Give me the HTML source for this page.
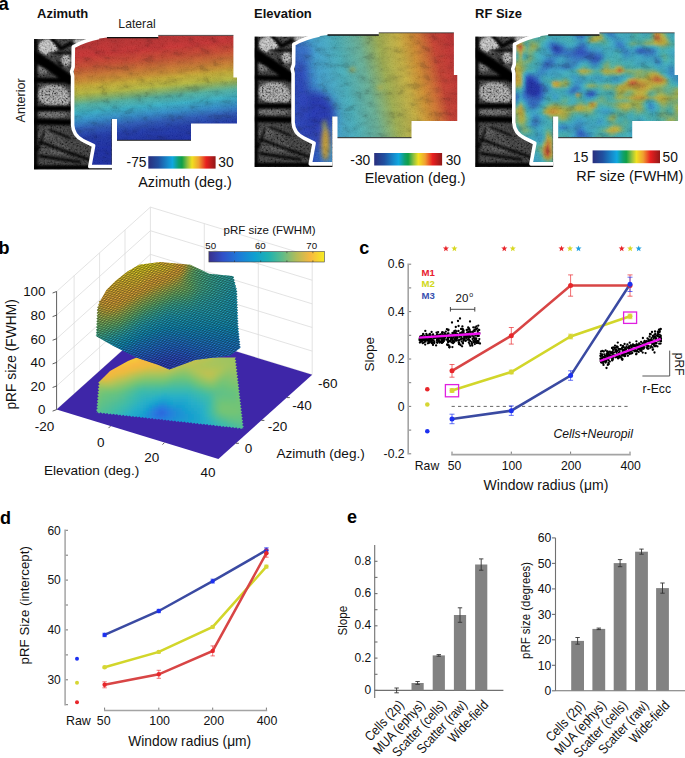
<!DOCTYPE html>
<html><head><meta charset="utf-8"><style>html,body{margin:0;padding:0;background:#fff;width:685px;height:758px;overflow:hidden}svg{display:block}.cells rect{width:3.5px;height:3.5px}</style></head>
<body><svg width="685" height="758" viewBox="0 0 685 758" font-family='"Liberation Sans", sans-serif'><defs><linearGradient id="jet" gradientUnits="objectBoundingBox" x1="0" y1="0" x2="1" y2="0"><stop offset="0.0" stop-color="#2a2f7e"/><stop offset="0.15" stop-color="#2050a0"/><stop offset="0.3" stop-color="#1590d0"/><stop offset="0.36" stop-color="#10a8e0"/><stop offset="0.45" stop-color="#10a070"/><stop offset="0.5" stop-color="#10a048"/><stop offset="0.58" stop-color="#90c040"/><stop offset="0.65" stop-color="#f0e020"/><stop offset="0.75" stop-color="#f0a030"/><stop offset="0.86" stop-color="#e82020"/><stop offset="1.0" stop-color="#901818"/></linearGradient><linearGradient id="parula" gradientUnits="objectBoundingBox" x1="0" y1="0" x2="1" y2="0"><stop offset="0.0" stop-color="#38308c"/><stop offset="0.12" stop-color="#3050c8"/><stop offset="0.25" stop-color="#1f78d8"/><stop offset="0.4" stop-color="#0ea0d0"/><stop offset="0.52" stop-color="#20b2b0"/><stop offset="0.64" stop-color="#60bc88"/><stop offset="0.76" stop-color="#b4bc58"/><stop offset="0.88" stop-color="#f8b840"/><stop offset="1.0" stop-color="#f6ec22"/></linearGradient><clipPath id="cpoly"><polygon points="74.5,47.2 80,44.4 88,41.4 96,39 107,37.6 158.3,37.6 158.3,35.4 233.4,35.4 233.4,77.5 237,77.5 237,123.5 191,123.5 191,140 117,140 117,119 111.5,119 111.5,165.2 91,165.2 94.5,147 88,143.5 80,139 75.5,133 74,126 74,70"/></clipPath><clipPath id="cgray"><rect x="34" y="39" width="78" height="130.5"/></clipPath><filter id="blur2" x="-20%" y="-20%" width="140%" height="140%"><feGaussianBlur stdDeviation="2"/></filter><filter id="blur1" x="-20%" y="-20%" width="140%" height="140%"><feGaussianBlur stdDeviation="1"/></filter><filter id="blur4" x="-30%" y="-30%" width="160%" height="160%"><feGaussianBlur stdDeviation="4"/></filter><filter id="veins" x="0" y="0" width="100%" height="100%"><feTurbulence type="fractalNoise" baseFrequency="0.09 0.14" numOctaves="3" seed="8"/><feColorMatrix type="matrix" values="2.2 0 0 0 -0.6  2.2 0 0 0 -0.6  2.2 0 0 0 -0.6  0 0 0 0 1"/></filter><filter id="noise2" x="0" y="0" width="100%" height="100%"><feTurbulence type="fractalNoise" baseFrequency="0.55" numOctaves="2" seed="5"/><feColorMatrix type="matrix" values="2 0 0 0 -0.5  2 0 0 0 -0.5  2 0 0 0 -0.5  0 0 0 0 1"/><feGaussianBlur stdDeviation="0.35"/></filter><filter id="noise" x="0" y="0" width="100%" height="100%"><feTurbulence type="fractalNoise" baseFrequency="0.8" numOctaves="2" seed="3"/><feColorMatrix type="matrix" values="2 0 0 0 -0.5  2 0 0 0 -0.5  2 0 0 0 -0.5  0 0 0 0 0.16"/></filter><linearGradient id="g_az" gradientUnits="userSpaceOnUse" x1="150" y1="35" x2="160.9" y2="143.9"><stop offset="0" stop-color="#b83030"/><stop offset="0.127" stop-color="#c83232"/><stop offset="0.218" stop-color="#c84a30"/><stop offset="0.3" stop-color="#c87030"/><stop offset="0.36" stop-color="#c88c30"/><stop offset="0.405" stop-color="#c8ac34"/><stop offset="0.473" stop-color="#b4b840"/><stop offset="0.523" stop-color="#80b068"/><stop offset="0.573" stop-color="#50b0a0"/><stop offset="0.645" stop-color="#38b0c8"/><stop offset="0.723" stop-color="#3088c8"/><stop offset="0.79" stop-color="#2a58b8"/><stop offset="0.864" stop-color="#1e38aa"/><stop offset="0.98" stop-color="#1a2ca6"/></linearGradient><linearGradient id="g_el" gradientUnits="userSpaceOnUse" x1="75.5" y1="82.6" x2="229.7" y2="47.9"><stop offset="0" stop-color="#2850c0"/><stop offset="0.15" stop-color="#40a0d0"/><stop offset="0.3" stop-color="#48b0bc"/><stop offset="0.44" stop-color="#68b094"/><stop offset="0.56" stop-color="#a0b050"/><stop offset="0.685" stop-color="#c8b040"/><stop offset="0.765" stop-color="#d09030"/><stop offset="0.83" stop-color="#d07030"/><stop offset="0.9" stop-color="#c84030"/><stop offset="1" stop-color="#c03030"/></linearGradient><clipPath id="cfp"><polygon points="98.2,382.7 104,377 110,371 118,366.4 128,361 136.7,357.5 236,357.5 236.0,357.5 234.6,359.2 236.3,360.5 234.9,362.2 236.7,363.5 235.3,365.2 237.0,366.5 235.6,368.2 237.4,369.5 235.9,371.2 237.7,372.5 236.3,374.2 238.1,375.5 236.6,377.2 238.4,378.5 237.0,380.2 238.7,381.5 237.3,383.1 239.1,384.5 237.7,386.1 239.4,387.5 238.0,389.1 239.8,390.5 238.3,392.1 240.1,393.4 238.7,395.1 240.4,396.4 239.0,398.1 240.8,399.4 239.4,401.1 241.1,402.4 239.7,404.1 241.5,405.4 240.0,407.1 241.8,408.4 240.4,410.1 242.1,411.4 240.7,413.1 242.5,414.4 241.1,416.1 242.8,417.4 241.4,419.1 243.2,420.4 241.8,422.1 243.5,423.4 242.1,425.1 243.9,426.4 242.4,428.1 244.2,429.4 244.2,429.4 242.7,428.0 241.0,429.0 239.5,427.7 237.7,428.7 236.3,427.3 234.5,428.3 233.0,427.0 231.3,428.0 229.8,426.6 228.1,427.6 226.6,426.2 224.8,427.3 223.4,425.9 221.6,426.9 220.1,425.5 218.4,426.5 216.9,425.2 215.2,426.2 213.7,424.8 211.9,425.8 210.5,424.5 208.7,425.5 207.2,424.1 205.5,425.1 204.0,423.8 202.3,424.8 200.8,423.4 199.0,424.4 197.6,423.0 195.8,424.1 194.3,422.7 192.6,423.7 191.1,422.3 189.4,423.3 187.9,422.0 186.1,423.0 184.6,421.6 182.9,422.6 181.4,421.3 179.7,422.3 178.2,420.9 176.5,421.9 175.0,420.5 173.2,421.6 171.7,420.2 170.0,421.2 168.5,419.8 166.8,420.8 165.3,419.5 163.5,420.5 162.1,419.1 160.3,420.1 158.8,418.8 157.1,419.8 155.6,418.4 153.9,419.4 152.4,418.0 150.6,419.1 149.2,417.7 147.4,418.7 145.9,417.3 144.2,418.3 142.7,417.0 141.0,418.0 139.5,416.6 137.7,417.6 136.3,416.3 134.5,417.3 133.0,415.9 131.3,416.9 129.8,415.6 128.1,416.6 126.6,415.2 124.8,416.2 123.4,414.8 121.6,415.9 120.1,414.5 118.4,415.5 116.9,414.1 115.2,415.1 113.7,413.8 111.9,414.8 110.4,413.4 108.7,414.4 107.2,413.1 105.5,414.1 104.0,412.7 102.3,413.7 100.8,412.3 99.0,413.4 97.5,412.0 95.8,413.0 97.5,411.6 96.0,410.0 97.8,408.6 96.3,406.9 98.0,405.6 96.5,403.9 98.2,402.5 96.8,400.9 98.5,399.5 97.0,397.9 98.7,396.5 97.2,394.8 99.0,393.4 97.5,391.8 99.2,390.4 97.7,388.8 99.4,387.4 98.0,385.7 99.7,384.3"/></clipPath><clipPath id="csurf"><polygon points="97.0,336.8 95.7,335.3 97.1,334.0 95.8,332.5 97.2,331.2 95.9,329.7 97.4,328.4 96.0,326.9 97.5,325.6 96.1,324.1 97.6,322.8 96.3,321.3 97.7,319.9 96.4,318.5 97.8,317.1 96.5,315.7 98.0,314.3 96.6,312.9 98.1,311.5 96.7,310.0 98.2,308.7 97.2,307.0 99.0,306.0 98.0,304.2 99.7,303.2 98.8,301.5 100.5,300.5 106.4,290 115.7,280.7 127.4,271.4 139,264.8 160,262 190.4,264.8 209.1,273.7 232.5,276 232.5,276.0 234.0,277.1 233.2,278.8 234.7,279.9 233.9,281.6 235.4,282.7 234.6,284.4 236.1,285.5 235.3,287.2 236.8,288.3 236.0,290.0 237.4,291.3 236.1,292.7 237.5,294.0 236.2,295.4 237.6,296.7 236.3,298.1 237.7,299.4 236.4,300.8 237.8,302.1 236.5,303.5 237.9,304.8 236.6,306.2 238.0,307.5 236.6,308.8 238.1,310.1 236.7,311.5 238.2,312.8 236.8,314.2 238.3,315.5 236.9,316.9 238.4,318.2 237.0,319.6 238.5,320.9 237.1,322.3 238.6,323.6 237.2,325.0 238.7,326.2 237.5,327.6 239.0,328.8 237.7,330.2 239.2,331.4 238.0,332.8 239.5,334.0 238.2,335.4 239.7,336.6 238.5,338.0 240.0,339.2 238.7,340.6 240.3,341.8 239.0,343.2 240.5,344.4 239.2,345.8 240.8,347.0 239.5,348.4 230.2,355.4 195.1,360.1 169.4,369.5 157.7,364.8 136.7,357.8 113.4,346.1"/></clipPath><linearGradient id="g_surf" gradientUnits="userSpaceOnUse" x1="120" y1="275" x2="190" y2="362"><stop offset="0" stop-color="#f8c830"/><stop offset="0.2" stop-color="#e4c838"/><stop offset="0.35" stop-color="#90c050"/><stop offset="0.5" stop-color="#38b888"/><stop offset="0.65" stop-color="#10a8c0"/><stop offset="0.8" stop-color="#1890e0"/><stop offset="1" stop-color="#2868e0"/></linearGradient><pattern id="mesh" patternUnits="userSpaceOnUse" width="10" height="10" patternTransform="matrix(0.1858 -0.1672 0.2391 0.0731 0 0)"><path d="M0,0 L10,0 M0,0 L0,10 M0,10 L10,10 M10,0 L10,10" stroke="#000" stroke-width="2.3" stroke-opacity="0.8"/></pattern></defs><rect width="685" height="758" fill="#fff"/><g transform="translate(0,0)"><g clip-path="url(#cgray)"><rect x="34" y="39" width="78" height="131" fill="#363636"/><g filter="url(#blur1)"><ellipse cx="48" cy="47" rx="9.5" ry="7.5" fill="#a8a8a8"/><ellipse cx="66" cy="60" rx="4.5" ry="6" fill="#8a8a8a"/><ellipse cx="42" cy="69" rx="7" ry="4.5" fill="#5e5e5e"/><ellipse cx="53" cy="95" rx="16" ry="10.5" fill="#7c7c7c"/><ellipse cx="52" cy="114.5" rx="16" ry="3.5" fill="#555"/><ellipse cx="50" cy="142" rx="14" ry="14" fill="#3c3c3c"/><ellipse cx="64" cy="99" rx="6" ry="7" fill="#808080"/><ellipse cx="82" cy="41.5" rx="9" ry="2" fill="#b8b8b8"/><ellipse cx="60" cy="150" rx="10" ry="5" fill="#444"/><ellipse cx="45" cy="135" rx="8" ry="3" fill="#4a4a4a"/></g><g filter="url(#blur1)" stroke="#050505" fill="none" stroke-linecap="round"><path d="M34,56 L50,66 L70,80" stroke-width="10"/><path d="M52,39 L61.3,48.6 L71.5,43" stroke-width="3.5"/><path d="M49,53 L72,53" stroke-width="2.2"/><path d="M34,80 L70,81" stroke-width="5"/><path d="M34,108.5 L72,108.5" stroke-width="5"/><path d="M34,121.5 L74,122.5" stroke-width="6"/><path d="M40,142 L62,150 L90,160" stroke-width="2.5"/><path d="M35.5,40 L35.5,170" stroke-width="4"/><path d="M34,167.5 L112,167.5" stroke-width="4.5"/><path d="M50,130 L70,138" stroke-width="2"/><path d="M40,156 L80,162" stroke-width="2.5"/><path d="M44,132 L38,150" stroke-width="2"/><path d="M58,62 L62,66" stroke-width="2"/></g><rect x="34" y="39" width="78" height="131" filter="url(#noise2)" style="mix-blend-mode:overlay" opacity="0.5"/></g></g>
<g transform="translate(0,0)"><g clip-path="url(#cpoly)"><rect x="60" y="30" width="185" height="140" fill="url(#g_az)"/><rect x="60" y="30" width="185" height="140" filter="url(#veins)" opacity="0.16" style="mix-blend-mode:multiply"/><rect x="60" y="30" width="185" height="140" filter="url(#noise)" opacity="0.35"/></g><path d="M107,37.6 L158.3,37.6" stroke="#111" stroke-width="1.4"/><path d="M158.3,35.4 L233.4,35.4" stroke="#333" stroke-width="0.8"/><path d="M117,140.3 L191,140.3" stroke="#222" stroke-width="1"/><path d="M99,37.6 C91,39 81,42.5 73.3,46.8 L73.1,67 L71.6,71.5 L72.6,76 L72.6,125 C73,132 77,137.5 83,140.5 L93.6,145.7 L89.8,166.5 L112,166.5" stroke="#fff" stroke-width="3.6" fill="none" stroke-linejoin="round"/></g>
<g transform="translate(220.5,-2.6)"><g clip-path="url(#cgray)"><rect x="34" y="39" width="78" height="131" fill="#363636"/><g filter="url(#blur1)"><ellipse cx="48" cy="47" rx="9.5" ry="7.5" fill="#a8a8a8"/><ellipse cx="66" cy="60" rx="4.5" ry="6" fill="#8a8a8a"/><ellipse cx="42" cy="69" rx="7" ry="4.5" fill="#5e5e5e"/><ellipse cx="53" cy="95" rx="16" ry="10.5" fill="#7c7c7c"/><ellipse cx="52" cy="114.5" rx="16" ry="3.5" fill="#555"/><ellipse cx="50" cy="142" rx="14" ry="14" fill="#3c3c3c"/><ellipse cx="64" cy="99" rx="6" ry="7" fill="#808080"/><ellipse cx="82" cy="41.5" rx="9" ry="2" fill="#b8b8b8"/><ellipse cx="60" cy="150" rx="10" ry="5" fill="#444"/><ellipse cx="45" cy="135" rx="8" ry="3" fill="#4a4a4a"/></g><g filter="url(#blur1)" stroke="#050505" fill="none" stroke-linecap="round"><path d="M34,56 L50,66 L70,80" stroke-width="10"/><path d="M52,39 L61.3,48.6 L71.5,43" stroke-width="3.5"/><path d="M49,53 L72,53" stroke-width="2.2"/><path d="M34,80 L70,81" stroke-width="5"/><path d="M34,108.5 L72,108.5" stroke-width="5"/><path d="M34,121.5 L74,122.5" stroke-width="6"/><path d="M40,142 L62,150 L90,160" stroke-width="2.5"/><path d="M35.5,40 L35.5,170" stroke-width="4"/><path d="M34,167.5 L112,167.5" stroke-width="4.5"/><path d="M50,130 L70,138" stroke-width="2"/><path d="M40,156 L80,162" stroke-width="2.5"/><path d="M44,132 L38,150" stroke-width="2"/><path d="M58,62 L62,66" stroke-width="2"/></g><rect x="34" y="39" width="78" height="131" filter="url(#noise2)" style="mix-blend-mode:overlay" opacity="0.5"/></g></g>
<g transform="translate(220.5,-2.6)"><g clip-path="url(#cpoly)"><rect x="60" y="30" width="185" height="140" fill="url(#g_el)"/><g filter="url(#blur4)"><ellipse cx="95" cy="118" rx="20" ry="24" fill="#2434b4"/><ellipse cx="80" cy="108" rx="7" ry="50" fill="#2840b8"/><ellipse cx="100" cy="140" rx="12" ry="12" fill="#2a40b8"/><ellipse cx="82" cy="55" rx="8" ry="8" fill="#3068c4"/></g><g filter="url(#blur2)"><ellipse cx="105" cy="146" rx="4.2" ry="17" fill="#c8a034"/><ellipse cx="104" cy="128" rx="2" ry="6" fill="#a0a848"/><ellipse cx="132" cy="72" rx="3" ry="2" fill="#b0a840"/><ellipse cx="160" cy="90" rx="3" ry="2" fill="#b0a840"/></g><rect x="60" y="30" width="185" height="140" filter="url(#veins)" opacity="0.16" style="mix-blend-mode:multiply"/><rect x="60" y="30" width="185" height="140" filter="url(#noise)" opacity="0.35"/></g><path d="M107,37.6 L158.3,37.6" stroke="#111" stroke-width="1.4"/><path d="M158.3,35.4 L233.4,35.4" stroke="#333" stroke-width="0.8"/><path d="M117,140.3 L191,140.3" stroke="#222" stroke-width="1"/><path d="M99,37.6 C91,39 81,42.5 73.3,46.8 L73.1,67 L71.6,71.5 L72.6,76 L72.6,125 C73,132 77,137.5 83,140.5 L93.6,145.7 L89.8,166.5 L112,166.5" stroke="#fff" stroke-width="3.6" fill="none" stroke-linejoin="round"/></g>
<g transform="translate(441.2,-2.6)"><g clip-path="url(#cgray)"><rect x="34" y="39" width="78" height="131" fill="#363636"/><g filter="url(#blur1)"><ellipse cx="48" cy="47" rx="9.5" ry="7.5" fill="#a8a8a8"/><ellipse cx="66" cy="60" rx="4.5" ry="6" fill="#8a8a8a"/><ellipse cx="42" cy="69" rx="7" ry="4.5" fill="#5e5e5e"/><ellipse cx="53" cy="95" rx="16" ry="10.5" fill="#7c7c7c"/><ellipse cx="52" cy="114.5" rx="16" ry="3.5" fill="#555"/><ellipse cx="50" cy="142" rx="14" ry="14" fill="#3c3c3c"/><ellipse cx="64" cy="99" rx="6" ry="7" fill="#808080"/><ellipse cx="82" cy="41.5" rx="9" ry="2" fill="#b8b8b8"/><ellipse cx="60" cy="150" rx="10" ry="5" fill="#444"/><ellipse cx="45" cy="135" rx="8" ry="3" fill="#4a4a4a"/></g><g filter="url(#blur1)" stroke="#050505" fill="none" stroke-linecap="round"><path d="M34,56 L50,66 L70,80" stroke-width="10"/><path d="M52,39 L61.3,48.6 L71.5,43" stroke-width="3.5"/><path d="M49,53 L72,53" stroke-width="2.2"/><path d="M34,80 L70,81" stroke-width="5"/><path d="M34,108.5 L72,108.5" stroke-width="5"/><path d="M34,121.5 L74,122.5" stroke-width="6"/><path d="M40,142 L62,150 L90,160" stroke-width="2.5"/><path d="M35.5,40 L35.5,170" stroke-width="4"/><path d="M34,167.5 L112,167.5" stroke-width="4.5"/><path d="M50,130 L70,138" stroke-width="2"/><path d="M40,156 L80,162" stroke-width="2.5"/><path d="M44,132 L38,150" stroke-width="2"/><path d="M58,62 L62,66" stroke-width="2"/></g><rect x="34" y="39" width="78" height="131" filter="url(#noise2)" style="mix-blend-mode:overlay" opacity="0.5"/></g></g>
<g transform="translate(441.2,-2.6)"><g clip-path="url(#cpoly)"><rect x="60" y="30" width="185" height="140" fill="#44a8c4"/><g filter="url(#blur1)" class="cells"><rect x="72" y="33" fill="#c5ac36"/><rect x="75" y="33" fill="#c6a735"/><rect x="78" y="33" fill="#c5aa36"/><rect x="81" y="33" fill="#a7b348"/><rect x="84" y="33" fill="#4fb0a0"/><rect x="87" y="33" fill="#42b0b9"/><rect x="90" y="33" fill="#3eadc1"/><rect x="93" y="33" fill="#3ba7c4"/><rect x="96" y="33" fill="#3ba7c4"/><rect x="99" y="33" fill="#40b0bd"/><rect x="102" y="33" fill="#46b0ab"/><rect x="105" y="33" fill="#46b0ab"/><rect x="108" y="33" fill="#42b0b8"/><rect x="111" y="33" fill="#3dabc2"/><rect x="114" y="33" fill="#3ba6c4"/><rect x="117" y="33" fill="#3aa5c5"/><rect x="120" y="33" fill="#3ca9c3"/><rect x="123" y="33" fill="#3eadc1"/><rect x="126" y="33" fill="#3ca9c3"/><rect x="129" y="33" fill="#379dc7"/><rect x="132" y="33" fill="#3281c5"/><rect x="135" y="33" fill="#3072c4"/><rect x="138" y="33" fill="#3176c4"/><rect x="141" y="33" fill="#358fc6"/><rect x="144" y="33" fill="#3aa4c5"/><rect x="147" y="33" fill="#3dabc2"/><rect x="150" y="33" fill="#3faec0"/><rect x="153" y="33" fill="#40b0be"/><rect x="156" y="33" fill="#3eacc1"/><rect x="159" y="33" fill="#39a2c6"/><rect x="162" y="33" fill="#348dc6"/><rect x="165" y="33" fill="#327cc5"/><rect x="168" y="33" fill="#317ac4"/><rect x="171" y="33" fill="#3592c6"/><rect x="174" y="33" fill="#3ca8c3"/><rect x="177" y="33" fill="#41b0bb"/><rect x="180" y="33" fill="#41b0bc"/><rect x="183" y="33" fill="#3dabc2"/><rect x="186" y="33" fill="#3daac2"/><rect x="189" y="33" fill="#42b0b8"/><rect x="192" y="33" fill="#50b09f"/><rect x="195" y="33" fill="#49b0a6"/><rect x="198" y="33" fill="#40b0bd"/><rect x="201" y="33" fill="#3ba7c4"/><rect x="204" y="33" fill="#3ca9c3"/><rect x="207" y="33" fill="#42b0b9"/><rect x="210" y="33" fill="#5eb091"/><rect x="213" y="33" fill="#bcb13c"/><rect x="216" y="33" fill="#c4ad37"/><rect x="219" y="33" fill="#9bb354"/><rect x="222" y="33" fill="#5fb090"/><rect x="225" y="33" fill="#44b0b1"/><rect x="228" y="33" fill="#40b0bf"/><rect x="231" y="33" fill="#3faec0"/><rect x="234" y="33" fill="#3eadc1"/><rect x="237" y="33" fill="#3aa4c5"/><rect x="240" y="33" fill="#348ac6"/><rect x="72" y="36" fill="#c6a735"/><rect x="75" y="36" fill="#c6a635"/><rect x="78" y="36" fill="#c4af37"/><rect x="81" y="36" fill="#a1b34e"/><rect x="84" y="36" fill="#5eb091"/><rect x="87" y="36" fill="#46b0ad"/><rect x="90" y="36" fill="#43b0b5"/><rect x="93" y="36" fill="#40b0be"/><rect x="96" y="36" fill="#41b0bc"/><rect x="99" y="36" fill="#46b0ad"/><rect x="102" y="36" fill="#51b09e"/><rect x="105" y="36" fill="#46b0ad"/><rect x="108" y="36" fill="#41b0bb"/><rect x="111" y="36" fill="#3faec0"/><rect x="114" y="36" fill="#3dabc2"/><rect x="117" y="36" fill="#3dabc2"/><rect x="120" y="36" fill="#3faec0"/><rect x="123" y="36" fill="#41b0ba"/><rect x="126" y="36" fill="#40b0be"/><rect x="129" y="36" fill="#3ba6c4"/><rect x="132" y="36" fill="#358fc6"/><rect x="135" y="36" fill="#3071c4"/><rect x="138" y="36" fill="#2e68c2"/><rect x="141" y="36" fill="#317bc4"/><rect x="144" y="36" fill="#39a3c6"/><rect x="147" y="36" fill="#42b0b8"/><rect x="150" y="36" fill="#55b09a"/><rect x="153" y="36" fill="#8cb263"/><rect x="156" y="36" fill="#aab346"/><rect x="159" y="36" fill="#77b078"/><rect x="162" y="36" fill="#40b0bd"/><rect x="165" y="36" fill="#3697c7"/><rect x="168" y="36" fill="#3280c5"/><rect x="171" y="36" fill="#3489c6"/><rect x="174" y="36" fill="#38a1c7"/><rect x="177" y="36" fill="#3eacc1"/><rect x="180" y="36" fill="#3fafc0"/><rect x="183" y="36" fill="#3eacc1"/><rect x="186" y="36" fill="#3eacc1"/><rect x="189" y="36" fill="#42b0b8"/><rect x="192" y="36" fill="#47b0a8"/><rect x="195" y="36" fill="#47b0a9"/><rect x="198" y="36" fill="#42b0b8"/><rect x="201" y="36" fill="#3faec0"/><rect x="204" y="36" fill="#40b0bd"/><rect x="207" y="36" fill="#45b0b0"/><rect x="210" y="36" fill="#71b07e"/><rect x="213" y="36" fill="#ca8430"/><rect x="216" y="36" fill="#ca7d30"/><rect x="219" y="36" fill="#b3b241"/><rect x="222" y="36" fill="#81b16e"/><rect x="225" y="36" fill="#47b0aa"/><rect x="228" y="36" fill="#40b0bf"/><rect x="231" y="36" fill="#3faec0"/><rect x="234" y="36" fill="#40b0bf"/><rect x="237" y="36" fill="#3ca9c3"/><rect x="240" y="36" fill="#379bc7"/><rect x="72" y="39" fill="#c5ac36"/><rect x="75" y="39" fill="#c5ab36"/><rect x="78" y="39" fill="#bbb13c"/><rect x="81" y="39" fill="#91b25e"/><rect x="84" y="39" fill="#66b089"/><rect x="87" y="39" fill="#58b097"/><rect x="90" y="39" fill="#4bb0a4"/><rect x="93" y="39" fill="#46b0ad"/><rect x="96" y="39" fill="#47b0aa"/><rect x="99" y="39" fill="#5ab095"/><rect x="102" y="39" fill="#54b09b"/><rect x="105" y="39" fill="#43b0b5"/><rect x="108" y="39" fill="#3eadc1"/><rect x="111" y="39" fill="#3eacc1"/><rect x="114" y="39" fill="#3fafc0"/><rect x="117" y="39" fill="#40b0bf"/><rect x="120" y="39" fill="#41b0bb"/><rect x="123" y="39" fill="#43b0b5"/><rect x="126" y="39" fill="#43b0b6"/><rect x="129" y="39" fill="#3fafc0"/><rect x="132" y="39" fill="#3aa4c5"/><rect x="135" y="39" fill="#348ac6"/><rect x="138" y="39" fill="#3178c4"/><rect x="141" y="39" fill="#348bc6"/><rect x="144" y="39" fill="#3faec0"/><rect x="147" y="39" fill="#6bb084"/><rect x="150" y="39" fill="#a9b346"/><rect x="153" y="39" fill="#bbb13c"/><rect x="156" y="39" fill="#bfb03a"/><rect x="159" y="39" fill="#a6b349"/><rect x="162" y="39" fill="#50b09f"/><rect x="165" y="39" fill="#3dabc2"/><rect x="168" y="39" fill="#3699c7"/><rect x="171" y="39" fill="#3590c6"/><rect x="174" y="39" fill="#379ac7"/><rect x="177" y="39" fill="#3aa4c5"/><rect x="180" y="39" fill="#3ca9c3"/><rect x="183" y="39" fill="#3ca9c3"/><rect x="186" y="39" fill="#3eacc1"/><rect x="189" y="39" fill="#42b0b9"/><rect x="192" y="39" fill="#45b0ae"/><rect x="195" y="39" fill="#45b0ae"/><rect x="198" y="39" fill="#43b0b4"/><rect x="201" y="39" fill="#43b0b5"/><rect x="204" y="39" fill="#45b0ae"/><rect x="207" y="39" fill="#49b0a6"/><rect x="210" y="39" fill="#79b076"/><rect x="213" y="39" fill="#c97030"/><rect x="216" y="39" fill="#c86330"/><rect x="219" y="39" fill="#c5aa36"/><rect x="222" y="39" fill="#b1b242"/><rect x="225" y="39" fill="#62b08d"/><rect x="228" y="39" fill="#41b0bb"/><rect x="231" y="39" fill="#3fafc0"/><rect x="234" y="39" fill="#41b0bc"/><rect x="237" y="39" fill="#3eadc1"/><rect x="240" y="39" fill="#3aa5c5"/><rect x="72" y="42" fill="#b4b240"/><rect x="75" y="42" fill="#bcb13c"/><rect x="78" y="42" fill="#b0b242"/><rect x="81" y="42" fill="#72b07d"/><rect x="84" y="42" fill="#5cb093"/><rect x="87" y="42" fill="#68b087"/><rect x="90" y="42" fill="#69b086"/><rect x="93" y="42" fill="#5ab095"/><rect x="96" y="42" fill="#55b09a"/><rect x="99" y="42" fill="#4eb0a1"/><rect x="102" y="42" fill="#44b0b3"/><rect x="105" y="42" fill="#3daac2"/><rect x="108" y="42" fill="#38a0c7"/><rect x="111" y="42" fill="#379fc7"/><rect x="114" y="42" fill="#3ba6c4"/><rect x="117" y="42" fill="#3eacc1"/><rect x="120" y="42" fill="#3faec0"/><rect x="123" y="42" fill="#41b0bc"/><rect x="126" y="42" fill="#42b0b7"/><rect x="129" y="42" fill="#41b0bb"/><rect x="132" y="42" fill="#3dabc2"/><rect x="135" y="42" fill="#39a2c6"/><rect x="138" y="42" fill="#3697c7"/><rect x="141" y="42" fill="#38a1c7"/><rect x="144" y="42" fill="#43b0b5"/><rect x="147" y="42" fill="#83b16c"/><rect x="150" y="42" fill="#adb344"/><rect x="153" y="42" fill="#a9b347"/><rect x="156" y="42" fill="#8ab165"/><rect x="159" y="42" fill="#70b07f"/><rect x="162" y="42" fill="#5db092"/><rect x="165" y="42" fill="#44b0b1"/><rect x="168" y="42" fill="#3daac2"/><rect x="171" y="42" fill="#38a0c7"/><rect x="174" y="42" fill="#3593c6"/><rect x="177" y="42" fill="#3593c6"/><rect x="180" y="42" fill="#38a0c7"/><rect x="183" y="42" fill="#3ca8c3"/><rect x="186" y="42" fill="#41b0ba"/><rect x="189" y="42" fill="#47b0aa"/><rect x="192" y="42" fill="#50b09f"/><rect x="195" y="42" fill="#48b0a7"/><rect x="198" y="42" fill="#47b0a9"/><rect x="201" y="42" fill="#55b09a"/><rect x="204" y="42" fill="#6bb084"/><rect x="207" y="42" fill="#74b07b"/><rect x="210" y="42" fill="#8eb261"/><rect x="213" y="42" fill="#c89e33"/><rect x="216" y="42" fill="#cb8e30"/><rect x="219" y="42" fill="#c7a234"/><rect x="222" y="42" fill="#c4af37"/><rect x="225" y="42" fill="#89b166"/><rect x="228" y="42" fill="#46b0ac"/><rect x="231" y="42" fill="#42b0b7"/><rect x="234" y="42" fill="#42b0b7"/><rect x="237" y="42" fill="#40b0bd"/><rect x="240" y="42" fill="#3eadc1"/><rect x="72" y="45" fill="#a3b34c"/><rect x="75" y="45" fill="#c5ac36"/><rect x="78" y="45" fill="#c7a534"/><rect x="81" y="45" fill="#6bb084"/><rect x="84" y="45" fill="#4cb0a3"/><rect x="87" y="45" fill="#71b07e"/><rect x="90" y="45" fill="#8cb263"/><rect x="93" y="45" fill="#81b16e"/><rect x="96" y="45" fill="#64b08b"/><rect x="99" y="45" fill="#45b0af"/><rect x="102" y="45" fill="#3dabc2"/><rect x="105" y="45" fill="#379bc7"/><rect x="108" y="45" fill="#327fc5"/><rect x="111" y="45" fill="#2f6fc3"/><rect x="114" y="45" fill="#3179c4"/><rect x="117" y="45" fill="#3590c6"/><rect x="120" y="45" fill="#38a0c7"/><rect x="123" y="45" fill="#3ca9c3"/><rect x="126" y="45" fill="#3fafc0"/><rect x="129" y="45" fill="#3fafc0"/><rect x="132" y="45" fill="#3ba7c4"/><rect x="135" y="45" fill="#3698c7"/><rect x="138" y="45" fill="#3280c5"/><rect x="141" y="45" fill="#327ec5"/><rect x="144" y="45" fill="#379dc7"/><rect x="147" y="45" fill="#40b0bf"/><rect x="150" y="45" fill="#46b0ad"/><rect x="153" y="45" fill="#46b0ab"/><rect x="156" y="45" fill="#45b0ae"/><rect x="159" y="45" fill="#47b0aa"/><rect x="162" y="45" fill="#4db0a2"/><rect x="165" y="45" fill="#45b0af"/><rect x="168" y="45" fill="#3faec0"/><rect x="171" y="45" fill="#39a2c6"/><rect x="174" y="45" fill="#3386c5"/><rect x="177" y="45" fill="#3176c4"/><rect x="180" y="45" fill="#3489c6"/><rect x="183" y="45" fill="#3ca8c3"/><rect x="186" y="45" fill="#46b0ab"/><rect x="189" y="45" fill="#6db082"/><rect x="192" y="45" fill="#6eb081"/><rect x="195" y="45" fill="#58b097"/><rect x="198" y="45" fill="#55b09a"/><rect x="201" y="45" fill="#6db082"/><rect x="204" y="45" fill="#89b166"/><rect x="207" y="45" fill="#8eb261"/><rect x="210" y="45" fill="#96b259"/><rect x="213" y="45" fill="#b4b240"/><rect x="216" y="45" fill="#c4af37"/><rect x="219" y="45" fill="#c4af37"/><rect x="222" y="45" fill="#b7b13e"/><rect x="225" y="45" fill="#8db262"/><rect x="228" y="45" fill="#5cb093"/><rect x="231" y="45" fill="#47b0a8"/><rect x="234" y="45" fill="#45b0b0"/><rect x="237" y="45" fill="#43b0b6"/><rect x="240" y="45" fill="#42b0b8"/><rect x="72" y="48" fill="#8db262"/><rect x="75" y="48" fill="#c97630"/><rect x="78" y="48" fill="#c83b30"/><rect x="81" y="48" fill="#adb345"/><rect x="84" y="48" fill="#56b099"/><rect x="87" y="48" fill="#7bb074"/><rect x="90" y="48" fill="#a0b34f"/><rect x="93" y="48" fill="#97b258"/><rect x="96" y="48" fill="#66b089"/><rect x="99" y="48" fill="#43b0b6"/><rect x="102" y="48" fill="#3ba6c4"/><rect x="105" y="48" fill="#3695c7"/><rect x="108" y="48" fill="#3071c4"/><rect x="111" y="48" fill="#2a4dbd"/><rect x="114" y="48" fill="#2845b9"/><rect x="117" y="48" fill="#2c59bf"/><rect x="120" y="48" fill="#3176c4"/><rect x="123" y="48" fill="#3694c7"/><rect x="126" y="48" fill="#3aa4c5"/><rect x="129" y="48" fill="#39a3c6"/><rect x="132" y="48" fill="#3593c6"/><rect x="135" y="48" fill="#3178c4"/><rect x="138" y="48" fill="#2e65c1"/><rect x="141" y="48" fill="#2f69c2"/><rect x="144" y="48" fill="#3385c5"/><rect x="147" y="48" fill="#38a1c7"/><rect x="150" y="48" fill="#3ca8c3"/><rect x="153" y="48" fill="#3daac2"/><rect x="156" y="48" fill="#3ca9c3"/><rect x="159" y="48" fill="#3faec0"/><rect x="162" y="48" fill="#42b0b9"/><rect x="165" y="48" fill="#40b0bd"/><rect x="168" y="48" fill="#3dabc2"/><rect x="171" y="48" fill="#39a3c6"/><rect x="174" y="48" fill="#358fc6"/><rect x="177" y="48" fill="#317ac4"/><rect x="180" y="48" fill="#327ec5"/><rect x="183" y="48" fill="#379cc7"/><rect x="186" y="48" fill="#3faec0"/><rect x="189" y="48" fill="#43b0b4"/><rect x="192" y="48" fill="#40b0bf"/><rect x="195" y="48" fill="#39a3c6"/><rect x="198" y="48" fill="#379cc7"/><rect x="201" y="48" fill="#3aa5c5"/><rect x="204" y="48" fill="#3eacc1"/><rect x="207" y="48" fill="#3eadc1"/><rect x="210" y="48" fill="#3fafc0"/><rect x="213" y="48" fill="#44b0b3"/><rect x="216" y="48" fill="#56b099"/><rect x="219" y="48" fill="#6cb083"/><rect x="222" y="48" fill="#66b089"/><rect x="225" y="48" fill="#4fb0a0"/><rect x="228" y="48" fill="#46b0ab"/><rect x="231" y="48" fill="#45b0b0"/><rect x="234" y="48" fill="#42b0b9"/><rect x="237" y="48" fill="#41b0bc"/><rect x="240" y="48" fill="#42b0b9"/><rect x="72" y="51" fill="#46b0ad"/><rect x="75" y="51" fill="#bdb03b"/><rect x="78" y="51" fill="#c97530"/><rect x="81" y="51" fill="#98b257"/><rect x="84" y="51" fill="#6cb083"/><rect x="87" y="51" fill="#83b16c"/><rect x="90" y="51" fill="#89b166"/><rect x="93" y="51" fill="#6fb080"/><rect x="96" y="51" fill="#46b0ab"/><rect x="99" y="51" fill="#3faec0"/><rect x="102" y="51" fill="#3ba6c4"/><rect x="105" y="51" fill="#38a0c7"/><rect x="108" y="51" fill="#327fc5"/><rect x="111" y="51" fill="#2b4fbd"/><rect x="114" y="51" fill="#233bb2"/><rect x="117" y="51" fill="#2946ba"/><rect x="120" y="51" fill="#2d62c1"/><rect x="123" y="51" fill="#3177c4"/><rect x="126" y="51" fill="#3383c5"/><rect x="129" y="51" fill="#3280c5"/><rect x="132" y="51" fill="#2f6dc3"/><rect x="135" y="51" fill="#2c58bf"/><rect x="138" y="51" fill="#2b50bd"/><rect x="141" y="51" fill="#2d5dc0"/><rect x="144" y="51" fill="#3177c4"/><rect x="147" y="51" fill="#348bc6"/><rect x="150" y="51" fill="#3696c7"/><rect x="153" y="51" fill="#379ac7"/><rect x="156" y="51" fill="#379bc7"/><rect x="159" y="51" fill="#39a3c6"/><rect x="162" y="51" fill="#3dabc2"/><rect x="165" y="51" fill="#3eadc1"/><rect x="168" y="51" fill="#3daac2"/><rect x="171" y="51" fill="#3daac2"/><rect x="174" y="51" fill="#3ca8c3"/><rect x="177" y="51" fill="#38a0c7"/><rect x="180" y="51" fill="#3489c6"/><rect x="183" y="51" fill="#3385c5"/><rect x="186" y="51" fill="#3699c7"/><rect x="189" y="51" fill="#39a2c6"/><rect x="192" y="51" fill="#3592c6"/><rect x="195" y="51" fill="#2f6bc3"/><rect x="198" y="51" fill="#2c5abf"/><rect x="201" y="51" fill="#2e65c1"/><rect x="204" y="51" fill="#3075c4"/><rect x="207" y="51" fill="#3179c4"/><rect x="210" y="51" fill="#327ec5"/><rect x="213" y="51" fill="#3698c7"/><rect x="216" y="51" fill="#3eadc1"/><rect x="219" y="51" fill="#44b0b2"/><rect x="222" y="51" fill="#44b0b2"/><rect x="225" y="51" fill="#41b0ba"/><rect x="228" y="51" fill="#3fafc0"/><rect x="231" y="51" fill="#3dabc2"/><rect x="234" y="51" fill="#3ba6c4"/><rect x="237" y="51" fill="#3aa5c5"/><rect x="240" y="51" fill="#3ba6c4"/><rect x="72" y="54" fill="#3daac2"/><rect x="75" y="54" fill="#67b088"/><rect x="78" y="54" fill="#c6a835"/><rect x="81" y="54" fill="#66b089"/><rect x="84" y="54" fill="#64b08b"/><rect x="87" y="54" fill="#79b076"/><rect x="90" y="54" fill="#64b08b"/><rect x="93" y="54" fill="#47b0aa"/><rect x="96" y="54" fill="#41b0bb"/><rect x="99" y="54" fill="#3ca9c3"/><rect x="102" y="54" fill="#3aa4c5"/><rect x="105" y="54" fill="#39a3c6"/><rect x="108" y="54" fill="#3593c6"/><rect x="111" y="54" fill="#2f6bc3"/><rect x="114" y="54" fill="#2c55be"/><rect x="117" y="54" fill="#2d5cc0"/><rect x="120" y="54" fill="#2f6bc3"/><rect x="123" y="54" fill="#3070c4"/><rect x="126" y="54" fill="#2f6fc3"/><rect x="129" y="54" fill="#2f6bc3"/><rect x="132" y="54" fill="#2d5ec0"/><rect x="135" y="54" fill="#2b4fbd"/><rect x="138" y="54" fill="#2a4abc"/><rect x="141" y="54" fill="#2b52be"/><rect x="144" y="54" fill="#2d5ec0"/><rect x="147" y="54" fill="#2f69c2"/><rect x="150" y="54" fill="#3176c4"/><rect x="153" y="54" fill="#3280c5"/><rect x="156" y="54" fill="#3383c5"/><rect x="159" y="54" fill="#3694c7"/><rect x="162" y="54" fill="#3ca8c3"/><rect x="165" y="54" fill="#3faec0"/><rect x="168" y="54" fill="#3eadc1"/><rect x="171" y="54" fill="#40b0be"/><rect x="174" y="54" fill="#41b0ba"/><rect x="177" y="54" fill="#3dabc2"/><rect x="180" y="54" fill="#3696c7"/><rect x="183" y="54" fill="#3382c5"/><rect x="186" y="54" fill="#348cc6"/><rect x="189" y="54" fill="#379cc7"/><rect x="192" y="54" fill="#3695c7"/><rect x="195" y="54" fill="#327ec5"/><rect x="198" y="54" fill="#2f6ec3"/><rect x="201" y="54" fill="#2f6ec3"/><rect x="204" y="54" fill="#3071c4"/><rect x="207" y="54" fill="#3073c4"/><rect x="210" y="54" fill="#3179c4"/><rect x="213" y="54" fill="#3590c6"/><rect x="216" y="54" fill="#3dabc2"/><rect x="219" y="54" fill="#45b0b0"/><rect x="222" y="54" fill="#45b0ae"/><rect x="225" y="54" fill="#41b0bb"/><rect x="228" y="54" fill="#3daac2"/><rect x="231" y="54" fill="#3aa4c5"/><rect x="234" y="54" fill="#379fc7"/><rect x="237" y="54" fill="#3694c7"/><rect x="240" y="54" fill="#358ec6"/><rect x="72" y="57" fill="#3ca9c3"/><rect x="75" y="57" fill="#50b09f"/><rect x="78" y="57" fill="#aab346"/><rect x="81" y="57" fill="#44b0b3"/><rect x="84" y="57" fill="#46b0ac"/><rect x="87" y="57" fill="#71b07e"/><rect x="90" y="57" fill="#5bb094"/><rect x="93" y="57" fill="#45b0af"/><rect x="96" y="57" fill="#40b0be"/><rect x="99" y="57" fill="#3ca8c3"/><rect x="102" y="57" fill="#39a2c6"/><rect x="105" y="57" fill="#379dc7"/><rect x="108" y="57" fill="#3592c6"/><rect x="111" y="57" fill="#3383c5"/><rect x="114" y="57" fill="#327cc5"/><rect x="117" y="57" fill="#3384c5"/><rect x="120" y="57" fill="#3489c6"/><rect x="123" y="57" fill="#3280c5"/><rect x="126" y="57" fill="#3176c4"/><rect x="129" y="57" fill="#3070c4"/><rect x="132" y="57" fill="#2e68c2"/><rect x="135" y="57" fill="#2d61c1"/><rect x="138" y="57" fill="#2d5fc0"/><rect x="141" y="57" fill="#2d5cc0"/><rect x="144" y="57" fill="#2c58bf"/><rect x="147" y="57" fill="#2c58bf"/><rect x="150" y="57" fill="#2d5ec0"/><rect x="153" y="57" fill="#2d61c1"/><rect x="156" y="57" fill="#2e64c1"/><rect x="159" y="57" fill="#3179c4"/><rect x="162" y="57" fill="#39a2c6"/><rect x="165" y="57" fill="#3faec0"/><rect x="168" y="57" fill="#3fafc0"/><rect x="171" y="57" fill="#41b0ba"/><rect x="174" y="57" fill="#43b0b4"/><rect x="177" y="57" fill="#40b0bf"/><rect x="180" y="57" fill="#39a3c6"/><rect x="183" y="57" fill="#3592c6"/><rect x="186" y="57" fill="#3698c7"/><rect x="189" y="57" fill="#39a3c6"/><rect x="192" y="57" fill="#3aa5c5"/><rect x="195" y="57" fill="#39a3c6"/><rect x="198" y="57" fill="#38a0c7"/><rect x="201" y="57" fill="#3695c7"/><rect x="204" y="57" fill="#348dc6"/><rect x="207" y="57" fill="#358fc6"/><rect x="210" y="57" fill="#3590c6"/><rect x="213" y="57" fill="#3697c7"/><rect x="216" y="57" fill="#3ca8c3"/><rect x="219" y="57" fill="#46b0ad"/><rect x="222" y="57" fill="#5ab095"/><rect x="225" y="57" fill="#45b0ae"/><rect x="228" y="57" fill="#3faec0"/><rect x="231" y="57" fill="#3ca8c3"/><rect x="234" y="57" fill="#3aa5c5"/><rect x="237" y="57" fill="#379dc7"/><rect x="240" y="57" fill="#348cc6"/><rect x="72" y="60" fill="#44b0b3"/><rect x="75" y="60" fill="#63b08c"/><rect x="78" y="60" fill="#96b259"/><rect x="81" y="60" fill="#49b0a6"/><rect x="84" y="60" fill="#5ab095"/><rect x="87" y="60" fill="#81b16e"/><rect x="90" y="60" fill="#60b08f"/><rect x="93" y="60" fill="#45b0af"/><rect x="96" y="60" fill="#40b0be"/><rect x="99" y="60" fill="#3ba7c4"/><rect x="102" y="60" fill="#379ac7"/><rect x="105" y="60" fill="#3387c5"/><rect x="108" y="60" fill="#3280c5"/><rect x="111" y="60" fill="#3387c5"/><rect x="114" y="60" fill="#3696c7"/><rect x="117" y="60" fill="#38a1c7"/><rect x="120" y="60" fill="#38a1c7"/><rect x="123" y="60" fill="#3694c7"/><rect x="126" y="60" fill="#3488c6"/><rect x="129" y="60" fill="#3281c5"/><rect x="132" y="60" fill="#3178c4"/><rect x="135" y="60" fill="#3075c4"/><rect x="138" y="60" fill="#317ac4"/><rect x="141" y="60" fill="#3178c4"/><rect x="144" y="60" fill="#2f6ec3"/><rect x="147" y="60" fill="#2e64c1"/><rect x="150" y="60" fill="#2c59bf"/><rect x="153" y="60" fill="#2b53be"/><rect x="156" y="60" fill="#2c59bf"/><rect x="159" y="60" fill="#317ac4"/><rect x="162" y="60" fill="#3ba7c4"/><rect x="165" y="60" fill="#43b0b6"/><rect x="168" y="60" fill="#43b0b6"/><rect x="171" y="60" fill="#43b0b6"/><rect x="174" y="60" fill="#44b0b2"/><rect x="177" y="60" fill="#42b0b8"/><rect x="180" y="60" fill="#3eacc1"/><rect x="183" y="60" fill="#3ba6c4"/><rect x="186" y="60" fill="#3ca8c3"/><rect x="189" y="60" fill="#3dabc2"/><rect x="192" y="60" fill="#3daac2"/><rect x="195" y="60" fill="#3ca9c3"/><rect x="198" y="60" fill="#3ca8c3"/><rect x="201" y="60" fill="#3aa4c5"/><rect x="204" y="60" fill="#39a2c6"/><rect x="207" y="60" fill="#39a3c6"/><rect x="210" y="60" fill="#38a0c7"/><rect x="213" y="60" fill="#358ec6"/><rect x="216" y="60" fill="#358fc6"/><rect x="219" y="60" fill="#3faec0"/><rect x="222" y="60" fill="#58b097"/><rect x="225" y="60" fill="#47b0a8"/><rect x="228" y="60" fill="#40b0bd"/><rect x="231" y="60" fill="#3faec0"/><rect x="234" y="60" fill="#40b0be"/><rect x="237" y="60" fill="#3dabc2"/><rect x="240" y="60" fill="#39a3c6"/><rect x="72" y="63" fill="#6eb081"/><rect x="75" y="63" fill="#89b166"/><rect x="78" y="63" fill="#9db352"/><rect x="81" y="63" fill="#7db072"/><rect x="84" y="63" fill="#7ab075"/><rect x="87" y="63" fill="#6db082"/><rect x="90" y="63" fill="#47b0a8"/><rect x="93" y="63" fill="#43b0b6"/><rect x="96" y="63" fill="#3eadc1"/><rect x="99" y="63" fill="#38a1c7"/><rect x="102" y="63" fill="#327fc5"/><rect x="105" y="63" fill="#2f6cc3"/><rect x="108" y="63" fill="#2f6dc3"/><rect x="111" y="63" fill="#3280c5"/><rect x="114" y="63" fill="#379bc7"/><rect x="117" y="63" fill="#39a3c6"/><rect x="120" y="63" fill="#38a0c7"/><rect x="123" y="63" fill="#3593c6"/><rect x="126" y="63" fill="#348dc6"/><rect x="129" y="63" fill="#3489c6"/><rect x="132" y="63" fill="#3281c5"/><rect x="135" y="63" fill="#3384c5"/><rect x="138" y="63" fill="#3696c7"/><rect x="141" y="63" fill="#38a1c7"/><rect x="144" y="63" fill="#379ec7"/><rect x="147" y="63" fill="#3387c5"/><rect x="150" y="63" fill="#2f6bc3"/><rect x="153" y="63" fill="#2e63c1"/><rect x="156" y="63" fill="#3178c4"/><rect x="159" y="63" fill="#3aa4c5"/><rect x="162" y="63" fill="#45b0ae"/><rect x="165" y="63" fill="#5fb090"/><rect x="168" y="63" fill="#4bb0a4"/><rect x="171" y="63" fill="#46b0ad"/><rect x="174" y="63" fill="#46b0ab"/><rect x="177" y="63" fill="#45b0ae"/><rect x="180" y="63" fill="#42b0b9"/><rect x="183" y="63" fill="#40b0be"/><rect x="186" y="63" fill="#41b0bb"/><rect x="189" y="63" fill="#41b0bb"/><rect x="192" y="63" fill="#3eadc1"/><rect x="195" y="63" fill="#3ca8c3"/><rect x="198" y="63" fill="#3ba7c4"/><rect x="201" y="63" fill="#3ba6c4"/><rect x="204" y="63" fill="#3ba7c4"/><rect x="207" y="63" fill="#3ca8c3"/><rect x="210" y="63" fill="#3aa4c5"/><rect x="213" y="63" fill="#358fc6"/><rect x="216" y="63" fill="#3280c5"/><rect x="219" y="63" fill="#39a3c6"/><rect x="222" y="63" fill="#44b0b1"/><rect x="225" y="63" fill="#44b0b3"/><rect x="228" y="63" fill="#3eacc1"/><rect x="231" y="63" fill="#3eadc1"/><rect x="234" y="63" fill="#43b0b6"/><rect x="237" y="63" fill="#42b0b8"/><rect x="240" y="63" fill="#3faec0"/><rect x="72" y="66" fill="#b0b243"/><rect x="75" y="66" fill="#abb345"/><rect x="78" y="66" fill="#9cb353"/><rect x="81" y="66" fill="#79b076"/><rect x="84" y="66" fill="#5eb091"/><rect x="87" y="66" fill="#47b0aa"/><rect x="90" y="66" fill="#43b0b6"/><rect x="93" y="66" fill="#40b0be"/><rect x="96" y="66" fill="#3ca9c3"/><rect x="99" y="66" fill="#3591c6"/><rect x="102" y="66" fill="#2e68c2"/><rect x="105" y="66" fill="#2d61c1"/><rect x="108" y="66" fill="#2f6ec3"/><rect x="111" y="66" fill="#3382c5"/><rect x="114" y="66" fill="#3694c7"/><rect x="117" y="66" fill="#3696c7"/><rect x="120" y="66" fill="#3488c6"/><rect x="123" y="66" fill="#327cc5"/><rect x="126" y="66" fill="#327fc5"/><rect x="129" y="66" fill="#3385c5"/><rect x="132" y="66" fill="#3489c6"/><rect x="135" y="66" fill="#379dc7"/><rect x="138" y="66" fill="#3eacc1"/><rect x="141" y="66" fill="#43b0b6"/><rect x="144" y="66" fill="#41b0ba"/><rect x="147" y="66" fill="#3ba6c4"/><rect x="150" y="66" fill="#348dc6"/><rect x="153" y="66" fill="#3385c5"/><rect x="156" y="66" fill="#38a1c7"/><rect x="159" y="66" fill="#43b0b5"/><rect x="162" y="66" fill="#6eb081"/><rect x="165" y="66" fill="#7ab075"/><rect x="168" y="66" fill="#56b099"/><rect x="171" y="66" fill="#48b0a7"/><rect x="174" y="66" fill="#58b097"/><rect x="177" y="66" fill="#55b09a"/><rect x="180" y="66" fill="#45b0ae"/><rect x="183" y="66" fill="#43b0b5"/><rect x="186" y="66" fill="#44b0b3"/><rect x="189" y="66" fill="#43b0b5"/><rect x="192" y="66" fill="#3fafc0"/><rect x="195" y="66" fill="#3dabc2"/><rect x="198" y="66" fill="#3dabc2"/><rect x="201" y="66" fill="#3dabc2"/><rect x="204" y="66" fill="#3eacc1"/><rect x="207" y="66" fill="#3fafc0"/><rect x="210" y="66" fill="#3eacc1"/><rect x="213" y="66" fill="#39a3c6"/><rect x="216" y="66" fill="#3699c7"/><rect x="219" y="66" fill="#3aa4c5"/><rect x="222" y="66" fill="#3faec0"/><rect x="225" y="66" fill="#3dabc2"/><rect x="228" y="66" fill="#39a3c6"/><rect x="231" y="66" fill="#3ba6c4"/><rect x="234" y="66" fill="#3fafc0"/><rect x="237" y="66" fill="#40b0bd"/><rect x="240" y="66" fill="#3eadc1"/><rect x="72" y="69" fill="#c5aa36"/><rect x="75" y="69" fill="#bab13d"/><rect x="78" y="69" fill="#a9b346"/><rect x="81" y="69" fill="#82b16d"/><rect x="84" y="69" fill="#60b08f"/><rect x="87" y="69" fill="#47b0a8"/><rect x="90" y="69" fill="#44b0b3"/><rect x="93" y="69" fill="#3faec0"/><rect x="96" y="69" fill="#39a2c6"/><rect x="99" y="69" fill="#3489c6"/><rect x="102" y="69" fill="#3075c4"/><rect x="105" y="69" fill="#3179c4"/><rect x="108" y="69" fill="#3387c5"/><rect x="111" y="69" fill="#3592c6"/><rect x="114" y="69" fill="#3695c7"/><rect x="117" y="69" fill="#358ec6"/><rect x="120" y="69" fill="#3280c5"/><rect x="123" y="69" fill="#3178c4"/><rect x="126" y="69" fill="#3280c5"/><rect x="129" y="69" fill="#348cc6"/><rect x="132" y="69" fill="#379ec7"/><rect x="135" y="69" fill="#3faec0"/><rect x="138" y="69" fill="#4cb0a3"/><rect x="141" y="69" fill="#69b086"/><rect x="144" y="69" fill="#56b099"/><rect x="147" y="69" fill="#43b0b5"/><rect x="150" y="69" fill="#3ca9c3"/><rect x="153" y="69" fill="#3aa5c5"/><rect x="156" y="69" fill="#3eacc1"/><rect x="159" y="69" fill="#47b0a8"/><rect x="162" y="69" fill="#85b16a"/><rect x="165" y="69" fill="#88b167"/><rect x="168" y="69" fill="#66b089"/><rect x="171" y="69" fill="#6bb084"/><rect x="174" y="69" fill="#aab346"/><rect x="177" y="69" fill="#c6a735"/><rect x="180" y="69" fill="#8eb261"/><rect x="183" y="69" fill="#47b0a8"/><rect x="186" y="69" fill="#47b0a8"/><rect x="189" y="69" fill="#47b0aa"/><rect x="192" y="69" fill="#45b0af"/><rect x="195" y="69" fill="#45b0af"/><rect x="198" y="69" fill="#46b0ac"/><rect x="201" y="69" fill="#45b0ae"/><rect x="204" y="69" fill="#45b0b0"/><rect x="207" y="69" fill="#45b0b0"/><rect x="210" y="69" fill="#44b0b2"/><rect x="213" y="69" fill="#40b0bd"/><rect x="216" y="69" fill="#3daac2"/><rect x="219" y="69" fill="#3ca9c3"/><rect x="222" y="69" fill="#3ca8c3"/><rect x="225" y="69" fill="#38a1c7"/><rect x="228" y="69" fill="#3592c6"/><rect x="231" y="69" fill="#3698c7"/><rect x="234" y="69" fill="#3aa5c5"/><rect x="237" y="69" fill="#3ba6c4"/><rect x="240" y="69" fill="#39a2c6"/><rect x="72" y="72" fill="#c8a033"/><rect x="75" y="72" fill="#c4af37"/><rect x="78" y="72" fill="#b2b241"/><rect x="81" y="72" fill="#7cb073"/><rect x="84" y="72" fill="#46b0ab"/><rect x="87" y="72" fill="#43b0b4"/><rect x="90" y="72" fill="#41b0bc"/><rect x="93" y="72" fill="#3ba7c4"/><rect x="96" y="72" fill="#3592c6"/><rect x="99" y="72" fill="#3383c5"/><rect x="102" y="72" fill="#3489c6"/><rect x="105" y="72" fill="#3696c7"/><rect x="108" y="72" fill="#38a0c7"/><rect x="111" y="72" fill="#39a2c6"/><rect x="114" y="72" fill="#39a3c6"/><rect x="117" y="72" fill="#3aa4c5"/><rect x="120" y="72" fill="#3aa5c5"/><rect x="123" y="72" fill="#3ca8c3"/><rect x="126" y="72" fill="#3eacc1"/><rect x="129" y="72" fill="#3faec0"/><rect x="132" y="72" fill="#43b0b4"/><rect x="135" y="72" fill="#73b07c"/><rect x="138" y="72" fill="#b5b240"/><rect x="141" y="72" fill="#bfb03a"/><rect x="144" y="72" fill="#b2b241"/><rect x="147" y="72" fill="#95b25a"/><rect x="150" y="72" fill="#6cb083"/><rect x="153" y="72" fill="#53b09c"/><rect x="156" y="72" fill="#59b096"/><rect x="159" y="72" fill="#8ab165"/><rect x="162" y="72" fill="#b8b13e"/><rect x="165" y="72" fill="#bdb03b"/><rect x="168" y="72" fill="#b3b241"/><rect x="171" y="72" fill="#b9b13d"/><rect x="174" y="72" fill="#cb9630"/><rect x="177" y="72" fill="#c85630"/><rect x="180" y="72" fill="#c7a434"/><rect x="183" y="72" fill="#8bb164"/><rect x="186" y="72" fill="#87b168"/><rect x="189" y="72" fill="#82b16d"/><rect x="192" y="72" fill="#7db072"/><rect x="195" y="72" fill="#8ab165"/><rect x="198" y="72" fill="#8db262"/><rect x="201" y="72" fill="#7ab075"/><rect x="204" y="72" fill="#6eb081"/><rect x="207" y="72" fill="#71b07e"/><rect x="210" y="72" fill="#77b078"/><rect x="213" y="72" fill="#65b08a"/><rect x="216" y="72" fill="#46b0ac"/><rect x="219" y="72" fill="#40b0be"/><rect x="222" y="72" fill="#3ba7c4"/><rect x="225" y="72" fill="#3699c7"/><rect x="228" y="72" fill="#3387c5"/><rect x="231" y="72" fill="#348dc6"/><rect x="234" y="72" fill="#379cc7"/><rect x="237" y="72" fill="#3699c7"/><rect x="240" y="72" fill="#358ec6"/><rect x="72" y="75" fill="#ca9a31"/><rect x="75" y="75" fill="#c5aa36"/><rect x="78" y="75" fill="#b3b241"/><rect x="81" y="75" fill="#47b0a9"/><rect x="84" y="75" fill="#3699c7"/><rect x="87" y="75" fill="#3387c5"/><rect x="90" y="75" fill="#3592c6"/><rect x="93" y="75" fill="#3590c6"/><rect x="96" y="75" fill="#3387c5"/><rect x="99" y="75" fill="#348ac6"/><rect x="102" y="75" fill="#3697c7"/><rect x="105" y="75" fill="#379fc7"/><rect x="108" y="75" fill="#38a1c7"/><rect x="111" y="75" fill="#39a2c6"/><rect x="114" y="75" fill="#3aa4c5"/><rect x="117" y="75" fill="#3ca8c3"/><rect x="120" y="75" fill="#3eadc1"/><rect x="123" y="75" fill="#41b0bc"/><rect x="126" y="75" fill="#40b0be"/><rect x="129" y="75" fill="#3dabc2"/><rect x="132" y="75" fill="#3eadc1"/><rect x="135" y="75" fill="#46b0ab"/><rect x="138" y="75" fill="#76b079"/><rect x="141" y="75" fill="#8bb164"/><rect x="144" y="75" fill="#7eb171"/><rect x="147" y="75" fill="#66b089"/><rect x="150" y="75" fill="#4cb0a3"/><rect x="153" y="75" fill="#45b0ae"/><rect x="156" y="75" fill="#45b0ae"/><rect x="159" y="75" fill="#57b098"/><rect x="162" y="75" fill="#88b167"/><rect x="165" y="75" fill="#98b257"/><rect x="168" y="75" fill="#88b167"/><rect x="171" y="75" fill="#86b169"/><rect x="174" y="75" fill="#90b25f"/><rect x="177" y="75" fill="#8ab165"/><rect x="180" y="75" fill="#61b08e"/><rect x="183" y="75" fill="#54b09b"/><rect x="186" y="75" fill="#61b08e"/><rect x="189" y="75" fill="#6bb084"/><rect x="192" y="75" fill="#7bb074"/><rect x="195" y="75" fill="#8db262"/><rect x="198" y="75" fill="#88b167"/><rect x="201" y="75" fill="#7eb171"/><rect x="204" y="75" fill="#8cb263"/><rect x="207" y="75" fill="#aab346"/><rect x="210" y="75" fill="#bcb13c"/><rect x="213" y="75" fill="#bcb13c"/><rect x="216" y="75" fill="#96b259"/><rect x="219" y="75" fill="#49b0a6"/><rect x="222" y="75" fill="#3faec0"/><rect x="225" y="75" fill="#379dc7"/><rect x="228" y="75" fill="#3386c5"/><rect x="231" y="75" fill="#348cc6"/><rect x="234" y="75" fill="#3698c7"/><rect x="237" y="75" fill="#358ec6"/><rect x="240" y="75" fill="#327dc5"/><rect x="72" y="78" fill="#cb9430"/><rect x="75" y="78" fill="#c7a334"/><rect x="78" y="78" fill="#b8b13e"/><rect x="81" y="78" fill="#41b0bc"/><rect x="84" y="78" fill="#2d5ec0"/><rect x="87" y="78" fill="#2a48bc"/><rect x="90" y="78" fill="#2d5dc0"/><rect x="93" y="78" fill="#2f6fc3"/><rect x="96" y="78" fill="#3387c5"/><rect x="99" y="78" fill="#38a0c7"/><rect x="102" y="78" fill="#3ca8c3"/><rect x="105" y="78" fill="#3ca8c3"/><rect x="108" y="78" fill="#3ba7c4"/><rect x="111" y="78" fill="#3ca8c3"/><rect x="114" y="78" fill="#3ca9c3"/><rect x="117" y="78" fill="#3eacc1"/><rect x="120" y="78" fill="#41b0bc"/><rect x="123" y="78" fill="#43b0b6"/><rect x="126" y="78" fill="#3fafc0"/><rect x="129" y="78" fill="#39a3c6"/><rect x="132" y="78" fill="#379bc7"/><rect x="135" y="78" fill="#39a3c6"/><rect x="138" y="78" fill="#3daac2"/><rect x="141" y="78" fill="#3faec0"/><rect x="144" y="78" fill="#3fafc0"/><rect x="147" y="78" fill="#3eacc1"/><rect x="150" y="78" fill="#3ca8c3"/><rect x="153" y="78" fill="#3aa5c5"/><rect x="156" y="78" fill="#3aa5c5"/><rect x="159" y="78" fill="#3ca9c3"/><rect x="162" y="78" fill="#40b0bd"/><rect x="165" y="78" fill="#42b0b9"/><rect x="168" y="78" fill="#3fafc0"/><rect x="171" y="78" fill="#3daac2"/><rect x="174" y="78" fill="#3ca8c3"/><rect x="177" y="78" fill="#3ba7c4"/><rect x="180" y="78" fill="#3ca8c3"/><rect x="183" y="78" fill="#3faec0"/><rect x="186" y="78" fill="#44b0b2"/><rect x="189" y="78" fill="#56b099"/><rect x="192" y="78" fill="#7ab075"/><rect x="195" y="78" fill="#8db262"/><rect x="198" y="78" fill="#89b166"/><rect x="201" y="78" fill="#8ab165"/><rect x="204" y="78" fill="#a8b347"/><rect x="207" y="78" fill="#c3b038"/><rect x="210" y="78" fill="#ca9731"/><rect x="213" y="78" fill="#ca8330"/><rect x="216" y="78" fill="#cb9430"/><rect x="219" y="78" fill="#bbb13d"/><rect x="222" y="78" fill="#65b08a"/><rect x="225" y="78" fill="#3faec0"/><rect x="228" y="78" fill="#379ac7"/><rect x="231" y="78" fill="#3593c6"/><rect x="234" y="78" fill="#3697c7"/><rect x="237" y="78" fill="#3382c5"/><rect x="240" y="78" fill="#2e67c2"/><rect x="72" y="81" fill="#cb9430"/><rect x="75" y="81" fill="#c99d32"/><rect x="78" y="81" fill="#c1b039"/><rect x="81" y="81" fill="#3faec0"/><rect x="84" y="81" fill="#2947bb"/><rect x="87" y="81" fill="#1c2ea9"/><rect x="90" y="81" fill="#233bb2"/><rect x="93" y="81" fill="#2b51bd"/><rect x="96" y="81" fill="#3177c4"/><rect x="99" y="81" fill="#39a2c6"/><rect x="102" y="81" fill="#40b0bf"/><rect x="105" y="81" fill="#42b0b8"/><rect x="108" y="81" fill="#43b0b4"/><rect x="111" y="81" fill="#48b0a7"/><rect x="114" y="81" fill="#53b09c"/><rect x="117" y="81" fill="#49b0a6"/><rect x="120" y="81" fill="#5eb091"/><rect x="123" y="81" fill="#71b07e"/><rect x="126" y="81" fill="#51b09e"/><rect x="129" y="81" fill="#3faec0"/><rect x="132" y="81" fill="#38a1c7"/><rect x="135" y="81" fill="#379bc7"/><rect x="138" y="81" fill="#379bc7"/><rect x="141" y="81" fill="#39a3c6"/><rect x="144" y="81" fill="#3daac2"/><rect x="147" y="81" fill="#3eadc1"/><rect x="150" y="81" fill="#3daac2"/><rect x="153" y="81" fill="#3ba7c4"/><rect x="156" y="81" fill="#3aa5c5"/><rect x="159" y="81" fill="#3aa5c5"/><rect x="162" y="81" fill="#3daac2"/><rect x="165" y="81" fill="#3eacc1"/><rect x="168" y="81" fill="#3ba6c4"/><rect x="171" y="81" fill="#379dc7"/><rect x="174" y="81" fill="#379ac7"/><rect x="177" y="81" fill="#39a2c6"/><rect x="180" y="81" fill="#3eadc1"/><rect x="183" y="81" fill="#46b0ab"/><rect x="186" y="81" fill="#a9b347"/><rect x="189" y="81" fill="#ca9931"/><rect x="192" y="81" fill="#cb9630"/><rect x="195" y="81" fill="#c6a735"/><rect x="198" y="81" fill="#c4ae37"/><rect x="201" y="81" fill="#c2b038"/><rect x="204" y="81" fill="#c4ae37"/><rect x="207" y="81" fill="#c8a033"/><rect x="210" y="81" fill="#ca8130"/><rect x="213" y="81" fill="#c85f30"/><rect x="216" y="81" fill="#c85b30"/><rect x="219" y="81" fill="#ca7a30"/><rect x="222" y="81" fill="#c5ab36"/><rect x="225" y="81" fill="#6cb083"/><rect x="228" y="81" fill="#40b0bf"/><rect x="231" y="81" fill="#3aa4c5"/><rect x="234" y="81" fill="#379bc7"/><rect x="237" y="81" fill="#317bc4"/><rect x="240" y="81" fill="#2d5cc0"/><rect x="72" y="84" fill="#c7a334"/><rect x="75" y="84" fill="#c6a635"/><rect x="78" y="84" fill="#bbb13d"/><rect x="81" y="84" fill="#3ca9c3"/><rect x="84" y="84" fill="#253fb5"/><rect x="87" y="84" fill="#1a2aa6"/><rect x="90" y="84" fill="#1a2aa6"/><rect x="93" y="84" fill="#1f34ad"/><rect x="96" y="84" fill="#2b54be"/><rect x="99" y="84" fill="#3382c5"/><rect x="102" y="84" fill="#3aa5c5"/><rect x="105" y="84" fill="#40b0bf"/><rect x="108" y="84" fill="#50b09f"/><rect x="111" y="84" fill="#c4ac37"/><rect x="114" y="84" fill="#cb9330"/><rect x="117" y="84" fill="#b3b241"/><rect x="120" y="84" fill="#95b25a"/><rect x="123" y="84" fill="#a6b349"/><rect x="126" y="84" fill="#75b07a"/><rect x="129" y="84" fill="#41b0bc"/><rect x="132" y="84" fill="#38a0c7"/><rect x="135" y="84" fill="#3592c6"/><rect x="138" y="84" fill="#3698c7"/><rect x="141" y="84" fill="#3ca8c3"/><rect x="144" y="84" fill="#43b0b4"/><rect x="147" y="84" fill="#4cb0a3"/><rect x="150" y="84" fill="#4bb0a4"/><rect x="153" y="84" fill="#45b0af"/><rect x="156" y="84" fill="#42b0b9"/><rect x="159" y="84" fill="#41b0ba"/><rect x="162" y="84" fill="#44b0b1"/><rect x="165" y="84" fill="#46b0ab"/><rect x="168" y="84" fill="#43b0b5"/><rect x="171" y="84" fill="#3eadc1"/><rect x="174" y="84" fill="#3faec0"/><rect x="177" y="84" fill="#44b0b1"/><rect x="180" y="84" fill="#69b086"/><rect x="183" y="84" fill="#afb243"/><rect x="186" y="84" fill="#cb8830"/><rect x="189" y="84" fill="#c84830"/><rect x="192" y="84" fill="#c85730"/><rect x="195" y="84" fill="#ca8430"/><rect x="198" y="84" fill="#cb9330"/><rect x="201" y="84" fill="#c99b32"/><rect x="204" y="84" fill="#c6a635"/><rect x="207" y="84" fill="#c5aa36"/><rect x="210" y="84" fill="#c7a534"/><rect x="213" y="84" fill="#c99d32"/><rect x="216" y="84" fill="#ca9931"/><rect x="219" y="84" fill="#c8a133"/><rect x="222" y="84" fill="#b7b13f"/><rect x="225" y="84" fill="#73b07c"/><rect x="228" y="84" fill="#44b0b1"/><rect x="231" y="84" fill="#3eadc1"/><rect x="234" y="84" fill="#3aa4c5"/><rect x="237" y="84" fill="#3591c6"/><rect x="240" y="84" fill="#317bc4"/><rect x="72" y="87" fill="#aeb344"/><rect x="75" y="87" fill="#acb345"/><rect x="78" y="87" fill="#96b259"/><rect x="81" y="87" fill="#38a1c7"/><rect x="84" y="87" fill="#233cb3"/><rect x="87" y="87" fill="#1a2aa6"/><rect x="90" y="87" fill="#1a2aa6"/><rect x="93" y="87" fill="#1a2aa6"/><rect x="96" y="87" fill="#2138b0"/><rect x="99" y="87" fill="#2d5dc0"/><rect x="102" y="87" fill="#3383c5"/><rect x="105" y="87" fill="#38a0c7"/><rect x="108" y="87" fill="#41b0bb"/><rect x="111" y="87" fill="#a8b347"/><rect x="114" y="87" fill="#c6a735"/><rect x="117" y="87" fill="#a6b349"/><rect x="120" y="87" fill="#85b16a"/><rect x="123" y="87" fill="#8ab165"/><rect x="126" y="87" fill="#51b09e"/><rect x="129" y="87" fill="#3ca8c3"/><rect x="132" y="87" fill="#348bc6"/><rect x="135" y="87" fill="#3489c6"/><rect x="138" y="87" fill="#38a1c7"/><rect x="141" y="87" fill="#43b0b6"/><rect x="144" y="87" fill="#6cb083"/><rect x="147" y="87" fill="#97b258"/><rect x="150" y="87" fill="#97b258"/><rect x="153" y="87" fill="#7bb074"/><rect x="156" y="87" fill="#62b08d"/><rect x="159" y="87" fill="#65b08a"/><rect x="162" y="87" fill="#83b16c"/><rect x="165" y="87" fill="#97b258"/><rect x="168" y="87" fill="#82b16d"/><rect x="171" y="87" fill="#6ab085"/><rect x="174" y="87" fill="#7eb171"/><rect x="177" y="87" fill="#adb344"/><rect x="180" y="87" fill="#c3b038"/><rect x="183" y="87" fill="#c6a735"/><rect x="186" y="87" fill="#c99c32"/><rect x="189" y="87" fill="#cb8e30"/><rect x="192" y="87" fill="#cb9030"/><rect x="195" y="87" fill="#cb9530"/><rect x="198" y="87" fill="#cb8f30"/><rect x="201" y="87" fill="#cb9430"/><rect x="204" y="87" fill="#c8a133"/><rect x="207" y="87" fill="#c4ae37"/><rect x="210" y="87" fill="#b7b13f"/><rect x="213" y="87" fill="#acb345"/><rect x="216" y="87" fill="#a6b349"/><rect x="219" y="87" fill="#9bb354"/><rect x="222" y="87" fill="#81b16e"/><rect x="225" y="87" fill="#65b08a"/><rect x="228" y="87" fill="#51b09e"/><rect x="231" y="87" fill="#47b0a9"/><rect x="234" y="87" fill="#45b0af"/><rect x="237" y="87" fill="#43b0b5"/><rect x="240" y="87" fill="#41b0ba"/><rect x="72" y="90" fill="#56b099"/><rect x="75" y="90" fill="#50b09f"/><rect x="78" y="90" fill="#4eb0a1"/><rect x="81" y="90" fill="#358ec6"/><rect x="84" y="90" fill="#243eb4"/><rect x="87" y="90" fill="#1a2aa6"/><rect x="90" y="90" fill="#1a2aa6"/><rect x="93" y="90" fill="#1a2aa6"/><rect x="96" y="90" fill="#1b2da8"/><rect x="99" y="90" fill="#2b51bd"/><rect x="102" y="90" fill="#2f6fc3"/><rect x="105" y="90" fill="#3488c6"/><rect x="108" y="90" fill="#39a2c6"/><rect x="111" y="90" fill="#41b0bb"/><rect x="114" y="90" fill="#47b0aa"/><rect x="117" y="90" fill="#46b0ac"/><rect x="120" y="90" fill="#45b0af"/><rect x="123" y="90" fill="#42b0b7"/><rect x="126" y="90" fill="#3aa5c5"/><rect x="129" y="90" fill="#327fc5"/><rect x="132" y="90" fill="#2f6ac2"/><rect x="135" y="90" fill="#3073c4"/><rect x="138" y="90" fill="#3697c7"/><rect x="141" y="90" fill="#3fafc0"/><rect x="144" y="90" fill="#46b0ad"/><rect x="147" y="90" fill="#46b0ab"/><rect x="150" y="90" fill="#45b0ae"/><rect x="153" y="90" fill="#45b0ae"/><rect x="156" y="90" fill="#47b0a9"/><rect x="159" y="90" fill="#57b098"/><rect x="162" y="90" fill="#6db082"/><rect x="165" y="90" fill="#76b079"/><rect x="168" y="90" fill="#6eb081"/><rect x="171" y="90" fill="#75b07a"/><rect x="174" y="90" fill="#a0b34f"/><rect x="177" y="90" fill="#beb03b"/><rect x="180" y="90" fill="#c5ac36"/><rect x="183" y="90" fill="#c1b039"/><rect x="186" y="90" fill="#b8b13e"/><rect x="189" y="90" fill="#b8b13e"/><rect x="192" y="90" fill="#c1b039"/><rect x="195" y="90" fill="#c5a936"/><rect x="198" y="90" fill="#c8a033"/><rect x="201" y="90" fill="#c8a133"/><rect x="204" y="90" fill="#c4ad37"/><rect x="207" y="90" fill="#b3b241"/><rect x="210" y="90" fill="#9eb351"/><rect x="213" y="90" fill="#8db262"/><rect x="216" y="90" fill="#8ab165"/><rect x="219" y="90" fill="#7fb170"/><rect x="222" y="90" fill="#69b086"/><rect x="225" y="90" fill="#5fb090"/><rect x="228" y="90" fill="#64b08b"/><rect x="231" y="90" fill="#73b07c"/><rect x="234" y="90" fill="#85b16a"/><rect x="237" y="90" fill="#90b25f"/><rect x="240" y="90" fill="#91b25e"/><rect x="72" y="93" fill="#3ca8c3"/><rect x="75" y="93" fill="#3ba6c4"/><rect x="78" y="93" fill="#3eadc1"/><rect x="81" y="93" fill="#317ac4"/><rect x="84" y="93" fill="#2844b9"/><rect x="87" y="93" fill="#1a2aa6"/><rect x="90" y="93" fill="#1a2aa6"/><rect x="93" y="93" fill="#1a2aa6"/><rect x="96" y="93" fill="#1d2faa"/><rect x="99" y="93" fill="#2c55be"/><rect x="102" y="93" fill="#3178c4"/><rect x="105" y="93" fill="#3696c7"/><rect x="108" y="93" fill="#3aa5c5"/><rect x="111" y="93" fill="#3dabc2"/><rect x="114" y="93" fill="#40b0be"/><rect x="117" y="93" fill="#41b0bc"/><rect x="120" y="93" fill="#3eadc1"/><rect x="123" y="93" fill="#3aa4c5"/><rect x="126" y="93" fill="#358ec6"/><rect x="129" y="93" fill="#3075c4"/><rect x="132" y="93" fill="#317bc4"/><rect x="135" y="93" fill="#38a0c7"/><rect x="138" y="93" fill="#39a2c6"/><rect x="141" y="93" fill="#38a1c7"/><rect x="144" y="93" fill="#3694c7"/><rect x="147" y="93" fill="#3071c4"/><rect x="150" y="93" fill="#2f69c2"/><rect x="153" y="93" fill="#358fc6"/><rect x="156" y="93" fill="#3eadc1"/><rect x="159" y="93" fill="#44b0b1"/><rect x="162" y="93" fill="#46b0ad"/><rect x="165" y="93" fill="#45b0b0"/><rect x="168" y="93" fill="#45b0af"/><rect x="171" y="93" fill="#55b09a"/><rect x="174" y="93" fill="#8ab165"/><rect x="177" y="93" fill="#adb344"/><rect x="180" y="93" fill="#aeb344"/><rect x="183" y="93" fill="#98b257"/><rect x="186" y="93" fill="#80b16f"/><rect x="189" y="93" fill="#8ab165"/><rect x="192" y="93" fill="#acb345"/><rect x="195" y="93" fill="#bdb03b"/><rect x="198" y="93" fill="#c4ae37"/><rect x="201" y="93" fill="#bdb03b"/><rect x="204" y="93" fill="#a5b34a"/><rect x="207" y="93" fill="#76b079"/><rect x="210" y="93" fill="#66b089"/><rect x="213" y="93" fill="#72b07d"/><rect x="216" y="93" fill="#88b167"/><rect x="219" y="93" fill="#87b168"/><rect x="222" y="93" fill="#70b07f"/><rect x="225" y="93" fill="#63b08c"/><rect x="228" y="93" fill="#69b086"/><rect x="231" y="93" fill="#80b16f"/><rect x="234" y="93" fill="#a0b34f"/><rect x="237" y="93" fill="#adb345"/><rect x="240" y="93" fill="#acb345"/><rect x="72" y="96" fill="#317bc4"/><rect x="75" y="96" fill="#327dc5"/><rect x="78" y="96" fill="#38a0c7"/><rect x="81" y="96" fill="#2f6fc3"/><rect x="84" y="96" fill="#2b51bd"/><rect x="87" y="96" fill="#2540b6"/><rect x="90" y="96" fill="#1d30aa"/><rect x="93" y="96" fill="#1c2ea9"/><rect x="96" y="96" fill="#253eb5"/><rect x="99" y="96" fill="#2d60c0"/><rect x="102" y="96" fill="#348ac6"/><rect x="105" y="96" fill="#3ba7c4"/><rect x="108" y="96" fill="#3eacc1"/><rect x="111" y="96" fill="#39a3c6"/><rect x="114" y="96" fill="#3aa4c5"/><rect x="117" y="96" fill="#3fafc0"/><rect x="120" y="96" fill="#41b0bc"/><rect x="123" y="96" fill="#3eadc1"/><rect x="126" y="96" fill="#3aa5c5"/><rect x="129" y="96" fill="#379fc7"/><rect x="132" y="96" fill="#42b0b9"/><rect x="135" y="96" fill="#c7a434"/><rect x="138" y="96" fill="#6eb081"/><rect x="141" y="96" fill="#39a3c6"/><rect x="144" y="96" fill="#3074c4"/><rect x="147" y="96" fill="#2a4dbd"/><rect x="150" y="96" fill="#2b50bd"/><rect x="153" y="96" fill="#3387c5"/><rect x="156" y="96" fill="#40b0be"/><rect x="159" y="96" fill="#46b0ac"/><rect x="162" y="96" fill="#45b0ae"/><rect x="165" y="96" fill="#42b0b7"/><rect x="168" y="96" fill="#43b0b6"/><rect x="171" y="96" fill="#4fb0a0"/><rect x="174" y="96" fill="#85b16a"/><rect x="177" y="96" fill="#a0b34f"/><rect x="180" y="96" fill="#91b25e"/><rect x="183" y="96" fill="#76b079"/><rect x="186" y="96" fill="#74b07b"/><rect x="189" y="96" fill="#95b25a"/><rect x="192" y="96" fill="#b6b13f"/><rect x="195" y="96" fill="#c4ae37"/><rect x="198" y="96" fill="#c5ab36"/><rect x="201" y="96" fill="#bdb03b"/><rect x="204" y="96" fill="#96b259"/><rect x="207" y="96" fill="#62b08d"/><rect x="210" y="96" fill="#5fb090"/><rect x="213" y="96" fill="#80b16f"/><rect x="216" y="96" fill="#a2b34d"/><rect x="219" y="96" fill="#a9b347"/><rect x="222" y="96" fill="#9ab355"/><rect x="225" y="96" fill="#84b16b"/><rect x="228" y="96" fill="#7eb171"/><rect x="231" y="96" fill="#8fb260"/><rect x="234" y="96" fill="#a4b34b"/><rect x="237" y="96" fill="#a4b34b"/><rect x="240" y="96" fill="#90b25f"/><rect x="72" y="99" fill="#2f6bc3"/><rect x="75" y="99" fill="#3073c4"/><rect x="78" y="99" fill="#39a2c6"/><rect x="81" y="99" fill="#327ec5"/><rect x="84" y="99" fill="#2e66c2"/><rect x="87" y="99" fill="#2d5ec0"/><rect x="90" y="99" fill="#2c57bf"/><rect x="93" y="99" fill="#2b52be"/><rect x="96" y="99" fill="#2c58bf"/><rect x="99" y="99" fill="#2f6ec3"/><rect x="102" y="99" fill="#3697c7"/><rect x="105" y="99" fill="#3eadc1"/><rect x="108" y="99" fill="#40b0bf"/><rect x="111" y="99" fill="#38a1c7"/><rect x="114" y="99" fill="#38a1c7"/><rect x="117" y="99" fill="#41b0ba"/><rect x="120" y="99" fill="#47b0a8"/><rect x="123" y="99" fill="#4bb0a4"/><rect x="126" y="99" fill="#44b0b2"/><rect x="129" y="99" fill="#3faec0"/><rect x="132" y="99" fill="#41b0bc"/><rect x="135" y="99" fill="#63b08c"/><rect x="138" y="99" fill="#4ab0a5"/><rect x="141" y="99" fill="#3eadc1"/><rect x="144" y="99" fill="#379cc7"/><rect x="147" y="99" fill="#358fc6"/><rect x="150" y="99" fill="#39a2c6"/><rect x="153" y="99" fill="#42b0b9"/><rect x="156" y="99" fill="#57b098"/><rect x="159" y="99" fill="#67b088"/><rect x="162" y="99" fill="#58b097"/><rect x="165" y="99" fill="#47b0aa"/><rect x="168" y="99" fill="#46b0ac"/><rect x="171" y="99" fill="#60b08f"/><rect x="174" y="99" fill="#94b25b"/><rect x="177" y="99" fill="#a9b347"/><rect x="180" y="99" fill="#9eb351"/><rect x="183" y="99" fill="#95b25a"/><rect x="186" y="99" fill="#acb345"/><rect x="189" y="99" fill="#c4af37"/><rect x="192" y="99" fill="#c89f33"/><rect x="195" y="99" fill="#cb9630"/><rect x="198" y="99" fill="#cb9630"/><rect x="201" y="99" fill="#c8a033"/><rect x="204" y="99" fill="#b9b13e"/><rect x="207" y="99" fill="#91b25e"/><rect x="210" y="99" fill="#95b25a"/><rect x="213" y="99" fill="#b5b240"/><rect x="216" y="99" fill="#c4ae37"/><rect x="219" y="99" fill="#c5ac36"/><rect x="222" y="99" fill="#bfb03a"/><rect x="225" y="99" fill="#adb344"/><rect x="228" y="99" fill="#9cb353"/><rect x="231" y="99" fill="#9eb351"/><rect x="234" y="99" fill="#9db352"/><rect x="237" y="99" fill="#83b16c"/><rect x="240" y="99" fill="#62b08d"/><rect x="72" y="102" fill="#327ec5"/><rect x="75" y="102" fill="#3592c6"/><rect x="78" y="102" fill="#41b0bb"/><rect x="81" y="102" fill="#38a1c7"/><rect x="84" y="102" fill="#327dc5"/><rect x="87" y="102" fill="#2f6bc3"/><rect x="90" y="102" fill="#2e65c1"/><rect x="93" y="102" fill="#2e66c2"/><rect x="96" y="102" fill="#2f6cc3"/><rect x="99" y="102" fill="#3385c5"/><rect x="102" y="102" fill="#3aa4c5"/><rect x="105" y="102" fill="#41b0bb"/><rect x="108" y="102" fill="#44b0b2"/><rect x="111" y="102" fill="#42b0b8"/><rect x="114" y="102" fill="#42b0b8"/><rect x="117" y="102" fill="#46b0ab"/><rect x="120" y="102" fill="#5eb091"/><rect x="123" y="102" fill="#62b08d"/><rect x="126" y="102" fill="#47b0aa"/><rect x="129" y="102" fill="#41b0bc"/><rect x="132" y="102" fill="#41b0bb"/><rect x="135" y="102" fill="#47b0aa"/><rect x="138" y="102" fill="#53b09c"/><rect x="141" y="102" fill="#45b0af"/><rect x="144" y="102" fill="#41b0bb"/><rect x="147" y="102" fill="#43b0b4"/><rect x="150" y="102" fill="#53b09c"/><rect x="153" y="102" fill="#62b08d"/><rect x="156" y="102" fill="#69b086"/><rect x="159" y="102" fill="#6cb083"/><rect x="162" y="102" fill="#62b08d"/><rect x="165" y="102" fill="#4eb0a1"/><rect x="168" y="102" fill="#47b0aa"/><rect x="171" y="102" fill="#4db0a2"/><rect x="174" y="102" fill="#64b08b"/><rect x="177" y="102" fill="#6fb080"/><rect x="180" y="102" fill="#69b086"/><rect x="183" y="102" fill="#6ab085"/><rect x="186" y="102" fill="#7cb073"/><rect x="189" y="102" fill="#97b258"/><rect x="192" y="102" fill="#aab346"/><rect x="195" y="102" fill="#aeb344"/><rect x="198" y="102" fill="#a9b346"/><rect x="201" y="102" fill="#89b166"/><rect x="204" y="102" fill="#4cb0a3"/><rect x="207" y="102" fill="#41b0bb"/><rect x="210" y="102" fill="#44b0b2"/><rect x="213" y="102" fill="#6cb083"/><rect x="216" y="102" fill="#a5b34a"/><rect x="219" y="102" fill="#b4b240"/><rect x="222" y="102" fill="#b1b242"/><rect x="225" y="102" fill="#96b259"/><rect x="228" y="102" fill="#80b16f"/><rect x="231" y="102" fill="#83b16c"/><rect x="234" y="102" fill="#80b16f"/><rect x="237" y="102" fill="#69b086"/><rect x="240" y="102" fill="#52b09d"/><rect x="72" y="105" fill="#39a3c6"/><rect x="75" y="105" fill="#40b0be"/><rect x="78" y="105" fill="#7db072"/><rect x="81" y="105" fill="#42b0b9"/><rect x="84" y="105" fill="#3593c6"/><rect x="87" y="105" fill="#2f6fc3"/><rect x="90" y="105" fill="#2d62c1"/><rect x="93" y="105" fill="#2e68c2"/><rect x="96" y="105" fill="#327cc5"/><rect x="99" y="105" fill="#38a0c7"/><rect x="102" y="105" fill="#41b0bb"/><rect x="105" y="105" fill="#4ab0a5"/><rect x="108" y="105" fill="#65b08a"/><rect x="111" y="105" fill="#72b07d"/><rect x="114" y="105" fill="#6eb081"/><rect x="117" y="105" fill="#62b08d"/><rect x="120" y="105" fill="#5eb091"/><rect x="123" y="105" fill="#57b098"/><rect x="126" y="105" fill="#46b0ad"/><rect x="129" y="105" fill="#42b0b8"/><rect x="132" y="105" fill="#45b0af"/><rect x="135" y="105" fill="#6bb084"/><rect x="138" y="105" fill="#82b16d"/><rect x="141" y="105" fill="#68b087"/><rect x="144" y="105" fill="#5ab095"/><rect x="147" y="105" fill="#abb346"/><rect x="150" y="105" fill="#cb9430"/><rect x="153" y="105" fill="#b3b241"/><rect x="156" y="105" fill="#57b098"/><rect x="159" y="105" fill="#53b09c"/><rect x="162" y="105" fill="#5bb094"/><rect x="165" y="105" fill="#60b08f"/><rect x="168" y="105" fill="#63b08c"/><rect x="171" y="105" fill="#6bb084"/><rect x="174" y="105" fill="#7fb170"/><rect x="177" y="105" fill="#9ab355"/><rect x="180" y="105" fill="#aab346"/><rect x="183" y="105" fill="#aeb344"/><rect x="186" y="105" fill="#adb345"/><rect x="189" y="105" fill="#a6b349"/><rect x="192" y="105" fill="#a4b34b"/><rect x="195" y="105" fill="#a3b34c"/><rect x="198" y="105" fill="#8eb261"/><rect x="201" y="105" fill="#5db092"/><rect x="204" y="105" fill="#3eadc1"/><rect x="207" y="105" fill="#358fc6"/><rect x="210" y="105" fill="#379fc7"/><rect x="213" y="105" fill="#42b0b8"/><rect x="216" y="105" fill="#64b08b"/><rect x="219" y="105" fill="#94b25b"/><rect x="222" y="105" fill="#9bb354"/><rect x="225" y="105" fill="#7eb171"/><rect x="228" y="105" fill="#6eb081"/><rect x="231" y="105" fill="#7cb073"/><rect x="234" y="105" fill="#8ab165"/><rect x="237" y="105" fill="#84b16b"/><rect x="240" y="105" fill="#7cb073"/><rect x="72" y="108" fill="#47b0aa"/><rect x="75" y="108" fill="#75b07a"/><rect x="78" y="108" fill="#c2b038"/><rect x="81" y="108" fill="#61b08e"/><rect x="84" y="108" fill="#3ba6c4"/><rect x="87" y="108" fill="#3383c5"/><rect x="90" y="108" fill="#3070c4"/><rect x="93" y="108" fill="#3177c4"/><rect x="96" y="108" fill="#3592c6"/><rect x="99" y="108" fill="#3eacc1"/><rect x="102" y="108" fill="#4eb0a1"/><rect x="105" y="108" fill="#88b167"/><rect x="108" y="108" fill="#a9b347"/><rect x="111" y="108" fill="#b4b240"/><rect x="114" y="108" fill="#b2b241"/><rect x="117" y="108" fill="#a1b34e"/><rect x="120" y="108" fill="#8cb263"/><rect x="123" y="108" fill="#87b168"/><rect x="126" y="108" fill="#7fb170"/><rect x="129" y="108" fill="#7ab075"/><rect x="132" y="108" fill="#99b256"/><rect x="135" y="108" fill="#bab13d"/><rect x="138" y="108" fill="#c1b039"/><rect x="141" y="108" fill="#b1b242"/><rect x="144" y="108" fill="#a1b34e"/><rect x="147" y="108" fill="#bcb13c"/><rect x="150" y="108" fill="#c8a133"/><rect x="153" y="108" fill="#90b25f"/><rect x="156" y="108" fill="#44b0b3"/><rect x="159" y="108" fill="#41b0ba"/><rect x="162" y="108" fill="#43b0b6"/><rect x="165" y="108" fill="#45b0ae"/><rect x="168" y="108" fill="#4fb0a0"/><rect x="171" y="108" fill="#66b089"/><rect x="174" y="108" fill="#80b16f"/><rect x="177" y="108" fill="#a2b34d"/><rect x="180" y="108" fill="#b4b240"/><rect x="183" y="108" fill="#bab13d"/><rect x="186" y="108" fill="#b2b242"/><rect x="189" y="108" fill="#9bb354"/><rect x="192" y="108" fill="#93b25c"/><rect x="195" y="108" fill="#a1b34e"/><rect x="198" y="108" fill="#97b258"/><rect x="201" y="108" fill="#63b08c"/><rect x="204" y="108" fill="#3eadc1"/><rect x="207" y="108" fill="#3387c5"/><rect x="210" y="108" fill="#348bc6"/><rect x="213" y="108" fill="#3ca9c3"/><rect x="216" y="108" fill="#46b0ac"/><rect x="219" y="108" fill="#6cb083"/><rect x="222" y="108" fill="#77b078"/><rect x="225" y="108" fill="#63b08c"/><rect x="228" y="108" fill="#5cb093"/><rect x="231" y="108" fill="#79b076"/><rect x="234" y="108" fill="#9db352"/><rect x="237" y="108" fill="#a8b347"/><rect x="240" y="108" fill="#a7b348"/><rect x="72" y="111" fill="#8eb261"/><rect x="75" y="111" fill="#adb344"/><rect x="78" y="111" fill="#c7a234"/><rect x="81" y="111" fill="#8fb260"/><rect x="84" y="111" fill="#41b0bb"/><rect x="87" y="111" fill="#39a2c6"/><rect x="90" y="111" fill="#3696c7"/><rect x="93" y="111" fill="#379cc7"/><rect x="96" y="111" fill="#3ca8c3"/><rect x="99" y="111" fill="#45b0ae"/><rect x="102" y="111" fill="#8fb260"/><rect x="105" y="111" fill="#c2b038"/><rect x="108" y="111" fill="#c8a033"/><rect x="111" y="111" fill="#ca9931"/><rect x="114" y="111" fill="#c89f33"/><rect x="117" y="111" fill="#c4ae37"/><rect x="120" y="111" fill="#b4b240"/><rect x="123" y="111" fill="#abb345"/><rect x="126" y="111" fill="#a4b34b"/><rect x="129" y="111" fill="#99b256"/><rect x="132" y="111" fill="#9fb350"/><rect x="135" y="111" fill="#b0b243"/><rect x="138" y="111" fill="#b4b240"/><rect x="141" y="111" fill="#abb346"/><rect x="144" y="111" fill="#9fb350"/><rect x="147" y="111" fill="#9eb351"/><rect x="150" y="111" fill="#7db072"/><rect x="153" y="111" fill="#46b0ac"/><rect x="156" y="111" fill="#3eadc1"/><rect x="159" y="111" fill="#3aa5c5"/><rect x="162" y="111" fill="#38a1c7"/><rect x="165" y="111" fill="#39a2c6"/><rect x="168" y="111" fill="#3daac2"/><rect x="171" y="111" fill="#45b0b0"/><rect x="174" y="111" fill="#58b097"/><rect x="177" y="111" fill="#6db082"/><rect x="180" y="111" fill="#84b16b"/><rect x="183" y="111" fill="#92b25d"/><rect x="186" y="111" fill="#86b169"/><rect x="189" y="111" fill="#6ab085"/><rect x="192" y="111" fill="#6cb083"/><rect x="195" y="111" fill="#89b166"/><rect x="198" y="111" fill="#8ab165"/><rect x="201" y="111" fill="#65b08a"/><rect x="204" y="111" fill="#43b0b5"/><rect x="207" y="111" fill="#39a3c6"/><rect x="210" y="111" fill="#379cc7"/><rect x="213" y="111" fill="#3daac2"/><rect x="216" y="111" fill="#45b0af"/><rect x="219" y="111" fill="#5ab095"/><rect x="222" y="111" fill="#5db092"/><rect x="225" y="111" fill="#4ab0a5"/><rect x="228" y="111" fill="#47b0a8"/><rect x="231" y="111" fill="#6ab085"/><rect x="234" y="111" fill="#9ab355"/><rect x="237" y="111" fill="#a8b347"/><rect x="240" y="111" fill="#a2b34d"/><rect x="72" y="114" fill="#8db262"/><rect x="75" y="114" fill="#aab346"/><rect x="78" y="114" fill="#c6a635"/><rect x="81" y="114" fill="#a1b34e"/><rect x="84" y="114" fill="#46b0ac"/><rect x="87" y="114" fill="#3dabc2"/><rect x="90" y="114" fill="#39a3c6"/><rect x="93" y="114" fill="#3aa4c5"/><rect x="96" y="114" fill="#3eadc1"/><rect x="99" y="114" fill="#47b0a8"/><rect x="102" y="114" fill="#9ab355"/><rect x="105" y="114" fill="#c5ab36"/><rect x="108" y="114" fill="#ca9831"/><rect x="111" y="114" fill="#cb9230"/><rect x="114" y="114" fill="#c99b32"/><rect x="117" y="114" fill="#c6a835"/><rect x="120" y="114" fill="#beb03b"/><rect x="123" y="114" fill="#afb243"/><rect x="126" y="114" fill="#96b259"/><rect x="129" y="114" fill="#76b079"/><rect x="132" y="114" fill="#64b08b"/><rect x="135" y="114" fill="#61b08e"/><rect x="138" y="114" fill="#66b089"/><rect x="141" y="114" fill="#6bb084"/><rect x="144" y="114" fill="#72b07d"/><rect x="147" y="114" fill="#75b07a"/><rect x="150" y="114" fill="#5cb093"/><rect x="153" y="114" fill="#44b0b1"/><rect x="156" y="114" fill="#3faec0"/><rect x="159" y="114" fill="#3ba6c4"/><rect x="162" y="114" fill="#38a0c7"/><rect x="165" y="114" fill="#38a1c7"/><rect x="168" y="114" fill="#3eadc1"/><rect x="171" y="114" fill="#47b0aa"/><rect x="174" y="114" fill="#59b096"/><rect x="177" y="114" fill="#55b09a"/><rect x="180" y="114" fill="#5cb093"/><rect x="183" y="114" fill="#63b08c"/><rect x="186" y="114" fill="#52b09d"/><rect x="189" y="114" fill="#47b0a8"/><rect x="192" y="114" fill="#5bb094"/><rect x="195" y="114" fill="#6db082"/><rect x="198" y="114" fill="#64b08b"/><rect x="201" y="114" fill="#52b09d"/><rect x="204" y="114" fill="#46b0ab"/><rect x="207" y="114" fill="#41b0bc"/><rect x="210" y="114" fill="#3dabc2"/><rect x="213" y="114" fill="#41b0bc"/><rect x="216" y="114" fill="#4ab0a5"/><rect x="219" y="114" fill="#67b088"/><rect x="222" y="114" fill="#67b088"/><rect x="225" y="114" fill="#55b09a"/><rect x="228" y="114" fill="#4bb0a4"/><rect x="231" y="114" fill="#66b089"/><rect x="234" y="114" fill="#8eb261"/><rect x="237" y="114" fill="#91b25e"/><rect x="240" y="114" fill="#82b16d"/><rect x="72" y="117" fill="#6cb083"/><rect x="75" y="117" fill="#94b25b"/><rect x="78" y="117" fill="#c3b038"/><rect x="81" y="117" fill="#a5b34a"/><rect x="84" y="117" fill="#54b09b"/><rect x="87" y="117" fill="#3faec0"/><rect x="90" y="117" fill="#379bc7"/><rect x="93" y="117" fill="#348dc6"/><rect x="96" y="117" fill="#379cc7"/><rect x="99" y="117" fill="#3daac2"/><rect x="102" y="117" fill="#44b0b1"/><rect x="105" y="117" fill="#67b088"/><rect x="108" y="117" fill="#95b25a"/><rect x="111" y="117" fill="#a5b34a"/><rect x="114" y="117" fill="#a1b34e"/><rect x="117" y="117" fill="#a8b347"/><rect x="120" y="117" fill="#aeb344"/><rect x="123" y="117" fill="#a6b349"/><rect x="126" y="117" fill="#7db072"/><rect x="129" y="117" fill="#58b097"/><rect x="132" y="117" fill="#46b0ad"/><rect x="135" y="117" fill="#42b0b7"/><rect x="138" y="117" fill="#42b0b8"/><rect x="141" y="117" fill="#44b0b1"/><rect x="144" y="117" fill="#47b0aa"/><rect x="147" y="117" fill="#47b0a9"/><rect x="150" y="117" fill="#46b0ac"/><rect x="153" y="117" fill="#44b0b2"/><rect x="156" y="117" fill="#41b0bc"/><rect x="159" y="117" fill="#3eadc1"/><rect x="162" y="117" fill="#40b0be"/><rect x="165" y="117" fill="#46b0ac"/><rect x="168" y="117" fill="#72b07d"/><rect x="171" y="117" fill="#89b166"/><rect x="174" y="117" fill="#68b087"/><rect x="177" y="117" fill="#47b0a8"/><rect x="180" y="117" fill="#47b0a8"/><rect x="183" y="117" fill="#47b0a9"/><rect x="186" y="117" fill="#40b0bd"/><rect x="189" y="117" fill="#40b0bd"/><rect x="192" y="117" fill="#46b0ac"/><rect x="195" y="117" fill="#46b0ac"/><rect x="198" y="117" fill="#43b0b5"/><rect x="201" y="117" fill="#43b0b4"/><rect x="204" y="117" fill="#46b0ab"/><rect x="207" y="117" fill="#45b0ae"/><rect x="210" y="117" fill="#42b0b7"/><rect x="213" y="117" fill="#45b0b0"/><rect x="216" y="117" fill="#58b097"/><rect x="219" y="117" fill="#70b07f"/><rect x="222" y="117" fill="#75b07a"/><rect x="225" y="117" fill="#73b07c"/><rect x="228" y="117" fill="#6db082"/><rect x="231" y="117" fill="#77b078"/><rect x="234" y="117" fill="#83b16c"/><rect x="237" y="117" fill="#74b07b"/><rect x="240" y="117" fill="#62b08d"/><rect x="72" y="120" fill="#67b088"/><rect x="75" y="120" fill="#89b166"/><rect x="78" y="120" fill="#b8b13e"/><rect x="81" y="120" fill="#a7b348"/><rect x="84" y="120" fill="#68b087"/><rect x="87" y="120" fill="#40b0bd"/><rect x="90" y="120" fill="#3694c7"/><rect x="93" y="120" fill="#327ec5"/><rect x="96" y="120" fill="#348ac6"/><rect x="99" y="120" fill="#39a3c6"/><rect x="102" y="120" fill="#3faec0"/><rect x="105" y="120" fill="#44b0b1"/><rect x="108" y="120" fill="#55b09a"/><rect x="111" y="120" fill="#65b08a"/><rect x="114" y="120" fill="#6ab085"/><rect x="117" y="120" fill="#81b16e"/><rect x="120" y="120" fill="#99b256"/><rect x="123" y="120" fill="#88b167"/><rect x="126" y="120" fill="#5bb094"/><rect x="129" y="120" fill="#44b0b2"/><rect x="132" y="120" fill="#3faec0"/><rect x="135" y="120" fill="#3ba6c4"/><rect x="138" y="120" fill="#3aa4c5"/><rect x="141" y="120" fill="#3ca8c3"/><rect x="144" y="120" fill="#3eadc1"/><rect x="147" y="120" fill="#3fafc0"/><rect x="150" y="120" fill="#40b0bd"/><rect x="153" y="120" fill="#40b0bf"/><rect x="156" y="120" fill="#3ba7c4"/><rect x="159" y="120" fill="#3ba7c4"/><rect x="162" y="120" fill="#42b0b8"/><rect x="165" y="120" fill="#61b08e"/><rect x="168" y="120" fill="#96b259"/><rect x="171" y="120" fill="#91b25e"/><rect x="174" y="120" fill="#5bb094"/><rect x="177" y="120" fill="#45b0ae"/><rect x="180" y="120" fill="#47b0a9"/><rect x="183" y="120" fill="#49b0a6"/><rect x="186" y="120" fill="#42b0b8"/><rect x="189" y="120" fill="#40b0be"/><rect x="192" y="120" fill="#43b0b6"/><rect x="195" y="120" fill="#3fafc0"/><rect x="198" y="120" fill="#3daac2"/><rect x="201" y="120" fill="#3faec0"/><rect x="204" y="120" fill="#44b0b2"/><rect x="207" y="120" fill="#45b0ae"/><rect x="210" y="120" fill="#44b0b2"/><rect x="213" y="120" fill="#45b0b0"/><rect x="216" y="120" fill="#4ab0a5"/><rect x="219" y="120" fill="#58b097"/><rect x="222" y="120" fill="#5fb090"/><rect x="225" y="120" fill="#80b16f"/><rect x="228" y="120" fill="#95b25a"/><rect x="231" y="120" fill="#8fb260"/><rect x="234" y="120" fill="#7db072"/><rect x="237" y="120" fill="#65b08a"/><rect x="240" y="120" fill="#58b097"/><rect x="72" y="123" fill="#6eb081"/><rect x="75" y="123" fill="#7eb171"/><rect x="78" y="123" fill="#a9b347"/><rect x="81" y="123" fill="#97b258"/><rect x="84" y="123" fill="#5db092"/><rect x="87" y="123" fill="#3dabc2"/><rect x="90" y="123" fill="#3385c5"/><rect x="93" y="123" fill="#3177c4"/><rect x="96" y="123" fill="#348ac6"/><rect x="99" y="123" fill="#39a2c6"/><rect x="102" y="123" fill="#3eacc1"/><rect x="105" y="123" fill="#41b0bc"/><rect x="108" y="123" fill="#44b0b1"/><rect x="111" y="123" fill="#47b0a9"/><rect x="114" y="123" fill="#47b0a8"/><rect x="117" y="123" fill="#49b0a6"/><rect x="120" y="123" fill="#4eb0a1"/><rect x="123" y="123" fill="#47b0aa"/><rect x="126" y="123" fill="#43b0b6"/><rect x="129" y="123" fill="#3eacc1"/><rect x="132" y="123" fill="#39a3c6"/><rect x="135" y="123" fill="#3699c7"/><rect x="138" y="123" fill="#3696c7"/><rect x="141" y="123" fill="#38a0c7"/><rect x="144" y="123" fill="#3ba6c4"/><rect x="147" y="123" fill="#3ca8c3"/><rect x="150" y="123" fill="#3dabc2"/><rect x="153" y="123" fill="#3ca8c3"/><rect x="156" y="123" fill="#379ac7"/><rect x="159" y="123" fill="#379fc7"/><rect x="162" y="123" fill="#3faec0"/><rect x="165" y="123" fill="#46b0ad"/><rect x="168" y="123" fill="#63b08c"/><rect x="171" y="123" fill="#6bb084"/><rect x="174" y="123" fill="#51b09e"/><rect x="177" y="123" fill="#46b0ac"/><rect x="180" y="123" fill="#49b0a6"/><rect x="183" y="123" fill="#59b096"/><rect x="186" y="123" fill="#47b0a9"/><rect x="189" y="123" fill="#42b0b7"/><rect x="192" y="123" fill="#3eadc1"/><rect x="195" y="123" fill="#3ba6c4"/><rect x="198" y="123" fill="#3aa4c5"/><rect x="201" y="123" fill="#3ca9c3"/><rect x="204" y="123" fill="#40b0bf"/><rect x="207" y="123" fill="#41b0bb"/><rect x="210" y="123" fill="#40b0bd"/><rect x="213" y="123" fill="#41b0ba"/><rect x="216" y="123" fill="#45b0b0"/><rect x="219" y="123" fill="#4fb0a0"/><rect x="222" y="123" fill="#69b086"/><rect x="225" y="123" fill="#97b258"/><rect x="228" y="123" fill="#a9b347"/><rect x="231" y="123" fill="#95b25a"/><rect x="234" y="123" fill="#7ab075"/><rect x="237" y="123" fill="#6db082"/><rect x="240" y="123" fill="#6fb080"/><rect x="72" y="126" fill="#57b098"/><rect x="75" y="126" fill="#59b096"/><rect x="78" y="126" fill="#7db072"/><rect x="81" y="126" fill="#7cb073"/><rect x="84" y="126" fill="#4bb0a4"/><rect x="87" y="126" fill="#3ba7c4"/><rect x="90" y="126" fill="#3382c5"/><rect x="93" y="126" fill="#327dc5"/><rect x="96" y="126" fill="#3694c7"/><rect x="99" y="126" fill="#3ba6c4"/><rect x="102" y="126" fill="#3faec0"/><rect x="105" y="126" fill="#41b0ba"/><rect x="108" y="126" fill="#43b0b5"/><rect x="111" y="126" fill="#43b0b5"/><rect x="114" y="126" fill="#3eadc1"/><rect x="117" y="126" fill="#39a2c6"/><rect x="120" y="126" fill="#379bc7"/><rect x="123" y="126" fill="#379fc7"/><rect x="126" y="126" fill="#39a2c6"/><rect x="129" y="126" fill="#38a0c7"/><rect x="132" y="126" fill="#3697c7"/><rect x="135" y="126" fill="#358ec6"/><rect x="138" y="126" fill="#358fc6"/><rect x="141" y="126" fill="#379cc7"/><rect x="144" y="126" fill="#3aa4c5"/><rect x="147" y="126" fill="#3ba7c4"/><rect x="150" y="126" fill="#3ba7c4"/><rect x="153" y="126" fill="#3ba7c4"/><rect x="156" y="126" fill="#3aa5c5"/><rect x="159" y="126" fill="#3ca9c3"/><rect x="162" y="126" fill="#3fafc0"/><rect x="165" y="126" fill="#43b0b6"/><rect x="168" y="126" fill="#4fb0a0"/><rect x="171" y="126" fill="#70b07f"/><rect x="174" y="126" fill="#70b07f"/><rect x="177" y="126" fill="#5db092"/><rect x="180" y="126" fill="#52b09d"/><rect x="183" y="126" fill="#50b09f"/><rect x="186" y="126" fill="#46b0ad"/><rect x="189" y="126" fill="#3fafc0"/><rect x="192" y="126" fill="#39a3c6"/><rect x="195" y="126" fill="#3697c7"/><rect x="198" y="126" fill="#3699c7"/><rect x="201" y="126" fill="#38a0c7"/><rect x="204" y="126" fill="#39a2c6"/><rect x="207" y="126" fill="#3aa4c5"/><rect x="210" y="126" fill="#3ba6c4"/><rect x="213" y="126" fill="#3dabc2"/><rect x="216" y="126" fill="#43b0b6"/><rect x="219" y="126" fill="#5db092"/><rect x="222" y="126" fill="#94b25b"/><rect x="225" y="126" fill="#adb344"/><rect x="228" y="126" fill="#a6b349"/><rect x="231" y="126" fill="#81b16e"/><rect x="234" y="126" fill="#6cb083"/><rect x="237" y="126" fill="#78b077"/><rect x="240" y="126" fill="#93b25c"/><rect x="72" y="129" fill="#43b0b6"/><rect x="75" y="129" fill="#44b0b2"/><rect x="78" y="129" fill="#5eb091"/><rect x="81" y="129" fill="#77b078"/><rect x="84" y="129" fill="#67b088"/><rect x="87" y="129" fill="#45b0b0"/><rect x="90" y="129" fill="#3ca9c3"/><rect x="93" y="129" fill="#38a1c7"/><rect x="96" y="129" fill="#39a2c6"/><rect x="99" y="129" fill="#3ca9c3"/><rect x="102" y="129" fill="#42b0b8"/><rect x="105" y="129" fill="#46b0ab"/><rect x="108" y="129" fill="#46b0ad"/><rect x="111" y="129" fill="#41b0ba"/><rect x="114" y="129" fill="#3aa5c5"/><rect x="117" y="129" fill="#3387c5"/><rect x="120" y="129" fill="#3179c4"/><rect x="123" y="129" fill="#3385c5"/><rect x="126" y="129" fill="#3697c7"/><rect x="129" y="129" fill="#379ac7"/><rect x="132" y="129" fill="#3593c6"/><rect x="135" y="129" fill="#3387c5"/><rect x="138" y="129" fill="#3385c5"/><rect x="141" y="129" fill="#3697c7"/><rect x="144" y="129" fill="#3aa5c5"/><rect x="147" y="129" fill="#3ca8c3"/><rect x="150" y="129" fill="#3ca9c3"/><rect x="153" y="129" fill="#3eadc1"/><rect x="156" y="129" fill="#42b0b8"/><rect x="159" y="129" fill="#46b0ac"/><rect x="162" y="129" fill="#4fb0a0"/><rect x="165" y="129" fill="#6cb083"/><rect x="168" y="129" fill="#a3b34c"/><rect x="171" y="129" fill="#bcb13c"/><rect x="174" y="129" fill="#b9b13e"/><rect x="177" y="129" fill="#99b256"/><rect x="180" y="129" fill="#67b088"/><rect x="183" y="129" fill="#4cb0a3"/><rect x="186" y="129" fill="#44b0b2"/><rect x="189" y="129" fill="#3daac2"/><rect x="192" y="129" fill="#379ac7"/><rect x="195" y="129" fill="#348bc6"/><rect x="198" y="129" fill="#358ec6"/><rect x="201" y="129" fill="#358fc6"/><rect x="204" y="129" fill="#348bc6"/><rect x="207" y="129" fill="#358fc6"/><rect x="210" y="129" fill="#379ec7"/><rect x="213" y="129" fill="#3ba7c4"/><rect x="216" y="129" fill="#40b0bd"/><rect x="219" y="129" fill="#50b09f"/><rect x="222" y="129" fill="#90b25f"/><rect x="225" y="129" fill="#aab346"/><rect x="228" y="129" fill="#94b25b"/><rect x="231" y="129" fill="#68b087"/><rect x="234" y="129" fill="#5eb091"/><rect x="237" y="129" fill="#7db072"/><rect x="240" y="129" fill="#a8b347"/><rect x="72" y="132" fill="#40b0be"/><rect x="75" y="132" fill="#42b0b7"/><rect x="78" y="132" fill="#57b098"/><rect x="81" y="132" fill="#77b078"/><rect x="84" y="132" fill="#79b076"/><rect x="87" y="132" fill="#63b08c"/><rect x="90" y="132" fill="#45b0b0"/><rect x="93" y="132" fill="#3daac2"/><rect x="96" y="132" fill="#3aa4c5"/><rect x="99" y="132" fill="#3daac2"/><rect x="102" y="132" fill="#45b0ae"/><rect x="105" y="132" fill="#67b088"/><rect x="108" y="132" fill="#56b099"/><rect x="111" y="132" fill="#44b0b3"/><rect x="114" y="132" fill="#3eadc1"/><rect x="117" y="132" fill="#3ba7c4"/><rect x="120" y="132" fill="#3aa5c5"/><rect x="123" y="132" fill="#3ba7c4"/><rect x="126" y="132" fill="#3ca8c3"/><rect x="129" y="132" fill="#3aa4c5"/><rect x="132" y="132" fill="#3698c7"/><rect x="135" y="132" fill="#3177c4"/><rect x="138" y="132" fill="#2e67c2"/><rect x="141" y="132" fill="#3281c5"/><rect x="144" y="132" fill="#38a0c7"/><rect x="147" y="132" fill="#3ba7c4"/><rect x="150" y="132" fill="#3eacc1"/><rect x="153" y="132" fill="#42b0b7"/><rect x="156" y="132" fill="#47b0a9"/><rect x="159" y="132" fill="#5bb094"/><rect x="162" y="132" fill="#77b078"/><rect x="165" y="132" fill="#aab346"/><rect x="168" y="132" fill="#c4ad37"/><rect x="171" y="132" fill="#c6a535"/><rect x="174" y="132" fill="#c2b038"/><rect x="177" y="132" fill="#9eb351"/><rect x="180" y="132" fill="#69b086"/><rect x="183" y="132" fill="#4db0a2"/><rect x="186" y="132" fill="#43b0b5"/><rect x="189" y="132" fill="#3ba7c4"/><rect x="192" y="132" fill="#3593c6"/><rect x="195" y="132" fill="#348dc6"/><rect x="198" y="132" fill="#3592c6"/><rect x="201" y="132" fill="#348cc6"/><rect x="204" y="132" fill="#3383c5"/><rect x="207" y="132" fill="#348bc6"/><rect x="210" y="132" fill="#38a0c7"/><rect x="213" y="132" fill="#3ba7c4"/><rect x="216" y="132" fill="#3eacc1"/><rect x="219" y="132" fill="#42b0b7"/><rect x="222" y="132" fill="#5db092"/><rect x="225" y="132" fill="#8cb263"/><rect x="228" y="132" fill="#84b16b"/><rect x="231" y="132" fill="#5fb090"/><rect x="234" y="132" fill="#5ab095"/><rect x="237" y="132" fill="#84b16b"/><rect x="240" y="132" fill="#adb344"/><rect x="72" y="135" fill="#42b0b8"/><rect x="75" y="135" fill="#43b0b5"/><rect x="78" y="135" fill="#47b0a8"/><rect x="81" y="135" fill="#5bb094"/><rect x="84" y="135" fill="#53b09c"/><rect x="87" y="135" fill="#47b0aa"/><rect x="90" y="135" fill="#42b0b8"/><rect x="93" y="135" fill="#3ca9c3"/><rect x="96" y="135" fill="#39a2c6"/><rect x="99" y="135" fill="#3ba7c4"/><rect x="102" y="135" fill="#46b0ab"/><rect x="105" y="135" fill="#8eb261"/><rect x="108" y="135" fill="#6eb081"/><rect x="111" y="135" fill="#45b0af"/><rect x="114" y="135" fill="#42b0b7"/><rect x="117" y="135" fill="#43b0b5"/><rect x="120" y="135" fill="#44b0b2"/><rect x="123" y="135" fill="#44b0b3"/><rect x="126" y="135" fill="#41b0bc"/><rect x="129" y="135" fill="#3ca9c3"/><rect x="132" y="135" fill="#379ac7"/><rect x="135" y="135" fill="#2f6cc3"/><rect x="138" y="135" fill="#2b55be"/><rect x="141" y="135" fill="#2e68c2"/><rect x="144" y="135" fill="#3382c5"/><rect x="147" y="135" fill="#3698c7"/><rect x="150" y="135" fill="#3ca8c3"/><rect x="153" y="135" fill="#42b0b8"/><rect x="156" y="135" fill="#45b0af"/><rect x="159" y="135" fill="#44b0b1"/><rect x="162" y="135" fill="#45b0af"/><rect x="165" y="135" fill="#5bb094"/><rect x="168" y="135" fill="#7fb170"/><rect x="171" y="135" fill="#7db072"/><rect x="174" y="135" fill="#5bb094"/><rect x="177" y="135" fill="#45b0ae"/><rect x="180" y="135" fill="#44b0b1"/><rect x="183" y="135" fill="#44b0b1"/><rect x="186" y="135" fill="#40b0be"/><rect x="189" y="135" fill="#39a3c6"/><rect x="192" y="135" fill="#3696c7"/><rect x="195" y="135" fill="#379dc7"/><rect x="198" y="135" fill="#379ec7"/><rect x="201" y="135" fill="#348ac6"/><rect x="204" y="135" fill="#327fc5"/><rect x="207" y="135" fill="#3592c6"/><rect x="210" y="135" fill="#3ba7c4"/><rect x="213" y="135" fill="#3dabc2"/><rect x="216" y="135" fill="#3ca8c3"/><rect x="219" y="135" fill="#3dabc2"/><rect x="222" y="135" fill="#45b0ae"/><rect x="225" y="135" fill="#76b079"/><rect x="228" y="135" fill="#83b16c"/><rect x="231" y="135" fill="#62b08d"/><rect x="234" y="135" fill="#59b096"/><rect x="237" y="135" fill="#78b077"/><rect x="240" y="135" fill="#9db352"/><rect x="72" y="138" fill="#42b0b8"/><rect x="75" y="138" fill="#41b0bc"/><rect x="78" y="138" fill="#42b0b8"/><rect x="81" y="138" fill="#43b0b6"/><rect x="84" y="138" fill="#40b0bd"/><rect x="87" y="138" fill="#3eadc1"/><rect x="90" y="138" fill="#3dabc2"/><rect x="93" y="138" fill="#3ba6c4"/><rect x="96" y="138" fill="#379dc7"/><rect x="99" y="138" fill="#38a1c7"/><rect x="102" y="138" fill="#47b0aa"/><rect x="105" y="138" fill="#b5b240"/><rect x="108" y="138" fill="#9eb351"/><rect x="111" y="138" fill="#4bb0a4"/><rect x="114" y="138" fill="#45b0b0"/><rect x="117" y="138" fill="#45b0af"/><rect x="120" y="138" fill="#46b0ad"/><rect x="123" y="138" fill="#45b0af"/><rect x="126" y="138" fill="#42b0b9"/><rect x="129" y="138" fill="#3ca8c3"/><rect x="132" y="138" fill="#3698c7"/><rect x="135" y="138" fill="#317ac4"/><rect x="138" y="138" fill="#2f6bc3"/><rect x="141" y="138" fill="#3070c4"/><rect x="144" y="138" fill="#3179c4"/><rect x="147" y="138" fill="#358fc6"/><rect x="150" y="138" fill="#3daac2"/><rect x="153" y="138" fill="#46b0ab"/><rect x="156" y="138" fill="#5cb093"/><rect x="159" y="138" fill="#4ab0a5"/><rect x="162" y="138" fill="#45b0ae"/><rect x="165" y="138" fill="#47b0a9"/><rect x="168" y="138" fill="#4fb0a0"/><rect x="171" y="138" fill="#46b0ac"/><rect x="174" y="138" fill="#42b0b9"/><rect x="177" y="138" fill="#3fafc0"/><rect x="180" y="138" fill="#41b0ba"/><rect x="183" y="138" fill="#44b0b3"/><rect x="186" y="138" fill="#41b0bb"/><rect x="189" y="138" fill="#3daac2"/><rect x="192" y="138" fill="#3ca8c3"/><rect x="195" y="138" fill="#3daac2"/><rect x="198" y="138" fill="#3aa4c5"/><rect x="201" y="138" fill="#3384c5"/><rect x="204" y="138" fill="#3176c4"/><rect x="207" y="138" fill="#3593c6"/><rect x="210" y="138" fill="#3ca9c3"/><rect x="213" y="138" fill="#3eacc1"/><rect x="216" y="138" fill="#3ca9c3"/><rect x="219" y="138" fill="#3fafc0"/><rect x="222" y="138" fill="#4fb0a0"/><rect x="225" y="138" fill="#94b25b"/><rect x="228" y="138" fill="#a0b34f"/><rect x="231" y="138" fill="#79b076"/><rect x="234" y="138" fill="#5fb090"/><rect x="237" y="138" fill="#64b08b"/><rect x="240" y="138" fill="#73b07c"/><rect x="72" y="141" fill="#40b0be"/><rect x="75" y="141" fill="#40b0bf"/><rect x="78" y="141" fill="#40b0be"/><rect x="81" y="141" fill="#3faec0"/><rect x="84" y="141" fill="#3ba7c4"/><rect x="87" y="141" fill="#3aa4c5"/><rect x="90" y="141" fill="#3ba7c4"/><rect x="93" y="141" fill="#3ba7c4"/><rect x="96" y="141" fill="#38a1c7"/><rect x="99" y="141" fill="#39a2c6"/><rect x="102" y="141" fill="#5cb093"/><rect x="105" y="141" fill="#c89f33"/><rect x="108" y="141" fill="#c4af37"/><rect x="111" y="141" fill="#6ab085"/><rect x="114" y="141" fill="#46b0ac"/><rect x="117" y="141" fill="#44b0b3"/><rect x="120" y="141" fill="#43b0b5"/><rect x="123" y="141" fill="#43b0b6"/><rect x="126" y="141" fill="#40b0bf"/><rect x="129" y="141" fill="#3aa4c5"/><rect x="132" y="141" fill="#358ec6"/><rect x="135" y="141" fill="#327ec5"/><rect x="138" y="141" fill="#3280c5"/><rect x="141" y="141" fill="#3385c5"/><rect x="144" y="141" fill="#3386c5"/><rect x="147" y="141" fill="#3698c7"/><rect x="150" y="141" fill="#3eacc1"/><rect x="153" y="141" fill="#47b0a9"/><rect x="156" y="141" fill="#63b08c"/><rect x="159" y="141" fill="#57b098"/><rect x="162" y="141" fill="#47b0aa"/><rect x="165" y="141" fill="#47b0aa"/><rect x="168" y="141" fill="#46b0ac"/><rect x="171" y="141" fill="#43b0b4"/><rect x="174" y="141" fill="#41b0ba"/><rect x="177" y="141" fill="#40b0be"/><rect x="180" y="141" fill="#40b0bd"/><rect x="183" y="141" fill="#41b0bb"/><rect x="186" y="141" fill="#41b0bc"/><rect x="189" y="141" fill="#40b0be"/><rect x="192" y="141" fill="#40b0bd"/><rect x="195" y="141" fill="#3faec0"/><rect x="198" y="141" fill="#39a2c6"/><rect x="201" y="141" fill="#317bc4"/><rect x="204" y="141" fill="#3071c4"/><rect x="207" y="141" fill="#3592c6"/><rect x="210" y="141" fill="#3ca9c3"/><rect x="213" y="141" fill="#3eadc1"/><rect x="216" y="141" fill="#40b0be"/><rect x="219" y="141" fill="#47b0a8"/><rect x="222" y="141" fill="#8eb261"/><rect x="225" y="141" fill="#b4b240"/><rect x="228" y="141" fill="#b5b240"/><rect x="231" y="141" fill="#9eb351"/><rect x="234" y="141" fill="#76b079"/><rect x="237" y="141" fill="#65b08a"/><rect x="240" y="141" fill="#64b08b"/><rect x="72" y="144" fill="#41b0bb"/><rect x="75" y="144" fill="#44b0b2"/><rect x="78" y="144" fill="#45b0af"/><rect x="81" y="144" fill="#41b0bb"/><rect x="84" y="144" fill="#3ca9c3"/><rect x="87" y="144" fill="#3ba7c4"/><rect x="90" y="144" fill="#3eadc1"/><rect x="93" y="144" fill="#41b0bc"/><rect x="96" y="144" fill="#3fafc0"/><rect x="99" y="144" fill="#40b0bd"/><rect x="102" y="144" fill="#9eb351"/><rect x="105" y="144" fill="#ca7c30"/><rect x="108" y="144" fill="#c8a033"/><rect x="111" y="144" fill="#78b077"/><rect x="114" y="144" fill="#46b0ad"/><rect x="117" y="144" fill="#41b0ba"/><rect x="120" y="144" fill="#40b0bf"/><rect x="123" y="144" fill="#40b0bf"/><rect x="126" y="144" fill="#3eacc1"/><rect x="129" y="144" fill="#38a0c7"/><rect x="132" y="144" fill="#3281c5"/><rect x="135" y="144" fill="#3177c4"/><rect x="138" y="144" fill="#3386c5"/><rect x="141" y="144" fill="#3698c7"/><rect x="144" y="144" fill="#38a0c7"/><rect x="147" y="144" fill="#3aa5c5"/><rect x="150" y="144" fill="#3faec0"/><rect x="153" y="144" fill="#44b0b3"/><rect x="156" y="144" fill="#46b0ab"/><rect x="159" y="144" fill="#46b0ad"/><rect x="162" y="144" fill="#45b0af"/><rect x="165" y="144" fill="#46b0ac"/><rect x="168" y="144" fill="#47b0aa"/><rect x="171" y="144" fill="#47b0a9"/><rect x="174" y="144" fill="#4cb0a3"/><rect x="177" y="144" fill="#47b0a9"/><rect x="180" y="144" fill="#42b0b7"/><rect x="183" y="144" fill="#3faec0"/><rect x="186" y="144" fill="#3faec0"/><rect x="189" y="144" fill="#41b0bc"/><rect x="192" y="144" fill="#41b0bb"/><rect x="195" y="144" fill="#3eacc1"/><rect x="198" y="144" fill="#38a0c7"/><rect x="201" y="144" fill="#327ec5"/><rect x="204" y="144" fill="#327cc5"/><rect x="207" y="144" fill="#38a0c7"/><rect x="210" y="144" fill="#40b0be"/><rect x="213" y="144" fill="#43b0b4"/><rect x="216" y="144" fill="#46b0ab"/><rect x="219" y="144" fill="#73b07c"/><rect x="222" y="144" fill="#a2b34d"/><rect x="225" y="144" fill="#abb345"/><rect x="228" y="144" fill="#aab346"/><rect x="231" y="144" fill="#97b258"/><rect x="234" y="144" fill="#6fb080"/><rect x="237" y="144" fill="#4fb0a0"/><rect x="240" y="144" fill="#46b0ab"/><rect x="72" y="147" fill="#47b0aa"/><rect x="75" y="147" fill="#5fb090"/><rect x="78" y="147" fill="#61b08e"/><rect x="81" y="147" fill="#46b0ad"/><rect x="84" y="147" fill="#40b0bd"/><rect x="87" y="147" fill="#40b0bf"/><rect x="90" y="147" fill="#43b0b4"/><rect x="93" y="147" fill="#47b0a8"/><rect x="96" y="147" fill="#51b09e"/><rect x="99" y="147" fill="#60b08f"/><rect x="102" y="147" fill="#c6a735"/><rect x="105" y="147" fill="#c85630"/><rect x="108" y="147" fill="#c99c32"/><rect x="111" y="147" fill="#6db082"/><rect x="114" y="147" fill="#44b0b2"/><rect x="117" y="147" fill="#40b0bf"/><rect x="120" y="147" fill="#3faec0"/><rect x="123" y="147" fill="#40b0bf"/><rect x="126" y="147" fill="#3eacc1"/><rect x="129" y="147" fill="#38a0c7"/><rect x="132" y="147" fill="#3384c5"/><rect x="135" y="147" fill="#327cc5"/><rect x="138" y="147" fill="#348dc6"/><rect x="141" y="147" fill="#38a1c7"/><rect x="144" y="147" fill="#3ba6c4"/><rect x="147" y="147" fill="#3ca8c3"/><rect x="150" y="147" fill="#3dabc2"/><rect x="153" y="147" fill="#3faec0"/><rect x="156" y="147" fill="#3faec0"/><rect x="159" y="147" fill="#3fafc0"/><rect x="162" y="147" fill="#41b0ba"/><rect x="165" y="147" fill="#46b0ad"/><rect x="168" y="147" fill="#53b09c"/><rect x="171" y="147" fill="#66b089"/><rect x="174" y="147" fill="#7ab075"/><rect x="177" y="147" fill="#6db082"/><rect x="180" y="147" fill="#45b0ae"/><rect x="183" y="147" fill="#3faec0"/><rect x="186" y="147" fill="#3dabc2"/><rect x="189" y="147" fill="#3eacc1"/><rect x="192" y="147" fill="#3eacc1"/><rect x="195" y="147" fill="#3ca9c3"/><rect x="198" y="147" fill="#38a1c7"/><rect x="201" y="147" fill="#348dc6"/><rect x="204" y="147" fill="#358fc6"/><rect x="207" y="147" fill="#3ca8c3"/><rect x="210" y="147" fill="#46b0ad"/><rect x="213" y="147" fill="#57b098"/><rect x="216" y="147" fill="#62b08d"/><rect x="219" y="147" fill="#72b07d"/><rect x="222" y="147" fill="#6eb081"/><rect x="225" y="147" fill="#5db092"/><rect x="228" y="147" fill="#5ab095"/><rect x="231" y="147" fill="#51b09e"/><rect x="234" y="147" fill="#44b0b2"/><rect x="237" y="147" fill="#3eadc1"/><rect x="240" y="147" fill="#3ca8c3"/><rect x="72" y="150" fill="#7db072"/><rect x="75" y="150" fill="#88b167"/><rect x="78" y="150" fill="#73b07c"/><rect x="81" y="150" fill="#4bb0a4"/><rect x="84" y="150" fill="#44b0b1"/><rect x="87" y="150" fill="#44b0b3"/><rect x="90" y="150" fill="#45b0af"/><rect x="93" y="150" fill="#4bb0a4"/><rect x="96" y="150" fill="#62b08d"/><rect x="99" y="150" fill="#89b166"/><rect x="102" y="150" fill="#ca8330"/><rect x="105" y="150" fill="#c2342e"/><rect x="108" y="150" fill="#cb9630"/><rect x="111" y="150" fill="#6eb081"/><rect x="114" y="150" fill="#45b0af"/><rect x="117" y="150" fill="#41b0bb"/><rect x="120" y="150" fill="#3fafc0"/><rect x="123" y="150" fill="#41b0bc"/><rect x="126" y="150" fill="#41b0bc"/><rect x="129" y="150" fill="#3daac2"/><rect x="132" y="150" fill="#38a1c7"/><rect x="135" y="150" fill="#3699c7"/><rect x="138" y="150" fill="#379cc7"/><rect x="141" y="150" fill="#39a2c6"/><rect x="144" y="150" fill="#39a2c6"/><rect x="147" y="150" fill="#38a1c7"/><rect x="150" y="150" fill="#38a1c7"/><rect x="153" y="150" fill="#39a3c6"/><rect x="156" y="150" fill="#39a3c6"/><rect x="159" y="150" fill="#3aa5c5"/><rect x="162" y="150" fill="#40b0be"/><rect x="165" y="150" fill="#4db0a2"/><rect x="168" y="150" fill="#6fb080"/><rect x="171" y="150" fill="#7cb073"/><rect x="174" y="150" fill="#84b16b"/><rect x="177" y="150" fill="#75b07a"/><rect x="180" y="150" fill="#47b0a8"/><rect x="183" y="150" fill="#40b0be"/><rect x="186" y="150" fill="#3daac2"/><rect x="189" y="150" fill="#3ba6c4"/><rect x="192" y="150" fill="#3aa4c5"/><rect x="195" y="150" fill="#39a2c6"/><rect x="198" y="150" fill="#379dc7"/><rect x="201" y="150" fill="#358ec6"/><rect x="204" y="150" fill="#358ec6"/><rect x="207" y="150" fill="#3ba6c4"/><rect x="210" y="150" fill="#45b0b0"/><rect x="213" y="150" fill="#61b08e"/><rect x="216" y="150" fill="#67b088"/><rect x="219" y="150" fill="#56b099"/><rect x="222" y="150" fill="#45b0b0"/><rect x="225" y="150" fill="#40b0be"/><rect x="228" y="150" fill="#3fafc0"/><rect x="231" y="150" fill="#3eadc1"/><rect x="234" y="150" fill="#3ba6c4"/><rect x="237" y="150" fill="#379ec7"/><rect x="240" y="150" fill="#3695c7"/><rect x="72" y="153" fill="#adb344"/><rect x="75" y="153" fill="#a5b34a"/><rect x="78" y="153" fill="#7fb170"/><rect x="81" y="153" fill="#59b096"/><rect x="84" y="153" fill="#47b0a9"/><rect x="87" y="153" fill="#44b0b1"/><rect x="90" y="153" fill="#42b0b9"/><rect x="93" y="153" fill="#42b0b8"/><rect x="96" y="153" fill="#46b0ab"/><rect x="99" y="153" fill="#7eb171"/><rect x="102" y="153" fill="#c97130"/><rect x="105" y="153" fill="#b52b29"/><rect x="108" y="153" fill="#cb8930"/><rect x="111" y="153" fill="#8bb164"/><rect x="114" y="153" fill="#5bb094"/><rect x="117" y="153" fill="#47b0a9"/><rect x="120" y="153" fill="#43b0b6"/><rect x="123" y="153" fill="#42b0b8"/><rect x="126" y="153" fill="#45b0b0"/><rect x="129" y="153" fill="#46b0ad"/><rect x="132" y="153" fill="#43b0b4"/><rect x="135" y="153" fill="#40b0bf"/><rect x="138" y="153" fill="#3ca9c3"/><rect x="141" y="153" fill="#3aa4c5"/><rect x="144" y="153" fill="#379bc7"/><rect x="147" y="153" fill="#348dc6"/><rect x="150" y="153" fill="#358ec6"/><rect x="153" y="153" fill="#3695c7"/><rect x="156" y="153" fill="#3698c7"/><rect x="159" y="153" fill="#39a2c6"/><rect x="162" y="153" fill="#40b0bd"/><rect x="165" y="153" fill="#5db092"/><rect x="168" y="153" fill="#85b16a"/><rect x="171" y="153" fill="#84b16b"/><rect x="174" y="153" fill="#76b079"/><rect x="177" y="153" fill="#62b08d"/><rect x="180" y="153" fill="#47b0aa"/><rect x="183" y="153" fill="#41b0ba"/><rect x="186" y="153" fill="#3eacc1"/><rect x="189" y="153" fill="#3ba6c4"/><rect x="192" y="153" fill="#39a2c6"/><rect x="195" y="153" fill="#379fc7"/><rect x="198" y="153" fill="#3694c7"/><rect x="201" y="153" fill="#3384c5"/><rect x="204" y="153" fill="#327ec5"/><rect x="207" y="153" fill="#3593c6"/><rect x="210" y="153" fill="#3eacc1"/><rect x="213" y="153" fill="#46b0ac"/><rect x="216" y="153" fill="#4fb0a0"/><rect x="219" y="153" fill="#46b0ab"/><rect x="222" y="153" fill="#42b0b9"/><rect x="225" y="153" fill="#3dabc2"/><rect x="228" y="153" fill="#3ba7c4"/><rect x="231" y="153" fill="#3aa5c5"/><rect x="234" y="153" fill="#379ec7"/><rect x="237" y="153" fill="#3593c6"/><rect x="240" y="153" fill="#3590c6"/><rect x="72" y="156" fill="#b8b13e"/><rect x="75" y="156" fill="#b2b242"/><rect x="78" y="156" fill="#99b256"/><rect x="81" y="156" fill="#72b07d"/><rect x="84" y="156" fill="#55b09a"/><rect x="87" y="156" fill="#44b0b2"/><rect x="90" y="156" fill="#3eacc1"/><rect x="93" y="156" fill="#3ca9c3"/><rect x="96" y="156" fill="#40b0bd"/><rect x="99" y="156" fill="#59b096"/><rect x="102" y="156" fill="#cb9430"/><rect x="105" y="156" fill="#c83d30"/><rect x="108" y="156" fill="#cb9730"/><rect x="111" y="156" fill="#97b258"/><rect x="114" y="156" fill="#86b169"/><rect x="117" y="156" fill="#80b16f"/><rect x="120" y="156" fill="#52b09d"/><rect x="123" y="156" fill="#45b0af"/><rect x="126" y="156" fill="#50b09f"/><rect x="129" y="156" fill="#6db082"/><rect x="132" y="156" fill="#6cb083"/><rect x="135" y="156" fill="#4eb0a1"/><rect x="138" y="156" fill="#42b0b8"/><rect x="141" y="156" fill="#3ca9c3"/><rect x="144" y="156" fill="#379bc7"/><rect x="147" y="156" fill="#3488c6"/><rect x="150" y="156" fill="#3489c6"/><rect x="153" y="156" fill="#3593c6"/><rect x="156" y="156" fill="#3697c7"/><rect x="159" y="156" fill="#38a0c7"/><rect x="162" y="156" fill="#3eacc1"/><rect x="165" y="156" fill="#47b0a8"/><rect x="168" y="156" fill="#77b078"/><rect x="171" y="156" fill="#7db072"/><rect x="174" y="156" fill="#61b08e"/><rect x="177" y="156" fill="#47b0a9"/><rect x="180" y="156" fill="#44b0b3"/><rect x="183" y="156" fill="#42b0b7"/><rect x="186" y="156" fill="#41b0ba"/><rect x="189" y="156" fill="#40b0be"/><rect x="192" y="156" fill="#3eacc1"/><rect x="195" y="156" fill="#3ba6c4"/><rect x="198" y="156" fill="#379ec7"/><rect x="201" y="156" fill="#3590c6"/><rect x="204" y="156" fill="#3488c6"/><rect x="207" y="156" fill="#3590c6"/><rect x="210" y="156" fill="#3aa4c5"/><rect x="213" y="156" fill="#40b0be"/><rect x="216" y="156" fill="#45b0b0"/><rect x="219" y="156" fill="#46b0ab"/><rect x="222" y="156" fill="#45b0af"/><rect x="225" y="156" fill="#41b0ba"/><rect x="228" y="156" fill="#3eadc1"/><rect x="231" y="156" fill="#3ba6c4"/><rect x="234" y="156" fill="#379ac7"/><rect x="237" y="156" fill="#348cc6"/><rect x="240" y="156" fill="#3488c6"/><rect x="72" y="159" fill="#abb346"/><rect x="75" y="159" fill="#adb345"/><rect x="78" y="159" fill="#a1b34e"/><rect x="81" y="159" fill="#7bb074"/><rect x="84" y="159" fill="#53b09c"/><rect x="87" y="159" fill="#42b0b8"/><rect x="90" y="159" fill="#3ba7c4"/><rect x="93" y="159" fill="#3aa5c5"/><rect x="96" y="159" fill="#3dabc2"/><rect x="99" y="159" fill="#44b0b3"/><rect x="102" y="159" fill="#a6b349"/><rect x="105" y="159" fill="#ca9a31"/><rect x="108" y="159" fill="#b1b242"/><rect x="111" y="159" fill="#71b07e"/><rect x="114" y="159" fill="#8eb261"/><rect x="117" y="159" fill="#acb345"/><rect x="120" y="159" fill="#89b166"/><rect x="123" y="159" fill="#59b096"/><rect x="126" y="159" fill="#5cb093"/><rect x="129" y="159" fill="#70b07f"/><rect x="132" y="159" fill="#6eb081"/><rect x="135" y="159" fill="#54b09b"/><rect x="138" y="159" fill="#44b0b3"/><rect x="141" y="159" fill="#3dabc2"/><rect x="144" y="159" fill="#379fc7"/><rect x="147" y="159" fill="#358fc6"/><rect x="150" y="159" fill="#3592c6"/><rect x="153" y="159" fill="#3697c7"/><rect x="156" y="159" fill="#3695c7"/><rect x="159" y="159" fill="#3698c7"/><rect x="162" y="159" fill="#3aa5c5"/><rect x="165" y="159" fill="#42b0b7"/><rect x="168" y="159" fill="#5db092"/><rect x="171" y="159" fill="#68b087"/><rect x="174" y="159" fill="#48b0a7"/><rect x="177" y="159" fill="#43b0b5"/><rect x="180" y="159" fill="#42b0b8"/><rect x="183" y="159" fill="#43b0b4"/><rect x="186" y="159" fill="#45b0b0"/><rect x="189" y="159" fill="#45b0af"/><rect x="192" y="159" fill="#42b0b7"/><rect x="195" y="159" fill="#3eacc1"/><rect x="198" y="159" fill="#3ba6c4"/><rect x="201" y="159" fill="#3aa5c5"/><rect x="204" y="159" fill="#3aa5c5"/><rect x="207" y="159" fill="#3ba6c4"/><rect x="210" y="159" fill="#3ca8c3"/><rect x="213" y="159" fill="#3faec0"/><rect x="216" y="159" fill="#44b0b2"/><rect x="219" y="159" fill="#51b09e"/><rect x="222" y="159" fill="#5eb091"/><rect x="225" y="159" fill="#4fb0a0"/><rect x="228" y="159" fill="#44b0b3"/><rect x="231" y="159" fill="#3dabc2"/><rect x="234" y="159" fill="#379cc7"/><rect x="237" y="159" fill="#3489c6"/><rect x="240" y="159" fill="#3382c5"/><rect x="72" y="162" fill="#55b09a"/><rect x="75" y="162" fill="#6ab085"/><rect x="78" y="162" fill="#71b07e"/><rect x="81" y="162" fill="#57b098"/><rect x="84" y="162" fill="#44b0b3"/><rect x="87" y="162" fill="#3dabc2"/><rect x="90" y="162" fill="#38a1c7"/><rect x="93" y="162" fill="#39a2c6"/><rect x="96" y="162" fill="#3ca8c3"/><rect x="99" y="162" fill="#3faec0"/><rect x="102" y="162" fill="#47b0a9"/><rect x="105" y="162" fill="#7bb074"/><rect x="108" y="162" fill="#60b08f"/><rect x="111" y="162" fill="#4eb0a1"/><rect x="114" y="162" fill="#7bb074"/><rect x="117" y="162" fill="#aeb344"/><rect x="120" y="162" fill="#a9b347"/><rect x="123" y="162" fill="#79b076"/><rect x="126" y="162" fill="#5fb090"/><rect x="129" y="162" fill="#56b099"/><rect x="132" y="162" fill="#48b0a7"/><rect x="135" y="162" fill="#44b0b1"/><rect x="138" y="162" fill="#41b0bb"/><rect x="141" y="162" fill="#3daac2"/><rect x="144" y="162" fill="#39a2c6"/><rect x="147" y="162" fill="#379bc7"/><rect x="150" y="162" fill="#379fc7"/><rect x="153" y="162" fill="#379cc7"/><rect x="156" y="162" fill="#3593c6"/><rect x="159" y="162" fill="#3696c7"/><rect x="162" y="162" fill="#3ba6c4"/><rect x="165" y="162" fill="#43b0b6"/><rect x="168" y="162" fill="#51b09e"/><rect x="171" y="162" fill="#4db0a2"/><rect x="174" y="162" fill="#43b0b4"/><rect x="177" y="162" fill="#40b0bd"/><rect x="180" y="162" fill="#42b0b9"/><rect x="183" y="162" fill="#44b0b3"/><rect x="186" y="162" fill="#43b0b4"/><rect x="189" y="162" fill="#41b0bb"/><rect x="192" y="162" fill="#3faec0"/><rect x="195" y="162" fill="#3daac2"/><rect x="198" y="162" fill="#3daac2"/><rect x="201" y="162" fill="#3fafc0"/><rect x="204" y="162" fill="#42b0b8"/><rect x="207" y="162" fill="#42b0b8"/><rect x="210" y="162" fill="#40b0be"/><rect x="213" y="162" fill="#40b0be"/><rect x="216" y="162" fill="#45b0b0"/><rect x="219" y="162" fill="#63b08c"/><rect x="222" y="162" fill="#7cb073"/><rect x="225" y="162" fill="#6db082"/><rect x="228" y="162" fill="#47b0a9"/><rect x="231" y="162" fill="#40b0bf"/><rect x="234" y="162" fill="#3ba6c4"/><rect x="237" y="162" fill="#38a1c7"/><rect x="240" y="162" fill="#379cc7"/><rect x="72" y="165" fill="#3ca9c3"/><rect x="75" y="165" fill="#42b0b9"/><rect x="78" y="165" fill="#47b0aa"/><rect x="81" y="165" fill="#45b0af"/><rect x="84" y="165" fill="#3eadc1"/><rect x="87" y="165" fill="#39a2c6"/><rect x="90" y="165" fill="#3696c7"/><rect x="93" y="165" fill="#379ec7"/><rect x="96" y="165" fill="#3ba6c4"/><rect x="99" y="165" fill="#3dabc2"/><rect x="102" y="165" fill="#41b0ba"/><rect x="105" y="165" fill="#46b0ab"/><rect x="108" y="165" fill="#48b0a7"/><rect x="111" y="165" fill="#50b09f"/><rect x="114" y="165" fill="#6cb083"/><rect x="117" y="165" fill="#92b25d"/><rect x="120" y="165" fill="#9bb354"/><rect x="123" y="165" fill="#7eb171"/><rect x="126" y="165" fill="#5bb094"/><rect x="129" y="165" fill="#46b0ab"/><rect x="132" y="165" fill="#43b0b6"/><rect x="135" y="165" fill="#40b0bf"/><rect x="138" y="165" fill="#3eadc1"/><rect x="141" y="165" fill="#3ba7c4"/><rect x="144" y="165" fill="#379fc7"/><rect x="147" y="165" fill="#3699c7"/><rect x="150" y="165" fill="#38a0c7"/><rect x="153" y="165" fill="#38a1c7"/><rect x="156" y="165" fill="#379ac7"/><rect x="159" y="165" fill="#38a1c7"/><rect x="162" y="165" fill="#3faec0"/><rect x="165" y="165" fill="#46b0ab"/><rect x="168" y="165" fill="#53b09c"/><rect x="171" y="165" fill="#46b0ad"/><rect x="174" y="165" fill="#40b0bd"/><rect x="177" y="165" fill="#3faec0"/><rect x="180" y="165" fill="#40b0bd"/><rect x="183" y="165" fill="#40b0be"/><rect x="186" y="165" fill="#3ba7c4"/><rect x="189" y="165" fill="#379cc7"/><rect x="192" y="165" fill="#379ec7"/><rect x="195" y="165" fill="#3ca8c3"/><rect x="198" y="165" fill="#42b0b8"/><rect x="201" y="165" fill="#4ab0a5"/><rect x="204" y="165" fill="#60b08f"/><rect x="207" y="165" fill="#50b09f"/><rect x="210" y="165" fill="#43b0b5"/><rect x="213" y="165" fill="#40b0bd"/><rect x="216" y="165" fill="#44b0b2"/><rect x="219" y="165" fill="#5cb093"/><rect x="222" y="165" fill="#76b079"/><rect x="225" y="165" fill="#65b08a"/><rect x="228" y="165" fill="#45b0ae"/><rect x="231" y="165" fill="#41b0bb"/><rect x="234" y="165" fill="#42b0b8"/><rect x="237" y="165" fill="#44b0b1"/><rect x="240" y="165" fill="#44b0b3"/><rect x="72" y="168" fill="#3694c7"/><rect x="75" y="168" fill="#3daac2"/><rect x="78" y="168" fill="#45b0af"/><rect x="81" y="168" fill="#45b0af"/><rect x="84" y="168" fill="#3eacc1"/><rect x="87" y="168" fill="#379ec7"/><rect x="90" y="168" fill="#3591c6"/><rect x="93" y="168" fill="#379ac7"/><rect x="96" y="168" fill="#3aa4c5"/><rect x="99" y="168" fill="#3ca9c3"/><rect x="102" y="168" fill="#3eadc1"/><rect x="105" y="168" fill="#43b0b6"/><rect x="108" y="168" fill="#4ab0a5"/><rect x="111" y="168" fill="#63b08c"/><rect x="114" y="168" fill="#68b087"/><rect x="117" y="168" fill="#6cb083"/><rect x="120" y="168" fill="#75b07a"/><rect x="123" y="168" fill="#6eb081"/><rect x="126" y="168" fill="#54b09b"/><rect x="129" y="168" fill="#45b0b0"/><rect x="132" y="168" fill="#40b0bd"/><rect x="135" y="168" fill="#3eadc1"/><rect x="138" y="168" fill="#3ca9c3"/><rect x="141" y="168" fill="#38a1c7"/><rect x="144" y="168" fill="#358fc6"/><rect x="147" y="168" fill="#348bc6"/><rect x="150" y="168" fill="#379ac7"/><rect x="153" y="168" fill="#39a2c6"/><rect x="156" y="168" fill="#38a1c7"/><rect x="159" y="168" fill="#3ba7c4"/><rect x="162" y="168" fill="#43b0b6"/><rect x="165" y="168" fill="#52b09d"/><rect x="168" y="168" fill="#59b096"/><rect x="171" y="168" fill="#45b0ae"/><rect x="174" y="168" fill="#40b0bf"/><rect x="177" y="168" fill="#3faec0"/><rect x="180" y="168" fill="#3faec0"/><rect x="183" y="168" fill="#3ba7c4"/><rect x="186" y="168" fill="#348cc6"/><rect x="189" y="168" fill="#3074c4"/><rect x="192" y="168" fill="#348ac6"/><rect x="195" y="168" fill="#3faec0"/><rect x="198" y="168" fill="#65b08a"/><rect x="201" y="168" fill="#9eb351"/><rect x="204" y="168" fill="#a4b34b"/><rect x="207" y="168" fill="#79b076"/><rect x="210" y="168" fill="#46b0ac"/><rect x="213" y="168" fill="#41b0bb"/><rect x="216" y="168" fill="#42b0b7"/><rect x="219" y="168" fill="#47b0a8"/><rect x="222" y="168" fill="#5fb090"/><rect x="225" y="168" fill="#4fb0a0"/><rect x="228" y="168" fill="#42b0b7"/><rect x="231" y="168" fill="#41b0bb"/><rect x="234" y="168" fill="#4cb0a3"/><rect x="237" y="168" fill="#80b16f"/><rect x="240" y="168" fill="#7fb170"/></g><rect x="60" y="30" width="185" height="140" filter="url(#veins)" opacity="0.16" style="mix-blend-mode:multiply"/><rect x="60" y="30" width="185" height="140" filter="url(#noise)" opacity="0.35"/></g><path d="M107,37.6 L158.3,37.6" stroke="#111" stroke-width="1.4"/><path d="M158.3,35.4 L233.4,35.4" stroke="#333" stroke-width="0.8"/><path d="M117,140.3 L191,140.3" stroke="#222" stroke-width="1"/><path d="M99,37.6 C91,39 81,42.5 73.3,46.8 L73.1,67 L71.6,71.5 L72.6,76 L72.6,125 C73,132 77,137.5 83,140.5 L93.6,145.7 L89.8,166.5 L112,166.5" stroke="#fff" stroke-width="3.6" fill="none" stroke-linejoin="round"/></g>
<text x="-1.4" y="9.6" font-size="18.5" text-anchor="start" font-weight="bold" fill="#000" >a</text>
<text x="37" y="17.5" font-size="13" text-anchor="start" font-weight="bold" fill="#111" >Azimuth</text>
<text x="254" y="17.6" font-size="13" text-anchor="start" font-weight="bold" fill="#111" >Elevation</text>
<text x="475" y="17.5" font-size="13" text-anchor="start" font-weight="bold" fill="#111" >RF Size</text>
<text x="137" y="27.9" font-size="12.2" text-anchor="middle" fill="#222" >Lateral</text>
<text x="0" y="0" font-size="12.6" text-anchor="middle" fill="#222" transform="translate(25,100.4) rotate(-90)">Anterior</text>
<rect x="148.3" y="156.2" width="67.3" height="12.4" fill="url(#jet)"/>
<text x="146.5" y="167.1" font-size="13.8" text-anchor="end" fill="#111" >-75</text>
<text x="218.3" y="167.1" font-size="13.8" text-anchor="start" fill="#111" >30</text>
<text x="138.2" y="186.8" font-size="14.4" text-anchor="start" fill="#111" >Azimuth (deg.)</text>
<rect x="374.2" y="153" width="67.9" height="12.5" fill="url(#jet)"/>
<text x="370.3" y="164.5" font-size="13.8" text-anchor="end" fill="#111" >-30</text>
<text x="445.7" y="164.5" font-size="13.8" text-anchor="start" fill="#111" >30</text>
<text x="364.7" y="183" font-size="14.4" text-anchor="start" fill="#111" >Elevation (deg.)</text>
<rect x="592.6" y="150.4" width="67.4" height="12.8" fill="url(#jet)"/>
<text x="588.4" y="162.4" font-size="13.8" text-anchor="end" fill="#111" >15</text>
<text x="662.6" y="162.4" font-size="13.8" text-anchor="start" fill="#111" >50</text>
<text x="576.3" y="180.8" font-size="14.4" text-anchor="start" fill="#111" >RF size (FWHM)</text>
<text x="-1.6" y="254" font-size="18" text-anchor="start" font-weight="bold" fill="#000" >b</text>
<g stroke="#dcdcdc" stroke-width="0.8" fill="none"><path d="M56.6,409.6 L150.4,325.2 L312.2,374.7"/><path d="M56.6,385.98 L150.4,301.58 L312.2,351.08"/><path d="M56.6,362.36 L150.4,277.96 L312.2,327.46"/><path d="M56.6,338.74 L150.4,254.33999999999997 L312.2,303.84"/><path d="M56.6,315.12 L150.4,230.71999999999997 L312.2,280.21999999999997"/><path d="M56.6,291.5 L150.4,207.09999999999997 L312.2,256.59999999999997"/><path d="M74.1,393.8 L74.1,275.7"/><path d="M99.6,370.9 L99.6,252.8"/><path d="M125.0,348.1 L125.0,230.0"/><path d="M150.4,325.2 L150.4,207.1"/><path d="M204.3,341.7 L204.3,223.6"/><path d="M258.3,358.2 L258.3,240.1"/><path d="M312.2,374.7 L312.2,256.6"/></g>
<polygon points="56.6,409.6 150.4,325.2 312.2,374.7 218.4,459.09999999999997" fill="#3e26a8"/>
<g clip-path="url(#cfp)"><g filter="url(#blur1)" class="cells"><rect x="92" y="354" fill="#f6bf3d"/><rect x="95" y="354" fill="#f6bf3d"/><rect x="98" y="354" fill="#f6c03d"/><rect x="101" y="354" fill="#f6c03d"/><rect x="104" y="354" fill="#f6c03d"/><rect x="107" y="354" fill="#f6c03d"/><rect x="110" y="354" fill="#f6c03d"/><rect x="113" y="354" fill="#f6c13c"/><rect x="116" y="354" fill="#f6c33c"/><rect x="119" y="354" fill="#f5c83a"/><rect x="122" y="354" fill="#f4cb39"/><rect x="125" y="354" fill="#f4cb39"/><rect x="128" y="354" fill="#f4cb39"/><rect x="131" y="354" fill="#f4cb39"/><rect x="134" y="354" fill="#f5c93a"/><rect x="137" y="354" fill="#f6c23c"/><rect x="140" y="354" fill="#f6b840"/><rect x="143" y="354" fill="#f0b940"/><rect x="146" y="354" fill="#efba40"/><rect x="149" y="354" fill="#efba40"/><rect x="152" y="354" fill="#eeba40"/><rect x="155" y="354" fill="#eeba40"/><rect x="158" y="354" fill="#ebbb40"/><rect x="161" y="354" fill="#e8bb40"/><rect x="164" y="354" fill="#e2bc42"/><rect x="167" y="354" fill="#debd43"/><rect x="170" y="354" fill="#d7be47"/><rect x="173" y="354" fill="#ccbf4b"/><rect x="176" y="354" fill="#c5c04e"/><rect x="179" y="354" fill="#c2c14f"/><rect x="182" y="354" fill="#c2c150"/><rect x="185" y="354" fill="#c1c150"/><rect x="188" y="354" fill="#bfc151"/><rect x="191" y="354" fill="#bdc252"/><rect x="194" y="354" fill="#bbc252"/><rect x="197" y="354" fill="#bac253"/><rect x="200" y="354" fill="#bdc252"/><rect x="203" y="354" fill="#c2c150"/><rect x="206" y="354" fill="#c3c14f"/><rect x="209" y="354" fill="#bbc253"/><rect x="212" y="354" fill="#afc458"/><rect x="215" y="354" fill="#a7c45c"/><rect x="218" y="354" fill="#a5c45d"/><rect x="221" y="354" fill="#a3c45e"/><rect x="224" y="354" fill="#a2c45e"/><rect x="227" y="354" fill="#a1c45f"/><rect x="230" y="354" fill="#a0c45f"/><rect x="233" y="354" fill="#9fc460"/><rect x="236" y="354" fill="#9dc461"/><rect x="239" y="354" fill="#9ac462"/><rect x="242" y="354" fill="#97c464"/><rect x="245" y="354" fill="#96c464"/><rect x="92" y="357" fill="#f6bf3d"/><rect x="95" y="357" fill="#f6bf3d"/><rect x="98" y="357" fill="#f6bf3d"/><rect x="101" y="357" fill="#f6c03d"/><rect x="104" y="357" fill="#f6c03d"/><rect x="107" y="357" fill="#f6c03d"/><rect x="110" y="357" fill="#f6c13c"/><rect x="113" y="357" fill="#f6c23c"/><rect x="116" y="357" fill="#f5c43b"/><rect x="119" y="357" fill="#f5c83a"/><rect x="122" y="357" fill="#f4ca39"/><rect x="125" y="357" fill="#f4ca39"/><rect x="128" y="357" fill="#f4ca39"/><rect x="131" y="357" fill="#f5c93a"/><rect x="134" y="357" fill="#f5c73a"/><rect x="137" y="357" fill="#f6c13c"/><rect x="140" y="357" fill="#f7b840"/><rect x="143" y="357" fill="#f2b940"/><rect x="146" y="357" fill="#f0b940"/><rect x="149" y="357" fill="#f0b940"/><rect x="152" y="357" fill="#efba40"/><rect x="155" y="357" fill="#eeba40"/><rect x="158" y="357" fill="#ecba40"/><rect x="161" y="357" fill="#eabb40"/><rect x="164" y="357" fill="#e8bb40"/><rect x="167" y="357" fill="#e5bc41"/><rect x="170" y="357" fill="#e0bd43"/><rect x="173" y="357" fill="#d9be46"/><rect x="176" y="357" fill="#d3be48"/><rect x="179" y="357" fill="#d1bf49"/><rect x="182" y="357" fill="#cebf4a"/><rect x="185" y="357" fill="#ccbf4b"/><rect x="188" y="357" fill="#c9c04d"/><rect x="191" y="357" fill="#c5c04e"/><rect x="194" y="357" fill="#c2c150"/><rect x="197" y="357" fill="#bec151"/><rect x="200" y="357" fill="#bdc252"/><rect x="203" y="357" fill="#bcc252"/><rect x="206" y="357" fill="#bac253"/><rect x="209" y="357" fill="#b4c355"/><rect x="212" y="357" fill="#adc459"/><rect x="215" y="357" fill="#a8c45b"/><rect x="218" y="357" fill="#a5c45d"/><rect x="221" y="357" fill="#a3c45e"/><rect x="224" y="357" fill="#a1c45f"/><rect x="227" y="357" fill="#a0c45f"/><rect x="230" y="357" fill="#9fc460"/><rect x="233" y="357" fill="#9ec460"/><rect x="236" y="357" fill="#9cc461"/><rect x="239" y="357" fill="#99c463"/><rect x="242" y="357" fill="#97c464"/><rect x="245" y="357" fill="#96c464"/><rect x="92" y="360" fill="#f6be3d"/><rect x="95" y="360" fill="#f6be3d"/><rect x="98" y="360" fill="#f6be3d"/><rect x="101" y="360" fill="#f6bf3d"/><rect x="104" y="360" fill="#f6c03d"/><rect x="107" y="360" fill="#f6c13c"/><rect x="110" y="360" fill="#f6c23c"/><rect x="113" y="360" fill="#f6c33c"/><rect x="116" y="360" fill="#f5c43b"/><rect x="119" y="360" fill="#f5c63b"/><rect x="122" y="360" fill="#f5c73a"/><rect x="125" y="360" fill="#f5c73a"/><rect x="128" y="360" fill="#f5c53b"/><rect x="131" y="360" fill="#f5c43b"/><rect x="134" y="360" fill="#f6c23c"/><rect x="137" y="360" fill="#f6be3d"/><rect x="140" y="360" fill="#f7b840"/><rect x="143" y="360" fill="#f4b840"/><rect x="146" y="360" fill="#f2b940"/><rect x="149" y="360" fill="#f1b940"/><rect x="152" y="360" fill="#efba40"/><rect x="155" y="360" fill="#eeba40"/><rect x="158" y="360" fill="#ecba40"/><rect x="161" y="360" fill="#eabb40"/><rect x="164" y="360" fill="#e8bb40"/><rect x="167" y="360" fill="#e5bc41"/><rect x="170" y="360" fill="#e0bd43"/><rect x="173" y="360" fill="#dbbd45"/><rect x="176" y="360" fill="#d6be47"/><rect x="179" y="360" fill="#d2bf49"/><rect x="182" y="360" fill="#cebf4b"/><rect x="185" y="360" fill="#cac04c"/><rect x="188" y="360" fill="#c6c04e"/><rect x="191" y="360" fill="#c1c150"/><rect x="194" y="360" fill="#bdc252"/><rect x="197" y="360" fill="#b9c253"/><rect x="200" y="360" fill="#b6c355"/><rect x="203" y="360" fill="#b3c356"/><rect x="206" y="360" fill="#afc458"/><rect x="209" y="360" fill="#acc459"/><rect x="212" y="360" fill="#a9c45b"/><rect x="215" y="360" fill="#a7c45c"/><rect x="218" y="360" fill="#a5c45d"/><rect x="221" y="360" fill="#a3c45e"/><rect x="224" y="360" fill="#a1c45f"/><rect x="227" y="360" fill="#a0c45f"/><rect x="230" y="360" fill="#9fc460"/><rect x="233" y="360" fill="#9dc461"/><rect x="236" y="360" fill="#9ac462"/><rect x="239" y="360" fill="#97c464"/><rect x="242" y="360" fill="#95c465"/><rect x="245" y="360" fill="#95c465"/><rect x="92" y="363" fill="#f7bc3e"/><rect x="95" y="363" fill="#f7ba3f"/><rect x="98" y="363" fill="#f7bb3e"/><rect x="101" y="363" fill="#f7bd3e"/><rect x="104" y="363" fill="#f6bf3d"/><rect x="107" y="363" fill="#f6c03d"/><rect x="110" y="363" fill="#f6c13c"/><rect x="113" y="363" fill="#f6c23c"/><rect x="116" y="363" fill="#f6c23c"/><rect x="119" y="363" fill="#f6c23c"/><rect x="122" y="363" fill="#f6c23c"/><rect x="125" y="363" fill="#f6c03d"/><rect x="128" y="363" fill="#f7bd3e"/><rect x="131" y="363" fill="#f7ba3f"/><rect x="134" y="363" fill="#f7b840"/><rect x="137" y="363" fill="#f5b840"/><rect x="140" y="363" fill="#f3b940"/><rect x="143" y="363" fill="#f0b940"/><rect x="146" y="363" fill="#eeba40"/><rect x="149" y="363" fill="#edba40"/><rect x="152" y="363" fill="#ebbb40"/><rect x="155" y="363" fill="#eabb40"/><rect x="158" y="363" fill="#e8bb40"/><rect x="161" y="363" fill="#e5bc40"/><rect x="164" y="363" fill="#e1bc42"/><rect x="167" y="363" fill="#dbbd45"/><rect x="170" y="363" fill="#d5be47"/><rect x="173" y="363" fill="#cfbf4a"/><rect x="176" y="363" fill="#c9c04d"/><rect x="179" y="363" fill="#c3c14f"/><rect x="182" y="363" fill="#bec151"/><rect x="185" y="363" fill="#bbc253"/><rect x="188" y="363" fill="#b9c254"/><rect x="191" y="363" fill="#b6c355"/><rect x="194" y="363" fill="#b4c356"/><rect x="197" y="363" fill="#b2c356"/><rect x="200" y="363" fill="#b0c357"/><rect x="203" y="363" fill="#aec458"/><rect x="206" y="363" fill="#acc459"/><rect x="209" y="363" fill="#aac45a"/><rect x="212" y="363" fill="#a9c45b"/><rect x="215" y="363" fill="#a8c45b"/><rect x="218" y="363" fill="#a6c45c"/><rect x="221" y="363" fill="#a5c45d"/><rect x="224" y="363" fill="#a3c45e"/><rect x="227" y="363" fill="#a1c45f"/><rect x="230" y="363" fill="#9fc460"/><rect x="233" y="363" fill="#9cc461"/><rect x="236" y="363" fill="#99c463"/><rect x="239" y="363" fill="#95c465"/><rect x="242" y="363" fill="#93c466"/><rect x="245" y="363" fill="#94c465"/><rect x="92" y="366" fill="#f7b83f"/><rect x="95" y="366" fill="#f5b840"/><rect x="98" y="366" fill="#f6b840"/><rect x="101" y="366" fill="#f7b93f"/><rect x="104" y="366" fill="#f7bb3e"/><rect x="107" y="366" fill="#f7bd3e"/><rect x="110" y="366" fill="#f7bd3e"/><rect x="113" y="366" fill="#f7bd3e"/><rect x="116" y="366" fill="#f7bc3e"/><rect x="119" y="366" fill="#f7ba3f"/><rect x="122" y="366" fill="#f7b83f"/><rect x="125" y="366" fill="#f6b840"/><rect x="128" y="366" fill="#f3b940"/><rect x="131" y="366" fill="#f1b940"/><rect x="134" y="366" fill="#eeba40"/><rect x="137" y="366" fill="#ecba40"/><rect x="140" y="366" fill="#eabb40"/><rect x="143" y="366" fill="#e8bb40"/><rect x="146" y="366" fill="#e3bc41"/><rect x="149" y="366" fill="#e0bd43"/><rect x="152" y="366" fill="#debd44"/><rect x="155" y="366" fill="#dcbd44"/><rect x="158" y="366" fill="#dabd45"/><rect x="161" y="366" fill="#d7be47"/><rect x="164" y="366" fill="#d2bf49"/><rect x="167" y="366" fill="#ccbf4b"/><rect x="170" y="366" fill="#c5c04e"/><rect x="173" y="366" fill="#bec151"/><rect x="176" y="366" fill="#b6c355"/><rect x="179" y="366" fill="#afc458"/><rect x="182" y="366" fill="#acc459"/><rect x="185" y="366" fill="#abc45a"/><rect x="188" y="366" fill="#adc459"/><rect x="191" y="366" fill="#b0c357"/><rect x="194" y="366" fill="#b1c357"/><rect x="197" y="366" fill="#b2c357"/><rect x="200" y="366" fill="#b1c357"/><rect x="203" y="366" fill="#b1c357"/><rect x="206" y="366" fill="#b0c357"/><rect x="209" y="366" fill="#afc458"/><rect x="212" y="366" fill="#aec458"/><rect x="215" y="366" fill="#acc459"/><rect x="218" y="366" fill="#aac45a"/><rect x="221" y="366" fill="#a7c45c"/><rect x="224" y="366" fill="#a3c45e"/><rect x="227" y="366" fill="#9fc460"/><rect x="230" y="366" fill="#9dc461"/><rect x="233" y="366" fill="#9ac462"/><rect x="236" y="366" fill="#96c464"/><rect x="239" y="366" fill="#93c466"/><rect x="242" y="366" fill="#91c467"/><rect x="245" y="366" fill="#91c467"/><rect x="92" y="369" fill="#f4b840"/><rect x="95" y="369" fill="#f1b940"/><rect x="98" y="369" fill="#f2b940"/><rect x="101" y="369" fill="#f5b840"/><rect x="104" y="369" fill="#f7b840"/><rect x="107" y="369" fill="#f7b83f"/><rect x="110" y="369" fill="#f7b840"/><rect x="113" y="369" fill="#f5b840"/><rect x="116" y="369" fill="#f3b940"/><rect x="119" y="369" fill="#f2b940"/><rect x="122" y="369" fill="#f0b940"/><rect x="125" y="369" fill="#edba40"/><rect x="128" y="369" fill="#eabb40"/><rect x="131" y="369" fill="#e7bc40"/><rect x="134" y="369" fill="#e0bd43"/><rect x="137" y="369" fill="#d9be46"/><rect x="140" y="369" fill="#d4be48"/><rect x="143" y="369" fill="#cebf4a"/><rect x="146" y="369" fill="#cac04c"/><rect x="149" y="369" fill="#c8c04d"/><rect x="152" y="369" fill="#c7c04e"/><rect x="155" y="369" fill="#c6c04e"/><rect x="158" y="369" fill="#c5c04e"/><rect x="161" y="369" fill="#c3c14f"/><rect x="164" y="369" fill="#bfc151"/><rect x="167" y="369" fill="#b9c253"/><rect x="170" y="369" fill="#b1c357"/><rect x="173" y="369" fill="#a9c45b"/><rect x="176" y="369" fill="#a2c45e"/><rect x="179" y="369" fill="#9dc461"/><rect x="182" y="369" fill="#9ac462"/><rect x="185" y="369" fill="#9cc461"/><rect x="188" y="369" fill="#a2c45e"/><rect x="191" y="369" fill="#a8c45b"/><rect x="194" y="369" fill="#aec458"/><rect x="197" y="369" fill="#b3c356"/><rect x="200" y="369" fill="#b6c355"/><rect x="203" y="369" fill="#b7c254"/><rect x="206" y="369" fill="#b8c254"/><rect x="209" y="369" fill="#b7c254"/><rect x="212" y="369" fill="#b5c355"/><rect x="215" y="369" fill="#b1c357"/><rect x="218" y="369" fill="#acc459"/><rect x="221" y="369" fill="#a5c45d"/><rect x="224" y="369" fill="#9ec460"/><rect x="227" y="369" fill="#99c463"/><rect x="230" y="369" fill="#98c463"/><rect x="233" y="369" fill="#97c464"/><rect x="236" y="369" fill="#94c465"/><rect x="239" y="369" fill="#90c467"/><rect x="242" y="369" fill="#8dc469"/><rect x="245" y="369" fill="#8cc469"/><rect x="92" y="372" fill="#efba40"/><rect x="95" y="372" fill="#ebbb40"/><rect x="98" y="372" fill="#ecba40"/><rect x="101" y="372" fill="#f1b940"/><rect x="104" y="372" fill="#f3b940"/><rect x="107" y="372" fill="#f3b940"/><rect x="110" y="372" fill="#f1b940"/><rect x="113" y="372" fill="#eeba40"/><rect x="116" y="372" fill="#ebbb40"/><rect x="119" y="372" fill="#e9bb40"/><rect x="122" y="372" fill="#e5bc40"/><rect x="125" y="372" fill="#dfbd43"/><rect x="128" y="372" fill="#d6be47"/><rect x="131" y="372" fill="#cdbf4b"/><rect x="134" y="372" fill="#c6c04e"/><rect x="137" y="372" fill="#bfc151"/><rect x="140" y="372" fill="#b9c253"/><rect x="143" y="372" fill="#b4c355"/><rect x="146" y="372" fill="#b1c357"/><rect x="149" y="372" fill="#afc458"/><rect x="152" y="372" fill="#afc458"/><rect x="155" y="372" fill="#aec458"/><rect x="158" y="372" fill="#adc459"/><rect x="161" y="372" fill="#acc459"/><rect x="164" y="372" fill="#a9c45b"/><rect x="167" y="372" fill="#a3c45e"/><rect x="170" y="372" fill="#9bc462"/><rect x="173" y="372" fill="#94c465"/><rect x="176" y="372" fill="#8ec468"/><rect x="179" y="372" fill="#8ac46a"/><rect x="182" y="372" fill="#88c46b"/><rect x="185" y="372" fill="#8bc46a"/><rect x="188" y="372" fill="#92c466"/><rect x="191" y="372" fill="#9bc462"/><rect x="194" y="372" fill="#a4c45d"/><rect x="197" y="372" fill="#acc459"/><rect x="200" y="372" fill="#b3c356"/><rect x="203" y="372" fill="#b8c254"/><rect x="206" y="372" fill="#bcc252"/><rect x="209" y="372" fill="#bbc252"/><rect x="212" y="372" fill="#b7c254"/><rect x="215" y="372" fill="#afc458"/><rect x="218" y="372" fill="#a6c45c"/><rect x="221" y="372" fill="#9cc461"/><rect x="224" y="372" fill="#94c465"/><rect x="227" y="372" fill="#91c467"/><rect x="230" y="372" fill="#91c467"/><rect x="233" y="372" fill="#92c466"/><rect x="236" y="372" fill="#90c467"/><rect x="239" y="372" fill="#8dc469"/><rect x="242" y="372" fill="#8ac46a"/><rect x="245" y="372" fill="#8ac46a"/><rect x="92" y="375" fill="#ecba40"/><rect x="95" y="375" fill="#e5bc41"/><rect x="98" y="375" fill="#e4bc41"/><rect x="101" y="375" fill="#ebbb40"/><rect x="104" y="375" fill="#edba40"/><rect x="107" y="375" fill="#ecba40"/><rect x="110" y="375" fill="#e9bb40"/><rect x="113" y="375" fill="#e2bc42"/><rect x="116" y="375" fill="#dabd45"/><rect x="119" y="375" fill="#d4be48"/><rect x="122" y="375" fill="#cebf4b"/><rect x="125" y="375" fill="#c6c04e"/><rect x="128" y="375" fill="#bdc252"/><rect x="131" y="375" fill="#b4c356"/><rect x="134" y="375" fill="#acc459"/><rect x="137" y="375" fill="#a6c45c"/><rect x="140" y="375" fill="#a0c45f"/><rect x="143" y="375" fill="#9cc461"/><rect x="146" y="375" fill="#9ac462"/><rect x="149" y="375" fill="#99c463"/><rect x="152" y="375" fill="#98c463"/><rect x="155" y="375" fill="#98c463"/><rect x="158" y="375" fill="#97c464"/><rect x="161" y="375" fill="#96c464"/><rect x="164" y="375" fill="#93c466"/><rect x="167" y="375" fill="#8dc469"/><rect x="170" y="375" fill="#85c46d"/><rect x="173" y="375" fill="#7fc470"/><rect x="176" y="375" fill="#7ac472"/><rect x="179" y="375" fill="#78c473"/><rect x="182" y="375" fill="#77c474"/><rect x="185" y="375" fill="#7ac472"/><rect x="188" y="375" fill="#80c46f"/><rect x="191" y="375" fill="#8ac46a"/><rect x="194" y="375" fill="#94c465"/><rect x="197" y="375" fill="#9ec460"/><rect x="200" y="375" fill="#a7c45c"/><rect x="203" y="375" fill="#afc458"/><rect x="206" y="375" fill="#b5c355"/><rect x="209" y="375" fill="#b6c355"/><rect x="212" y="375" fill="#b0c357"/><rect x="215" y="375" fill="#a5c45d"/><rect x="218" y="375" fill="#99c463"/><rect x="221" y="375" fill="#8fc468"/><rect x="224" y="375" fill="#89c46b"/><rect x="227" y="375" fill="#88c46b"/><rect x="230" y="375" fill="#8ac46a"/><rect x="233" y="375" fill="#8cc469"/><rect x="236" y="375" fill="#8cc469"/><rect x="239" y="375" fill="#8ac46a"/><rect x="242" y="375" fill="#88c46b"/><rect x="245" y="375" fill="#88c46b"/><rect x="92" y="378" fill="#e8bb40"/><rect x="95" y="378" fill="#d7be47"/><rect x="98" y="378" fill="#d2bf49"/><rect x="101" y="378" fill="#dbbd45"/><rect x="104" y="378" fill="#e0bd43"/><rect x="107" y="378" fill="#dcbd44"/><rect x="110" y="378" fill="#d4be48"/><rect x="113" y="378" fill="#cbc04c"/><rect x="116" y="378" fill="#c3c14f"/><rect x="119" y="378" fill="#bcc252"/><rect x="122" y="378" fill="#b6c355"/><rect x="125" y="378" fill="#aec458"/><rect x="128" y="378" fill="#a5c45d"/><rect x="131" y="378" fill="#9dc461"/><rect x="134" y="378" fill="#95c465"/><rect x="137" y="378" fill="#8ec468"/><rect x="140" y="378" fill="#89c46b"/><rect x="143" y="378" fill="#85c46d"/><rect x="146" y="378" fill="#83c46e"/><rect x="149" y="378" fill="#82c46e"/><rect x="152" y="378" fill="#82c46e"/><rect x="155" y="378" fill="#81c46f"/><rect x="158" y="378" fill="#81c46f"/><rect x="161" y="378" fill="#80c46f"/><rect x="164" y="378" fill="#7cc471"/><rect x="167" y="378" fill="#77c474"/><rect x="170" y="378" fill="#70c477"/><rect x="173" y="378" fill="#6bc37c"/><rect x="176" y="378" fill="#69c27e"/><rect x="179" y="378" fill="#68c27f"/><rect x="182" y="378" fill="#68c27f"/><rect x="185" y="378" fill="#6ac37d"/><rect x="188" y="378" fill="#6fc378"/><rect x="191" y="378" fill="#78c473"/><rect x="194" y="378" fill="#82c46e"/><rect x="197" y="378" fill="#8cc469"/><rect x="200" y="378" fill="#96c464"/><rect x="203" y="378" fill="#9ec460"/><rect x="206" y="378" fill="#a5c45d"/><rect x="209" y="378" fill="#a7c45c"/><rect x="212" y="378" fill="#a1c45f"/><rect x="215" y="378" fill="#96c464"/><rect x="218" y="378" fill="#8ac46a"/><rect x="221" y="378" fill="#82c46e"/><rect x="224" y="378" fill="#7fc470"/><rect x="227" y="378" fill="#81c46f"/><rect x="230" y="378" fill="#83c46e"/><rect x="233" y="378" fill="#85c46d"/><rect x="236" y="378" fill="#87c46c"/><rect x="239" y="378" fill="#87c46c"/><rect x="242" y="378" fill="#86c46c"/><rect x="245" y="378" fill="#87c46c"/><rect x="92" y="381" fill="#cbc04c"/><rect x="95" y="381" fill="#c0c150"/><rect x="98" y="381" fill="#bbc252"/><rect x="101" y="381" fill="#c1c150"/><rect x="104" y="381" fill="#c5c04e"/><rect x="107" y="381" fill="#c2c14f"/><rect x="110" y="381" fill="#bcc252"/><rect x="113" y="381" fill="#b4c356"/><rect x="116" y="381" fill="#acc459"/><rect x="119" y="381" fill="#a6c45c"/><rect x="122" y="381" fill="#9fc460"/><rect x="125" y="381" fill="#97c464"/><rect x="128" y="381" fill="#8fc468"/><rect x="131" y="381" fill="#86c46c"/><rect x="134" y="381" fill="#7dc471"/><rect x="137" y="381" fill="#76c474"/><rect x="140" y="381" fill="#71c477"/><rect x="143" y="381" fill="#6ec379"/><rect x="146" y="381" fill="#6dc37a"/><rect x="149" y="381" fill="#6dc37a"/><rect x="152" y="381" fill="#6cc37b"/><rect x="155" y="381" fill="#6cc37b"/><rect x="158" y="381" fill="#6bc37c"/><rect x="161" y="381" fill="#6ac37d"/><rect x="164" y="381" fill="#68c27f"/><rect x="167" y="381" fill="#63c184"/><rect x="170" y="381" fill="#5fc188"/><rect x="173" y="381" fill="#5cc08b"/><rect x="176" y="381" fill="#5bc08c"/><rect x="179" y="381" fill="#5ac08d"/><rect x="182" y="381" fill="#5bc08c"/><rect x="185" y="381" fill="#5cc08b"/><rect x="188" y="381" fill="#60c187"/><rect x="191" y="381" fill="#67c280"/><rect x="194" y="381" fill="#6fc378"/><rect x="197" y="381" fill="#79c473"/><rect x="200" y="381" fill="#82c46e"/><rect x="203" y="381" fill="#8ac46a"/><rect x="206" y="381" fill="#90c467"/><rect x="209" y="381" fill="#93c466"/><rect x="212" y="381" fill="#8fc468"/><rect x="215" y="381" fill="#85c46d"/><rect x="218" y="381" fill="#7cc471"/><rect x="221" y="381" fill="#77c474"/><rect x="224" y="381" fill="#77c474"/><rect x="227" y="381" fill="#79c473"/><rect x="230" y="381" fill="#7cc471"/><rect x="233" y="381" fill="#7ec470"/><rect x="236" y="381" fill="#81c46f"/><rect x="239" y="381" fill="#83c46e"/><rect x="242" y="381" fill="#83c46e"/><rect x="245" y="381" fill="#85c46d"/><rect x="92" y="384" fill="#a1c45f"/><rect x="95" y="384" fill="#a4c45d"/><rect x="98" y="384" fill="#a4c45d"/><rect x="101" y="384" fill="#a6c45c"/><rect x="104" y="384" fill="#a8c45b"/><rect x="107" y="384" fill="#a7c45c"/><rect x="110" y="384" fill="#a3c45e"/><rect x="113" y="384" fill="#9dc461"/><rect x="116" y="384" fill="#97c464"/><rect x="119" y="384" fill="#90c467"/><rect x="122" y="384" fill="#89c46b"/><rect x="125" y="384" fill="#81c46f"/><rect x="128" y="384" fill="#78c473"/><rect x="131" y="384" fill="#6fc378"/><rect x="134" y="384" fill="#68c27f"/><rect x="137" y="384" fill="#62c185"/><rect x="140" y="384" fill="#5ec189"/><rect x="143" y="384" fill="#5cc08b"/><rect x="146" y="384" fill="#5bc08c"/><rect x="149" y="384" fill="#5ac08d"/><rect x="152" y="384" fill="#5ac08d"/><rect x="155" y="384" fill="#59c08e"/><rect x="158" y="384" fill="#59c08e"/><rect x="161" y="384" fill="#58c08f"/><rect x="164" y="384" fill="#55bf92"/><rect x="167" y="384" fill="#52bf95"/><rect x="170" y="384" fill="#4fbe98"/><rect x="173" y="384" fill="#4dbe9a"/><rect x="176" y="384" fill="#4dbe9a"/><rect x="179" y="384" fill="#4dbe9a"/><rect x="182" y="384" fill="#4dbe9a"/><rect x="185" y="384" fill="#4ebe99"/><rect x="188" y="384" fill="#51be96"/><rect x="191" y="384" fill="#58c08f"/><rect x="194" y="384" fill="#5fc188"/><rect x="197" y="384" fill="#67c280"/><rect x="200" y="384" fill="#6dc37a"/><rect x="203" y="384" fill="#73c476"/><rect x="206" y="384" fill="#79c473"/><rect x="209" y="384" fill="#7dc471"/><rect x="212" y="384" fill="#7cc471"/><rect x="215" y="384" fill="#76c474"/><rect x="218" y="384" fill="#70c477"/><rect x="221" y="384" fill="#6ec379"/><rect x="224" y="384" fill="#6fc378"/><rect x="227" y="384" fill="#72c476"/><rect x="230" y="384" fill="#74c475"/><rect x="233" y="384" fill="#77c474"/><rect x="236" y="384" fill="#7bc472"/><rect x="239" y="384" fill="#7fc470"/><rect x="242" y="384" fill="#7fc470"/><rect x="245" y="384" fill="#7ec470"/><rect x="92" y="387" fill="#87c46c"/><rect x="95" y="387" fill="#90c467"/><rect x="98" y="387" fill="#90c467"/><rect x="101" y="387" fill="#8ec468"/><rect x="104" y="387" fill="#8ec468"/><rect x="107" y="387" fill="#8cc469"/><rect x="110" y="387" fill="#8ac46a"/><rect x="113" y="387" fill="#86c46c"/><rect x="116" y="387" fill="#81c46f"/><rect x="119" y="387" fill="#7bc472"/><rect x="122" y="387" fill="#73c476"/><rect x="125" y="387" fill="#6cc37b"/><rect x="128" y="387" fill="#65c282"/><rect x="131" y="387" fill="#5ec189"/><rect x="134" y="387" fill="#57bf90"/><rect x="137" y="387" fill="#50be97"/><rect x="140" y="387" fill="#4cbe9b"/><rect x="143" y="387" fill="#4abd9d"/><rect x="146" y="387" fill="#49bd9e"/><rect x="149" y="387" fill="#48bd9f"/><rect x="152" y="387" fill="#48bd9f"/><rect x="155" y="387" fill="#47bda0"/><rect x="158" y="387" fill="#46bda1"/><rect x="161" y="387" fill="#45bca2"/><rect x="164" y="387" fill="#43bca4"/><rect x="167" y="387" fill="#41bca6"/><rect x="170" y="387" fill="#40bca7"/><rect x="173" y="387" fill="#3fbba8"/><rect x="176" y="387" fill="#3fbba8"/><rect x="179" y="387" fill="#3fbba8"/><rect x="182" y="387" fill="#3fbba8"/><rect x="185" y="387" fill="#40bca7"/><rect x="188" y="387" fill="#43bca4"/><rect x="191" y="387" fill="#48bd9f"/><rect x="194" y="387" fill="#4fbe98"/><rect x="197" y="387" fill="#55bf92"/><rect x="200" y="387" fill="#5ac08d"/><rect x="203" y="387" fill="#60c187"/><rect x="206" y="387" fill="#65c282"/><rect x="209" y="387" fill="#69c27e"/><rect x="212" y="387" fill="#6ac37d"/><rect x="215" y="387" fill="#69c27e"/><rect x="218" y="387" fill="#67c280"/><rect x="221" y="387" fill="#68c27f"/><rect x="224" y="387" fill="#69c27e"/><rect x="227" y="387" fill="#6bc37c"/><rect x="230" y="387" fill="#6ec379"/><rect x="233" y="387" fill="#70c477"/><rect x="236" y="387" fill="#75c475"/><rect x="239" y="387" fill="#7ac472"/><rect x="242" y="387" fill="#78c473"/><rect x="245" y="387" fill="#73c476"/><rect x="92" y="390" fill="#7ec470"/><rect x="95" y="390" fill="#85c46d"/><rect x="98" y="390" fill="#82c46e"/><rect x="101" y="390" fill="#7bc472"/><rect x="104" y="390" fill="#78c473"/><rect x="107" y="390" fill="#76c474"/><rect x="110" y="390" fill="#74c475"/><rect x="113" y="390" fill="#71c477"/><rect x="116" y="390" fill="#6ec379"/><rect x="119" y="390" fill="#69c27e"/><rect x="122" y="390" fill="#64c283"/><rect x="125" y="390" fill="#5dc08a"/><rect x="128" y="390" fill="#56bf91"/><rect x="131" y="390" fill="#50be97"/><rect x="134" y="390" fill="#49bd9e"/><rect x="137" y="390" fill="#43bca4"/><rect x="140" y="390" fill="#3ebba9"/><rect x="143" y="390" fill="#3dbaab"/><rect x="146" y="390" fill="#3cbaac"/><rect x="149" y="390" fill="#3cbaac"/><rect x="152" y="390" fill="#3bb9ad"/><rect x="155" y="390" fill="#3bb9ae"/><rect x="158" y="390" fill="#3ab9af"/><rect x="161" y="390" fill="#38b8b1"/><rect x="164" y="390" fill="#38b8b2"/><rect x="167" y="390" fill="#37b7b3"/><rect x="170" y="390" fill="#37b7b3"/><rect x="173" y="390" fill="#37b7b3"/><rect x="176" y="390" fill="#37b7b3"/><rect x="179" y="390" fill="#37b7b3"/><rect x="182" y="390" fill="#37b7b3"/><rect x="185" y="390" fill="#38b8b2"/><rect x="188" y="390" fill="#39b8b0"/><rect x="191" y="390" fill="#3cbaac"/><rect x="194" y="390" fill="#3fbba8"/><rect x="197" y="390" fill="#44bca3"/><rect x="200" y="390" fill="#4abd9d"/><rect x="203" y="390" fill="#4fbe98"/><rect x="206" y="390" fill="#54bf93"/><rect x="209" y="390" fill="#59c08e"/><rect x="212" y="390" fill="#5dc08a"/><rect x="215" y="390" fill="#60c187"/><rect x="218" y="390" fill="#62c185"/><rect x="221" y="390" fill="#63c184"/><rect x="224" y="390" fill="#65c282"/><rect x="227" y="390" fill="#67c280"/><rect x="230" y="390" fill="#68c27f"/><rect x="233" y="390" fill="#6bc37c"/><rect x="236" y="390" fill="#70c477"/><rect x="239" y="390" fill="#76c474"/><rect x="242" y="390" fill="#74c475"/><rect x="245" y="390" fill="#6ec379"/><rect x="92" y="393" fill="#79c473"/><rect x="95" y="393" fill="#7ec470"/><rect x="98" y="393" fill="#77c474"/><rect x="101" y="393" fill="#6fc378"/><rect x="104" y="393" fill="#6cc37b"/><rect x="107" y="393" fill="#6ac37d"/><rect x="110" y="393" fill="#68c27f"/><rect x="113" y="393" fill="#66c281"/><rect x="116" y="393" fill="#63c184"/><rect x="119" y="393" fill="#5fc188"/><rect x="122" y="393" fill="#59c08e"/><rect x="125" y="393" fill="#53bf94"/><rect x="128" y="393" fill="#4dbe9a"/><rect x="131" y="393" fill="#46bda1"/><rect x="134" y="393" fill="#3fbba8"/><rect x="137" y="393" fill="#3bb9ad"/><rect x="140" y="393" fill="#38b8b1"/><rect x="143" y="393" fill="#36b7b4"/><rect x="146" y="393" fill="#35b6b5"/><rect x="149" y="393" fill="#35b6b6"/><rect x="152" y="393" fill="#34b6b7"/><rect x="155" y="393" fill="#32b5b9"/><rect x="158" y="393" fill="#30b4bc"/><rect x="161" y="393" fill="#2db2c0"/><rect x="164" y="393" fill="#2cb2c1"/><rect x="167" y="393" fill="#2db2c0"/><rect x="170" y="393" fill="#2eb3bf"/><rect x="173" y="393" fill="#2eb3bf"/><rect x="176" y="393" fill="#2eb3bf"/><rect x="179" y="393" fill="#2eb3bf"/><rect x="182" y="393" fill="#2eb3be"/><rect x="185" y="393" fill="#2fb3bd"/><rect x="188" y="393" fill="#32b5ba"/><rect x="191" y="393" fill="#35b6b6"/><rect x="194" y="393" fill="#38b8b2"/><rect x="197" y="393" fill="#3bb9ae"/><rect x="200" y="393" fill="#3ebbaa"/><rect x="203" y="393" fill="#41bca6"/><rect x="206" y="393" fill="#47bda0"/><rect x="209" y="393" fill="#4ebe99"/><rect x="212" y="393" fill="#56bf91"/><rect x="215" y="393" fill="#5dc08a"/><rect x="218" y="393" fill="#61c186"/><rect x="221" y="393" fill="#63c184"/><rect x="224" y="393" fill="#64c283"/><rect x="227" y="393" fill="#65c282"/><rect x="230" y="393" fill="#66c281"/><rect x="233" y="393" fill="#68c27f"/><rect x="236" y="393" fill="#6dc37a"/><rect x="239" y="393" fill="#74c475"/><rect x="242" y="393" fill="#73c476"/><rect x="245" y="393" fill="#6fc378"/><rect x="92" y="396" fill="#72c476"/><rect x="95" y="396" fill="#76c474"/><rect x="98" y="396" fill="#6fc378"/><rect x="101" y="396" fill="#69c27e"/><rect x="104" y="396" fill="#66c281"/><rect x="107" y="396" fill="#64c283"/><rect x="110" y="396" fill="#61c186"/><rect x="113" y="396" fill="#5ec189"/><rect x="116" y="396" fill="#5bc08c"/><rect x="119" y="396" fill="#57bf90"/><rect x="122" y="396" fill="#52bf95"/><rect x="125" y="396" fill="#4cbe9b"/><rect x="128" y="396" fill="#45bca2"/><rect x="131" y="396" fill="#3fbba8"/><rect x="134" y="396" fill="#3bb9ae"/><rect x="137" y="396" fill="#37b7b3"/><rect x="140" y="396" fill="#33b5b8"/><rect x="143" y="396" fill="#31b4bb"/><rect x="146" y="396" fill="#2fb3bd"/><rect x="149" y="396" fill="#2eb3bf"/><rect x="152" y="396" fill="#2cb2c2"/><rect x="155" y="396" fill="#28b0c6"/><rect x="158" y="396" fill="#25adc9"/><rect x="161" y="396" fill="#23abca"/><rect x="164" y="396" fill="#23abca"/><rect x="167" y="396" fill="#24acc9"/><rect x="170" y="396" fill="#25adc9"/><rect x="173" y="396" fill="#26aec8"/><rect x="176" y="396" fill="#26aec8"/><rect x="179" y="396" fill="#26aec8"/><rect x="182" y="396" fill="#26aec8"/><rect x="185" y="396" fill="#28b0c7"/><rect x="188" y="396" fill="#2bb1c3"/><rect x="191" y="396" fill="#2fb3be"/><rect x="194" y="396" fill="#32b5ba"/><rect x="197" y="396" fill="#35b6b6"/><rect x="200" y="396" fill="#38b8b2"/><rect x="203" y="396" fill="#3bb9ae"/><rect x="206" y="396" fill="#3ebba9"/><rect x="209" y="396" fill="#47bda0"/><rect x="212" y="396" fill="#53bf94"/><rect x="215" y="396" fill="#5ec189"/><rect x="218" y="396" fill="#63c184"/><rect x="221" y="396" fill="#66c281"/><rect x="224" y="396" fill="#67c280"/><rect x="227" y="396" fill="#67c280"/><rect x="230" y="396" fill="#68c27f"/><rect x="233" y="396" fill="#69c27e"/><rect x="236" y="396" fill="#6dc37a"/><rect x="239" y="396" fill="#72c476"/><rect x="242" y="396" fill="#72c476"/><rect x="245" y="396" fill="#6ec379"/><rect x="92" y="399" fill="#6ac37d"/><rect x="95" y="399" fill="#6ec379"/><rect x="98" y="399" fill="#6ac37d"/><rect x="101" y="399" fill="#64c283"/><rect x="104" y="399" fill="#61c186"/><rect x="107" y="399" fill="#5ec189"/><rect x="110" y="399" fill="#5bc08c"/><rect x="113" y="399" fill="#58c08f"/><rect x="116" y="399" fill="#54bf93"/><rect x="119" y="399" fill="#50be97"/><rect x="122" y="399" fill="#4bbd9c"/><rect x="125" y="399" fill="#45bca2"/><rect x="128" y="399" fill="#3fbba8"/><rect x="131" y="399" fill="#3bb9ae"/><rect x="134" y="399" fill="#36b7b4"/><rect x="137" y="399" fill="#32b5b9"/><rect x="140" y="399" fill="#2eb3bf"/><rect x="143" y="399" fill="#2bb1c3"/><rect x="146" y="399" fill="#28b0c6"/><rect x="149" y="399" fill="#26aec8"/><rect x="152" y="399" fill="#23abca"/><rect x="155" y="399" fill="#20a8cb"/><rect x="158" y="399" fill="#1ca4cd"/><rect x="161" y="399" fill="#1aa2ce"/><rect x="164" y="399" fill="#1aa2ce"/><rect x="167" y="399" fill="#1da5cd"/><rect x="170" y="399" fill="#1fa7cc"/><rect x="173" y="399" fill="#20a8cb"/><rect x="176" y="399" fill="#20a8cb"/><rect x="179" y="399" fill="#20a8cb"/><rect x="182" y="399" fill="#21a9cb"/><rect x="185" y="399" fill="#23abca"/><rect x="188" y="399" fill="#26aec8"/><rect x="191" y="399" fill="#29b0c6"/><rect x="194" y="399" fill="#2cb2c1"/><rect x="197" y="399" fill="#2fb3bd"/><rect x="200" y="399" fill="#32b5b9"/><rect x="203" y="399" fill="#36b7b4"/><rect x="206" y="399" fill="#3bb9ae"/><rect x="209" y="399" fill="#43bca4"/><rect x="212" y="399" fill="#52bf95"/><rect x="215" y="399" fill="#5fc188"/><rect x="218" y="399" fill="#67c280"/><rect x="221" y="399" fill="#6ac37d"/><rect x="224" y="399" fill="#6bc37c"/><rect x="227" y="399" fill="#6cc37b"/><rect x="230" y="399" fill="#6cc37b"/><rect x="233" y="399" fill="#6cc37b"/><rect x="236" y="399" fill="#6fc378"/><rect x="239" y="399" fill="#72c476"/><rect x="242" y="399" fill="#70c477"/><rect x="245" y="399" fill="#6dc37a"/><rect x="92" y="402" fill="#64c283"/><rect x="95" y="402" fill="#68c27f"/><rect x="98" y="402" fill="#65c282"/><rect x="101" y="402" fill="#5fc188"/><rect x="104" y="402" fill="#5cc08b"/><rect x="107" y="402" fill="#59c08e"/><rect x="110" y="402" fill="#55bf92"/><rect x="113" y="402" fill="#51be96"/><rect x="116" y="402" fill="#4dbe9a"/><rect x="119" y="402" fill="#49bd9e"/><rect x="122" y="402" fill="#44bca3"/><rect x="125" y="402" fill="#3fbba9"/><rect x="128" y="402" fill="#3ab9ae"/><rect x="131" y="402" fill="#36b7b4"/><rect x="134" y="402" fill="#32b5ba"/><rect x="137" y="402" fill="#2db2c0"/><rect x="140" y="402" fill="#29b0c6"/><rect x="143" y="402" fill="#26aec8"/><rect x="146" y="402" fill="#23abca"/><rect x="149" y="402" fill="#1fa7cc"/><rect x="152" y="402" fill="#1ba3ce"/><rect x="155" y="402" fill="#189ed0"/><rect x="158" y="402" fill="#1b97d3"/><rect x="161" y="402" fill="#1c93d4"/><rect x="164" y="402" fill="#1b96d3"/><rect x="167" y="402" fill="#199cd1"/><rect x="170" y="402" fill="#18a0cf"/><rect x="173" y="402" fill="#1aa2ce"/><rect x="176" y="402" fill="#1aa2ce"/><rect x="179" y="402" fill="#1ba3ce"/><rect x="182" y="402" fill="#1da5cd"/><rect x="185" y="402" fill="#1fa7cc"/><rect x="188" y="402" fill="#22aaca"/><rect x="191" y="402" fill="#25adc9"/><rect x="194" y="402" fill="#27afc8"/><rect x="197" y="402" fill="#2ab1c4"/><rect x="200" y="402" fill="#2db2c0"/><rect x="203" y="402" fill="#32b5ba"/><rect x="206" y="402" fill="#38b8b1"/><rect x="209" y="402" fill="#41bca6"/><rect x="212" y="402" fill="#52bf95"/><rect x="215" y="402" fill="#61c186"/><rect x="218" y="402" fill="#6bc37c"/><rect x="221" y="402" fill="#6fc378"/><rect x="224" y="402" fill="#70c477"/><rect x="227" y="402" fill="#70c477"/><rect x="230" y="402" fill="#6fc378"/><rect x="233" y="402" fill="#6fc378"/><rect x="236" y="402" fill="#70c477"/><rect x="239" y="402" fill="#71c477"/><rect x="242" y="402" fill="#6ec379"/><rect x="245" y="402" fill="#6ac37d"/><rect x="92" y="405" fill="#60c187"/><rect x="95" y="405" fill="#63c184"/><rect x="98" y="405" fill="#60c187"/><rect x="101" y="405" fill="#5ac08d"/><rect x="104" y="405" fill="#57bf90"/><rect x="107" y="405" fill="#53bf94"/><rect x="110" y="405" fill="#4fbe98"/><rect x="113" y="405" fill="#4bbd9c"/><rect x="116" y="405" fill="#47bda0"/><rect x="119" y="405" fill="#42bca5"/><rect x="122" y="405" fill="#3ebbaa"/><rect x="125" y="405" fill="#3ab9af"/><rect x="128" y="405" fill="#35b6b5"/><rect x="131" y="405" fill="#31b4bb"/><rect x="134" y="405" fill="#2cb2c1"/><rect x="137" y="405" fill="#28b0c7"/><rect x="140" y="405" fill="#25adc9"/><rect x="143" y="405" fill="#21a9cb"/><rect x="146" y="405" fill="#1ca4cd"/><rect x="149" y="405" fill="#189ed0"/><rect x="152" y="405" fill="#1c95d4"/><rect x="155" y="405" fill="#1f8dd7"/><rect x="158" y="405" fill="#2286da"/><rect x="161" y="405" fill="#2383db"/><rect x="164" y="405" fill="#2187d9"/><rect x="167" y="405" fill="#1e8ed6"/><rect x="170" y="405" fill="#1c95d4"/><rect x="173" y="405" fill="#1a99d2"/><rect x="176" y="405" fill="#199bd1"/><rect x="179" y="405" fill="#189ed0"/><rect x="182" y="405" fill="#19a1cf"/><rect x="185" y="405" fill="#1ca4cd"/><rect x="188" y="405" fill="#1fa7cc"/><rect x="191" y="405" fill="#22aaca"/><rect x="194" y="405" fill="#24acc9"/><rect x="197" y="405" fill="#26aec8"/><rect x="200" y="405" fill="#29b0c6"/><rect x="203" y="405" fill="#2fb3be"/><rect x="206" y="405" fill="#37b7b3"/><rect x="209" y="405" fill="#41bca6"/><rect x="212" y="405" fill="#52bf95"/><rect x="215" y="405" fill="#62c185"/><rect x="218" y="405" fill="#6dc37a"/><rect x="221" y="405" fill="#73c476"/><rect x="224" y="405" fill="#74c475"/><rect x="227" y="405" fill="#74c475"/><rect x="230" y="405" fill="#73c476"/><rect x="233" y="405" fill="#72c476"/><rect x="236" y="405" fill="#72c476"/><rect x="239" y="405" fill="#71c477"/><rect x="242" y="405" fill="#6dc37a"/><rect x="245" y="405" fill="#68c27f"/><rect x="92" y="408" fill="#5ec189"/><rect x="95" y="408" fill="#5ec189"/><rect x="98" y="408" fill="#5bc08c"/><rect x="101" y="408" fill="#55bf92"/><rect x="104" y="408" fill="#51be96"/><rect x="107" y="408" fill="#4ebe99"/><rect x="110" y="408" fill="#4abd9d"/><rect x="113" y="408" fill="#45bca2"/><rect x="116" y="408" fill="#41bca6"/><rect x="119" y="408" fill="#3dbaab"/><rect x="122" y="408" fill="#39b8b0"/><rect x="125" y="408" fill="#34b6b6"/><rect x="128" y="408" fill="#30b4bc"/><rect x="131" y="408" fill="#2bb1c3"/><rect x="134" y="408" fill="#27afc8"/><rect x="137" y="408" fill="#24acc9"/><rect x="140" y="408" fill="#21a9cb"/><rect x="143" y="408" fill="#1ca4cd"/><rect x="146" y="408" fill="#199dd1"/><rect x="149" y="408" fill="#1d92d5"/><rect x="152" y="408" fill="#2187d9"/><rect x="155" y="408" fill="#257edd"/><rect x="158" y="408" fill="#2876df"/><rect x="161" y="408" fill="#2974df"/><rect x="164" y="408" fill="#277adf"/><rect x="167" y="408" fill="#2382db"/><rect x="170" y="408" fill="#2089d8"/><rect x="173" y="408" fill="#1e8fd6"/><rect x="176" y="408" fill="#1d93d5"/><rect x="179" y="408" fill="#1b97d3"/><rect x="182" y="408" fill="#199cd1"/><rect x="185" y="408" fill="#18a0cf"/><rect x="188" y="408" fill="#1ca4cd"/><rect x="191" y="408" fill="#1ea6cc"/><rect x="194" y="408" fill="#21a9cb"/><rect x="197" y="408" fill="#23abca"/><rect x="200" y="408" fill="#26aec8"/><rect x="203" y="408" fill="#2db2c0"/><rect x="206" y="408" fill="#36b7b4"/><rect x="209" y="408" fill="#40bca7"/><rect x="212" y="408" fill="#51be96"/><rect x="215" y="408" fill="#61c186"/><rect x="218" y="408" fill="#6dc37a"/><rect x="221" y="408" fill="#74c475"/><rect x="224" y="408" fill="#75c475"/><rect x="227" y="408" fill="#75c475"/><rect x="230" y="408" fill="#74c475"/><rect x="233" y="408" fill="#74c475"/><rect x="236" y="408" fill="#73c476"/><rect x="239" y="408" fill="#70c477"/><rect x="242" y="408" fill="#6bc37c"/><rect x="245" y="408" fill="#66c281"/><rect x="92" y="411" fill="#5ac08d"/><rect x="95" y="411" fill="#59c08e"/><rect x="98" y="411" fill="#55bf92"/><rect x="101" y="411" fill="#51be96"/><rect x="104" y="411" fill="#4dbe9a"/><rect x="107" y="411" fill="#49bd9e"/><rect x="110" y="411" fill="#44bca3"/><rect x="113" y="411" fill="#3fbba8"/><rect x="116" y="411" fill="#3cbaac"/><rect x="119" y="411" fill="#38b8b2"/><rect x="122" y="411" fill="#33b5b8"/><rect x="125" y="411" fill="#2fb3be"/><rect x="128" y="411" fill="#2ab1c4"/><rect x="131" y="411" fill="#26aec8"/><rect x="134" y="411" fill="#23abca"/><rect x="137" y="411" fill="#20a8cb"/><rect x="140" y="411" fill="#1ca4cd"/><rect x="143" y="411" fill="#189fd0"/><rect x="146" y="411" fill="#1c94d4"/><rect x="149" y="411" fill="#2089d8"/><rect x="152" y="411" fill="#257fdd"/><rect x="155" y="411" fill="#2974df"/><rect x="158" y="411" fill="#2b6cde"/><rect x="161" y="411" fill="#2c6bdd"/><rect x="164" y="411" fill="#2972df"/><rect x="167" y="411" fill="#267bde"/><rect x="170" y="411" fill="#2383db"/><rect x="173" y="411" fill="#2089d8"/><rect x="176" y="411" fill="#1e8ed6"/><rect x="179" y="411" fill="#1d93d5"/><rect x="182" y="411" fill="#1b97d3"/><rect x="185" y="411" fill="#199cd1"/><rect x="188" y="411" fill="#18a0cf"/><rect x="191" y="411" fill="#1ba3ce"/><rect x="194" y="411" fill="#1ea6cc"/><rect x="197" y="411" fill="#21a9cb"/><rect x="200" y="411" fill="#25adc9"/><rect x="203" y="411" fill="#2cb2c2"/><rect x="206" y="411" fill="#35b6b6"/><rect x="209" y="411" fill="#3ebba9"/><rect x="212" y="411" fill="#4dbe9a"/><rect x="215" y="411" fill="#5cc08b"/><rect x="218" y="411" fill="#67c280"/><rect x="221" y="411" fill="#6ec379"/><rect x="224" y="411" fill="#71c477"/><rect x="227" y="411" fill="#72c476"/><rect x="230" y="411" fill="#72c476"/><rect x="233" y="411" fill="#72c476"/><rect x="236" y="411" fill="#71c477"/><rect x="239" y="411" fill="#6ec379"/><rect x="242" y="411" fill="#69c27e"/><rect x="245" y="411" fill="#64c283"/><rect x="92" y="414" fill="#53bf94"/><rect x="95" y="414" fill="#53bf94"/><rect x="98" y="414" fill="#50be97"/><rect x="101" y="414" fill="#4cbe9b"/><rect x="104" y="414" fill="#48bd9f"/><rect x="107" y="414" fill="#44bca3"/><rect x="110" y="414" fill="#3fbba8"/><rect x="113" y="414" fill="#3bb9ad"/><rect x="116" y="414" fill="#37b7b3"/><rect x="119" y="414" fill="#32b5b9"/><rect x="122" y="414" fill="#2eb3bf"/><rect x="125" y="414" fill="#29b0c6"/><rect x="128" y="414" fill="#26aec8"/><rect x="131" y="414" fill="#23abca"/><rect x="134" y="414" fill="#20a8cb"/><rect x="137" y="414" fill="#1da5cd"/><rect x="140" y="414" fill="#19a1cf"/><rect x="143" y="414" fill="#1a99d2"/><rect x="146" y="414" fill="#1e90d6"/><rect x="149" y="414" fill="#2187d9"/><rect x="152" y="414" fill="#257edd"/><rect x="155" y="414" fill="#2875df"/><rect x="158" y="414" fill="#2b6ede"/><rect x="161" y="414" fill="#2a6fde"/><rect x="164" y="414" fill="#2876df"/><rect x="167" y="414" fill="#257ddd"/><rect x="170" y="414" fill="#2384db"/><rect x="173" y="414" fill="#2089d8"/><rect x="176" y="414" fill="#1f8ed7"/><rect x="179" y="414" fill="#1d92d5"/><rect x="182" y="414" fill="#1c95d4"/><rect x="185" y="414" fill="#1a99d2"/><rect x="188" y="414" fill="#189dd0"/><rect x="191" y="414" fill="#19a1cf"/><rect x="194" y="414" fill="#1ca4cd"/><rect x="197" y="414" fill="#1fa7cc"/><rect x="200" y="414" fill="#24acc9"/><rect x="203" y="414" fill="#29b0c5"/><rect x="206" y="414" fill="#32b5ba"/><rect x="209" y="414" fill="#3ab9ae"/><rect x="212" y="414" fill="#45bca2"/><rect x="215" y="414" fill="#52bf95"/><rect x="218" y="414" fill="#5dc08a"/><rect x="221" y="414" fill="#63c184"/><rect x="224" y="414" fill="#68c27f"/><rect x="227" y="414" fill="#6ac37d"/><rect x="230" y="414" fill="#6cc37b"/><rect x="233" y="414" fill="#6cc37b"/><rect x="236" y="414" fill="#6cc37b"/><rect x="239" y="414" fill="#6ac37d"/><rect x="242" y="414" fill="#66c281"/><rect x="245" y="414" fill="#62c185"/><rect x="92" y="417" fill="#4abd9d"/><rect x="95" y="417" fill="#4cbe9b"/><rect x="98" y="417" fill="#4bbd9c"/><rect x="101" y="417" fill="#47bda0"/><rect x="104" y="417" fill="#43bca4"/><rect x="107" y="417" fill="#3ebba9"/><rect x="110" y="417" fill="#3ab9ae"/><rect x="113" y="417" fill="#36b7b4"/><rect x="116" y="417" fill="#32b5ba"/><rect x="119" y="417" fill="#2db2c0"/><rect x="122" y="417" fill="#28b0c7"/><rect x="125" y="417" fill="#25adc9"/><rect x="128" y="417" fill="#22aaca"/><rect x="131" y="417" fill="#1fa7cc"/><rect x="134" y="417" fill="#1ca4cd"/><rect x="137" y="417" fill="#19a1cf"/><rect x="140" y="417" fill="#199dd1"/><rect x="143" y="417" fill="#1b96d3"/><rect x="146" y="417" fill="#1e90d6"/><rect x="149" y="417" fill="#208ad8"/><rect x="152" y="417" fill="#2384db"/><rect x="155" y="417" fill="#257edd"/><rect x="158" y="417" fill="#267ade"/><rect x="161" y="417" fill="#267bde"/><rect x="164" y="417" fill="#247fdc"/><rect x="167" y="417" fill="#2384db"/><rect x="170" y="417" fill="#2188d9"/><rect x="173" y="417" fill="#1f8dd7"/><rect x="176" y="417" fill="#1d91d5"/><rect x="179" y="417" fill="#1c94d4"/><rect x="182" y="417" fill="#1b97d3"/><rect x="185" y="417" fill="#1a9ad2"/><rect x="188" y="417" fill="#189ed0"/><rect x="191" y="417" fill="#18a0cf"/><rect x="194" y="417" fill="#1ba3ce"/><rect x="197" y="417" fill="#1ea6cc"/><rect x="200" y="417" fill="#22aaca"/><rect x="203" y="417" fill="#26aec8"/><rect x="206" y="417" fill="#2db2c0"/><rect x="209" y="417" fill="#35b6b6"/><rect x="212" y="417" fill="#3cbaac"/><rect x="215" y="417" fill="#46bda1"/><rect x="218" y="417" fill="#50be97"/><rect x="221" y="417" fill="#56bf91"/><rect x="224" y="417" fill="#5cc08b"/><rect x="227" y="417" fill="#60c187"/><rect x="230" y="417" fill="#63c184"/><rect x="233" y="417" fill="#65c282"/><rect x="236" y="417" fill="#65c282"/><rect x="239" y="417" fill="#65c282"/><rect x="242" y="417" fill="#63c184"/><rect x="245" y="417" fill="#5fc188"/><rect x="92" y="420" fill="#44bca3"/><rect x="95" y="420" fill="#46bda1"/><rect x="98" y="420" fill="#45bca2"/><rect x="101" y="420" fill="#42bca5"/><rect x="104" y="420" fill="#3ebbaa"/><rect x="107" y="420" fill="#3ab9af"/><rect x="110" y="420" fill="#35b6b5"/><rect x="113" y="420" fill="#31b4bb"/><rect x="116" y="420" fill="#2cb2c1"/><rect x="119" y="420" fill="#28b0c7"/><rect x="122" y="420" fill="#25adc9"/><rect x="125" y="420" fill="#22aaca"/><rect x="128" y="420" fill="#1fa7cc"/><rect x="131" y="420" fill="#1da5cd"/><rect x="134" y="420" fill="#1ba3ce"/><rect x="137" y="420" fill="#18a0cf"/><rect x="140" y="420" fill="#189dd0"/><rect x="143" y="420" fill="#1a99d2"/><rect x="146" y="420" fill="#1c95d4"/><rect x="149" y="420" fill="#1d92d5"/><rect x="152" y="420" fill="#1e8fd6"/><rect x="155" y="420" fill="#1f8dd7"/><rect x="158" y="420" fill="#208bd8"/><rect x="161" y="420" fill="#1f8cd7"/><rect x="164" y="420" fill="#1f8ed7"/><rect x="167" y="420" fill="#1e90d6"/><rect x="170" y="420" fill="#1d92d5"/><rect x="173" y="420" fill="#1c95d4"/><rect x="176" y="420" fill="#1a98d2"/><rect x="179" y="420" fill="#199bd1"/><rect x="182" y="420" fill="#189dd0"/><rect x="185" y="420" fill="#189fd0"/><rect x="188" y="420" fill="#19a1cf"/><rect x="191" y="420" fill="#1ba3ce"/><rect x="194" y="420" fill="#1da5cd"/><rect x="197" y="420" fill="#1fa7cc"/><rect x="200" y="420" fill="#22aaca"/><rect x="203" y="420" fill="#25adc9"/><rect x="206" y="420" fill="#29b0c6"/><rect x="209" y="420" fill="#2fb3bd"/><rect x="212" y="420" fill="#36b7b4"/><rect x="215" y="420" fill="#3cbaac"/><rect x="218" y="420" fill="#42bca5"/><rect x="221" y="420" fill="#49bd9e"/><rect x="224" y="420" fill="#4ebe99"/><rect x="227" y="420" fill="#54bf93"/><rect x="230" y="420" fill="#58c08f"/><rect x="233" y="420" fill="#5cc08b"/><rect x="236" y="420" fill="#5ec189"/><rect x="239" y="420" fill="#5fc188"/><rect x="242" y="420" fill="#5ec189"/><rect x="245" y="420" fill="#5cc08b"/><rect x="92" y="423" fill="#42bca5"/><rect x="95" y="423" fill="#43bca4"/><rect x="98" y="423" fill="#41bca6"/><rect x="101" y="423" fill="#3dbaaa"/><rect x="104" y="423" fill="#3ab9af"/><rect x="107" y="423" fill="#36b7b5"/><rect x="110" y="423" fill="#31b4ba"/><rect x="113" y="423" fill="#2eb3bf"/><rect x="116" y="423" fill="#29b0c5"/><rect x="119" y="423" fill="#26aec8"/><rect x="122" y="423" fill="#23abca"/><rect x="125" y="423" fill="#21a9cb"/><rect x="128" y="423" fill="#1fa7cc"/><rect x="131" y="423" fill="#1ea6cc"/><rect x="134" y="423" fill="#1ea6cc"/><rect x="137" y="423" fill="#1da5cd"/><rect x="140" y="423" fill="#1ca4cd"/><rect x="143" y="423" fill="#1ba3ce"/><rect x="146" y="423" fill="#1ba3ce"/><rect x="149" y="423" fill="#1aa2ce"/><rect x="152" y="423" fill="#19a1cf"/><rect x="155" y="423" fill="#19a1cf"/><rect x="158" y="423" fill="#19a1cf"/><rect x="161" y="423" fill="#19a1cf"/><rect x="164" y="423" fill="#19a1cf"/><rect x="167" y="423" fill="#1aa2ce"/><rect x="170" y="423" fill="#1aa2ce"/><rect x="173" y="423" fill="#1ba3ce"/><rect x="176" y="423" fill="#1ca4cd"/><rect x="179" y="423" fill="#1ca4cd"/><rect x="182" y="423" fill="#1da5cd"/><rect x="185" y="423" fill="#1ea6cc"/><rect x="188" y="423" fill="#1ea6cc"/><rect x="191" y="423" fill="#20a8cb"/><rect x="194" y="423" fill="#21a9cb"/><rect x="197" y="423" fill="#22aaca"/><rect x="200" y="423" fill="#24acc9"/><rect x="203" y="423" fill="#26aec8"/><rect x="206" y="423" fill="#28b0c7"/><rect x="209" y="423" fill="#2cb2c1"/><rect x="212" y="423" fill="#31b4bb"/><rect x="215" y="423" fill="#36b7b4"/><rect x="218" y="423" fill="#3ab9ae"/><rect x="221" y="423" fill="#3ebbaa"/><rect x="224" y="423" fill="#42bca5"/><rect x="227" y="423" fill="#47bda0"/><rect x="230" y="423" fill="#4cbe9b"/><rect x="233" y="423" fill="#51be96"/><rect x="236" y="423" fill="#55bf92"/><rect x="239" y="423" fill="#57bf90"/><rect x="242" y="423" fill="#59c08e"/><rect x="245" y="423" fill="#59c08e"/><rect x="92" y="426" fill="#40bca7"/><rect x="95" y="426" fill="#40bca7"/><rect x="98" y="426" fill="#3fbba9"/><rect x="101" y="426" fill="#3cbaac"/><rect x="104" y="426" fill="#39b8b0"/><rect x="107" y="426" fill="#36b7b5"/><rect x="110" y="426" fill="#33b5b8"/><rect x="113" y="426" fill="#30b4bc"/><rect x="116" y="426" fill="#2cb2c2"/><rect x="119" y="426" fill="#26aec8"/><rect x="122" y="426" fill="#23abca"/><rect x="125" y="426" fill="#22aaca"/><rect x="128" y="426" fill="#21a9cb"/><rect x="131" y="426" fill="#22aaca"/><rect x="134" y="426" fill="#25adc9"/><rect x="137" y="426" fill="#26aec8"/><rect x="140" y="426" fill="#26aec8"/><rect x="143" y="426" fill="#26aec8"/><rect x="146" y="426" fill="#25adc9"/><rect x="149" y="426" fill="#24acc9"/><rect x="152" y="426" fill="#24acc9"/><rect x="155" y="426" fill="#24acc9"/><rect x="158" y="426" fill="#24acc9"/><rect x="161" y="426" fill="#24acc9"/><rect x="164" y="426" fill="#24acc9"/><rect x="167" y="426" fill="#24acc9"/><rect x="170" y="426" fill="#25adc9"/><rect x="173" y="426" fill="#25adc9"/><rect x="176" y="426" fill="#26aec8"/><rect x="179" y="426" fill="#26aec8"/><rect x="182" y="426" fill="#26aec8"/><rect x="185" y="426" fill="#26aec8"/><rect x="188" y="426" fill="#26aec8"/><rect x="191" y="426" fill="#27afc8"/><rect x="194" y="426" fill="#27afc8"/><rect x="197" y="426" fill="#28b0c6"/><rect x="200" y="426" fill="#2ab1c4"/><rect x="203" y="426" fill="#2cb2c2"/><rect x="206" y="426" fill="#2db2c0"/><rect x="209" y="426" fill="#2fb3be"/><rect x="212" y="426" fill="#31b4bb"/><rect x="215" y="426" fill="#34b6b7"/><rect x="218" y="426" fill="#37b7b3"/><rect x="221" y="426" fill="#3ab9af"/><rect x="224" y="426" fill="#3cbaac"/><rect x="227" y="426" fill="#3fbba8"/><rect x="230" y="426" fill="#43bca4"/><rect x="233" y="426" fill="#48bd9f"/><rect x="236" y="426" fill="#4cbe9b"/><rect x="239" y="426" fill="#50be97"/><rect x="242" y="426" fill="#53bf94"/><rect x="245" y="426" fill="#55bf92"/><rect x="92" y="429" fill="#40bca7"/><rect x="95" y="429" fill="#3fbba8"/><rect x="98" y="429" fill="#3fbba8"/><rect x="101" y="429" fill="#3ebbaa"/><rect x="104" y="429" fill="#3cbaac"/><rect x="107" y="429" fill="#3bb9ae"/><rect x="110" y="429" fill="#3ab9af"/><rect x="113" y="429" fill="#38b8b2"/><rect x="116" y="429" fill="#32b5b9"/><rect x="119" y="429" fill="#28b0c7"/><rect x="122" y="429" fill="#22aaca"/><rect x="125" y="429" fill="#1fa7cc"/><rect x="128" y="429" fill="#1fa7cc"/><rect x="131" y="429" fill="#22aaca"/><rect x="134" y="429" fill="#26aec8"/><rect x="137" y="429" fill="#2ab1c5"/><rect x="140" y="429" fill="#2ab1c4"/><rect x="143" y="429" fill="#27afc8"/><rect x="146" y="429" fill="#24acc9"/><rect x="149" y="429" fill="#22aaca"/><rect x="152" y="429" fill="#21a9cb"/><rect x="155" y="429" fill="#21a9cb"/><rect x="158" y="429" fill="#21a9cb"/><rect x="161" y="429" fill="#21a9cb"/><rect x="164" y="429" fill="#22aaca"/><rect x="167" y="429" fill="#23abca"/><rect x="170" y="429" fill="#26aec8"/><rect x="173" y="429" fill="#27afc8"/><rect x="176" y="429" fill="#28b0c7"/><rect x="179" y="429" fill="#28b0c7"/><rect x="182" y="429" fill="#28b0c7"/><rect x="185" y="429" fill="#28b0c7"/><rect x="188" y="429" fill="#28b0c7"/><rect x="191" y="429" fill="#28b0c7"/><rect x="194" y="429" fill="#29b0c6"/><rect x="197" y="429" fill="#2bb1c2"/><rect x="200" y="429" fill="#30b4bc"/><rect x="203" y="429" fill="#32b5b9"/><rect x="206" y="429" fill="#33b5b8"/><rect x="209" y="429" fill="#34b6b7"/><rect x="212" y="429" fill="#34b6b6"/><rect x="215" y="429" fill="#35b6b5"/><rect x="218" y="429" fill="#37b7b3"/><rect x="221" y="429" fill="#38b8b1"/><rect x="224" y="429" fill="#3bb9ae"/><rect x="227" y="429" fill="#3fbba9"/><rect x="230" y="429" fill="#43bca4"/><rect x="233" y="429" fill="#45bca2"/><rect x="236" y="429" fill="#48bd9f"/><rect x="239" y="429" fill="#4cbe9b"/><rect x="242" y="429" fill="#4fbe98"/><rect x="245" y="429" fill="#51be96"/><rect x="92" y="432" fill="#40bca7"/><rect x="95" y="432" fill="#3fbba8"/><rect x="98" y="432" fill="#3fbba8"/><rect x="101" y="432" fill="#3fbba8"/><rect x="104" y="432" fill="#3fbba9"/><rect x="107" y="432" fill="#3ebba9"/><rect x="110" y="432" fill="#3ebba9"/><rect x="113" y="432" fill="#3dbaab"/><rect x="116" y="432" fill="#38b8b1"/><rect x="119" y="432" fill="#2cb2c1"/><rect x="122" y="432" fill="#21a9cb"/><rect x="125" y="432" fill="#1da5cd"/><rect x="128" y="432" fill="#1ca4cd"/><rect x="131" y="432" fill="#1ea6cc"/><rect x="134" y="432" fill="#22aaca"/><rect x="137" y="432" fill="#24acc9"/><rect x="140" y="432" fill="#23abca"/><rect x="143" y="432" fill="#1fa7cc"/><rect x="146" y="432" fill="#18a0cf"/><rect x="149" y="432" fill="#1a99d2"/><rect x="152" y="432" fill="#1b98d3"/><rect x="155" y="432" fill="#1b97d3"/><rect x="158" y="432" fill="#1b97d3"/><rect x="161" y="432" fill="#1b97d3"/><rect x="164" y="432" fill="#1a99d2"/><rect x="167" y="432" fill="#189fd0"/><rect x="170" y="432" fill="#1da5cd"/><rect x="173" y="432" fill="#21a9cb"/><rect x="176" y="432" fill="#21a9cb"/><rect x="179" y="432" fill="#21a9cb"/><rect x="182" y="432" fill="#21a9cb"/><rect x="185" y="432" fill="#21a9cb"/><rect x="188" y="432" fill="#21a9cb"/><rect x="191" y="432" fill="#21a9cb"/><rect x="194" y="432" fill="#22aaca"/><rect x="197" y="432" fill="#25adc9"/><rect x="200" y="432" fill="#2db2c0"/><rect x="203" y="432" fill="#33b5b9"/><rect x="206" y="432" fill="#34b6b7"/><rect x="209" y="432" fill="#34b6b7"/><rect x="212" y="432" fill="#34b6b7"/><rect x="215" y="432" fill="#34b6b6"/><rect x="218" y="432" fill="#35b6b6"/><rect x="221" y="432" fill="#36b7b5"/><rect x="224" y="432" fill="#3ab9af"/><rect x="227" y="432" fill="#40bca7"/><rect x="230" y="432" fill="#47bda0"/><rect x="233" y="432" fill="#49bd9e"/><rect x="236" y="432" fill="#4bbd9c"/><rect x="239" y="432" fill="#4dbe9a"/><rect x="242" y="432" fill="#4ebe99"/><rect x="245" y="432" fill="#50be97"/></g></g>
<g clip-path="url(#csurf)"><g filter="url(#blur1)" class="cells"><rect x="94" y="258" fill="#f6c03d"/><rect x="97" y="258" fill="#f6c03d"/><rect x="100" y="258" fill="#f6c13c"/><rect x="103" y="258" fill="#f6c23c"/><rect x="106" y="258" fill="#f6c23c"/><rect x="109" y="258" fill="#f6c33c"/><rect x="112" y="258" fill="#f5c83a"/><rect x="115" y="258" fill="#f4d236"/><rect x="118" y="258" fill="#f4d732"/><rect x="121" y="258" fill="#f4d832"/><rect x="124" y="258" fill="#f4d931"/><rect x="127" y="258" fill="#f4dc2e"/><rect x="130" y="258" fill="#f4e329"/><rect x="133" y="258" fill="#f4e727"/><rect x="136" y="258" fill="#f4e826"/><rect x="139" y="258" fill="#f4e826"/><rect x="142" y="258" fill="#f4e826"/><rect x="145" y="258" fill="#f4e926"/><rect x="148" y="258" fill="#f4e925"/><rect x="151" y="258" fill="#f4e826"/><rect x="154" y="258" fill="#f4e528"/><rect x="157" y="258" fill="#f4df2c"/><rect x="160" y="258" fill="#f4d931"/><rect x="163" y="258" fill="#f4d434"/><rect x="166" y="258" fill="#f4d633"/><rect x="169" y="258" fill="#f4e02c"/><rect x="172" y="258" fill="#f4d931"/><rect x="175" y="258" fill="#f5c73a"/><rect x="178" y="258" fill="#f6bf3d"/><rect x="181" y="258" fill="#f7bc3e"/><rect x="184" y="258" fill="#eabb40"/><rect x="187" y="258" fill="#91c467"/><rect x="190" y="258" fill="#6ac37d"/><rect x="193" y="258" fill="#66c281"/><rect x="196" y="258" fill="#66c281"/><rect x="199" y="258" fill="#66c281"/><rect x="202" y="258" fill="#65c282"/><rect x="205" y="258" fill="#5cc08b"/><rect x="208" y="258" fill="#4abd9d"/><rect x="211" y="258" fill="#41bca6"/><rect x="214" y="258" fill="#40bca7"/><rect x="217" y="258" fill="#40bca7"/><rect x="220" y="258" fill="#3fbba8"/><rect x="223" y="258" fill="#3cbaac"/><rect x="226" y="258" fill="#35b6b6"/><rect x="229" y="258" fill="#31b4bb"/><rect x="232" y="258" fill="#31b4bb"/><rect x="235" y="258" fill="#31b4bb"/><rect x="238" y="258" fill="#31b4bb"/><rect x="241" y="258" fill="#31b4bb"/><rect x="244" y="258" fill="#31b4bb"/><rect x="94" y="261" fill="#f6bf3d"/><rect x="97" y="261" fill="#f6c13c"/><rect x="100" y="261" fill="#f6c33c"/><rect x="103" y="261" fill="#f5c53b"/><rect x="106" y="261" fill="#f5c73a"/><rect x="109" y="261" fill="#f5c93a"/><rect x="112" y="261" fill="#f4cc39"/><rect x="115" y="261" fill="#f4d136"/><rect x="118" y="261" fill="#f4d534"/><rect x="121" y="261" fill="#f4d633"/><rect x="124" y="261" fill="#f4d831"/><rect x="127" y="261" fill="#f4da30"/><rect x="130" y="261" fill="#f4de2d"/><rect x="133" y="261" fill="#f4e12b"/><rect x="136" y="261" fill="#f4e22a"/><rect x="139" y="261" fill="#f4e329"/><rect x="142" y="261" fill="#f4e528"/><rect x="145" y="261" fill="#f4e528"/><rect x="148" y="261" fill="#f4e528"/><rect x="151" y="261" fill="#f4e329"/><rect x="154" y="261" fill="#f4dc2e"/><rect x="157" y="261" fill="#f4d136"/><rect x="160" y="261" fill="#f5c63b"/><rect x="163" y="261" fill="#f7bd3e"/><rect x="166" y="261" fill="#f6c03d"/><rect x="169" y="261" fill="#f4d137"/><rect x="172" y="261" fill="#f4cd38"/><rect x="175" y="261" fill="#f6c03d"/><rect x="178" y="261" fill="#f7b93f"/><rect x="181" y="261" fill="#f5b840"/><rect x="184" y="261" fill="#e6bc40"/><rect x="187" y="261" fill="#9bc462"/><rect x="190" y="261" fill="#7ac472"/><rect x="193" y="261" fill="#74c475"/><rect x="196" y="261" fill="#71c477"/><rect x="199" y="261" fill="#6fc378"/><rect x="202" y="261" fill="#6cc37b"/><rect x="205" y="261" fill="#64c283"/><rect x="208" y="261" fill="#54bf93"/><rect x="211" y="261" fill="#4cbe9b"/><rect x="214" y="261" fill="#49bd9e"/><rect x="217" y="261" fill="#47bda0"/><rect x="220" y="261" fill="#45bca2"/><rect x="223" y="261" fill="#3fbba8"/><rect x="226" y="261" fill="#38b8b1"/><rect x="229" y="261" fill="#34b6b6"/><rect x="232" y="261" fill="#33b5b8"/><rect x="235" y="261" fill="#32b5b9"/><rect x="238" y="261" fill="#31b4ba"/><rect x="241" y="261" fill="#31b4bb"/><rect x="244" y="261" fill="#31b4bb"/><rect x="94" y="264" fill="#f7bd3e"/><rect x="97" y="264" fill="#f6c13c"/><rect x="100" y="264" fill="#f5c43b"/><rect x="103" y="264" fill="#f5c73a"/><rect x="106" y="264" fill="#f5c93a"/><rect x="109" y="264" fill="#f4cc39"/><rect x="112" y="264" fill="#f4ce38"/><rect x="115" y="264" fill="#f4d136"/><rect x="118" y="264" fill="#f4d434"/><rect x="121" y="264" fill="#f4d633"/><rect x="124" y="264" fill="#f4d931"/><rect x="127" y="264" fill="#f4db2f"/><rect x="130" y="264" fill="#f4de2d"/><rect x="133" y="264" fill="#f4e02c"/><rect x="136" y="264" fill="#f4e32a"/><rect x="139" y="264" fill="#f4e429"/><rect x="142" y="264" fill="#f4e528"/><rect x="145" y="264" fill="#f4e528"/><rect x="148" y="264" fill="#f4e429"/><rect x="151" y="264" fill="#f4e22a"/><rect x="154" y="264" fill="#f4de2d"/><rect x="157" y="264" fill="#f4d831"/><rect x="160" y="264" fill="#f4d236"/><rect x="163" y="264" fill="#f4cc39"/><rect x="166" y="264" fill="#f4ca39"/><rect x="169" y="264" fill="#f4cf38"/><rect x="172" y="264" fill="#f5c83a"/><rect x="175" y="264" fill="#f7bc3e"/><rect x="178" y="264" fill="#f2b940"/><rect x="181" y="264" fill="#ebbb40"/><rect x="184" y="264" fill="#d7be47"/><rect x="187" y="264" fill="#afc458"/><rect x="190" y="264" fill="#97c464"/><rect x="193" y="264" fill="#8ac46a"/><rect x="196" y="264" fill="#82c46e"/><rect x="199" y="264" fill="#7bc472"/><rect x="202" y="264" fill="#75c475"/><rect x="205" y="264" fill="#6dc37a"/><rect x="208" y="264" fill="#63c184"/><rect x="211" y="264" fill="#5cc08b"/><rect x="214" y="264" fill="#56bf91"/><rect x="217" y="264" fill="#51be96"/><rect x="220" y="264" fill="#4cbe9b"/><rect x="223" y="264" fill="#45bca2"/><rect x="226" y="264" fill="#3ebba9"/><rect x="229" y="264" fill="#3ab9ae"/><rect x="232" y="264" fill="#37b7b2"/><rect x="235" y="264" fill="#35b6b6"/><rect x="238" y="264" fill="#33b5b8"/><rect x="241" y="264" fill="#32b5ba"/><rect x="244" y="264" fill="#31b4bb"/><rect x="94" y="267" fill="#f7b93f"/><rect x="97" y="267" fill="#f6bf3d"/><rect x="100" y="267" fill="#f5c43b"/><rect x="103" y="267" fill="#f5c73a"/><rect x="106" y="267" fill="#f5c93a"/><rect x="109" y="267" fill="#f4cc39"/><rect x="112" y="267" fill="#f4ce38"/><rect x="115" y="267" fill="#f4d137"/><rect x="118" y="267" fill="#f4d435"/><rect x="121" y="267" fill="#f4d633"/><rect x="124" y="267" fill="#f4d931"/><rect x="127" y="267" fill="#f4dc2f"/><rect x="130" y="267" fill="#f4df2d"/><rect x="133" y="267" fill="#f4e12b"/><rect x="136" y="267" fill="#f4e32a"/><rect x="139" y="267" fill="#f4e329"/><rect x="142" y="267" fill="#f4e32a"/><rect x="145" y="267" fill="#f4e02c"/><rect x="148" y="267" fill="#f4dd2e"/><rect x="151" y="267" fill="#f4db2f"/><rect x="154" y="267" fill="#f4da30"/><rect x="157" y="267" fill="#f4d831"/><rect x="160" y="267" fill="#f4d633"/><rect x="163" y="267" fill="#f4d335"/><rect x="166" y="267" fill="#f4cf38"/><rect x="169" y="267" fill="#f4cb39"/><rect x="172" y="267" fill="#f5c53b"/><rect x="175" y="267" fill="#f7bc3e"/><rect x="178" y="267" fill="#f4b840"/><rect x="181" y="267" fill="#e9bb40"/><rect x="184" y="267" fill="#cdbf4b"/><rect x="187" y="267" fill="#abc45a"/><rect x="190" y="267" fill="#8fc468"/><rect x="193" y="267" fill="#7ac472"/><rect x="196" y="267" fill="#6ec379"/><rect x="199" y="267" fill="#68c27f"/><rect x="202" y="267" fill="#63c184"/><rect x="205" y="267" fill="#5ec189"/><rect x="208" y="267" fill="#58c08f"/><rect x="211" y="267" fill="#53bf94"/><rect x="214" y="267" fill="#4ebe99"/><rect x="217" y="267" fill="#49bd9e"/><rect x="220" y="267" fill="#44bca3"/><rect x="223" y="267" fill="#3fbba8"/><rect x="226" y="267" fill="#3dbaab"/><rect x="229" y="267" fill="#3ab9af"/><rect x="232" y="267" fill="#37b7b3"/><rect x="235" y="267" fill="#35b6b6"/><rect x="238" y="267" fill="#33b5b9"/><rect x="241" y="267" fill="#31b4bb"/><rect x="244" y="267" fill="#31b4bb"/><rect x="94" y="270" fill="#f6b840"/><rect x="97" y="270" fill="#f7bd3e"/><rect x="100" y="270" fill="#f5c43b"/><rect x="103" y="270" fill="#f5c73a"/><rect x="106" y="270" fill="#f5c93a"/><rect x="109" y="270" fill="#f4cc39"/><rect x="112" y="270" fill="#f4ce38"/><rect x="115" y="270" fill="#f4d137"/><rect x="118" y="270" fill="#f4d435"/><rect x="121" y="270" fill="#f4d633"/><rect x="124" y="270" fill="#f4d931"/><rect x="127" y="270" fill="#f4db2f"/><rect x="130" y="270" fill="#f4dd2e"/><rect x="133" y="270" fill="#f4de2d"/><rect x="136" y="270" fill="#f4df2c"/><rect x="139" y="270" fill="#f4df2d"/><rect x="142" y="270" fill="#f4dc2e"/><rect x="145" y="270" fill="#f4d831"/><rect x="148" y="270" fill="#f4d434"/><rect x="151" y="270" fill="#f4d136"/><rect x="154" y="270" fill="#f4cf38"/><rect x="157" y="270" fill="#f4ce38"/><rect x="160" y="270" fill="#f4cc39"/><rect x="163" y="270" fill="#f4ca39"/><rect x="166" y="270" fill="#f5c63b"/><rect x="169" y="270" fill="#f6c13c"/><rect x="172" y="270" fill="#f7bc3e"/><rect x="175" y="270" fill="#f7b840"/><rect x="178" y="270" fill="#f0b940"/><rect x="181" y="270" fill="#e2bc42"/><rect x="184" y="270" fill="#bdc252"/><rect x="187" y="270" fill="#9ac462"/><rect x="190" y="270" fill="#7dc471"/><rect x="193" y="270" fill="#6ac37d"/><rect x="196" y="270" fill="#61c186"/><rect x="199" y="270" fill="#5bc08c"/><rect x="202" y="270" fill="#56bf91"/><rect x="205" y="270" fill="#52bf95"/><rect x="208" y="270" fill="#4dbe9a"/><rect x="211" y="270" fill="#49bd9e"/><rect x="214" y="270" fill="#45bca2"/><rect x="217" y="270" fill="#40bca7"/><rect x="220" y="270" fill="#3ebbaa"/><rect x="223" y="270" fill="#3cbaad"/><rect x="226" y="270" fill="#39b8b0"/><rect x="229" y="270" fill="#37b7b2"/><rect x="232" y="270" fill="#35b6b5"/><rect x="235" y="270" fill="#33b5b8"/><rect x="238" y="270" fill="#31b4bb"/><rect x="241" y="270" fill="#30b4bc"/><rect x="244" y="270" fill="#30b4bc"/><rect x="94" y="273" fill="#f3b940"/><rect x="97" y="273" fill="#f7bb3e"/><rect x="100" y="273" fill="#f6c33c"/><rect x="103" y="273" fill="#f5c73a"/><rect x="106" y="273" fill="#f5c93a"/><rect x="109" y="273" fill="#f4cc39"/><rect x="112" y="273" fill="#f4ce38"/><rect x="115" y="273" fill="#f4d137"/><rect x="118" y="273" fill="#f4d435"/><rect x="121" y="273" fill="#f4d633"/><rect x="124" y="273" fill="#f4d832"/><rect x="127" y="273" fill="#f4d931"/><rect x="130" y="273" fill="#f4d930"/><rect x="133" y="273" fill="#f4da30"/><rect x="136" y="273" fill="#f4da30"/><rect x="139" y="273" fill="#f4d831"/><rect x="142" y="273" fill="#f4d533"/><rect x="145" y="273" fill="#f4d037"/><rect x="148" y="273" fill="#f4cc39"/><rect x="151" y="273" fill="#f5c83a"/><rect x="154" y="273" fill="#f5c63b"/><rect x="157" y="273" fill="#f5c43b"/><rect x="160" y="273" fill="#f6c23c"/><rect x="163" y="273" fill="#f6bf3d"/><rect x="166" y="273" fill="#f7bb3e"/><rect x="169" y="273" fill="#f6b840"/><rect x="172" y="273" fill="#f3b940"/><rect x="175" y="273" fill="#efba40"/><rect x="178" y="273" fill="#e9bb40"/><rect x="181" y="273" fill="#cdbf4b"/><rect x="184" y="273" fill="#a9c45b"/><rect x="187" y="273" fill="#8bc46a"/><rect x="190" y="273" fill="#75c475"/><rect x="193" y="273" fill="#67c280"/><rect x="196" y="273" fill="#5ec189"/><rect x="199" y="273" fill="#58c08f"/><rect x="202" y="273" fill="#53bf94"/><rect x="205" y="273" fill="#4ebe99"/><rect x="208" y="273" fill="#49bd9e"/><rect x="211" y="273" fill="#45bca2"/><rect x="214" y="273" fill="#40bca7"/><rect x="217" y="273" fill="#3ebbaa"/><rect x="220" y="273" fill="#3cbaad"/><rect x="223" y="273" fill="#3ab9af"/><rect x="226" y="273" fill="#38b8b2"/><rect x="229" y="273" fill="#36b7b4"/><rect x="232" y="273" fill="#34b6b7"/><rect x="235" y="273" fill="#32b5ba"/><rect x="238" y="273" fill="#30b4bd"/><rect x="241" y="273" fill="#2fb3be"/><rect x="244" y="273" fill="#30b4bd"/><rect x="94" y="276" fill="#f0b940"/><rect x="97" y="276" fill="#f7b93f"/><rect x="100" y="276" fill="#f6c23c"/><rect x="103" y="276" fill="#f5c63b"/><rect x="106" y="276" fill="#f5c93a"/><rect x="109" y="276" fill="#f4cc39"/><rect x="112" y="276" fill="#f4ce38"/><rect x="115" y="276" fill="#f4d137"/><rect x="118" y="276" fill="#f4d335"/><rect x="121" y="276" fill="#f4d434"/><rect x="124" y="276" fill="#f4d434"/><rect x="127" y="276" fill="#f4d434"/><rect x="130" y="276" fill="#f4d434"/><rect x="133" y="276" fill="#f4d434"/><rect x="136" y="276" fill="#f4d434"/><rect x="139" y="276" fill="#f4d236"/><rect x="142" y="276" fill="#f4ce38"/><rect x="145" y="276" fill="#f4ca39"/><rect x="148" y="276" fill="#f5c53b"/><rect x="151" y="276" fill="#f6c13c"/><rect x="154" y="276" fill="#f7bd3e"/><rect x="157" y="276" fill="#f7bb3e"/><rect x="160" y="276" fill="#f7b83f"/><rect x="163" y="276" fill="#f5b840"/><rect x="166" y="276" fill="#f2b940"/><rect x="169" y="276" fill="#eeba40"/><rect x="172" y="276" fill="#eabb40"/><rect x="175" y="276" fill="#e5bc41"/><rect x="178" y="276" fill="#d4be48"/><rect x="181" y="276" fill="#b8c254"/><rect x="184" y="276" fill="#9ac462"/><rect x="187" y="276" fill="#82c46e"/><rect x="190" y="276" fill="#72c476"/><rect x="193" y="276" fill="#66c281"/><rect x="196" y="276" fill="#5dc08a"/><rect x="199" y="276" fill="#56bf91"/><rect x="202" y="276" fill="#51be96"/><rect x="205" y="276" fill="#4cbe9b"/><rect x="208" y="276" fill="#47bda0"/><rect x="211" y="276" fill="#42bca5"/><rect x="214" y="276" fill="#3ebba9"/><rect x="217" y="276" fill="#3cbaac"/><rect x="220" y="276" fill="#3ab9af"/><rect x="223" y="276" fill="#38b8b1"/><rect x="226" y="276" fill="#36b7b4"/><rect x="229" y="276" fill="#34b6b6"/><rect x="232" y="276" fill="#32b5b9"/><rect x="235" y="276" fill="#30b4bc"/><rect x="238" y="276" fill="#2eb3bf"/><rect x="241" y="276" fill="#2db2c0"/><rect x="244" y="276" fill="#2fb3bd"/><rect x="94" y="279" fill="#edba40"/><rect x="97" y="279" fill="#f7b840"/><rect x="100" y="279" fill="#f6c03d"/><rect x="103" y="279" fill="#f5c53b"/><rect x="106" y="279" fill="#f5c93a"/><rect x="109" y="279" fill="#f4cc39"/><rect x="112" y="279" fill="#f4ce38"/><rect x="115" y="279" fill="#f4cf38"/><rect x="118" y="279" fill="#f4d037"/><rect x="121" y="279" fill="#f4d037"/><rect x="124" y="279" fill="#f4cf38"/><rect x="127" y="279" fill="#f4cf38"/><rect x="130" y="279" fill="#f4cf38"/><rect x="133" y="279" fill="#f4cf38"/><rect x="136" y="279" fill="#f4ce38"/><rect x="139" y="279" fill="#f4cc39"/><rect x="142" y="279" fill="#f5c83a"/><rect x="145" y="279" fill="#f6c33c"/><rect x="148" y="279" fill="#f6bf3d"/><rect x="151" y="279" fill="#f7ba3f"/><rect x="154" y="279" fill="#f6b840"/><rect x="157" y="279" fill="#f3b940"/><rect x="160" y="279" fill="#f1b940"/><rect x="163" y="279" fill="#eeba40"/><rect x="166" y="279" fill="#eabb40"/><rect x="169" y="279" fill="#e3bc41"/><rect x="172" y="279" fill="#d9be46"/><rect x="175" y="279" fill="#cebf4a"/><rect x="178" y="279" fill="#bfc151"/><rect x="181" y="279" fill="#a7c45c"/><rect x="184" y="279" fill="#90c467"/><rect x="187" y="279" fill="#7fc470"/><rect x="190" y="279" fill="#70c477"/><rect x="193" y="279" fill="#65c282"/><rect x="196" y="279" fill="#5cc08b"/><rect x="199" y="279" fill="#55bf92"/><rect x="202" y="279" fill="#4fbe98"/><rect x="205" y="279" fill="#4abd9d"/><rect x="208" y="279" fill="#45bca2"/><rect x="211" y="279" fill="#40bca7"/><rect x="214" y="279" fill="#3dbaab"/><rect x="217" y="279" fill="#3bb9ae"/><rect x="220" y="279" fill="#39b8b1"/><rect x="223" y="279" fill="#37b7b3"/><rect x="226" y="279" fill="#35b6b6"/><rect x="229" y="279" fill="#33b5b8"/><rect x="232" y="279" fill="#31b4bb"/><rect x="235" y="279" fill="#2fb3be"/><rect x="238" y="279" fill="#2cb2c1"/><rect x="241" y="279" fill="#2cb2c2"/><rect x="244" y="279" fill="#2fb3be"/><rect x="94" y="282" fill="#eabb40"/><rect x="97" y="282" fill="#f5b840"/><rect x="100" y="282" fill="#f6bf3d"/><rect x="103" y="282" fill="#f5c43b"/><rect x="106" y="282" fill="#f5c83a"/><rect x="109" y="282" fill="#f4cb39"/><rect x="112" y="282" fill="#f4cc39"/><rect x="115" y="282" fill="#f4cc39"/><rect x="118" y="282" fill="#f4cc39"/><rect x="121" y="282" fill="#f4cb39"/><rect x="124" y="282" fill="#f4cb39"/><rect x="127" y="282" fill="#f4ca39"/><rect x="130" y="282" fill="#f4ca39"/><rect x="133" y="282" fill="#f4ca39"/><rect x="136" y="282" fill="#f5c83a"/><rect x="139" y="282" fill="#f5c53b"/><rect x="142" y="282" fill="#f6c13c"/><rect x="145" y="282" fill="#f7bc3e"/><rect x="148" y="282" fill="#f7b840"/><rect x="151" y="282" fill="#f4b840"/><rect x="154" y="282" fill="#f0b940"/><rect x="157" y="282" fill="#edba40"/><rect x="160" y="282" fill="#e9bb40"/><rect x="163" y="282" fill="#e2bc42"/><rect x="166" y="282" fill="#d8be46"/><rect x="169" y="282" fill="#cdbf4b"/><rect x="172" y="282" fill="#c3c14f"/><rect x="175" y="282" fill="#b8c254"/><rect x="178" y="282" fill="#acc459"/><rect x="181" y="282" fill="#9bc462"/><rect x="184" y="282" fill="#8bc46a"/><rect x="187" y="282" fill="#7dc471"/><rect x="190" y="282" fill="#70c477"/><rect x="193" y="282" fill="#65c282"/><rect x="196" y="282" fill="#5bc08c"/><rect x="199" y="282" fill="#53bf94"/><rect x="202" y="282" fill="#4ebe99"/><rect x="205" y="282" fill="#48bd9f"/><rect x="208" y="282" fill="#43bca4"/><rect x="211" y="282" fill="#3fbba9"/><rect x="214" y="282" fill="#3cbaad"/><rect x="217" y="282" fill="#39b8b0"/><rect x="220" y="282" fill="#37b7b3"/><rect x="223" y="282" fill="#35b6b5"/><rect x="226" y="282" fill="#33b5b8"/><rect x="229" y="282" fill="#31b4ba"/><rect x="232" y="282" fill="#2fb3bd"/><rect x="235" y="282" fill="#2db2c0"/><rect x="238" y="282" fill="#2ab1c4"/><rect x="241" y="282" fill="#2ab1c4"/><rect x="244" y="282" fill="#2eb3bf"/><rect x="94" y="285" fill="#e6bc40"/><rect x="97" y="285" fill="#f4b840"/><rect x="100" y="285" fill="#f6be3d"/><rect x="103" y="285" fill="#f6c33c"/><rect x="106" y="285" fill="#f5c63b"/><rect x="109" y="285" fill="#f5c83a"/><rect x="112" y="285" fill="#f5c93a"/><rect x="115" y="285" fill="#f5c83a"/><rect x="118" y="285" fill="#f5c83a"/><rect x="121" y="285" fill="#f5c73a"/><rect x="124" y="285" fill="#f5c63b"/><rect x="127" y="285" fill="#f5c63b"/><rect x="130" y="285" fill="#f5c53b"/><rect x="133" y="285" fill="#f5c43b"/><rect x="136" y="285" fill="#f6c23c"/><rect x="139" y="285" fill="#f6be3d"/><rect x="142" y="285" fill="#f7b93f"/><rect x="145" y="285" fill="#f5b840"/><rect x="148" y="285" fill="#f1b940"/><rect x="151" y="285" fill="#edba40"/><rect x="154" y="285" fill="#e9bb40"/><rect x="157" y="285" fill="#e0bd43"/><rect x="160" y="285" fill="#d6be47"/><rect x="163" y="285" fill="#ccbf4b"/><rect x="166" y="285" fill="#c2c150"/><rect x="169" y="285" fill="#b7c254"/><rect x="172" y="285" fill="#adc459"/><rect x="175" y="285" fill="#a4c45d"/><rect x="178" y="285" fill="#9bc462"/><rect x="181" y="285" fill="#91c467"/><rect x="184" y="285" fill="#86c46c"/><rect x="187" y="285" fill="#7ac472"/><rect x="190" y="285" fill="#6ec379"/><rect x="193" y="285" fill="#63c184"/><rect x="196" y="285" fill="#5ac08d"/><rect x="199" y="285" fill="#52bf95"/><rect x="202" y="285" fill="#4cbe9b"/><rect x="205" y="285" fill="#46bda1"/><rect x="208" y="285" fill="#41bca6"/><rect x="211" y="285" fill="#3dbaaa"/><rect x="214" y="285" fill="#3ab9ae"/><rect x="217" y="285" fill="#38b8b2"/><rect x="220" y="285" fill="#35b6b5"/><rect x="223" y="285" fill="#33b5b8"/><rect x="226" y="285" fill="#32b5ba"/><rect x="229" y="285" fill="#30b4bd"/><rect x="232" y="285" fill="#2db2c0"/><rect x="235" y="285" fill="#2bb1c3"/><rect x="238" y="285" fill="#28b0c6"/><rect x="241" y="285" fill="#28b0c7"/><rect x="244" y="285" fill="#2bb1c3"/><rect x="94" y="288" fill="#ddbd44"/><rect x="97" y="288" fill="#f1b940"/><rect x="100" y="288" fill="#f7bc3e"/><rect x="103" y="288" fill="#f6c13c"/><rect x="106" y="288" fill="#f5c43b"/><rect x="109" y="288" fill="#f5c53b"/><rect x="112" y="288" fill="#f5c53b"/><rect x="115" y="288" fill="#f5c43b"/><rect x="118" y="288" fill="#f6c33c"/><rect x="121" y="288" fill="#f6c33c"/><rect x="124" y="288" fill="#f6c23c"/><rect x="127" y="288" fill="#f6c23c"/><rect x="130" y="288" fill="#f6c03d"/><rect x="133" y="288" fill="#f6be3d"/><rect x="136" y="288" fill="#f7ba3f"/><rect x="139" y="288" fill="#f5b840"/><rect x="142" y="288" fill="#f1b940"/><rect x="145" y="288" fill="#edba40"/><rect x="148" y="288" fill="#e9bb40"/><rect x="151" y="288" fill="#dfbd43"/><rect x="154" y="288" fill="#d4be48"/><rect x="157" y="288" fill="#cac04c"/><rect x="160" y="288" fill="#c0c151"/><rect x="163" y="288" fill="#b6c355"/><rect x="166" y="288" fill="#acc459"/><rect x="169" y="288" fill="#a3c45e"/><rect x="172" y="288" fill="#99c463"/><rect x="175" y="288" fill="#91c467"/><rect x="178" y="288" fill="#8bc46a"/><rect x="181" y="288" fill="#85c46d"/><rect x="184" y="288" fill="#7dc471"/><rect x="187" y="288" fill="#73c476"/><rect x="190" y="288" fill="#69c27e"/><rect x="193" y="288" fill="#5fc188"/><rect x="196" y="288" fill="#56bf91"/><rect x="199" y="288" fill="#4fbe98"/><rect x="202" y="288" fill="#49bd9e"/><rect x="205" y="288" fill="#44bca3"/><rect x="208" y="288" fill="#3fbba8"/><rect x="211" y="288" fill="#3cbaac"/><rect x="214" y="288" fill="#39b8b0"/><rect x="217" y="288" fill="#36b7b4"/><rect x="220" y="288" fill="#34b6b7"/><rect x="223" y="288" fill="#32b5ba"/><rect x="226" y="288" fill="#30b4bc"/><rect x="229" y="288" fill="#2eb3bf"/><rect x="232" y="288" fill="#2cb2c2"/><rect x="235" y="288" fill="#29b0c5"/><rect x="238" y="288" fill="#27afc8"/><rect x="241" y="288" fill="#26aec8"/><rect x="244" y="288" fill="#26aec8"/><rect x="94" y="291" fill="#d4be48"/><rect x="97" y="291" fill="#efba40"/><rect x="100" y="291" fill="#f7ba3f"/><rect x="103" y="291" fill="#f6bf3d"/><rect x="106" y="291" fill="#f6c13c"/><rect x="109" y="291" fill="#f6c13c"/><rect x="112" y="291" fill="#f6c13c"/><rect x="115" y="291" fill="#f6c03d"/><rect x="118" y="291" fill="#f6bf3d"/><rect x="121" y="291" fill="#f6bf3d"/><rect x="124" y="291" fill="#f6be3d"/><rect x="127" y="291" fill="#f7bc3e"/><rect x="130" y="291" fill="#f7ba3f"/><rect x="133" y="291" fill="#f6b840"/><rect x="136" y="291" fill="#f1b940"/><rect x="139" y="291" fill="#edba40"/><rect x="142" y="291" fill="#e9bb40"/><rect x="145" y="291" fill="#dfbd43"/><rect x="148" y="291" fill="#d3be48"/><rect x="151" y="291" fill="#c8c04d"/><rect x="154" y="291" fill="#bdc252"/><rect x="157" y="291" fill="#b3c356"/><rect x="160" y="291" fill="#aac45a"/><rect x="163" y="291" fill="#a1c45f"/><rect x="166" y="291" fill="#98c463"/><rect x="169" y="291" fill="#8ec468"/><rect x="172" y="291" fill="#85c46d"/><rect x="175" y="291" fill="#7ec470"/><rect x="178" y="291" fill="#7ac472"/><rect x="181" y="291" fill="#76c474"/><rect x="184" y="291" fill="#70c477"/><rect x="187" y="291" fill="#69c27e"/><rect x="190" y="291" fill="#60c187"/><rect x="193" y="291" fill="#58c08f"/><rect x="196" y="291" fill="#4fbe98"/><rect x="199" y="291" fill="#48bd9f"/><rect x="202" y="291" fill="#43bca4"/><rect x="205" y="291" fill="#3fbba8"/><rect x="208" y="291" fill="#3dbaab"/><rect x="211" y="291" fill="#3ab9af"/><rect x="214" y="291" fill="#37b7b2"/><rect x="217" y="291" fill="#35b6b6"/><rect x="220" y="291" fill="#32b5b9"/><rect x="223" y="291" fill="#30b4bc"/><rect x="226" y="291" fill="#2eb3bf"/><rect x="229" y="291" fill="#2cb2c2"/><rect x="232" y="291" fill="#2ab1c5"/><rect x="235" y="291" fill="#27afc8"/><rect x="238" y="291" fill="#26aec8"/><rect x="241" y="291" fill="#24acc9"/><rect x="244" y="291" fill="#24acc9"/><rect x="94" y="294" fill="#cac04c"/><rect x="97" y="294" fill="#ecba40"/><rect x="100" y="294" fill="#f7b840"/><rect x="103" y="294" fill="#f7bc3e"/><rect x="106" y="294" fill="#f7bd3e"/><rect x="109" y="294" fill="#f7bd3e"/><rect x="112" y="294" fill="#f7bd3e"/><rect x="115" y="294" fill="#f7bc3e"/><rect x="118" y="294" fill="#f7bb3e"/><rect x="121" y="294" fill="#f7ba3f"/><rect x="124" y="294" fill="#f7b83f"/><rect x="127" y="294" fill="#f6b840"/><rect x="130" y="294" fill="#f2b940"/><rect x="133" y="294" fill="#eeba40"/><rect x="136" y="294" fill="#e9bb40"/><rect x="139" y="294" fill="#dfbd43"/><rect x="142" y="294" fill="#d3be48"/><rect x="145" y="294" fill="#c7c04d"/><rect x="148" y="294" fill="#bcc252"/><rect x="151" y="294" fill="#b1c357"/><rect x="154" y="294" fill="#a7c45c"/><rect x="157" y="294" fill="#9ec460"/><rect x="160" y="294" fill="#96c464"/><rect x="163" y="294" fill="#8dc469"/><rect x="166" y="294" fill="#84c46d"/><rect x="169" y="294" fill="#7ac472"/><rect x="172" y="294" fill="#72c476"/><rect x="175" y="294" fill="#6dc37a"/><rect x="178" y="294" fill="#6ac37d"/><rect x="181" y="294" fill="#68c27f"/><rect x="184" y="294" fill="#64c283"/><rect x="187" y="294" fill="#5fc188"/><rect x="190" y="294" fill="#57bf90"/><rect x="193" y="294" fill="#4ebe99"/><rect x="196" y="294" fill="#46bda1"/><rect x="199" y="294" fill="#40bca7"/><rect x="202" y="294" fill="#3dbaaa"/><rect x="205" y="294" fill="#3bb9ad"/><rect x="208" y="294" fill="#39b8b0"/><rect x="211" y="294" fill="#37b7b3"/><rect x="214" y="294" fill="#34b6b6"/><rect x="217" y="294" fill="#32b5b9"/><rect x="220" y="294" fill="#30b4bc"/><rect x="223" y="294" fill="#2eb3bf"/><rect x="226" y="294" fill="#2cb2c1"/><rect x="229" y="294" fill="#2ab1c4"/><rect x="232" y="294" fill="#28b0c7"/><rect x="235" y="294" fill="#26aec8"/><rect x="238" y="294" fill="#25adc9"/><rect x="241" y="294" fill="#23abca"/><rect x="244" y="294" fill="#24acc9"/><rect x="94" y="297" fill="#c0c150"/><rect x="97" y="297" fill="#e8bb40"/><rect x="100" y="297" fill="#f5b840"/><rect x="103" y="297" fill="#f7b83f"/><rect x="106" y="297" fill="#f7b93f"/><rect x="109" y="297" fill="#f7b93f"/><rect x="112" y="297" fill="#f7b83f"/><rect x="115" y="297" fill="#f7b83f"/><rect x="118" y="297" fill="#f7b840"/><rect x="121" y="297" fill="#f5b840"/><rect x="124" y="297" fill="#f2b940"/><rect x="127" y="297" fill="#eeba40"/><rect x="130" y="297" fill="#eabb40"/><rect x="133" y="297" fill="#e1bc42"/><rect x="136" y="297" fill="#d4be48"/><rect x="139" y="297" fill="#c8c04d"/><rect x="142" y="297" fill="#bcc252"/><rect x="145" y="297" fill="#b0c357"/><rect x="148" y="297" fill="#a5c45d"/><rect x="151" y="297" fill="#9cc461"/><rect x="154" y="297" fill="#93c466"/><rect x="157" y="297" fill="#8ac46a"/><rect x="160" y="297" fill="#81c46f"/><rect x="163" y="297" fill="#78c473"/><rect x="166" y="297" fill="#70c477"/><rect x="169" y="297" fill="#68c27f"/><rect x="172" y="297" fill="#62c185"/><rect x="175" y="297" fill="#5ec189"/><rect x="178" y="297" fill="#5cc08b"/><rect x="181" y="297" fill="#5ac08d"/><rect x="184" y="297" fill="#57bf90"/><rect x="187" y="297" fill="#53bf94"/><rect x="190" y="297" fill="#4dbe9a"/><rect x="193" y="297" fill="#45bca2"/><rect x="196" y="297" fill="#3ebba9"/><rect x="199" y="297" fill="#3bb9ad"/><rect x="202" y="297" fill="#39b8b0"/><rect x="205" y="297" fill="#37b7b3"/><rect x="208" y="297" fill="#35b6b6"/><rect x="211" y="297" fill="#33b5b9"/><rect x="214" y="297" fill="#31b4bb"/><rect x="217" y="297" fill="#30b4bd"/><rect x="220" y="297" fill="#2eb3bf"/><rect x="223" y="297" fill="#2cb2c1"/><rect x="226" y="297" fill="#2ab1c4"/><rect x="229" y="297" fill="#28b0c7"/><rect x="232" y="297" fill="#26aec8"/><rect x="235" y="297" fill="#25adc9"/><rect x="238" y="297" fill="#23abca"/><rect x="241" y="297" fill="#22aaca"/><rect x="244" y="297" fill="#23abca"/><rect x="94" y="300" fill="#b7c254"/><rect x="97" y="300" fill="#dfbd43"/><rect x="100" y="300" fill="#f1b940"/><rect x="103" y="300" fill="#f4b840"/><rect x="106" y="300" fill="#f5b840"/><rect x="109" y="300" fill="#f5b840"/><rect x="112" y="300" fill="#f5b840"/><rect x="115" y="300" fill="#f4b840"/><rect x="118" y="300" fill="#f2b940"/><rect x="121" y="300" fill="#efba40"/><rect x="124" y="300" fill="#ebbb40"/><rect x="127" y="300" fill="#e4bc41"/><rect x="130" y="300" fill="#d7be47"/><rect x="133" y="300" fill="#cac04c"/><rect x="136" y="300" fill="#bdc252"/><rect x="139" y="300" fill="#b0c357"/><rect x="142" y="300" fill="#a5c45d"/><rect x="145" y="300" fill="#9ac462"/><rect x="148" y="300" fill="#90c467"/><rect x="151" y="300" fill="#87c46c"/><rect x="154" y="300" fill="#7ec470"/><rect x="157" y="300" fill="#75c475"/><rect x="160" y="300" fill="#6dc37a"/><rect x="163" y="300" fill="#66c281"/><rect x="166" y="300" fill="#5fc188"/><rect x="169" y="300" fill="#58c08f"/><rect x="172" y="300" fill="#53bf94"/><rect x="175" y="300" fill="#50be97"/><rect x="178" y="300" fill="#4ebe99"/><rect x="181" y="300" fill="#4cbe9b"/><rect x="184" y="300" fill="#4abd9d"/><rect x="187" y="300" fill="#47bda0"/><rect x="190" y="300" fill="#42bca5"/><rect x="193" y="300" fill="#3dbaab"/><rect x="196" y="300" fill="#39b8b0"/><rect x="199" y="300" fill="#37b7b3"/><rect x="202" y="300" fill="#34b6b6"/><rect x="205" y="300" fill="#33b5b9"/><rect x="208" y="300" fill="#31b4bb"/><rect x="211" y="300" fill="#30b4bd"/><rect x="214" y="300" fill="#2eb3be"/><rect x="217" y="300" fill="#2db2c0"/><rect x="220" y="300" fill="#2cb2c1"/><rect x="223" y="300" fill="#2ab1c4"/><rect x="226" y="300" fill="#28b0c7"/><rect x="229" y="300" fill="#27afc8"/><rect x="232" y="300" fill="#25adc9"/><rect x="235" y="300" fill="#24acc9"/><rect x="238" y="300" fill="#22aaca"/><rect x="241" y="300" fill="#21a9cb"/><rect x="244" y="300" fill="#23abca"/><rect x="94" y="303" fill="#adc459"/><rect x="97" y="303" fill="#d4be48"/><rect x="100" y="303" fill="#ecba40"/><rect x="103" y="303" fill="#efba40"/><rect x="106" y="303" fill="#f0b940"/><rect x="109" y="303" fill="#f1b940"/><rect x="112" y="303" fill="#f1b940"/><rect x="115" y="303" fill="#efba40"/><rect x="118" y="303" fill="#ecba40"/><rect x="121" y="303" fill="#e7bc40"/><rect x="124" y="303" fill="#dabd45"/><rect x="127" y="303" fill="#cdbf4b"/><rect x="130" y="303" fill="#c0c150"/><rect x="133" y="303" fill="#b3c356"/><rect x="136" y="303" fill="#a7c45c"/><rect x="139" y="303" fill="#9bc462"/><rect x="142" y="303" fill="#90c467"/><rect x="145" y="303" fill="#85c46d"/><rect x="148" y="303" fill="#7bc472"/><rect x="151" y="303" fill="#73c476"/><rect x="154" y="303" fill="#6bc37c"/><rect x="157" y="303" fill="#64c283"/><rect x="160" y="303" fill="#5cc08b"/><rect x="163" y="303" fill="#55bf92"/><rect x="166" y="303" fill="#4fbe98"/><rect x="169" y="303" fill="#49bd9e"/><rect x="172" y="303" fill="#45bca2"/><rect x="175" y="303" fill="#43bca4"/><rect x="178" y="303" fill="#41bca6"/><rect x="181" y="303" fill="#3fbba8"/><rect x="184" y="303" fill="#3ebbaa"/><rect x="187" y="303" fill="#3cbaac"/><rect x="190" y="303" fill="#3ab9ae"/><rect x="193" y="303" fill="#38b8b2"/><rect x="196" y="303" fill="#35b6b6"/><rect x="199" y="303" fill="#32b5b9"/><rect x="202" y="303" fill="#31b4bb"/><rect x="205" y="303" fill="#30b4bd"/><rect x="208" y="303" fill="#2eb3be"/><rect x="211" y="303" fill="#2db2c0"/><rect x="214" y="303" fill="#2cb2c1"/><rect x="217" y="303" fill="#2bb1c2"/><rect x="220" y="303" fill="#2ab1c4"/><rect x="223" y="303" fill="#28b0c6"/><rect x="226" y="303" fill="#27afc8"/><rect x="229" y="303" fill="#25adc9"/><rect x="232" y="303" fill="#24acc9"/><rect x="235" y="303" fill="#23abca"/><rect x="238" y="303" fill="#21a9cb"/><rect x="241" y="303" fill="#21a9cb"/><rect x="244" y="303" fill="#23abca"/><rect x="94" y="306" fill="#a4c45d"/><rect x="97" y="306" fill="#c9c04d"/><rect x="100" y="306" fill="#e3bc41"/><rect x="103" y="306" fill="#e9bb40"/><rect x="106" y="306" fill="#eabb40"/><rect x="109" y="306" fill="#ebbb40"/><rect x="112" y="306" fill="#eabb40"/><rect x="115" y="306" fill="#e8bb40"/><rect x="118" y="306" fill="#ddbd44"/><rect x="121" y="306" fill="#d1bf49"/><rect x="124" y="306" fill="#c3c14f"/><rect x="127" y="306" fill="#b6c355"/><rect x="130" y="306" fill="#aac45a"/><rect x="133" y="306" fill="#9ec460"/><rect x="136" y="306" fill="#92c466"/><rect x="139" y="306" fill="#86c46c"/><rect x="142" y="306" fill="#7bc472"/><rect x="145" y="306" fill="#70c477"/><rect x="148" y="306" fill="#69c27e"/><rect x="151" y="306" fill="#61c186"/><rect x="154" y="306" fill="#5ac08d"/><rect x="157" y="306" fill="#53bf94"/><rect x="160" y="306" fill="#4dbe9a"/><rect x="163" y="306" fill="#46bda1"/><rect x="166" y="306" fill="#40bca7"/><rect x="169" y="306" fill="#3dbaab"/><rect x="172" y="306" fill="#3cbaac"/><rect x="175" y="306" fill="#3bb9ae"/><rect x="178" y="306" fill="#39b8b0"/><rect x="181" y="306" fill="#38b8b2"/><rect x="184" y="306" fill="#37b7b3"/><rect x="187" y="306" fill="#35b6b5"/><rect x="190" y="306" fill="#34b6b7"/><rect x="193" y="306" fill="#32b5ba"/><rect x="196" y="306" fill="#30b4bc"/><rect x="199" y="306" fill="#2fb3bd"/><rect x="202" y="306" fill="#2eb3bf"/><rect x="205" y="306" fill="#2db2c0"/><rect x="208" y="306" fill="#2cb2c1"/><rect x="211" y="306" fill="#2bb1c2"/><rect x="214" y="306" fill="#2bb1c3"/><rect x="217" y="306" fill="#2ab1c5"/><rect x="220" y="306" fill="#28b0c7"/><rect x="223" y="306" fill="#27afc8"/><rect x="226" y="306" fill="#26aec8"/><rect x="229" y="306" fill="#24acc9"/><rect x="232" y="306" fill="#23abca"/><rect x="235" y="306" fill="#22aaca"/><rect x="238" y="306" fill="#20a8cb"/><rect x="241" y="306" fill="#20a8cb"/><rect x="244" y="306" fill="#22aaca"/><rect x="94" y="309" fill="#9ac462"/><rect x="97" y="309" fill="#bdc252"/><rect x="100" y="309" fill="#d4be48"/><rect x="103" y="309" fill="#dabd45"/><rect x="106" y="309" fill="#dcbd44"/><rect x="109" y="309" fill="#dcbd45"/><rect x="112" y="309" fill="#d9be46"/><rect x="115" y="309" fill="#d2bf49"/><rect x="118" y="309" fill="#c7c04d"/><rect x="121" y="309" fill="#bac253"/><rect x="124" y="309" fill="#aec458"/><rect x="127" y="309" fill="#a1c45f"/><rect x="130" y="309" fill="#95c465"/><rect x="133" y="309" fill="#8ac46a"/><rect x="136" y="309" fill="#7ec470"/><rect x="139" y="309" fill="#72c476"/><rect x="142" y="309" fill="#68c27f"/><rect x="145" y="309" fill="#60c187"/><rect x="148" y="309" fill="#59c08e"/><rect x="151" y="309" fill="#52bf95"/><rect x="154" y="309" fill="#4bbd9c"/><rect x="157" y="309" fill="#45bca2"/><rect x="160" y="309" fill="#3fbba9"/><rect x="163" y="309" fill="#3bb9ae"/><rect x="166" y="309" fill="#38b8b2"/><rect x="169" y="309" fill="#36b7b4"/><rect x="172" y="309" fill="#35b6b5"/><rect x="175" y="309" fill="#34b6b6"/><rect x="178" y="309" fill="#33b5b8"/><rect x="181" y="309" fill="#32b5ba"/><rect x="184" y="309" fill="#30b4bc"/><rect x="187" y="309" fill="#2fb3be"/><rect x="190" y="309" fill="#2eb3bf"/><rect x="193" y="309" fill="#2cb2c1"/><rect x="196" y="309" fill="#2cb2c2"/><rect x="199" y="309" fill="#2bb1c2"/><rect x="202" y="309" fill="#2bb1c3"/><rect x="205" y="309" fill="#2bb1c3"/><rect x="208" y="309" fill="#2ab1c4"/><rect x="211" y="309" fill="#29b0c5"/><rect x="214" y="309" fill="#29b0c6"/><rect x="217" y="309" fill="#28b0c7"/><rect x="220" y="309" fill="#27afc8"/><rect x="223" y="309" fill="#26aec8"/><rect x="226" y="309" fill="#24acc9"/><rect x="229" y="309" fill="#23abca"/><rect x="232" y="309" fill="#22aaca"/><rect x="235" y="309" fill="#21a9cb"/><rect x="238" y="309" fill="#1fa7cc"/><rect x="241" y="309" fill="#1ea6cc"/><rect x="244" y="309" fill="#20a8cb"/><rect x="94" y="312" fill="#91c467"/><rect x="97" y="312" fill="#b1c357"/><rect x="100" y="312" fill="#c4c14f"/><rect x="103" y="312" fill="#c8c04d"/><rect x="106" y="312" fill="#c8c04d"/><rect x="109" y="312" fill="#c5c04e"/><rect x="112" y="312" fill="#c1c150"/><rect x="115" y="312" fill="#bbc253"/><rect x="118" y="312" fill="#b1c357"/><rect x="121" y="312" fill="#a5c45d"/><rect x="124" y="312" fill="#99c463"/><rect x="127" y="312" fill="#8dc469"/><rect x="130" y="312" fill="#81c46f"/><rect x="133" y="312" fill="#75c475"/><rect x="136" y="312" fill="#6ac37d"/><rect x="139" y="312" fill="#61c186"/><rect x="142" y="312" fill="#57bf90"/><rect x="145" y="312" fill="#50be97"/><rect x="148" y="312" fill="#4abd9d"/><rect x="151" y="312" fill="#44bca3"/><rect x="154" y="312" fill="#3ebba9"/><rect x="157" y="312" fill="#3ab9ae"/><rect x="160" y="312" fill="#37b7b3"/><rect x="163" y="312" fill="#33b5b8"/><rect x="166" y="312" fill="#30b4bc"/><rect x="169" y="312" fill="#2fb3be"/><rect x="172" y="312" fill="#2eb3be"/><rect x="175" y="312" fill="#2eb3bf"/><rect x="178" y="312" fill="#2db2c0"/><rect x="181" y="312" fill="#2cb2c1"/><rect x="184" y="312" fill="#2bb1c3"/><rect x="187" y="312" fill="#29b0c5"/><rect x="190" y="312" fill="#28b0c7"/><rect x="193" y="312" fill="#27afc8"/><rect x="196" y="312" fill="#27afc8"/><rect x="199" y="312" fill="#27afc8"/><rect x="202" y="312" fill="#27afc8"/><rect x="205" y="312" fill="#27afc8"/><rect x="208" y="312" fill="#27afc8"/><rect x="211" y="312" fill="#27afc8"/><rect x="214" y="312" fill="#27afc8"/><rect x="217" y="312" fill="#26aec8"/><rect x="220" y="312" fill="#25adc9"/><rect x="223" y="312" fill="#24acc9"/><rect x="226" y="312" fill="#23abca"/><rect x="229" y="312" fill="#22aaca"/><rect x="232" y="312" fill="#21a9cb"/><rect x="235" y="312" fill="#1fa7cc"/><rect x="238" y="312" fill="#1da5cd"/><rect x="241" y="312" fill="#1ca4cd"/><rect x="244" y="312" fill="#1da5cd"/><rect x="94" y="315" fill="#86c46c"/><rect x="97" y="315" fill="#a3c45e"/><rect x="100" y="315" fill="#b3c356"/><rect x="103" y="315" fill="#b5c355"/><rect x="106" y="315" fill="#b2c356"/><rect x="109" y="315" fill="#aec458"/><rect x="112" y="315" fill="#aac45a"/><rect x="115" y="315" fill="#a5c45d"/><rect x="118" y="315" fill="#9cc461"/><rect x="121" y="315" fill="#91c467"/><rect x="124" y="315" fill="#85c46d"/><rect x="127" y="315" fill="#79c473"/><rect x="130" y="315" fill="#6ec379"/><rect x="133" y="315" fill="#64c283"/><rect x="136" y="315" fill="#5ac08d"/><rect x="139" y="315" fill="#50be97"/><rect x="142" y="315" fill="#47bda0"/><rect x="145" y="315" fill="#40bca7"/><rect x="148" y="315" fill="#3dbaab"/><rect x="151" y="315" fill="#3ab9af"/><rect x="154" y="315" fill="#36b7b4"/><rect x="157" y="315" fill="#32b5b9"/><rect x="160" y="315" fill="#2fb3be"/><rect x="163" y="315" fill="#2bb1c3"/><rect x="166" y="315" fill="#28b0c7"/><rect x="169" y="315" fill="#27afc8"/><rect x="172" y="315" fill="#27afc8"/><rect x="175" y="315" fill="#27afc8"/><rect x="178" y="315" fill="#27afc8"/><rect x="181" y="315" fill="#27afc8"/><rect x="184" y="315" fill="#26aec8"/><rect x="187" y="315" fill="#25adc9"/><rect x="190" y="315" fill="#24acc9"/><rect x="193" y="315" fill="#24acc9"/><rect x="196" y="315" fill="#24acc9"/><rect x="199" y="315" fill="#24acc9"/><rect x="202" y="315" fill="#24acc9"/><rect x="205" y="315" fill="#24acc9"/><rect x="208" y="315" fill="#24acc9"/><rect x="211" y="315" fill="#24acc9"/><rect x="214" y="315" fill="#24acc9"/><rect x="217" y="315" fill="#24acc9"/><rect x="220" y="315" fill="#24acc9"/><rect x="223" y="315" fill="#23abca"/><rect x="226" y="315" fill="#22aaca"/><rect x="229" y="315" fill="#21a9cb"/><rect x="232" y="315" fill="#20a8cb"/><rect x="235" y="315" fill="#1ea6cc"/><rect x="238" y="315" fill="#1ca4cd"/><rect x="241" y="315" fill="#1ba3ce"/><rect x="244" y="315" fill="#1ba3ce"/><rect x="94" y="318" fill="#7cc471"/><rect x="97" y="318" fill="#95c465"/><rect x="100" y="318" fill="#a1c45f"/><rect x="103" y="318" fill="#a0c45f"/><rect x="106" y="318" fill="#9cc461"/><rect x="109" y="318" fill="#98c463"/><rect x="112" y="318" fill="#94c465"/><rect x="115" y="318" fill="#8fc468"/><rect x="118" y="318" fill="#88c46b"/><rect x="121" y="318" fill="#7dc471"/><rect x="124" y="318" fill="#71c477"/><rect x="127" y="318" fill="#67c280"/><rect x="130" y="318" fill="#5dc08a"/><rect x="133" y="318" fill="#53bf94"/><rect x="136" y="318" fill="#49bd9e"/><rect x="139" y="318" fill="#3fbba8"/><rect x="142" y="318" fill="#3bb9ae"/><rect x="145" y="318" fill="#37b7b3"/><rect x="148" y="318" fill="#34b6b7"/><rect x="151" y="318" fill="#31b4bb"/><rect x="154" y="318" fill="#2eb3bf"/><rect x="157" y="318" fill="#2ab1c4"/><rect x="160" y="318" fill="#27afc8"/><rect x="163" y="318" fill="#25adc9"/><rect x="166" y="318" fill="#23abca"/><rect x="169" y="318" fill="#23abca"/><rect x="172" y="318" fill="#23abca"/><rect x="175" y="318" fill="#23abca"/><rect x="178" y="318" fill="#23abca"/><rect x="181" y="318" fill="#23abca"/><rect x="184" y="318" fill="#22aaca"/><rect x="187" y="318" fill="#22aaca"/><rect x="190" y="318" fill="#21a9cb"/><rect x="193" y="318" fill="#21a9cb"/><rect x="196" y="318" fill="#21a9cb"/><rect x="199" y="318" fill="#21a9cb"/><rect x="202" y="318" fill="#21a9cb"/><rect x="205" y="318" fill="#21a9cb"/><rect x="208" y="318" fill="#21a9cb"/><rect x="211" y="318" fill="#21a9cb"/><rect x="214" y="318" fill="#21a9cb"/><rect x="217" y="318" fill="#21a9cb"/><rect x="220" y="318" fill="#21a9cb"/><rect x="223" y="318" fill="#21a9cb"/><rect x="226" y="318" fill="#20a8cb"/><rect x="229" y="318" fill="#20a8cb"/><rect x="232" y="318" fill="#1fa7cc"/><rect x="235" y="318" fill="#1da5cd"/><rect x="238" y="318" fill="#1ba3ce"/><rect x="241" y="318" fill="#1aa2ce"/><rect x="244" y="318" fill="#1aa2ce"/><rect x="94" y="321" fill="#71c477"/><rect x="97" y="321" fill="#86c46c"/><rect x="100" y="321" fill="#8fc468"/><rect x="103" y="321" fill="#8dc469"/><rect x="106" y="321" fill="#88c46b"/><rect x="109" y="321" fill="#83c46e"/><rect x="112" y="321" fill="#7fc470"/><rect x="115" y="321" fill="#7ac472"/><rect x="118" y="321" fill="#73c476"/><rect x="121" y="321" fill="#6ac37d"/><rect x="124" y="321" fill="#60c187"/><rect x="127" y="321" fill="#56bf91"/><rect x="130" y="321" fill="#4cbe9b"/><rect x="133" y="321" fill="#43bca4"/><rect x="136" y="321" fill="#3cbaad"/><rect x="139" y="321" fill="#36b7b4"/><rect x="142" y="321" fill="#32b5ba"/><rect x="145" y="321" fill="#2eb3bf"/><rect x="148" y="321" fill="#2bb1c2"/><rect x="151" y="321" fill="#28b0c6"/><rect x="154" y="321" fill="#26aec8"/><rect x="157" y="321" fill="#24acc9"/><rect x="160" y="321" fill="#22aaca"/><rect x="163" y="321" fill="#20a8cb"/><rect x="166" y="321" fill="#1fa7cc"/><rect x="169" y="321" fill="#1fa7cc"/><rect x="172" y="321" fill="#1fa7cc"/><rect x="175" y="321" fill="#1fa7cc"/><rect x="178" y="321" fill="#1fa7cc"/><rect x="181" y="321" fill="#1fa7cc"/><rect x="184" y="321" fill="#1fa7cc"/><rect x="187" y="321" fill="#1ea6cc"/><rect x="190" y="321" fill="#1ea6cc"/><rect x="193" y="321" fill="#1da5cd"/><rect x="196" y="321" fill="#1da5cd"/><rect x="199" y="321" fill="#1da5cd"/><rect x="202" y="321" fill="#1ea6cc"/><rect x="205" y="321" fill="#1ea6cc"/><rect x="208" y="321" fill="#1ea6cc"/><rect x="211" y="321" fill="#1ea6cc"/><rect x="214" y="321" fill="#1ea6cc"/><rect x="217" y="321" fill="#1ea6cc"/><rect x="220" y="321" fill="#1ea6cc"/><rect x="223" y="321" fill="#1ea6cc"/><rect x="226" y="321" fill="#1ea6cc"/><rect x="229" y="321" fill="#1da5cd"/><rect x="232" y="321" fill="#1da5cd"/><rect x="235" y="321" fill="#1ca4cd"/><rect x="238" y="321" fill="#1aa2ce"/><rect x="241" y="321" fill="#19a1cf"/><rect x="244" y="321" fill="#1aa2ce"/><rect x="94" y="324" fill="#68c27f"/><rect x="97" y="324" fill="#78c473"/><rect x="100" y="324" fill="#7ec470"/><rect x="103" y="324" fill="#7ac472"/><rect x="106" y="324" fill="#75c475"/><rect x="109" y="324" fill="#70c477"/><rect x="112" y="324" fill="#6cc37b"/><rect x="115" y="324" fill="#67c280"/><rect x="118" y="324" fill="#62c185"/><rect x="121" y="324" fill="#59c08e"/><rect x="124" y="324" fill="#50be97"/><rect x="127" y="324" fill="#46bda1"/><rect x="130" y="324" fill="#3dbaaa"/><rect x="133" y="324" fill="#38b8b2"/><rect x="136" y="324" fill="#32b5b9"/><rect x="139" y="324" fill="#2db2c0"/><rect x="142" y="324" fill="#29b0c6"/><rect x="145" y="324" fill="#26aec8"/><rect x="148" y="324" fill="#24acc9"/><rect x="151" y="324" fill="#23abca"/><rect x="154" y="324" fill="#21a9cb"/><rect x="157" y="324" fill="#1fa7cc"/><rect x="160" y="324" fill="#1da5cd"/><rect x="163" y="324" fill="#1ca4cd"/><rect x="166" y="324" fill="#1ba3ce"/><rect x="169" y="324" fill="#1ba3ce"/><rect x="172" y="324" fill="#1ba3ce"/><rect x="175" y="324" fill="#1ba3ce"/><rect x="178" y="324" fill="#1ba3ce"/><rect x="181" y="324" fill="#1ba3ce"/><rect x="184" y="324" fill="#1ba3ce"/><rect x="187" y="324" fill="#1ba3ce"/><rect x="190" y="324" fill="#1aa2ce"/><rect x="193" y="324" fill="#1aa2ce"/><rect x="196" y="324" fill="#1aa2ce"/><rect x="199" y="324" fill="#1aa2ce"/><rect x="202" y="324" fill="#1aa2ce"/><rect x="205" y="324" fill="#1aa2ce"/><rect x="208" y="324" fill="#1aa2ce"/><rect x="211" y="324" fill="#1aa2ce"/><rect x="214" y="324" fill="#1aa2ce"/><rect x="217" y="324" fill="#1ba3ce"/><rect x="220" y="324" fill="#1ba3ce"/><rect x="223" y="324" fill="#1ba3ce"/><rect x="226" y="324" fill="#1ba3ce"/><rect x="229" y="324" fill="#1ba3ce"/><rect x="232" y="324" fill="#1aa2ce"/><rect x="235" y="324" fill="#1aa2ce"/><rect x="238" y="324" fill="#19a1cf"/><rect x="241" y="324" fill="#18a0cf"/><rect x="244" y="324" fill="#1aa2ce"/><rect x="94" y="327" fill="#5ec189"/><rect x="97" y="327" fill="#6ac37d"/><rect x="100" y="327" fill="#6dc37a"/><rect x="103" y="327" fill="#69c27e"/><rect x="106" y="327" fill="#65c282"/><rect x="109" y="327" fill="#60c187"/><rect x="112" y="327" fill="#5cc08b"/><rect x="115" y="327" fill="#56bf91"/><rect x="118" y="327" fill="#50be97"/><rect x="121" y="327" fill="#48bd9f"/><rect x="124" y="327" fill="#3fbba8"/><rect x="127" y="327" fill="#3ab9af"/><rect x="130" y="327" fill="#34b6b7"/><rect x="133" y="327" fill="#2fb3be"/><rect x="136" y="327" fill="#29b0c6"/><rect x="139" y="327" fill="#25adc9"/><rect x="142" y="327" fill="#23abca"/><rect x="145" y="327" fill="#21a9cb"/><rect x="148" y="327" fill="#1fa7cc"/><rect x="151" y="327" fill="#1ea6cc"/><rect x="154" y="327" fill="#1ca4cd"/><rect x="157" y="327" fill="#1aa2ce"/><rect x="160" y="327" fill="#19a1cf"/><rect x="163" y="327" fill="#189fd0"/><rect x="166" y="327" fill="#189ed0"/><rect x="169" y="327" fill="#189dd0"/><rect x="172" y="327" fill="#189ed0"/><rect x="175" y="327" fill="#189ed0"/><rect x="178" y="327" fill="#189ed0"/><rect x="181" y="327" fill="#189ed0"/><rect x="184" y="327" fill="#189ed0"/><rect x="187" y="327" fill="#189ed0"/><rect x="190" y="327" fill="#189fd0"/><rect x="193" y="327" fill="#189fd0"/><rect x="196" y="327" fill="#189fd0"/><rect x="199" y="327" fill="#189fd0"/><rect x="202" y="327" fill="#189fd0"/><rect x="205" y="327" fill="#189fd0"/><rect x="208" y="327" fill="#189fd0"/><rect x="211" y="327" fill="#189fd0"/><rect x="214" y="327" fill="#189fd0"/><rect x="217" y="327" fill="#189fd0"/><rect x="220" y="327" fill="#189fd0"/><rect x="223" y="327" fill="#189fd0"/><rect x="226" y="327" fill="#189fd0"/><rect x="229" y="327" fill="#18a0cf"/><rect x="232" y="327" fill="#18a0cf"/><rect x="235" y="327" fill="#18a0cf"/><rect x="238" y="327" fill="#189fd0"/><rect x="241" y="327" fill="#189fd0"/><rect x="244" y="327" fill="#19a1cf"/><rect x="94" y="330" fill="#55bf92"/><rect x="97" y="330" fill="#5dc08a"/><rect x="100" y="330" fill="#5ec189"/><rect x="103" y="330" fill="#5ac08d"/><rect x="106" y="330" fill="#55bf92"/><rect x="109" y="330" fill="#50be97"/><rect x="112" y="330" fill="#4bbd9c"/><rect x="115" y="330" fill="#45bca2"/><rect x="118" y="330" fill="#3fbba8"/><rect x="121" y="330" fill="#3ab9af"/><rect x="124" y="330" fill="#35b6b5"/><rect x="127" y="330" fill="#30b4bc"/><rect x="130" y="330" fill="#2bb1c3"/><rect x="133" y="330" fill="#26aec8"/><rect x="136" y="330" fill="#23abca"/><rect x="139" y="330" fill="#20a8cb"/><rect x="142" y="330" fill="#1da5cd"/><rect x="145" y="330" fill="#1ca4cd"/><rect x="148" y="330" fill="#1aa2ce"/><rect x="151" y="330" fill="#18a0cf"/><rect x="154" y="330" fill="#189ed0"/><rect x="157" y="330" fill="#199cd1"/><rect x="160" y="330" fill="#1a99d2"/><rect x="163" y="330" fill="#1b97d3"/><rect x="166" y="330" fill="#1b97d3"/><rect x="169" y="330" fill="#1b97d3"/><rect x="172" y="330" fill="#1b97d3"/><rect x="175" y="330" fill="#1b97d3"/><rect x="178" y="330" fill="#1b97d3"/><rect x="181" y="330" fill="#1b97d3"/><rect x="184" y="330" fill="#1b98d3"/><rect x="187" y="330" fill="#1a98d2"/><rect x="190" y="330" fill="#1a99d2"/><rect x="193" y="330" fill="#1a99d2"/><rect x="196" y="330" fill="#1a99d2"/><rect x="199" y="330" fill="#1a99d2"/><rect x="202" y="330" fill="#1a99d2"/><rect x="205" y="330" fill="#1a99d2"/><rect x="208" y="330" fill="#1a9ad2"/><rect x="211" y="330" fill="#1a9ad2"/><rect x="214" y="330" fill="#1a9ad2"/><rect x="217" y="330" fill="#1a9ad2"/><rect x="220" y="330" fill="#1a9ad2"/><rect x="223" y="330" fill="#1a9ad2"/><rect x="226" y="330" fill="#1a9ad2"/><rect x="229" y="330" fill="#199bd1"/><rect x="232" y="330" fill="#199bd1"/><rect x="235" y="330" fill="#199cd1"/><rect x="238" y="330" fill="#199cd1"/><rect x="241" y="330" fill="#199bd1"/><rect x="244" y="330" fill="#199dd1"/><rect x="94" y="333" fill="#4bbd9c"/><rect x="97" y="333" fill="#50be97"/><rect x="100" y="333" fill="#4fbe98"/><rect x="103" y="333" fill="#4abd9d"/><rect x="106" y="333" fill="#45bca2"/><rect x="109" y="333" fill="#3fbba8"/><rect x="112" y="333" fill="#3cbaac"/><rect x="115" y="333" fill="#39b8b0"/><rect x="118" y="333" fill="#35b6b6"/><rect x="121" y="333" fill="#30b4bc"/><rect x="124" y="333" fill="#2bb1c3"/><rect x="127" y="333" fill="#27afc8"/><rect x="130" y="333" fill="#24acc9"/><rect x="133" y="333" fill="#20a8cb"/><rect x="136" y="333" fill="#1da5cd"/><rect x="139" y="333" fill="#1aa2ce"/><rect x="142" y="333" fill="#18a0cf"/><rect x="145" y="333" fill="#189ed0"/><rect x="148" y="333" fill="#199bd1"/><rect x="151" y="333" fill="#1a98d2"/><rect x="154" y="333" fill="#1b96d3"/><rect x="157" y="333" fill="#1c94d4"/><rect x="160" y="333" fill="#1d92d5"/><rect x="163" y="333" fill="#1d91d5"/><rect x="166" y="333" fill="#1e90d6"/><rect x="169" y="333" fill="#1e90d6"/><rect x="172" y="333" fill="#1e90d6"/><rect x="175" y="333" fill="#1e90d6"/><rect x="178" y="333" fill="#1d91d5"/><rect x="181" y="333" fill="#1d91d5"/><rect x="184" y="333" fill="#1d91d5"/><rect x="187" y="333" fill="#1d92d5"/><rect x="190" y="333" fill="#1d93d5"/><rect x="193" y="333" fill="#1c93d4"/><rect x="196" y="333" fill="#1c94d4"/><rect x="199" y="333" fill="#1c94d4"/><rect x="202" y="333" fill="#1c94d4"/><rect x="205" y="333" fill="#1c94d4"/><rect x="208" y="333" fill="#1c94d4"/><rect x="211" y="333" fill="#1c94d4"/><rect x="214" y="333" fill="#1c94d4"/><rect x="217" y="333" fill="#1c95d4"/><rect x="220" y="333" fill="#1c95d4"/><rect x="223" y="333" fill="#1c95d4"/><rect x="226" y="333" fill="#1b96d3"/><rect x="229" y="333" fill="#1b96d3"/><rect x="232" y="333" fill="#1b96d3"/><rect x="235" y="333" fill="#1b97d3"/><rect x="238" y="333" fill="#1b97d3"/><rect x="241" y="333" fill="#1c95d4"/><rect x="244" y="333" fill="#1d91d5"/><rect x="94" y="336" fill="#42bca5"/><rect x="97" y="336" fill="#42bca5"/><rect x="100" y="336" fill="#3fbba8"/><rect x="103" y="336" fill="#3cbaac"/><rect x="106" y="336" fill="#39b8b1"/><rect x="109" y="336" fill="#36b7b5"/><rect x="112" y="336" fill="#32b5b9"/><rect x="115" y="336" fill="#2fb3be"/><rect x="118" y="336" fill="#2bb1c3"/><rect x="121" y="336" fill="#26aec8"/><rect x="124" y="336" fill="#24acc9"/><rect x="127" y="336" fill="#21a9cb"/><rect x="130" y="336" fill="#1ea6cc"/><rect x="133" y="336" fill="#1ba3ce"/><rect x="136" y="336" fill="#18a0cf"/><rect x="139" y="336" fill="#199bd1"/><rect x="142" y="336" fill="#1b98d3"/><rect x="145" y="336" fill="#1c95d4"/><rect x="148" y="336" fill="#1c93d4"/><rect x="151" y="336" fill="#1d91d5"/><rect x="154" y="336" fill="#1e8fd6"/><rect x="157" y="336" fill="#1f8dd7"/><rect x="160" y="336" fill="#208bd8"/><rect x="163" y="336" fill="#208ad8"/><rect x="166" y="336" fill="#208ad8"/><rect x="169" y="336" fill="#2089d8"/><rect x="172" y="336" fill="#208ad8"/><rect x="175" y="336" fill="#208ad8"/><rect x="178" y="336" fill="#208ad8"/><rect x="181" y="336" fill="#208ad8"/><rect x="184" y="336" fill="#208bd8"/><rect x="187" y="336" fill="#1f8cd7"/><rect x="190" y="336" fill="#1f8dd7"/><rect x="193" y="336" fill="#1f8ed7"/><rect x="196" y="336" fill="#1e8ed6"/><rect x="199" y="336" fill="#1e8ed6"/><rect x="202" y="336" fill="#1e8ed6"/><rect x="205" y="336" fill="#1e8ed6"/><rect x="208" y="336" fill="#1e8ed6"/><rect x="211" y="336" fill="#1e8fd6"/><rect x="214" y="336" fill="#1e90d6"/><rect x="217" y="336" fill="#1e90d6"/><rect x="220" y="336" fill="#1e90d6"/><rect x="223" y="336" fill="#1d91d5"/><rect x="226" y="336" fill="#1d91d5"/><rect x="229" y="336" fill="#1d91d5"/><rect x="232" y="336" fill="#1d92d5"/><rect x="235" y="336" fill="#1d92d5"/><rect x="238" y="336" fill="#1d93d5"/><rect x="241" y="336" fill="#1d91d5"/><rect x="244" y="336" fill="#208bd8"/><rect x="94" y="339" fill="#3bb9ae"/><rect x="97" y="339" fill="#39b8b0"/><rect x="100" y="339" fill="#36b7b4"/><rect x="103" y="339" fill="#33b5b9"/><rect x="106" y="339" fill="#2fb3bd"/><rect x="109" y="339" fill="#2cb2c2"/><rect x="112" y="339" fill="#29b0c6"/><rect x="115" y="339" fill="#26aec8"/><rect x="118" y="339" fill="#23abca"/><rect x="121" y="339" fill="#20a8cb"/><rect x="124" y="339" fill="#1ea6cc"/><rect x="127" y="339" fill="#1ba3ce"/><rect x="130" y="339" fill="#18a0cf"/><rect x="133" y="339" fill="#199bd1"/><rect x="136" y="339" fill="#1b96d3"/><rect x="139" y="339" fill="#1d93d5"/><rect x="142" y="339" fill="#1e90d6"/><rect x="145" y="339" fill="#1e8ed6"/><rect x="148" y="339" fill="#1f8cd7"/><rect x="151" y="339" fill="#208ad8"/><rect x="154" y="339" fill="#2188d9"/><rect x="157" y="339" fill="#2187d9"/><rect x="160" y="339" fill="#2285da"/><rect x="163" y="339" fill="#2384db"/><rect x="166" y="339" fill="#2383db"/><rect x="169" y="339" fill="#2383db"/><rect x="172" y="339" fill="#2383db"/><rect x="175" y="339" fill="#2383db"/><rect x="178" y="339" fill="#2383db"/><rect x="181" y="339" fill="#2384db"/><rect x="184" y="339" fill="#2284da"/><rect x="187" y="339" fill="#2285da"/><rect x="190" y="339" fill="#2187d9"/><rect x="193" y="339" fill="#2188d9"/><rect x="196" y="339" fill="#2188d9"/><rect x="199" y="339" fill="#2189d9"/><rect x="202" y="339" fill="#2189d9"/><rect x="205" y="339" fill="#2189d9"/><rect x="208" y="339" fill="#2089d8"/><rect x="211" y="339" fill="#208ad8"/><rect x="214" y="339" fill="#208bd8"/><rect x="217" y="339" fill="#1f8cd7"/><rect x="220" y="339" fill="#1f8cd7"/><rect x="223" y="339" fill="#1f8dd7"/><rect x="226" y="339" fill="#1f8dd7"/><rect x="229" y="339" fill="#1f8dd7"/><rect x="232" y="339" fill="#1f8dd7"/><rect x="235" y="339" fill="#1f8ed7"/><rect x="238" y="339" fill="#1e8fd6"/><rect x="241" y="339" fill="#1e8fd6"/><rect x="244" y="339" fill="#208ad8"/><rect x="94" y="342" fill="#35b6b6"/><rect x="97" y="342" fill="#32b5b9"/><rect x="100" y="342" fill="#2eb3bf"/><rect x="103" y="342" fill="#2ab1c4"/><rect x="106" y="342" fill="#27afc8"/><rect x="109" y="342" fill="#25adc9"/><rect x="112" y="342" fill="#22aaca"/><rect x="115" y="342" fill="#20a8cb"/><rect x="118" y="342" fill="#1da5cd"/><rect x="121" y="342" fill="#1ba3ce"/><rect x="124" y="342" fill="#18a0cf"/><rect x="127" y="342" fill="#199bd1"/><rect x="130" y="342" fill="#1b97d3"/><rect x="133" y="342" fill="#1d92d5"/><rect x="136" y="342" fill="#1f8ed7"/><rect x="139" y="342" fill="#208bd8"/><rect x="142" y="342" fill="#2089d8"/><rect x="145" y="342" fill="#2188d9"/><rect x="148" y="342" fill="#2286da"/><rect x="151" y="342" fill="#2384db"/><rect x="154" y="342" fill="#2382db"/><rect x="157" y="342" fill="#2480dc"/><rect x="160" y="342" fill="#257edd"/><rect x="163" y="342" fill="#257ddd"/><rect x="166" y="342" fill="#257ddd"/><rect x="169" y="342" fill="#257ddd"/><rect x="172" y="342" fill="#267cde"/><rect x="175" y="342" fill="#257ddd"/><rect x="178" y="342" fill="#257ddd"/><rect x="181" y="342" fill="#257ddd"/><rect x="184" y="342" fill="#257edd"/><rect x="187" y="342" fill="#247fdc"/><rect x="190" y="342" fill="#2481dc"/><rect x="193" y="342" fill="#2382db"/><rect x="196" y="342" fill="#2383db"/><rect x="199" y="342" fill="#2383db"/><rect x="202" y="342" fill="#2383db"/><rect x="205" y="342" fill="#2383db"/><rect x="208" y="342" fill="#2384db"/><rect x="211" y="342" fill="#2285da"/><rect x="214" y="342" fill="#2187d9"/><rect x="217" y="342" fill="#2188d9"/><rect x="220" y="342" fill="#2189d9"/><rect x="223" y="342" fill="#2189d9"/><rect x="226" y="342" fill="#2189d9"/><rect x="229" y="342" fill="#2189d9"/><rect x="232" y="342" fill="#2189d9"/><rect x="235" y="342" fill="#2089d8"/><rect x="238" y="342" fill="#208bd8"/><rect x="241" y="342" fill="#1f8cd7"/><rect x="244" y="342" fill="#2089d8"/><rect x="94" y="345" fill="#31b4bb"/><rect x="97" y="345" fill="#2fb3bd"/><rect x="100" y="345" fill="#2bb1c3"/><rect x="103" y="345" fill="#26aec8"/><rect x="106" y="345" fill="#23abca"/><rect x="109" y="345" fill="#1fa7cc"/><rect x="112" y="345" fill="#1da5cd"/><rect x="115" y="345" fill="#1ba3ce"/><rect x="118" y="345" fill="#18a0cf"/><rect x="121" y="345" fill="#199cd1"/><rect x="124" y="345" fill="#1b97d3"/><rect x="127" y="345" fill="#1d93d5"/><rect x="130" y="345" fill="#1e8ed6"/><rect x="133" y="345" fill="#2089d8"/><rect x="136" y="345" fill="#2286da"/><rect x="139" y="345" fill="#2383db"/><rect x="142" y="345" fill="#2382db"/><rect x="145" y="345" fill="#2481dc"/><rect x="148" y="345" fill="#247fdc"/><rect x="151" y="345" fill="#257ddd"/><rect x="154" y="345" fill="#267bde"/><rect x="157" y="345" fill="#277adf"/><rect x="160" y="345" fill="#2778df"/><rect x="163" y="345" fill="#2877df"/><rect x="166" y="345" fill="#2876df"/><rect x="169" y="345" fill="#2876df"/><rect x="172" y="345" fill="#2876df"/><rect x="175" y="345" fill="#2876df"/><rect x="178" y="345" fill="#2876df"/><rect x="181" y="345" fill="#2876df"/><rect x="184" y="345" fill="#2778df"/><rect x="187" y="345" fill="#2779df"/><rect x="190" y="345" fill="#267bde"/><rect x="193" y="345" fill="#267cde"/><rect x="196" y="345" fill="#257ddd"/><rect x="199" y="345" fill="#257ddd"/><rect x="202" y="345" fill="#257edd"/><rect x="205" y="345" fill="#257edd"/><rect x="208" y="345" fill="#257fdd"/><rect x="211" y="345" fill="#2480dc"/><rect x="214" y="345" fill="#2382db"/><rect x="217" y="345" fill="#2384db"/><rect x="220" y="345" fill="#2285da"/><rect x="223" y="345" fill="#2285da"/><rect x="226" y="345" fill="#2285da"/><rect x="229" y="345" fill="#2285da"/><rect x="232" y="345" fill="#2285da"/><rect x="235" y="345" fill="#2286da"/><rect x="238" y="345" fill="#2187d9"/><rect x="241" y="345" fill="#2189d9"/><rect x="244" y="345" fill="#2188d9"/><rect x="94" y="348" fill="#30b4bc"/><rect x="97" y="348" fill="#30b4bc"/><rect x="100" y="348" fill="#2eb3bf"/><rect x="103" y="348" fill="#28b0c7"/><rect x="106" y="348" fill="#21a9cb"/><rect x="109" y="348" fill="#1da5cd"/><rect x="112" y="348" fill="#1aa2ce"/><rect x="115" y="348" fill="#18a0cf"/><rect x="118" y="348" fill="#1a99d2"/><rect x="121" y="348" fill="#1c93d4"/><rect x="124" y="348" fill="#1e8ed6"/><rect x="127" y="348" fill="#208ad8"/><rect x="130" y="348" fill="#2286da"/><rect x="133" y="348" fill="#2481dc"/><rect x="136" y="348" fill="#257edd"/><rect x="139" y="348" fill="#267cde"/><rect x="142" y="348" fill="#267bde"/><rect x="145" y="348" fill="#267ade"/><rect x="148" y="348" fill="#2779df"/><rect x="151" y="348" fill="#2877df"/><rect x="154" y="348" fill="#2974df"/><rect x="157" y="348" fill="#2972df"/><rect x="160" y="348" fill="#2a71de"/><rect x="163" y="348" fill="#2a70de"/><rect x="166" y="348" fill="#2a6fde"/><rect x="169" y="348" fill="#2b6ede"/><rect x="172" y="348" fill="#2b6ede"/><rect x="175" y="348" fill="#2b6ede"/><rect x="178" y="348" fill="#2b6ede"/><rect x="181" y="348" fill="#2a6fde"/><rect x="184" y="348" fill="#2a70de"/><rect x="187" y="348" fill="#2972df"/><rect x="190" y="348" fill="#2974df"/><rect x="193" y="348" fill="#2876df"/><rect x="196" y="348" fill="#2877df"/><rect x="199" y="348" fill="#2778df"/><rect x="202" y="348" fill="#2778df"/><rect x="205" y="348" fill="#2779df"/><rect x="208" y="348" fill="#267ade"/><rect x="211" y="348" fill="#267cde"/><rect x="214" y="348" fill="#257edd"/><rect x="217" y="348" fill="#247fdc"/><rect x="220" y="348" fill="#2481dc"/><rect x="223" y="348" fill="#2481dc"/><rect x="226" y="348" fill="#2481dc"/><rect x="229" y="348" fill="#2382db"/><rect x="232" y="348" fill="#2382db"/><rect x="235" y="348" fill="#2384db"/><rect x="238" y="348" fill="#2285da"/><rect x="241" y="348" fill="#2187d9"/><rect x="244" y="348" fill="#2187d9"/><rect x="94" y="351" fill="#30b4bc"/><rect x="97" y="351" fill="#30b4bc"/><rect x="100" y="351" fill="#30b4bd"/><rect x="103" y="351" fill="#2ab1c4"/><rect x="106" y="351" fill="#22aaca"/><rect x="109" y="351" fill="#1ea6cc"/><rect x="112" y="351" fill="#1da5cd"/><rect x="115" y="351" fill="#1aa2ce"/><rect x="118" y="351" fill="#1b97d3"/><rect x="121" y="351" fill="#2189d9"/><rect x="124" y="351" fill="#2382db"/><rect x="127" y="351" fill="#2480dc"/><rect x="130" y="351" fill="#257ddd"/><rect x="133" y="351" fill="#2779df"/><rect x="136" y="351" fill="#2876df"/><rect x="139" y="351" fill="#2974df"/><rect x="142" y="351" fill="#2973df"/><rect x="145" y="351" fill="#2972df"/><rect x="148" y="351" fill="#2a71de"/><rect x="151" y="351" fill="#2a6fde"/><rect x="154" y="351" fill="#2b6dde"/><rect x="157" y="351" fill="#2c6add"/><rect x="160" y="351" fill="#2c69dd"/><rect x="163" y="351" fill="#2d68dd"/><rect x="166" y="351" fill="#2d68dd"/><rect x="169" y="351" fill="#2d67dd"/><rect x="172" y="351" fill="#2d67dd"/><rect x="175" y="351" fill="#2d66dd"/><rect x="178" y="351" fill="#2d66dd"/><rect x="181" y="351" fill="#2d67dd"/><rect x="184" y="351" fill="#2c69dd"/><rect x="187" y="351" fill="#2c6bdd"/><rect x="190" y="351" fill="#2b6dde"/><rect x="193" y="351" fill="#2a6fde"/><rect x="196" y="351" fill="#2a70de"/><rect x="199" y="351" fill="#2a71de"/><rect x="202" y="351" fill="#2972df"/><rect x="205" y="351" fill="#2973df"/><rect x="208" y="351" fill="#2875df"/><rect x="211" y="351" fill="#2877df"/><rect x="214" y="351" fill="#2779df"/><rect x="217" y="351" fill="#267bde"/><rect x="220" y="351" fill="#267cde"/><rect x="223" y="351" fill="#257edd"/><rect x="226" y="351" fill="#257edd"/><rect x="229" y="351" fill="#257fdd"/><rect x="232" y="351" fill="#2480dc"/><rect x="235" y="351" fill="#2383db"/><rect x="238" y="351" fill="#2285da"/><rect x="241" y="351" fill="#2286da"/><rect x="244" y="351" fill="#2187d9"/><rect x="94" y="354" fill="#30b4bc"/><rect x="97" y="354" fill="#30b4bc"/><rect x="100" y="354" fill="#30b4bc"/><rect x="103" y="354" fill="#2ab1c4"/><rect x="106" y="354" fill="#22aaca"/><rect x="109" y="354" fill="#1fa7cc"/><rect x="112" y="354" fill="#1ea6cc"/><rect x="115" y="354" fill="#1da5cd"/><rect x="118" y="354" fill="#1a98d2"/><rect x="121" y="354" fill="#257ddd"/><rect x="124" y="354" fill="#2972df"/><rect x="127" y="354" fill="#2974df"/><rect x="130" y="354" fill="#2973df"/><rect x="133" y="354" fill="#2a6fde"/><rect x="136" y="354" fill="#2b6dde"/><rect x="139" y="354" fill="#2c6bdd"/><rect x="142" y="354" fill="#2c6add"/><rect x="145" y="354" fill="#2c69dd"/><rect x="148" y="354" fill="#2d68dd"/><rect x="151" y="354" fill="#2d67dd"/><rect x="154" y="354" fill="#2e65dc"/><rect x="157" y="354" fill="#2e63dc"/><rect x="160" y="354" fill="#2f61dc"/><rect x="163" y="354" fill="#2f61dc"/><rect x="166" y="354" fill="#2f60dc"/><rect x="169" y="354" fill="#305fdb"/><rect x="172" y="354" fill="#305fdb"/><rect x="175" y="354" fill="#305fdb"/><rect x="178" y="354" fill="#305fdb"/><rect x="181" y="354" fill="#2f60dc"/><rect x="184" y="354" fill="#2f61dc"/><rect x="187" y="354" fill="#2e63dc"/><rect x="190" y="354" fill="#2d66dd"/><rect x="193" y="354" fill="#2d68dd"/><rect x="196" y="354" fill="#2c6add"/><rect x="199" y="354" fill="#2c6bdd"/><rect x="202" y="354" fill="#2b6dde"/><rect x="205" y="354" fill="#2b6ede"/><rect x="208" y="354" fill="#2a6fde"/><rect x="211" y="354" fill="#2972df"/><rect x="214" y="354" fill="#2876df"/><rect x="217" y="354" fill="#2778df"/><rect x="220" y="354" fill="#277adf"/><rect x="223" y="354" fill="#267bde"/><rect x="226" y="354" fill="#267bde"/><rect x="229" y="354" fill="#267cde"/><rect x="232" y="354" fill="#257edd"/><rect x="235" y="354" fill="#2383db"/><rect x="238" y="354" fill="#2286da"/><rect x="241" y="354" fill="#2187d9"/><rect x="244" y="354" fill="#2187d9"/><rect x="94" y="357" fill="#31b4bb"/><rect x="97" y="357" fill="#30b4bc"/><rect x="100" y="357" fill="#30b4bc"/><rect x="103" y="357" fill="#2ab1c4"/><rect x="106" y="357" fill="#22aaca"/><rect x="109" y="357" fill="#1fa7cc"/><rect x="112" y="357" fill="#1ea6cc"/><rect x="115" y="357" fill="#1ba3ce"/><rect x="118" y="357" fill="#1d92d5"/><rect x="121" y="357" fill="#2875df"/><rect x="124" y="357" fill="#2d68dd"/><rect x="127" y="357" fill="#2c69dd"/><rect x="130" y="357" fill="#2c69dd"/><rect x="133" y="357" fill="#2d68dd"/><rect x="136" y="357" fill="#2d66dd"/><rect x="139" y="357" fill="#2e65dc"/><rect x="142" y="357" fill="#2e64dc"/><rect x="145" y="357" fill="#2f61dc"/><rect x="148" y="357" fill="#2f60dc"/><rect x="151" y="357" fill="#305edb"/><rect x="154" y="357" fill="#305ddb"/><rect x="157" y="357" fill="#315bdb"/><rect x="160" y="357" fill="#315adb"/><rect x="163" y="357" fill="#3259da"/><rect x="166" y="357" fill="#3259da"/><rect x="169" y="357" fill="#3258da"/><rect x="172" y="357" fill="#3258da"/><rect x="175" y="357" fill="#3258da"/><rect x="178" y="357" fill="#3259da"/><rect x="181" y="357" fill="#315adb"/><rect x="184" y="357" fill="#315cdb"/><rect x="187" y="357" fill="#305ddb"/><rect x="190" y="357" fill="#2f61dc"/><rect x="193" y="357" fill="#2e63dc"/><rect x="196" y="357" fill="#2e65dc"/><rect x="199" y="357" fill="#2d67dd"/><rect x="202" y="357" fill="#2c69dd"/><rect x="205" y="357" fill="#2d68dd"/><rect x="208" y="357" fill="#2d68dd"/><rect x="211" y="357" fill="#2b6dde"/><rect x="214" y="357" fill="#2875df"/><rect x="217" y="357" fill="#2779df"/><rect x="220" y="357" fill="#267ade"/><rect x="223" y="357" fill="#267ade"/><rect x="226" y="357" fill="#267bde"/><rect x="229" y="357" fill="#267bde"/><rect x="232" y="357" fill="#257edd"/><rect x="235" y="357" fill="#2384db"/><rect x="238" y="357" fill="#2286da"/><rect x="241" y="357" fill="#2187d9"/><rect x="244" y="357" fill="#2187d9"/><rect x="94" y="360" fill="#31b4bb"/><rect x="97" y="360" fill="#30b4bc"/><rect x="100" y="360" fill="#30b4bc"/><rect x="103" y="360" fill="#2ab1c4"/><rect x="106" y="360" fill="#22aaca"/><rect x="109" y="360" fill="#1fa7cc"/><rect x="112" y="360" fill="#1ea6cc"/><rect x="115" y="360" fill="#189ed0"/><rect x="118" y="360" fill="#2481dc"/><rect x="121" y="360" fill="#2c6bdd"/><rect x="124" y="360" fill="#2d66dd"/><rect x="127" y="360" fill="#2e65dc"/><rect x="130" y="360" fill="#2e65dc"/><rect x="133" y="360" fill="#2e65dc"/><rect x="136" y="360" fill="#2e65dc"/><rect x="139" y="360" fill="#2e64dc"/><rect x="142" y="360" fill="#2f61dc"/><rect x="145" y="360" fill="#3259da"/><rect x="148" y="360" fill="#3356da"/><rect x="151" y="360" fill="#3355da"/><rect x="154" y="360" fill="#3354da"/><rect x="157" y="360" fill="#3453d9"/><rect x="160" y="360" fill="#3452d9"/><rect x="163" y="360" fill="#3452d9"/><rect x="166" y="360" fill="#3452d9"/><rect x="169" y="360" fill="#3452d9"/><rect x="172" y="360" fill="#3453d9"/><rect x="175" y="360" fill="#3354da"/><rect x="178" y="360" fill="#3355da"/><rect x="181" y="360" fill="#3257da"/><rect x="184" y="360" fill="#3258da"/><rect x="187" y="360" fill="#315adb"/><rect x="190" y="360" fill="#2f60dc"/><rect x="193" y="360" fill="#2e64dc"/><rect x="196" y="360" fill="#2e65dc"/><rect x="199" y="360" fill="#2d66dd"/><rect x="202" y="360" fill="#2d66dd"/><rect x="205" y="360" fill="#2d66dd"/><rect x="208" y="360" fill="#2d66dd"/><rect x="211" y="360" fill="#2c6bdd"/><rect x="214" y="360" fill="#2876df"/><rect x="217" y="360" fill="#267ade"/><rect x="220" y="360" fill="#267bde"/><rect x="223" y="360" fill="#267bde"/><rect x="226" y="360" fill="#267bde"/><rect x="229" y="360" fill="#267bde"/><rect x="232" y="360" fill="#257ddd"/><rect x="235" y="360" fill="#2382db"/><rect x="238" y="360" fill="#2286da"/><rect x="241" y="360" fill="#2187d9"/><rect x="244" y="360" fill="#2187d9"/><rect x="94" y="363" fill="#31b4bb"/><rect x="97" y="363" fill="#30b4bc"/><rect x="100" y="363" fill="#30b4bc"/><rect x="103" y="363" fill="#2ab1c4"/><rect x="106" y="363" fill="#22aaca"/><rect x="109" y="363" fill="#1ea6cc"/><rect x="112" y="363" fill="#1ba3ce"/><rect x="115" y="363" fill="#1d92d5"/><rect x="118" y="363" fill="#2876df"/><rect x="121" y="363" fill="#2d67dd"/><rect x="124" y="363" fill="#2e65dc"/><rect x="127" y="363" fill="#2e65dc"/><rect x="130" y="363" fill="#2e65dc"/><rect x="133" y="363" fill="#2e65dc"/><rect x="136" y="363" fill="#2e65dc"/><rect x="139" y="363" fill="#2e64dc"/><rect x="142" y="363" fill="#305fdb"/><rect x="145" y="363" fill="#3452d9"/><rect x="148" y="363" fill="#364cd8"/><rect x="151" y="363" fill="#364cd8"/><rect x="154" y="363" fill="#364dd8"/><rect x="157" y="363" fill="#364dd8"/><rect x="160" y="363" fill="#364cd8"/><rect x="163" y="363" fill="#364cd8"/><rect x="166" y="363" fill="#364dd8"/><rect x="169" y="363" fill="#3550d9"/><rect x="172" y="363" fill="#3452d9"/><rect x="175" y="363" fill="#3453d9"/><rect x="178" y="363" fill="#3453d9"/><rect x="181" y="363" fill="#3354da"/><rect x="184" y="363" fill="#3355da"/><rect x="187" y="363" fill="#3258da"/><rect x="190" y="363" fill="#2f60dc"/><rect x="193" y="363" fill="#2e65dc"/><rect x="196" y="363" fill="#2e65dc"/><rect x="199" y="363" fill="#2e65dc"/><rect x="202" y="363" fill="#2e65dc"/><rect x="205" y="363" fill="#2e65dc"/><rect x="208" y="363" fill="#2d66dd"/><rect x="211" y="363" fill="#2c6bdd"/><rect x="214" y="363" fill="#2876df"/><rect x="217" y="363" fill="#267ade"/><rect x="220" y="363" fill="#267bde"/><rect x="223" y="363" fill="#267bde"/><rect x="226" y="363" fill="#267bde"/><rect x="229" y="363" fill="#267bde"/><rect x="232" y="363" fill="#267cde"/><rect x="235" y="363" fill="#247fdc"/><rect x="238" y="363" fill="#2285da"/><rect x="241" y="363" fill="#2187d9"/><rect x="244" y="363" fill="#2187d9"/><rect x="94" y="366" fill="#31b4bb"/><rect x="97" y="366" fill="#30b4bc"/><rect x="100" y="366" fill="#30b4bc"/><rect x="103" y="366" fill="#2ab1c4"/><rect x="106" y="366" fill="#22aaca"/><rect x="109" y="366" fill="#1ca4cd"/><rect x="112" y="366" fill="#1b96d3"/><rect x="115" y="366" fill="#257edd"/><rect x="118" y="366" fill="#2c6bdd"/><rect x="121" y="366" fill="#2d66dd"/><rect x="124" y="366" fill="#2e65dc"/><rect x="127" y="366" fill="#2e65dc"/><rect x="130" y="366" fill="#2e65dc"/><rect x="133" y="366" fill="#2e65dc"/><rect x="136" y="366" fill="#2e65dc"/><rect x="139" y="366" fill="#2e64dc"/><rect x="142" y="366" fill="#305edb"/><rect x="145" y="366" fill="#354fd9"/><rect x="148" y="366" fill="#3749d8"/><rect x="151" y="366" fill="#3748d8"/><rect x="154" y="366" fill="#3749d8"/><rect x="157" y="366" fill="#3749d8"/><rect x="160" y="366" fill="#3749d8"/><rect x="163" y="366" fill="#3749d8"/><rect x="166" y="366" fill="#374ad8"/><rect x="169" y="366" fill="#354ed9"/><rect x="172" y="366" fill="#3452d9"/><rect x="175" y="366" fill="#3453d9"/><rect x="178" y="366" fill="#3453d9"/><rect x="181" y="366" fill="#3453d9"/><rect x="184" y="366" fill="#3453d9"/><rect x="187" y="366" fill="#3257da"/><rect x="190" y="366" fill="#2f60dc"/><rect x="193" y="366" fill="#2e65dc"/><rect x="196" y="366" fill="#2e65dc"/><rect x="199" y="366" fill="#2e65dc"/><rect x="202" y="366" fill="#2e65dc"/><rect x="205" y="366" fill="#2e65dc"/><rect x="208" y="366" fill="#2d66dd"/><rect x="211" y="366" fill="#2c6bdd"/><rect x="214" y="366" fill="#2876df"/><rect x="217" y="366" fill="#267ade"/><rect x="220" y="366" fill="#267bde"/><rect x="223" y="366" fill="#267bde"/><rect x="226" y="366" fill="#267bde"/><rect x="229" y="366" fill="#267bde"/><rect x="232" y="366" fill="#267bde"/><rect x="235" y="366" fill="#257edd"/><rect x="238" y="366" fill="#2384db"/><rect x="241" y="366" fill="#2187d9"/><rect x="244" y="366" fill="#2187d9"/><rect x="94" y="369" fill="#31b4bb"/><rect x="97" y="369" fill="#30b4bc"/><rect x="100" y="369" fill="#30b4bc"/><rect x="103" y="369" fill="#2ab1c4"/><rect x="106" y="369" fill="#22aaca"/><rect x="109" y="369" fill="#18a0cf"/><rect x="112" y="369" fill="#2383db"/><rect x="115" y="369" fill="#2b6dde"/><rect x="118" y="369" fill="#2d66dd"/><rect x="121" y="369" fill="#2e65dc"/><rect x="124" y="369" fill="#2e65dc"/><rect x="127" y="369" fill="#2e65dc"/><rect x="130" y="369" fill="#2e65dc"/><rect x="133" y="369" fill="#2e65dc"/><rect x="136" y="369" fill="#2e65dc"/><rect x="139" y="369" fill="#2e64dc"/><rect x="142" y="369" fill="#305edb"/><rect x="145" y="369" fill="#354fd9"/><rect x="148" y="369" fill="#3748d8"/><rect x="151" y="369" fill="#3748d8"/><rect x="154" y="369" fill="#3748d8"/><rect x="157" y="369" fill="#3748d8"/><rect x="160" y="369" fill="#3748d8"/><rect x="163" y="369" fill="#3748d8"/><rect x="166" y="369" fill="#3748d8"/><rect x="169" y="369" fill="#364cd8"/><rect x="172" y="369" fill="#3550d9"/><rect x="175" y="369" fill="#3452d9"/><rect x="178" y="369" fill="#3453d9"/><rect x="181" y="369" fill="#3453d9"/><rect x="184" y="369" fill="#3453d9"/><rect x="187" y="369" fill="#3257da"/><rect x="190" y="369" fill="#2f60dc"/><rect x="193" y="369" fill="#2e65dc"/><rect x="196" y="369" fill="#2e65dc"/><rect x="199" y="369" fill="#2e65dc"/><rect x="202" y="369" fill="#2e65dc"/><rect x="205" y="369" fill="#2e65dc"/><rect x="208" y="369" fill="#2d66dd"/><rect x="211" y="369" fill="#2c6bdd"/><rect x="214" y="369" fill="#2876df"/><rect x="217" y="369" fill="#267ade"/><rect x="220" y="369" fill="#267bde"/><rect x="223" y="369" fill="#267bde"/><rect x="226" y="369" fill="#267bde"/><rect x="229" y="369" fill="#267bde"/><rect x="232" y="369" fill="#267bde"/><rect x="235" y="369" fill="#257edd"/><rect x="238" y="369" fill="#2384db"/><rect x="241" y="369" fill="#2187d9"/><rect x="244" y="369" fill="#2187d9"/></g><rect x="95" y="258" width="150" height="112" fill="url(#mesh)"/></g>
<g stroke="#333" stroke-width="0.8" fill="none"><path d="M56.6,409.6 L56.6,291.5"/><path d="M52.6,411.1 L56.6,409.6"/><path d="M52.6,387.48 L56.6,385.98"/><path d="M52.6,363.86 L56.6,362.36"/><path d="M52.6,340.24 L56.6,338.74"/><path d="M52.6,316.62 L56.6,315.12"/><path d="M52.6,293.0 L56.6,291.5"/></g>
<text x="45.5" y="414.40000000000003" font-size="13.4" text-anchor="end" fill="#111" >0</text>
<text x="45.5" y="390.78000000000003" font-size="13.4" text-anchor="end" fill="#111" >20</text>
<text x="45.5" y="367.16" font-size="13.4" text-anchor="end" fill="#111" >40</text>
<text x="45.5" y="343.54" font-size="13.4" text-anchor="end" fill="#111" >60</text>
<text x="45.5" y="319.92" font-size="13.4" text-anchor="end" fill="#111" >80</text>
<text x="45.5" y="296.3" font-size="13.4" text-anchor="end" fill="#111" >100</text>
<text x="0" y="0" font-size="13.8" text-anchor="middle" fill="#111" transform="translate(16.3,354.4) rotate(-90)">pRF size (FWHM)</text>
<text x="54.3" y="430.8" font-size="13.5" text-anchor="end" fill="#111" >-20</text>
<text x="104.4" y="446.6" font-size="13.5" text-anchor="end" fill="#111" >0</text>
<text x="159.4" y="462.3" font-size="13.5" text-anchor="end" fill="#111" >20</text>
<text x="215.5" y="477" font-size="13.5" text-anchor="end" fill="#111" >40</text>
<text x="44" y="474.9" font-size="13.6" text-anchor="start" fill="#111" >Elevation (deg.)</text>
<text x="318" y="387.6" font-size="13.5" text-anchor="start" fill="#111" >-60</text>
<text x="292.3" y="409.8" font-size="13.5" text-anchor="start" fill="#111" >-40</text>
<text x="267.7" y="431.2" font-size="13.5" text-anchor="start" fill="#111" >-20</text>
<text x="244.8" y="453.4" font-size="13.5" text-anchor="start" fill="#111" >0</text>
<text x="276.4" y="457.6" font-size="13.6" text-anchor="start" fill="#111" >Azimuth (deg.)</text>
<g stroke="#333" stroke-width="0.8"><path d="M110.5,426.1 L108.5,428.1"/><path d="M164.5,442.6 L162.5,444.6"/><path d="M235.9,443.3 L238.9,443.3"/><path d="M261.4,420.4 L264.4,420.4"/><path d="M286.8,397.6 L289.8,397.6"/></g>
<rect x="208.9" y="251.6" width="115.4" height="10.4" fill="url(#parula)" stroke="#444" stroke-width="0.6"/>
<g stroke="#333" stroke-width="0.6"><path d="M234.5,251.6 L234.5,253.2 M234.5,262 L234.5,260.4"/><path d="M260.7,251.6 L260.7,253.2 M260.7,262 L260.7,260.4"/><path d="M286.9,251.6 L286.9,253.2 M286.9,262 L286.9,260.4"/><path d="M312.9,251.6 L312.9,253.2 M312.9,262 L312.9,260.4"/></g>
<text x="210.7" y="249.3" font-size="9.7" text-anchor="middle" fill="#111" >50</text>
<text x="260.3" y="249.3" font-size="9.7" text-anchor="middle" fill="#111" >60</text>
<text x="311.7" y="249.3" font-size="9.7" text-anchor="middle" fill="#111" >70</text>
<text x="269.6" y="233.5" font-size="11.5" text-anchor="middle" fill="#111" >pRF size (FWHM)</text>
<text x="359.2" y="254.2" font-size="18" text-anchor="start" font-weight="bold" fill="#000" >c</text>
<g stroke="#a4a4a4" stroke-width="1.6" fill="none"><path d="M408.2,263.4 L408.2,454.59999999999997"/><path d="M451.2,454.6 L630.8,454.6"/></g><g stroke="#555" stroke-width="0.8"><path d="M409,264.2 L411.2,264.2"/><path d="M409,287.9 L411.2,287.9"/><path d="M409,311.6 L411.2,311.6"/><path d="M409,335.3 L411.2,335.3"/><path d="M409,359.0 L411.2,359.0"/><path d="M409,382.7 L411.2,382.7"/><path d="M409,406.4 L411.2,406.4"/><path d="M409,430.1 L411.2,430.1"/><path d="M409,453.8 L411.2,453.8"/><path d="M452,453.8 L452,451.6"/><path d="M511.3,453.8 L511.3,451.6"/><path d="M570.6,453.8 L570.6,451.6"/><path d="M630,453.8 L630,451.6"/></g>
<text x="404.6" y="268.4" font-size="12.2" text-anchor="end" fill="#111" >0.6</text>
<text x="404.6" y="315.79999999999995" font-size="12.2" text-anchor="end" fill="#111" >0.4</text>
<text x="404.6" y="363.2" font-size="12.2" text-anchor="end" fill="#111" >0.2</text>
<text x="404.6" y="410.59999999999997" font-size="12.2" text-anchor="end" fill="#111" >0</text>
<text x="404.6" y="457.99999999999994" font-size="12.2" text-anchor="end" fill="#111" >-0.2</text>
<text x="0" y="0" font-size="13.5" text-anchor="middle" fill="#111" transform="translate(374.3,354.3) rotate(-90)">Slope</text>
<text x="427" y="469.6" font-size="12.2" text-anchor="middle" fill="#111" >Raw</text>
<text x="454.6" y="469.6" font-size="12.2" text-anchor="middle" fill="#111" >50</text>
<text x="511.90000000000003" y="469.6" font-size="12.2" text-anchor="middle" fill="#111" >100</text>
<text x="571.2" y="469.6" font-size="12.2" text-anchor="middle" fill="#111" >200</text>
<text x="630.6" y="469.6" font-size="12.2" text-anchor="middle" fill="#111" >400</text>
<text x="546" y="489.6" font-size="14" text-anchor="middle" fill="#111" >Window radius (μm)</text>
<path d="M451.6,406.4 L630,406.4" stroke="#555" stroke-width="0.9" stroke-dasharray="3.2,3.2"/>
<path d="M452,370.8 L511.3,335.8 L570.6,285.5 L630,285.5" stroke="#d84545" stroke-width="2.5" fill="none"/>
<path d="M452,390.5 L511.3,372.0 L570.6,336.5 L630,316.3" stroke="#d2d62a" stroke-width="2.5" fill="none"/>
<path d="M452,419.0 L511.3,410.7 L570.6,375.6 L630,284.3" stroke="#3a4aa2" stroke-width="2.5" fill="none"/>
<path d="M452,364.5 L452,377.2 M449.5,364.5 L454.5,364.5 M449.5,377.2 L454.5,377.2" stroke="#e8262a" stroke-width="0.9" stroke-opacity="0.75"/>
<circle cx="452" cy="370.8" r="2.5" fill="#e8262a"/>
<path d="M511.3,327.5 L511.3,344.1 M508.8,327.5 L513.8,327.5 M508.8,344.1 L513.8,344.1" stroke="#e8262a" stroke-width="0.9" stroke-opacity="0.75"/>
<circle cx="511.3" cy="335.8" r="2.5" fill="#e8262a"/>
<path d="M570.6,274.9 L570.6,296.2 M568.1,274.9 L573.1,274.9 M568.1,296.2 L573.1,296.2" stroke="#e8262a" stroke-width="0.9" stroke-opacity="0.75"/>
<circle cx="570.6" cy="285.5" r="2.5" fill="#e8262a"/>
<path d="M630,274.9 L630,296.2 M627.5,274.9 L632.5,274.9 M627.5,296.2 L632.5,296.2" stroke="#e8262a" stroke-width="0.9" stroke-opacity="0.75"/>
<circle cx="630" cy="285.5" r="2.5" fill="#e8262a"/>
<circle cx="427.3" cy="389.3" r="2.3" fill="#e8262a"/>
<path d="M452,388.6 L452,392.4 M449.5,388.6 L454.5,388.6 M449.5,392.4 L454.5,392.4" stroke="#d6d634" stroke-width="0.9" stroke-opacity="0.75"/>
<circle cx="452" cy="390.5" r="2.5" fill="#d6d634"/>
<path d="M511.3,370.1 L511.3,373.9 M508.8,370.1 L513.8,370.1 M508.8,373.9 L513.8,373.9" stroke="#d6d634" stroke-width="0.9" stroke-opacity="0.75"/>
<circle cx="511.3" cy="372.0" r="2.5" fill="#d6d634"/>
<path d="M570.6,334.1 L570.6,338.9 M568.1,334.1 L573.1,334.1 M568.1,338.9 L573.1,338.9" stroke="#d6d634" stroke-width="0.9" stroke-opacity="0.75"/>
<circle cx="570.6" cy="336.5" r="2.5" fill="#d6d634"/>
<path d="M630,314.0 L630,318.7 M627.5,314.0 L632.5,314.0 M627.5,318.7 L632.5,318.7" stroke="#d6d634" stroke-width="0.9" stroke-opacity="0.75"/>
<circle cx="630" cy="316.3" r="2.5" fill="#d6d634"/>
<circle cx="427.3" cy="404.5" r="2.3" fill="#d6d634"/>
<path d="M452,414.2 L452,423.7 M449.5,414.2 L454.5,414.2 M449.5,423.7 L454.5,423.7" stroke="#1c30f0" stroke-width="0.9" stroke-opacity="0.75"/>
<circle cx="452" cy="419.0" r="2.5" fill="#1c30f0"/>
<path d="M511.3,405.9 L511.3,415.4 M508.8,405.9 L513.8,405.9 M508.8,415.4 L513.8,415.4" stroke="#1c30f0" stroke-width="0.9" stroke-opacity="0.75"/>
<circle cx="511.3" cy="410.7" r="2.5" fill="#1c30f0"/>
<path d="M570.6,370.8 L570.6,380.3 M568.1,370.8 L573.1,370.8 M568.1,380.3 L573.1,380.3" stroke="#1c30f0" stroke-width="0.9" stroke-opacity="0.75"/>
<circle cx="570.6" cy="375.6" r="2.5" fill="#1c30f0"/>
<path d="M630,277.2 L630,291.5 M627.5,277.2 L632.5,277.2 M627.5,291.5 L632.5,291.5" stroke="#1c30f0" stroke-width="0.9" stroke-opacity="0.75"/>
<circle cx="630" cy="284.3" r="2.5" fill="#1c30f0"/>
<circle cx="427.3" cy="431.3" r="2.3" fill="#1c30f0"/>
<rect x="445.4" y="384.6" width="13.2" height="12.2" fill="none" stroke="#e020e0" stroke-width="1.3"/>
<rect x="623.6" y="312" width="13" height="11.4" fill="none" stroke="#e020e0" stroke-width="1.3"/>
<polygon points="445.90,245.40 446.69,247.51 448.94,247.61 447.18,249.02 447.78,251.19 445.90,249.94 444.02,251.19 444.62,249.02 442.86,247.61 445.11,247.51" fill="#e8242a"/>
<polygon points="454.40,245.40 455.19,247.51 457.44,247.61 455.68,249.02 456.28,251.19 454.40,249.94 452.52,251.19 453.12,249.02 451.36,247.61 453.61,247.51" fill="#d8d820"/>
<polygon points="504.30,245.40 505.09,247.51 507.34,247.61 505.58,249.02 506.18,251.19 504.30,249.94 502.42,251.19 503.02,249.02 501.26,247.61 503.51,247.51" fill="#e8242a"/>
<polygon points="512.80,245.40 513.59,247.51 515.84,247.61 514.08,249.02 514.68,251.19 512.80,249.94 510.92,251.19 511.52,249.02 509.76,247.61 512.01,247.51" fill="#d8d820"/>
<polygon points="561.50,245.40 562.29,247.51 564.54,247.61 562.78,249.02 563.38,251.19 561.50,249.94 559.62,251.19 560.22,249.02 558.46,247.61 560.71,247.51" fill="#e8242a"/>
<polygon points="570.00,245.40 570.79,247.51 573.04,247.61 571.28,249.02 571.88,251.19 570.00,249.94 568.12,251.19 568.72,249.02 566.96,247.61 569.21,247.51" fill="#d8d820"/>
<polygon points="578.50,245.40 579.29,247.51 581.54,247.61 579.78,249.02 580.38,251.19 578.50,249.94 576.62,251.19 577.22,249.02 575.46,247.61 577.71,247.51" fill="#20a0e0"/>
<polygon points="621.70,245.40 622.49,247.51 624.74,247.61 622.98,249.02 623.58,251.19 621.70,249.94 619.82,251.19 620.42,249.02 618.66,247.61 620.91,247.51" fill="#e8242a"/>
<polygon points="630.20,245.40 630.99,247.51 633.24,247.61 631.48,249.02 632.08,251.19 630.20,249.94 628.32,251.19 628.92,249.02 627.16,247.61 629.41,247.51" fill="#d8d820"/>
<polygon points="638.70,245.40 639.49,247.51 641.74,247.61 639.98,249.02 640.58,251.19 638.70,249.94 636.82,251.19 637.42,249.02 635.66,247.61 637.91,247.51" fill="#20a0e0"/>
<text x="421.6" y="275.9" font-size="9.6" text-anchor="start" font-weight="bold" fill="#e8202e" >M1</text>
<text x="421.6" y="287.1" font-size="9.6" text-anchor="start" font-weight="bold" fill="#d0d818" >M2</text>
<text x="421.6" y="298.7" font-size="9.6" text-anchor="start" font-weight="bold" fill="#3850b0" >M3</text>
<text x="455.6" y="302.3" font-size="11.5" text-anchor="start" fill="#111" >20</text>
<text x="469.3" y="297" font-size="7" text-anchor="start" fill="#111" >o</text>
<path d="M450.4,309.3 L474.8,309.3 M450.4,307 L450.4,311.6 M474.8,307 L474.8,311.6" stroke="#333" stroke-width="0.9"/>
<g fill="#000"><circle cx="457.2" cy="336.3" r="1.15"/><circle cx="476.5" cy="326.3" r="1.15"/><circle cx="464.3" cy="337.1" r="1.15"/><circle cx="447.7" cy="337.0" r="1.15"/><circle cx="476.6" cy="328.8" r="1.15"/><circle cx="426.3" cy="334.0" r="1.15"/><circle cx="447.9" cy="337.5" r="1.15"/><circle cx="454.2" cy="342.0" r="1.15"/><circle cx="420.3" cy="339.9" r="1.15"/><circle cx="474.9" cy="339.3" r="1.15"/><circle cx="465.8" cy="340.5" r="1.15"/><circle cx="427.9" cy="343.3" r="1.15"/><circle cx="456.9" cy="336.9" r="1.15"/><circle cx="472.2" cy="335.8" r="1.15"/><circle cx="432.2" cy="340.5" r="1.15"/><circle cx="472.3" cy="345.6" r="1.15"/><circle cx="437.0" cy="342.2" r="1.15"/><circle cx="460.5" cy="335.1" r="1.15"/><circle cx="431.9" cy="343.1" r="1.15"/><circle cx="478.0" cy="332.3" r="1.15"/><circle cx="473.6" cy="334.1" r="1.15"/><circle cx="429.5" cy="341.5" r="1.15"/><circle cx="428.3" cy="341.2" r="1.15"/><circle cx="456.0" cy="338.2" r="1.15"/><circle cx="419.7" cy="338.4" r="1.15"/><circle cx="438.3" cy="335.3" r="1.15"/><circle cx="469.0" cy="331.7" r="1.15"/><circle cx="448.6" cy="337.7" r="1.15"/><circle cx="462.1" cy="346.3" r="1.15"/><circle cx="420.9" cy="341.9" r="1.15"/><circle cx="464.9" cy="336.6" r="1.15"/><circle cx="467.2" cy="335.2" r="1.15"/><circle cx="441.7" cy="337.4" r="1.15"/><circle cx="422.3" cy="339.1" r="1.15"/><circle cx="430.4" cy="340.6" r="1.15"/><circle cx="465.2" cy="335.3" r="1.15"/><circle cx="475.7" cy="339.6" r="1.15"/><circle cx="441.0" cy="336.8" r="1.15"/><circle cx="451.2" cy="337.4" r="1.15"/><circle cx="464.8" cy="334.0" r="1.15"/><circle cx="467.7" cy="336.7" r="1.15"/><circle cx="476.7" cy="334.2" r="1.15"/><circle cx="425.0" cy="337.0" r="1.15"/><circle cx="475.0" cy="341.1" r="1.15"/><circle cx="440.1" cy="341.9" r="1.15"/><circle cx="438.4" cy="336.1" r="1.15"/><circle cx="438.7" cy="338.7" r="1.15"/><circle cx="428.5" cy="339.9" r="1.15"/><circle cx="461.2" cy="339.0" r="1.15"/><circle cx="422.4" cy="339.2" r="1.15"/><circle cx="479.2" cy="329.9" r="1.15"/><circle cx="433.9" cy="337.7" r="1.15"/><circle cx="455.4" cy="338.9" r="1.15"/><circle cx="445.0" cy="334.0" r="1.15"/><circle cx="422.9" cy="339.9" r="1.15"/><circle cx="449.4" cy="336.8" r="1.15"/><circle cx="470.2" cy="341.0" r="1.15"/><circle cx="477.0" cy="341.2" r="1.15"/><circle cx="457.6" cy="337.1" r="1.15"/><circle cx="445.8" cy="335.8" r="1.15"/><circle cx="428.5" cy="340.2" r="1.15"/><circle cx="446.9" cy="334.8" r="1.15"/><circle cx="480.0" cy="343.5" r="1.15"/><circle cx="446.9" cy="329.2" r="1.15"/><circle cx="449.0" cy="336.7" r="1.15"/><circle cx="437.1" cy="334.4" r="1.15"/><circle cx="443.9" cy="339.8" r="1.15"/><circle cx="479.3" cy="339.1" r="1.15"/><circle cx="477.6" cy="331.0" r="1.15"/><circle cx="440.0" cy="335.0" r="1.15"/><circle cx="424.9" cy="338.4" r="1.15"/><circle cx="472.0" cy="344.0" r="1.15"/><circle cx="441.4" cy="339.2" r="1.15"/><circle cx="461.5" cy="329.0" r="1.15"/><circle cx="459.7" cy="336.8" r="1.15"/><circle cx="462.1" cy="332.1" r="1.15"/><circle cx="436.5" cy="332.6" r="1.15"/><circle cx="461.3" cy="337.1" r="1.15"/><circle cx="437.3" cy="342.8" r="1.15"/><circle cx="454.6" cy="334.9" r="1.15"/><circle cx="420.2" cy="337.5" r="1.15"/><circle cx="460.1" cy="335.5" r="1.15"/><circle cx="447.5" cy="339.7" r="1.15"/><circle cx="467.8" cy="329.7" r="1.15"/><circle cx="440.5" cy="334.4" r="1.15"/><circle cx="469.6" cy="329.7" r="1.15"/><circle cx="440.7" cy="341.8" r="1.15"/><circle cx="461.1" cy="329.0" r="1.15"/><circle cx="478.6" cy="341.1" r="1.15"/><circle cx="451.5" cy="335.8" r="1.15"/><circle cx="429.6" cy="342.4" r="1.15"/><circle cx="448.4" cy="329.6" r="1.15"/><circle cx="461.3" cy="335.0" r="1.15"/><circle cx="429.9" cy="333.9" r="1.15"/><circle cx="466.7" cy="330.0" r="1.15"/><circle cx="445.0" cy="334.9" r="1.15"/><circle cx="457.2" cy="337.6" r="1.15"/><circle cx="463.1" cy="330.0" r="1.15"/><circle cx="421.2" cy="340.9" r="1.15"/><circle cx="458.8" cy="340.5" r="1.15"/><circle cx="432.8" cy="336.8" r="1.15"/><circle cx="422.0" cy="335.8" r="1.15"/><circle cx="448.0" cy="337.6" r="1.15"/><circle cx="427.6" cy="339.9" r="1.15"/><circle cx="438.7" cy="339.0" r="1.15"/><circle cx="421.7" cy="340.9" r="1.15"/><circle cx="447.7" cy="333.6" r="1.15"/><circle cx="455.2" cy="340.7" r="1.15"/><circle cx="433.9" cy="338.5" r="1.15"/><circle cx="444.0" cy="337.6" r="1.15"/><circle cx="436.4" cy="336.9" r="1.15"/><circle cx="469.8" cy="337.0" r="1.15"/><circle cx="442.1" cy="342.6" r="1.15"/><circle cx="425.2" cy="340.0" r="1.15"/><circle cx="452.5" cy="334.2" r="1.15"/><circle cx="477.5" cy="340.9" r="1.15"/><circle cx="469.0" cy="328.3" r="1.15"/><circle cx="458.4" cy="340.4" r="1.15"/><circle cx="441.9" cy="340.8" r="1.15"/><circle cx="453.6" cy="341.2" r="1.15"/><circle cx="477.4" cy="342.0" r="1.15"/><circle cx="440.7" cy="337.0" r="1.15"/><circle cx="473.6" cy="337.8" r="1.15"/><circle cx="453.7" cy="337.0" r="1.15"/><circle cx="456.7" cy="340.5" r="1.15"/><circle cx="473.4" cy="340.8" r="1.15"/><circle cx="442.2" cy="335.5" r="1.15"/><circle cx="437.1" cy="339.2" r="1.15"/><circle cx="478.3" cy="325.6" r="1.15"/><circle cx="474.8" cy="344.1" r="1.15"/><circle cx="455.5" cy="336.1" r="1.15"/><circle cx="449.5" cy="347.3" r="1.15"/><circle cx="444.6" cy="333.2" r="1.15"/><circle cx="449.3" cy="347.3" r="1.15"/><circle cx="436.8" cy="336.5" r="1.15"/><circle cx="457.1" cy="337.0" r="1.15"/><circle cx="446.3" cy="335.8" r="1.15"/><circle cx="469.5" cy="343.8" r="1.15"/><circle cx="420.3" cy="337.4" r="1.15"/><circle cx="476.1" cy="334.5" r="1.15"/><circle cx="466.8" cy="336.1" r="1.15"/><circle cx="428.9" cy="341.2" r="1.15"/><circle cx="479.3" cy="333.2" r="1.15"/><circle cx="448.2" cy="342.4" r="1.15"/><circle cx="458.5" cy="331.0" r="1.15"/><circle cx="426.6" cy="336.1" r="1.15"/><circle cx="465.5" cy="334.3" r="1.15"/><circle cx="439.8" cy="342.1" r="1.15"/><circle cx="437.5" cy="334.5" r="1.15"/><circle cx="441.3" cy="337.1" r="1.15"/><circle cx="464.6" cy="335.1" r="1.15"/><circle cx="434.8" cy="337.9" r="1.15"/><circle cx="447.1" cy="344.3" r="1.15"/><circle cx="452.5" cy="332.8" r="1.15"/><circle cx="420.4" cy="339.9" r="1.15"/><circle cx="454.3" cy="332.6" r="1.15"/><circle cx="462.3" cy="332.9" r="1.15"/><circle cx="474.7" cy="331.2" r="1.15"/><circle cx="442.8" cy="332.3" r="1.15"/><circle cx="431.4" cy="342.4" r="1.15"/><circle cx="437.4" cy="338.8" r="1.15"/><circle cx="470.1" cy="334.2" r="1.15"/><circle cx="461.5" cy="333.1" r="1.15"/><circle cx="466.7" cy="337.5" r="1.15"/><circle cx="474.6" cy="338.9" r="1.15"/><circle cx="452.7" cy="340.6" r="1.15"/><circle cx="449.6" cy="336.2" r="1.15"/><circle cx="454.9" cy="338.9" r="1.15"/><circle cx="468.6" cy="338.9" r="1.15"/><circle cx="469.1" cy="337.2" r="1.15"/><circle cx="467.4" cy="335.4" r="1.15"/><circle cx="463.2" cy="335.4" r="1.15"/><circle cx="478.7" cy="343.1" r="1.15"/><circle cx="422.5" cy="339.2" r="1.15"/><circle cx="470.4" cy="337.0" r="1.15"/><circle cx="477.1" cy="342.4" r="1.15"/><circle cx="462.6" cy="338.7" r="1.15"/><circle cx="475.0" cy="338.5" r="1.15"/><circle cx="428.6" cy="336.5" r="1.15"/><circle cx="429.3" cy="336.8" r="1.15"/><circle cx="457.2" cy="338.6" r="1.15"/><circle cx="442.4" cy="338.3" r="1.15"/><circle cx="423.9" cy="342.6" r="1.15"/><circle cx="464.4" cy="338.3" r="1.15"/><circle cx="472.6" cy="339.0" r="1.15"/><circle cx="438.5" cy="340.8" r="1.15"/><circle cx="455.8" cy="327.0" r="1.15"/><circle cx="442.1" cy="338.4" r="1.15"/><circle cx="422.9" cy="338.7" r="1.15"/><circle cx="457.7" cy="334.4" r="1.15"/><circle cx="450.1" cy="341.4" r="1.15"/><circle cx="457.1" cy="333.8" r="1.15"/><circle cx="435.4" cy="335.9" r="1.15"/><circle cx="464.9" cy="335.0" r="1.15"/><circle cx="450.8" cy="339.1" r="1.15"/><circle cx="442.0" cy="339.8" r="1.15"/><circle cx="464.1" cy="339.3" r="1.15"/><circle cx="459.1" cy="342.7" r="1.15"/><circle cx="424.7" cy="338.5" r="1.15"/><circle cx="427.0" cy="337.8" r="1.15"/><circle cx="455.4" cy="337.4" r="1.15"/><circle cx="448.6" cy="345.2" r="1.15"/><circle cx="439.1" cy="338.3" r="1.15"/><circle cx="463.4" cy="335.2" r="1.15"/><circle cx="422.7" cy="343.2" r="1.15"/><circle cx="460.7" cy="345.2" r="1.15"/><circle cx="433.0" cy="344.9" r="1.15"/><circle cx="459.7" cy="344.2" r="1.15"/><circle cx="469.1" cy="340.0" r="1.15"/><circle cx="440.9" cy="341.7" r="1.15"/><circle cx="433.7" cy="336.2" r="1.15"/><circle cx="440.6" cy="342.1" r="1.15"/><circle cx="442.8" cy="342.2" r="1.15"/><circle cx="458.7" cy="342.7" r="1.15"/><circle cx="468.2" cy="327.5" r="1.15"/><circle cx="450.8" cy="340.3" r="1.15"/><circle cx="455.4" cy="330.7" r="1.15"/><circle cx="443.4" cy="335.1" r="1.15"/><circle cx="425.4" cy="340.9" r="1.15"/><circle cx="421.9" cy="339.7" r="1.15"/><circle cx="473.3" cy="327.3" r="1.15"/><circle cx="419.5" cy="340.0" r="1.15"/><circle cx="447.9" cy="341.5" r="1.15"/><circle cx="445.4" cy="334.3" r="1.15"/><circle cx="447.7" cy="339.2" r="1.15"/><circle cx="429.1" cy="339.8" r="1.15"/><circle cx="442.2" cy="332.3" r="1.15"/><circle cx="428.7" cy="342.9" r="1.15"/><circle cx="434.9" cy="338.0" r="1.15"/><circle cx="436.9" cy="340.2" r="1.15"/><circle cx="433.7" cy="337.6" r="1.15"/><circle cx="475.4" cy="335.5" r="1.15"/><circle cx="441.8" cy="342.9" r="1.15"/><circle cx="460.3" cy="333.9" r="1.15"/><circle cx="448.0" cy="339.2" r="1.15"/><circle cx="459.9" cy="335.8" r="1.15"/><circle cx="437.1" cy="335.7" r="1.15"/><circle cx="429.4" cy="334.4" r="1.15"/><circle cx="431.7" cy="340.8" r="1.15"/><circle cx="424.2" cy="339.5" r="1.15"/><circle cx="443.8" cy="341.1" r="1.15"/><circle cx="438.4" cy="337.6" r="1.15"/><circle cx="447.8" cy="336.1" r="1.15"/><circle cx="462.9" cy="343.4" r="1.15"/><circle cx="429.4" cy="339.0" r="1.15"/><circle cx="476.4" cy="342.8" r="1.15"/><circle cx="458.6" cy="326.0" r="1.15"/><circle cx="419.9" cy="342.5" r="1.15"/><circle cx="423.2" cy="339.7" r="1.15"/><circle cx="422.2" cy="336.6" r="1.15"/><circle cx="452.7" cy="341.9" r="1.15"/><circle cx="440.7" cy="337.6" r="1.15"/><circle cx="425.2" cy="344.6" r="1.15"/><circle cx="449.2" cy="340.9" r="1.15"/><circle cx="476.1" cy="338.8" r="1.15"/><circle cx="422.6" cy="339.9" r="1.15"/><circle cx="443.5" cy="340.3" r="1.15"/><circle cx="444.2" cy="338.7" r="1.15"/><circle cx="438.0" cy="339.0" r="1.15"/><circle cx="478.3" cy="335.6" r="1.15"/><circle cx="430.4" cy="335.6" r="1.15"/><circle cx="451.6" cy="336.9" r="1.15"/><circle cx="424.6" cy="338.6" r="1.15"/><circle cx="452.3" cy="338.8" r="1.15"/><circle cx="475.2" cy="327.3" r="1.15"/><circle cx="432.5" cy="334.9" r="1.15"/><circle cx="420.6" cy="336.5" r="1.15"/><circle cx="454.1" cy="335.8" r="1.15"/><circle cx="442.3" cy="333.7" r="1.15"/><circle cx="474.7" cy="329.7" r="1.15"/><circle cx="438.1" cy="332.1" r="1.15"/><circle cx="433.1" cy="340.4" r="1.15"/><circle cx="426.5" cy="338.5" r="1.15"/><circle cx="466.2" cy="337.9" r="1.15"/><circle cx="469.1" cy="334.9" r="1.15"/><circle cx="424.5" cy="340.5" r="1.15"/><circle cx="434.3" cy="341.4" r="1.15"/><circle cx="454.4" cy="339.1" r="1.15"/><circle cx="434.3" cy="343.1" r="1.15"/><circle cx="422.4" cy="340.9" r="1.15"/><circle cx="431.6" cy="337.9" r="1.15"/><circle cx="425.5" cy="341.7" r="1.15"/><circle cx="444.9" cy="335.2" r="1.15"/><circle cx="453.1" cy="343.2" r="1.15"/><circle cx="473.7" cy="330.7" r="1.15"/><circle cx="454.3" cy="331.2" r="1.15"/><circle cx="446.3" cy="339.7" r="1.15"/><circle cx="477.3" cy="328.4" r="1.15"/><circle cx="463.5" cy="335.2" r="1.15"/><circle cx="468.6" cy="332.3" r="1.15"/><circle cx="442.6" cy="338.7" r="1.15"/><circle cx="429.7" cy="339.6" r="1.15"/><circle cx="435.4" cy="337.1" r="1.15"/><circle cx="423.3" cy="337.2" r="1.15"/><circle cx="465.7" cy="335.0" r="1.15"/><circle cx="422.6" cy="339.0" r="1.15"/><circle cx="427.4" cy="335.3" r="1.15"/><circle cx="476.9" cy="343.1" r="1.15"/><circle cx="456.5" cy="337.3" r="1.15"/><circle cx="441.4" cy="341.6" r="1.15"/><circle cx="439.5" cy="342.6" r="1.15"/><circle cx="469.5" cy="336.3" r="1.15"/><circle cx="463.5" cy="340.8" r="1.15"/><circle cx="429.9" cy="340.8" r="1.15"/><circle cx="462.4" cy="326.4" r="1.15"/><circle cx="467.6" cy="339.6" r="1.15"/><circle cx="426.7" cy="336.3" r="1.15"/><circle cx="447.4" cy="345.1" r="1.15"/><circle cx="445.8" cy="331.6" r="1.15"/><circle cx="476.1" cy="338.4" r="1.15"/><circle cx="451.7" cy="342.4" r="1.15"/><circle cx="425.8" cy="338.3" r="1.15"/><circle cx="468.8" cy="334.5" r="1.15"/><circle cx="478.7" cy="335.9" r="1.15"/><circle cx="421.5" cy="336.6" r="1.15"/><circle cx="472.8" cy="332.9" r="1.15"/><circle cx="443.3" cy="338.4" r="1.15"/><circle cx="431.7" cy="341.1" r="1.15"/><circle cx="453.5" cy="332.8" r="1.15"/><circle cx="434.1" cy="342.6" r="1.15"/><circle cx="440.8" cy="338.0" r="1.15"/><circle cx="470.3" cy="345.7" r="1.15"/><circle cx="470.9" cy="332.1" r="1.15"/><circle cx="428.2" cy="336.8" r="1.15"/><circle cx="469.8" cy="334.4" r="1.15"/><circle cx="429.8" cy="338.8" r="1.15"/><circle cx="425.5" cy="337.8" r="1.15"/><circle cx="431.6" cy="332.0" r="1.15"/><circle cx="467.7" cy="332.7" r="1.15"/><circle cx="471.7" cy="342.2" r="1.15"/><circle cx="457.2" cy="338.0" r="1.15"/><circle cx="420.1" cy="337.0" r="1.15"/><circle cx="450.5" cy="335.0" r="1.15"/><circle cx="443.0" cy="336.6" r="1.15"/><circle cx="438.7" cy="341.0" r="1.15"/><circle cx="442.7" cy="338.3" r="1.15"/><circle cx="448.3" cy="336.2" r="1.15"/><circle cx="478.9" cy="330.1" r="1.15"/><circle cx="468.8" cy="342.3" r="1.15"/><circle cx="460.0" cy="333.4" r="1.15"/><circle cx="452.0" cy="338.2" r="1.15"/><circle cx="455.4" cy="333.1" r="1.15"/><circle cx="460.6" cy="332.9" r="1.15"/><circle cx="424.2" cy="338.8" r="1.15"/><circle cx="424.8" cy="336.8" r="1.15"/><circle cx="465.5" cy="340.8" r="1.15"/><circle cx="462.7" cy="332.7" r="1.15"/><circle cx="436.1" cy="345.4" r="1.15"/><circle cx="462.8" cy="343.0" r="1.15"/><circle cx="460.0" cy="339.7" r="1.15"/><circle cx="477.4" cy="341.4" r="1.15"/><circle cx="470.2" cy="331.3" r="1.15"/><circle cx="464.2" cy="333.8" r="1.15"/><circle cx="450.8" cy="335.4" r="1.15"/><circle cx="473.7" cy="336.4" r="1.15"/><circle cx="452.4" cy="347.1" r="1.15"/><circle cx="443.3" cy="341.3" r="1.15"/><circle cx="430.3" cy="338.8" r="1.15"/><circle cx="459.0" cy="344.2" r="1.15"/><circle cx="456.6" cy="331.3" r="1.15"/><circle cx="442.9" cy="342.0" r="1.15"/><circle cx="453.0" cy="340.9" r="1.15"/><circle cx="462.8" cy="329.7" r="1.15"/><circle cx="432.4" cy="343.2" r="1.15"/><circle cx="438.0" cy="337.6" r="1.15"/><circle cx="473.8" cy="342.3" r="1.15"/><circle cx="429.6" cy="335.3" r="1.15"/><circle cx="433.1" cy="334.5" r="1.15"/><circle cx="423.3" cy="334.5" r="1.15"/><circle cx="472.7" cy="331.8" r="1.15"/><circle cx="463.5" cy="332.1" r="1.15"/><circle cx="451.5" cy="339.2" r="1.15"/><circle cx="474.2" cy="334.1" r="1.15"/><circle cx="456.1" cy="340.0" r="1.15"/><circle cx="478.0" cy="335.6" r="1.15"/><circle cx="426.5" cy="339.6" r="1.15"/><circle cx="453.5" cy="334.9" r="1.15"/><circle cx="431.0" cy="337.4" r="1.15"/><circle cx="455.5" cy="333.0" r="1.15"/><circle cx="463.6" cy="330.7" r="1.15"/><circle cx="423.2" cy="334.0" r="1.15"/><circle cx="477.4" cy="336.1" r="1.15"/><circle cx="438.8" cy="341.0" r="1.15"/><circle cx="475.6" cy="329.5" r="1.15"/><circle cx="433.4" cy="336.5" r="1.15"/><circle cx="448.3" cy="330.4" r="1.15"/><circle cx="425.6" cy="339.6" r="1.15"/><circle cx="425.1" cy="340.6" r="1.15"/><circle cx="428.7" cy="337.8" r="1.15"/><circle cx="465.4" cy="334.7" r="1.15"/><circle cx="464.0" cy="339.5" r="1.15"/><circle cx="462.6" cy="328.9" r="1.15"/><circle cx="475.4" cy="342.1" r="1.15"/><circle cx="477.9" cy="333.2" r="1.15"/><circle cx="425.8" cy="339.9" r="1.15"/><circle cx="432.0" cy="339.3" r="1.15"/><circle cx="442.2" cy="332.6" r="1.15"/><circle cx="464.4" cy="337.9" r="1.15"/><circle cx="424.6" cy="336.2" r="1.15"/><circle cx="442.2" cy="340.4" r="1.15"/><circle cx="426.6" cy="336.7" r="1.15"/><circle cx="460.9" cy="334.0" r="1.15"/><circle cx="449.5" cy="346.4" r="1.15"/><circle cx="423.9" cy="337.6" r="1.15"/><circle cx="465.5" cy="335.4" r="1.15"/><circle cx="426.6" cy="336.6" r="1.15"/><circle cx="448.5" cy="333.5" r="1.15"/><circle cx="475.1" cy="341.8" r="1.15"/><circle cx="442.6" cy="336.7" r="1.15"/><circle cx="461.7" cy="341.4" r="1.15"/><circle cx="467.2" cy="332.5" r="1.15"/><circle cx="439.9" cy="336.7" r="1.15"/><circle cx="470.8" cy="334.2" r="1.15"/><circle cx="445.0" cy="337.5" r="1.15"/><circle cx="433.9" cy="337.8" r="1.15"/><circle cx="435.9" cy="337.2" r="1.15"/><circle cx="425.3" cy="330.9" r="1.15"/><circle cx="452.3" cy="338.7" r="1.15"/><circle cx="442.9" cy="339.2" r="1.15"/><circle cx="441.0" cy="337.3" r="1.15"/><circle cx="460.0" cy="318.5" r="1.15"/><circle cx="458.0" cy="321.0" r="1.15"/><circle cx="452.0" cy="322.5" r="1.15"/><circle cx="470.0" cy="321.5" r="1.15"/></g>
<path d="M419.2,337.6 L480.4,333.5" stroke="#f010f0" stroke-width="2.3"/>
<g fill="#000"><circle cx="648.5" cy="346.2" r="1.15"/><circle cx="616.3" cy="349.5" r="1.15"/><circle cx="600.5" cy="356.0" r="1.15"/><circle cx="646.5" cy="341.2" r="1.15"/><circle cx="623.1" cy="352.0" r="1.15"/><circle cx="649.0" cy="340.5" r="1.15"/><circle cx="644.7" cy="342.4" r="1.15"/><circle cx="641.8" cy="349.0" r="1.15"/><circle cx="612.2" cy="348.0" r="1.15"/><circle cx="616.6" cy="351.1" r="1.15"/><circle cx="649.1" cy="340.6" r="1.15"/><circle cx="620.8" cy="345.2" r="1.15"/><circle cx="606.1" cy="358.9" r="1.15"/><circle cx="627.4" cy="344.4" r="1.15"/><circle cx="606.2" cy="358.5" r="1.15"/><circle cx="618.1" cy="358.4" r="1.15"/><circle cx="658.1" cy="336.4" r="1.15"/><circle cx="640.2" cy="346.0" r="1.15"/><circle cx="622.3" cy="359.8" r="1.15"/><circle cx="631.6" cy="346.2" r="1.15"/><circle cx="639.5" cy="345.3" r="1.15"/><circle cx="659.6" cy="330.8" r="1.15"/><circle cx="602.2" cy="354.3" r="1.15"/><circle cx="618.9" cy="357.0" r="1.15"/><circle cx="636.1" cy="354.3" r="1.15"/><circle cx="632.3" cy="353.0" r="1.15"/><circle cx="607.6" cy="354.4" r="1.15"/><circle cx="612.4" cy="351.8" r="1.15"/><circle cx="629.8" cy="351.4" r="1.15"/><circle cx="652.9" cy="343.9" r="1.15"/><circle cx="642.7" cy="352.6" r="1.15"/><circle cx="601.5" cy="358.6" r="1.15"/><circle cx="620.6" cy="356.9" r="1.15"/><circle cx="619.0" cy="349.6" r="1.15"/><circle cx="623.3" cy="349.9" r="1.15"/><circle cx="661.0" cy="338.6" r="1.15"/><circle cx="603.8" cy="351.5" r="1.15"/><circle cx="624.6" cy="354.2" r="1.15"/><circle cx="659.8" cy="338.2" r="1.15"/><circle cx="654.5" cy="352.5" r="1.15"/><circle cx="641.0" cy="349.9" r="1.15"/><circle cx="650.8" cy="339.9" r="1.15"/><circle cx="648.7" cy="339.3" r="1.15"/><circle cx="643.2" cy="346.0" r="1.15"/><circle cx="625.2" cy="355.9" r="1.15"/><circle cx="616.6" cy="356.9" r="1.15"/><circle cx="630.0" cy="350.2" r="1.15"/><circle cx="601.8" cy="355.6" r="1.15"/><circle cx="608.0" cy="352.9" r="1.15"/><circle cx="616.0" cy="351.7" r="1.15"/><circle cx="627.8" cy="352.7" r="1.15"/><circle cx="625.3" cy="349.7" r="1.15"/><circle cx="653.7" cy="338.7" r="1.15"/><circle cx="629.2" cy="348.2" r="1.15"/><circle cx="629.5" cy="352.0" r="1.15"/><circle cx="619.0" cy="355.8" r="1.15"/><circle cx="649.2" cy="341.0" r="1.15"/><circle cx="659.2" cy="343.7" r="1.15"/><circle cx="656.3" cy="335.7" r="1.15"/><circle cx="619.9" cy="356.4" r="1.15"/><circle cx="624.6" cy="344.0" r="1.15"/><circle cx="657.2" cy="339.9" r="1.15"/><circle cx="618.1" cy="357.4" r="1.15"/><circle cx="604.0" cy="357.5" r="1.15"/><circle cx="602.3" cy="358.1" r="1.15"/><circle cx="644.0" cy="344.6" r="1.15"/><circle cx="622.4" cy="359.0" r="1.15"/><circle cx="604.3" cy="354.3" r="1.15"/><circle cx="612.2" cy="360.1" r="1.15"/><circle cx="626.0" cy="349.2" r="1.15"/><circle cx="647.8" cy="346.3" r="1.15"/><circle cx="628.9" cy="346.3" r="1.15"/><circle cx="606.6" cy="355.1" r="1.15"/><circle cx="638.3" cy="349.2" r="1.15"/><circle cx="637.2" cy="351.0" r="1.15"/><circle cx="606.4" cy="361.0" r="1.15"/><circle cx="606.9" cy="353.7" r="1.15"/><circle cx="654.9" cy="336.8" r="1.15"/><circle cx="638.6" cy="347.1" r="1.15"/><circle cx="650.9" cy="340.7" r="1.15"/><circle cx="605.6" cy="350.3" r="1.15"/><circle cx="655.4" cy="334.0" r="1.15"/><circle cx="654.5" cy="334.6" r="1.15"/><circle cx="648.4" cy="346.1" r="1.15"/><circle cx="608.8" cy="364.1" r="1.15"/><circle cx="627.2" cy="347.8" r="1.15"/><circle cx="647.6" cy="341.4" r="1.15"/><circle cx="643.6" cy="347.3" r="1.15"/><circle cx="604.4" cy="360.6" r="1.15"/><circle cx="617.8" cy="342.6" r="1.15"/><circle cx="657.4" cy="346.4" r="1.15"/><circle cx="617.4" cy="357.2" r="1.15"/><circle cx="659.0" cy="329.7" r="1.15"/><circle cx="602.4" cy="361.6" r="1.15"/><circle cx="605.7" cy="359.1" r="1.15"/><circle cx="632.9" cy="344.5" r="1.15"/><circle cx="602.5" cy="359.5" r="1.15"/><circle cx="603.6" cy="360.8" r="1.15"/><circle cx="660.6" cy="338.4" r="1.15"/><circle cx="642.9" cy="338.0" r="1.15"/><circle cx="621.3" cy="357.8" r="1.15"/><circle cx="607.4" cy="359.3" r="1.15"/><circle cx="633.6" cy="344.9" r="1.15"/><circle cx="605.0" cy="358.0" r="1.15"/><circle cx="605.0" cy="356.0" r="1.15"/><circle cx="632.3" cy="349.1" r="1.15"/><circle cx="609.6" cy="355.2" r="1.15"/><circle cx="634.9" cy="350.5" r="1.15"/><circle cx="624.0" cy="351.8" r="1.15"/><circle cx="634.6" cy="351.0" r="1.15"/><circle cx="655.6" cy="338.0" r="1.15"/><circle cx="619.6" cy="353.8" r="1.15"/><circle cx="615.0" cy="347.7" r="1.15"/><circle cx="634.9" cy="345.8" r="1.15"/><circle cx="611.9" cy="353.2" r="1.15"/><circle cx="627.2" cy="353.5" r="1.15"/><circle cx="624.5" cy="356.2" r="1.15"/><circle cx="640.6" cy="347.0" r="1.15"/><circle cx="643.8" cy="342.4" r="1.15"/><circle cx="623.0" cy="345.9" r="1.15"/><circle cx="640.8" cy="349.1" r="1.15"/><circle cx="638.3" cy="347.3" r="1.15"/><circle cx="623.8" cy="352.4" r="1.15"/><circle cx="646.4" cy="345.7" r="1.15"/><circle cx="607.4" cy="355.8" r="1.15"/><circle cx="622.7" cy="349.9" r="1.15"/><circle cx="602.4" cy="351.0" r="1.15"/><circle cx="614.1" cy="352.4" r="1.15"/><circle cx="634.7" cy="351.2" r="1.15"/><circle cx="629.0" cy="348.6" r="1.15"/><circle cx="644.3" cy="347.6" r="1.15"/><circle cx="640.5" cy="345.5" r="1.15"/><circle cx="607.8" cy="364.9" r="1.15"/><circle cx="603.5" cy="364.9" r="1.15"/><circle cx="656.1" cy="339.9" r="1.15"/><circle cx="644.6" cy="340.8" r="1.15"/><circle cx="639.9" cy="346.4" r="1.15"/><circle cx="612.7" cy="358.9" r="1.15"/><circle cx="652.5" cy="343.2" r="1.15"/><circle cx="613.4" cy="347.5" r="1.15"/><circle cx="636.3" cy="348.0" r="1.15"/><circle cx="645.6" cy="353.1" r="1.15"/><circle cx="660.7" cy="335.7" r="1.15"/><circle cx="647.5" cy="338.5" r="1.15"/><circle cx="606.2" cy="355.8" r="1.15"/><circle cx="622.7" cy="351.1" r="1.15"/><circle cx="607.6" cy="357.1" r="1.15"/><circle cx="656.2" cy="339.5" r="1.15"/><circle cx="657.8" cy="331.6" r="1.15"/><circle cx="603.6" cy="360.4" r="1.15"/><circle cx="608.9" cy="357.3" r="1.15"/><circle cx="600.7" cy="358.4" r="1.15"/><circle cx="650.6" cy="347.7" r="1.15"/><circle cx="617.0" cy="356.2" r="1.15"/><circle cx="608.5" cy="353.7" r="1.15"/><circle cx="659.6" cy="339.3" r="1.15"/><circle cx="623.7" cy="347.1" r="1.15"/><circle cx="638.4" cy="345.1" r="1.15"/><circle cx="629.6" cy="349.6" r="1.15"/><circle cx="654.2" cy="343.2" r="1.15"/><circle cx="612.1" cy="348.0" r="1.15"/><circle cx="635.4" cy="350.4" r="1.15"/><circle cx="657.9" cy="340.8" r="1.15"/><circle cx="607.8" cy="351.7" r="1.15"/><circle cx="636.4" cy="341.3" r="1.15"/><circle cx="632.6" cy="350.2" r="1.15"/><circle cx="642.5" cy="348.1" r="1.15"/><circle cx="651.4" cy="338.1" r="1.15"/><circle cx="654.9" cy="345.9" r="1.15"/><circle cx="653.1" cy="349.3" r="1.15"/><circle cx="652.2" cy="340.3" r="1.15"/><circle cx="608.5" cy="358.5" r="1.15"/><circle cx="622.9" cy="353.9" r="1.15"/><circle cx="600.8" cy="355.3" r="1.15"/><circle cx="618.9" cy="357.7" r="1.15"/><circle cx="647.0" cy="347.8" r="1.15"/><circle cx="656.6" cy="343.1" r="1.15"/><circle cx="608.1" cy="358.1" r="1.15"/><circle cx="655.6" cy="342.8" r="1.15"/><circle cx="658.2" cy="334.4" r="1.15"/><circle cx="632.0" cy="349.9" r="1.15"/><circle cx="622.5" cy="347.2" r="1.15"/><circle cx="660.7" cy="340.4" r="1.15"/><circle cx="653.0" cy="336.9" r="1.15"/><circle cx="639.8" cy="347.7" r="1.15"/><circle cx="608.5" cy="354.5" r="1.15"/><circle cx="607.1" cy="351.3" r="1.15"/><circle cx="609.9" cy="351.7" r="1.15"/><circle cx="631.1" cy="353.5" r="1.15"/><circle cx="647.6" cy="348.7" r="1.15"/><circle cx="605.7" cy="362.6" r="1.15"/><circle cx="608.1" cy="355.3" r="1.15"/><circle cx="621.7" cy="355.5" r="1.15"/><circle cx="656.0" cy="345.7" r="1.15"/><circle cx="611.1" cy="357.4" r="1.15"/><circle cx="652.5" cy="347.3" r="1.15"/><circle cx="645.2" cy="343.9" r="1.15"/><circle cx="637.7" cy="348.3" r="1.15"/><circle cx="628.1" cy="351.7" r="1.15"/><circle cx="644.9" cy="341.7" r="1.15"/><circle cx="659.3" cy="331.7" r="1.15"/><circle cx="617.1" cy="347.1" r="1.15"/><circle cx="600.6" cy="359.1" r="1.15"/><circle cx="660.6" cy="336.7" r="1.15"/><circle cx="628.1" cy="352.8" r="1.15"/><circle cx="644.1" cy="347.3" r="1.15"/><circle cx="623.7" cy="350.1" r="1.15"/><circle cx="651.1" cy="341.3" r="1.15"/><circle cx="623.1" cy="352.7" r="1.15"/><circle cx="640.9" cy="345.3" r="1.15"/><circle cx="628.9" cy="349.5" r="1.15"/><circle cx="632.7" cy="349.5" r="1.15"/><circle cx="651.2" cy="346.2" r="1.15"/><circle cx="601.3" cy="360.8" r="1.15"/><circle cx="660.6" cy="343.6" r="1.15"/><circle cx="629.5" cy="348.9" r="1.15"/><circle cx="604.8" cy="361.6" r="1.15"/><circle cx="648.6" cy="348.6" r="1.15"/><circle cx="660.3" cy="340.5" r="1.15"/><circle cx="615.9" cy="350.4" r="1.15"/><circle cx="633.3" cy="346.4" r="1.15"/><circle cx="654.0" cy="345.4" r="1.15"/><circle cx="627.9" cy="355.8" r="1.15"/><circle cx="603.3" cy="356.8" r="1.15"/><circle cx="645.7" cy="342.5" r="1.15"/><circle cx="600.7" cy="353.6" r="1.15"/><circle cx="653.7" cy="336.0" r="1.15"/><circle cx="610.8" cy="355.4" r="1.15"/><circle cx="602.6" cy="360.4" r="1.15"/><circle cx="618.9" cy="353.1" r="1.15"/><circle cx="609.8" cy="361.6" r="1.15"/><circle cx="643.0" cy="348.5" r="1.15"/><circle cx="653.9" cy="342.5" r="1.15"/><circle cx="636.5" cy="353.7" r="1.15"/><circle cx="606.0" cy="359.4" r="1.15"/><circle cx="611.7" cy="352.3" r="1.15"/><circle cx="611.6" cy="357.5" r="1.15"/><circle cx="623.8" cy="350.1" r="1.15"/><circle cx="633.6" cy="345.6" r="1.15"/><circle cx="605.8" cy="361.3" r="1.15"/><circle cx="626.5" cy="346.4" r="1.15"/><circle cx="637.3" cy="345.5" r="1.15"/><circle cx="616.8" cy="346.5" r="1.15"/><circle cx="629.7" cy="342.7" r="1.15"/><circle cx="639.5" cy="348.8" r="1.15"/><circle cx="616.6" cy="350.9" r="1.15"/><circle cx="659.2" cy="336.8" r="1.15"/><circle cx="622.9" cy="355.6" r="1.15"/><circle cx="660.6" cy="328.8" r="1.15"/><circle cx="610.3" cy="353.0" r="1.15"/><circle cx="617.3" cy="351.2" r="1.15"/><circle cx="640.6" cy="344.6" r="1.15"/><circle cx="631.2" cy="350.9" r="1.15"/><circle cx="627.0" cy="351.3" r="1.15"/><circle cx="632.8" cy="350.3" r="1.15"/><circle cx="600.6" cy="361.1" r="1.15"/><circle cx="616.6" cy="352.1" r="1.15"/><circle cx="636.4" cy="351.4" r="1.15"/><circle cx="652.1" cy="340.7" r="1.15"/><circle cx="617.6" cy="346.8" r="1.15"/><circle cx="630.5" cy="348.6" r="1.15"/><circle cx="615.0" cy="345.6" r="1.15"/><circle cx="601.4" cy="362.6" r="1.15"/><circle cx="653.3" cy="343.0" r="1.15"/><circle cx="609.8" cy="356.8" r="1.15"/><circle cx="652.8" cy="335.9" r="1.15"/><circle cx="655.0" cy="346.3" r="1.15"/><circle cx="608.7" cy="360.3" r="1.15"/><circle cx="607.7" cy="352.5" r="1.15"/><circle cx="604.7" cy="359.8" r="1.15"/><circle cx="617.2" cy="354.3" r="1.15"/><circle cx="606.5" cy="358.5" r="1.15"/><circle cx="601.9" cy="358.6" r="1.15"/><circle cx="625.9" cy="353.8" r="1.15"/><circle cx="642.5" cy="343.5" r="1.15"/><circle cx="620.0" cy="349.5" r="1.15"/><circle cx="637.7" cy="348.6" r="1.15"/><circle cx="607.3" cy="358.6" r="1.15"/><circle cx="641.0" cy="348.6" r="1.15"/><circle cx="621.8" cy="354.1" r="1.15"/><circle cx="634.6" cy="345.8" r="1.15"/><circle cx="636.6" cy="344.4" r="1.15"/><circle cx="612.2" cy="360.4" r="1.15"/><circle cx="625.1" cy="348.0" r="1.15"/><circle cx="624.5" cy="349.4" r="1.15"/><circle cx="639.5" cy="346.6" r="1.15"/><circle cx="655.1" cy="337.2" r="1.15"/><circle cx="615.8" cy="357.3" r="1.15"/><circle cx="655.5" cy="337.4" r="1.15"/><circle cx="643.6" cy="348.7" r="1.15"/><circle cx="623.0" cy="355.0" r="1.15"/><circle cx="636.1" cy="346.2" r="1.15"/><circle cx="618.9" cy="349.0" r="1.15"/><circle cx="606.8" cy="354.1" r="1.15"/><circle cx="654.3" cy="343.8" r="1.15"/><circle cx="641.5" cy="350.8" r="1.15"/><circle cx="628.9" cy="348.2" r="1.15"/><circle cx="661.0" cy="341.3" r="1.15"/><circle cx="601.2" cy="362.2" r="1.15"/><circle cx="629.6" cy="346.7" r="1.15"/><circle cx="639.1" cy="343.3" r="1.15"/><circle cx="659.6" cy="331.9" r="1.15"/><circle cx="631.7" cy="347.4" r="1.15"/><circle cx="655.6" cy="343.4" r="1.15"/><circle cx="629.5" cy="354.1" r="1.15"/><circle cx="607.5" cy="358.5" r="1.15"/><circle cx="621.5" cy="348.8" r="1.15"/><circle cx="633.0" cy="345.1" r="1.15"/><circle cx="650.7" cy="334.2" r="1.15"/><circle cx="649.6" cy="336.5" r="1.15"/><circle cx="616.5" cy="354.3" r="1.15"/><circle cx="657.7" cy="335.1" r="1.15"/><circle cx="638.0" cy="345.9" r="1.15"/><circle cx="651.8" cy="343.5" r="1.15"/><circle cx="621.8" cy="359.1" r="1.15"/><circle cx="600.9" cy="358.9" r="1.15"/><circle cx="603.2" cy="363.2" r="1.15"/><circle cx="634.5" cy="349.6" r="1.15"/><circle cx="629.8" cy="353.4" r="1.15"/><circle cx="612.9" cy="352.8" r="1.15"/><circle cx="660.8" cy="338.3" r="1.15"/><circle cx="614.0" cy="355.1" r="1.15"/><circle cx="659.6" cy="334.6" r="1.15"/><circle cx="622.9" cy="353.5" r="1.15"/><circle cx="622.9" cy="351.8" r="1.15"/><circle cx="617.4" cy="347.6" r="1.15"/><circle cx="612.0" cy="357.0" r="1.15"/><circle cx="630.9" cy="345.4" r="1.15"/><circle cx="612.6" cy="359.6" r="1.15"/><circle cx="656.1" cy="339.2" r="1.15"/><circle cx="641.3" cy="346.4" r="1.15"/><circle cx="655.8" cy="339.3" r="1.15"/><circle cx="652.2" cy="343.6" r="1.15"/><circle cx="641.3" cy="347.6" r="1.15"/><circle cx="640.9" cy="350.8" r="1.15"/><circle cx="606.5" cy="368.0" r="1.15"/><circle cx="634.9" cy="345.4" r="1.15"/><circle cx="641.0" cy="347.4" r="1.15"/><circle cx="627.2" cy="351.1" r="1.15"/><circle cx="601.1" cy="351.4" r="1.15"/><circle cx="620.2" cy="349.2" r="1.15"/><circle cx="636.8" cy="347.3" r="1.15"/><circle cx="602.3" cy="361.6" r="1.15"/><circle cx="613.5" cy="357.4" r="1.15"/><circle cx="613.1" cy="350.0" r="1.15"/><circle cx="640.1" cy="349.7" r="1.15"/><circle cx="636.7" cy="344.3" r="1.15"/><circle cx="653.1" cy="341.6" r="1.15"/><circle cx="652.7" cy="349.8" r="1.15"/><circle cx="641.1" cy="342.0" r="1.15"/><circle cx="612.6" cy="353.8" r="1.15"/><circle cx="618.7" cy="349.8" r="1.15"/><circle cx="624.7" cy="355.3" r="1.15"/><circle cx="612.4" cy="355.7" r="1.15"/><circle cx="614.6" cy="348.0" r="1.15"/><circle cx="640.0" cy="349.7" r="1.15"/><circle cx="619.6" cy="351.9" r="1.15"/><circle cx="622.2" cy="347.8" r="1.15"/><circle cx="625.2" cy="350.5" r="1.15"/><circle cx="659.1" cy="340.6" r="1.15"/><circle cx="636.6" cy="345.4" r="1.15"/><circle cx="630.8" cy="345.6" r="1.15"/><circle cx="638.6" cy="348.9" r="1.15"/><circle cx="632.8" cy="349.1" r="1.15"/><circle cx="628.6" cy="352.5" r="1.15"/><circle cx="619.0" cy="353.0" r="1.15"/><circle cx="659.0" cy="338.9" r="1.15"/><circle cx="624.0" cy="350.3" r="1.15"/><circle cx="621.7" cy="354.2" r="1.15"/><circle cx="660.4" cy="340.2" r="1.15"/><circle cx="656.0" cy="339.0" r="1.15"/><circle cx="608.4" cy="362.9" r="1.15"/><circle cx="638.7" cy="351.9" r="1.15"/><circle cx="636.7" cy="350.7" r="1.15"/><circle cx="660.6" cy="329.2" r="1.15"/><circle cx="615.2" cy="349.8" r="1.15"/><circle cx="638.3" cy="348.0" r="1.15"/><circle cx="660.0" cy="339.3" r="1.15"/><circle cx="602.1" cy="355.8" r="1.15"/><circle cx="612.7" cy="357.5" r="1.15"/><circle cx="652.0" cy="332.0" r="1.15"/><circle cx="655.0" cy="331.5" r="1.15"/><circle cx="658.0" cy="333.0" r="1.15"/><circle cx="650.0" cy="334.0" r="1.15"/></g>
<path d="M600,361 L660.7,338.8" stroke="#f010f0" stroke-width="2.3"/>
<path d="M669.7,350.6 L669.7,376 L642.4,376" stroke="#444" stroke-width="0.9" fill="none"/>
<text x="0" y="0" font-size="12" text-anchor="middle" fill="#111" transform="translate(674.6,364.2) rotate(90)">pRF</text>
<text x="642.6" y="392.6" font-size="12.2" text-anchor="start" fill="#111" >r-Ecc</text>
<text x="633" y="437.6" font-size="12.2" text-anchor="end" font-style="italic" fill="#111" >Cells+Neuropil</text>
<text x="0.1" y="523.8" font-size="18" text-anchor="start" font-weight="bold" fill="#000" >d</text>
<g stroke="#a4a4a4" stroke-width="1.5" fill="none"><path d="M65.1,529.56 L65.1,705.4000000000001"/><path d="M104,710.6 L267.2,710.6"/></g><g stroke="#555" stroke-width="0.8"><path d="M65.8,530.3 L68,530.3"/><path d="M65.8,555.2 L68,555.2"/><path d="M65.8,580.1 L68,580.1"/><path d="M65.8,605.0 L68,605.0"/><path d="M65.8,629.9 L68,629.9"/><path d="M65.8,654.9 L68,654.9"/><path d="M65.8,679.8 L68,679.8"/><path d="M65.8,704.7 L68,704.7"/><path d="M104.6,709.8 L104.6,707.6"/><path d="M158.8,709.8 L158.8,707.6"/><path d="M212.7,709.8 L212.7,707.6"/><path d="M266.4,709.8 L266.4,707.6"/></g>
<text x="60.8" y="534.56" font-size="12" text-anchor="end" fill="#111" >60</text>
<text x="60.8" y="584.4" font-size="12" text-anchor="end" fill="#111" >50</text>
<text x="60.8" y="634.24" font-size="12" text-anchor="end" fill="#111" >40</text>
<text x="60.8" y="684.08" font-size="12" text-anchor="end" fill="#111" >30</text>
<text x="0" y="0" font-size="13.3" text-anchor="middle" fill="#111" transform="translate(29,605.3) rotate(-90)">pRF Size (intercept)</text>
<text x="78.4" y="725.2" font-size="12.4" text-anchor="middle" fill="#111" >Raw</text>
<text x="103.7" y="725.2" font-size="12.4" text-anchor="middle" fill="#111" >50</text>
<text x="159.6" y="725.2" font-size="12.4" text-anchor="middle" fill="#111" >100</text>
<text x="213.8" y="725.2" font-size="12.4" text-anchor="middle" fill="#111" >200</text>
<text x="267" y="725.2" font-size="12.4" text-anchor="middle" fill="#111" >400</text>
<text x="189.7" y="746.2" font-size="13.8" text-anchor="middle" fill="#111" >Window radius (μm)</text>
<path d="M104.6,634.9 L158.8,611.0 L212.7,581.1 L266.4,550.2" stroke="#3a4aa2" stroke-width="2.5" fill="none"/>
<path d="M104.6,667.3 L158.8,651.9 L212.7,626.9 L266.4,566.6" stroke="#d2d62a" stroke-width="2.5" fill="none"/>
<path d="M104.6,684.8 L158.8,674.3 L212.7,650.9 L266.4,553.2" stroke="#d84545" stroke-width="2.5" fill="none"/>
<path d="M104.6,633.2 L104.6,636.7 M102.39999999999999,633.2 L106.8,633.2 M102.39999999999999,636.7 L106.8,636.7" stroke="#1c30f0" stroke-width="0.9" stroke-opacity="0.7"/>
<circle cx="104.6" cy="634.9" r="2.2" fill="#1c30f0"/>
<path d="M158.8,609.3 L158.8,612.7 M156.60000000000002,609.3 L161.0,609.3 M156.60000000000002,612.7 L161.0,612.7" stroke="#1c30f0" stroke-width="0.9" stroke-opacity="0.7"/>
<circle cx="158.8" cy="611.0" r="2.2" fill="#1c30f0"/>
<path d="M212.7,579.1 L212.7,583.1 M210.5,579.1 L214.89999999999998,579.1 M210.5,583.1 L214.89999999999998,583.1" stroke="#1c30f0" stroke-width="0.9" stroke-opacity="0.7"/>
<circle cx="212.7" cy="581.1" r="2.2" fill="#1c30f0"/>
<path d="M266.4,547.7 L266.4,552.7 M264.2,547.7 L268.59999999999997,547.7 M264.2,552.7 L268.59999999999997,552.7" stroke="#1c30f0" stroke-width="0.9" stroke-opacity="0.7"/>
<circle cx="266.4" cy="550.2" r="2.2" fill="#1c30f0"/>
<circle cx="77" cy="658.8" r="2" fill="#1c30f0"/>
<path d="M104.6,666.3 L104.6,668.3 M102.39999999999999,666.3 L106.8,666.3 M102.39999999999999,668.3 L106.8,668.3" stroke="#d6d634" stroke-width="0.9" stroke-opacity="0.7"/>
<circle cx="104.6" cy="667.3" r="2.2" fill="#d6d634"/>
<path d="M158.8,650.9 L158.8,652.9 M156.60000000000002,650.9 L161.0,650.9 M156.60000000000002,652.9 L161.0,652.9" stroke="#d6d634" stroke-width="0.9" stroke-opacity="0.7"/>
<circle cx="158.8" cy="651.9" r="2.2" fill="#d6d634"/>
<path d="M212.7,626.0 L212.7,627.9 M210.5,626.0 L214.89999999999998,626.0 M210.5,627.9 L214.89999999999998,627.9" stroke="#d6d634" stroke-width="0.9" stroke-opacity="0.7"/>
<circle cx="212.7" cy="626.9" r="2.2" fill="#d6d634"/>
<path d="M266.4,565.1 L266.4,568.1 M264.2,565.1 L268.59999999999997,565.1 M264.2,568.1 L268.59999999999997,568.1" stroke="#d6d634" stroke-width="0.9" stroke-opacity="0.7"/>
<circle cx="266.4" cy="566.6" r="2.2" fill="#d6d634"/>
<circle cx="77" cy="682.8" r="2" fill="#d6d634"/>
<path d="M104.6,681.8 L104.6,687.8 M102.39999999999999,681.8 L106.8,681.8 M102.39999999999999,687.8 L106.8,687.8" stroke="#e8262a" stroke-width="0.9" stroke-opacity="0.7"/>
<circle cx="104.6" cy="684.8" r="2.2" fill="#e8262a"/>
<path d="M158.8,670.3 L158.8,678.3 M156.60000000000002,670.3 L161.0,670.3 M156.60000000000002,678.3 L161.0,678.3" stroke="#e8262a" stroke-width="0.9" stroke-opacity="0.7"/>
<circle cx="158.8" cy="674.3" r="2.2" fill="#e8262a"/>
<path d="M212.7,645.9 L212.7,655.9 M210.5,645.9 L214.89999999999998,645.9 M210.5,655.9 L214.89999999999998,655.9" stroke="#e8262a" stroke-width="0.9" stroke-opacity="0.7"/>
<circle cx="212.7" cy="650.9" r="2.2" fill="#e8262a"/>
<path d="M266.4,549.2 L266.4,557.2 M264.2,549.2 L268.59999999999997,549.2 M264.2,557.2 L268.59999999999997,557.2" stroke="#e8262a" stroke-width="0.9" stroke-opacity="0.7"/>
<circle cx="266.4" cy="553.2" r="2.2" fill="#e8262a"/>
<circle cx="77" cy="702.2" r="2" fill="#e8262a"/>
<text x="346.9" y="523.4" font-size="18" text-anchor="start" font-weight="bold" fill="#000" >e</text>
<g stroke="#707070" stroke-width="1.1" fill="none"><path d="M374.7,545 L374.7,698"/><path d="M374.7,690.4 L503.4,690.4"/><path d="M374.7,690.4 L377.5,690.4"/><path d="M374.7,674.3 L377.5,674.3"/><path d="M374.7,658.1 L377.5,658.1"/><path d="M374.7,642.0 L377.5,642.0"/><path d="M374.7,625.8 L377.5,625.8"/><path d="M374.7,609.7 L377.5,609.7"/><path d="M374.7,593.6 L377.5,593.6"/><path d="M374.7,577.4 L377.5,577.4"/><path d="M374.7,561.3 L377.5,561.3"/></g>
<text x="371.2" y="564.78" font-size="12" text-anchor="end" fill="#111" >0.8</text>
<text x="371.2" y="597.06" font-size="12" text-anchor="end" fill="#111" >0.6</text>
<text x="371.2" y="629.3399999999999" font-size="12" text-anchor="end" fill="#111" >0.4</text>
<text x="371.2" y="661.62" font-size="12" text-anchor="end" fill="#111" >0.2</text>
<text x="371.2" y="693.9" font-size="12" text-anchor="end" fill="#111" >0</text>
<text x="0" y="0" font-size="13.2" text-anchor="middle" textLength="29.7" lengthAdjust="spacingAndGlyphs" fill="#111" transform="translate(346.8,620.7) rotate(-90)">Slope</text>
<path d="M396.6,688.0 L396.6,692.8 M394.40000000000003,688.0 L398.8,688.0 M394.40000000000003,692.8 L398.8,692.8" stroke="#333" stroke-width="0.9"/>
<rect x="411.5" y="683.0" width="12.2" height="7.4" fill="#828282"/>
<path d="M417.6,681.5 L417.6,684.4 M415.40000000000003,681.5 L419.8,681.5 M415.40000000000003,684.4 L419.8,684.4" stroke="#333" stroke-width="0.9"/>
<rect x="432.7" y="655.4" width="12.2" height="35.0" fill="#828282"/>
<path d="M438.8,654.6 L438.8,656.2 M436.6,654.6 L441.0,654.6 M436.6,656.2 L441.0,656.2" stroke="#333" stroke-width="0.9"/>
<rect x="453.9" y="615.0" width="12.2" height="75.4" fill="#828282"/>
<path d="M460,607.8 L460,622.3 M457.8,607.8 L462.2,607.8 M457.8,622.3 L462.2,622.3" stroke="#333" stroke-width="0.9"/>
<rect x="475.09999999999997" y="564.5" width="12.2" height="125.9" fill="#828282"/>
<path d="M481.2,558.9 L481.2,570.2 M479.0,558.9 L483.4,558.9 M479.0,570.2 L483.4,570.2" stroke="#333" stroke-width="0.9"/>
<g stroke="#707070" stroke-width="1.1" fill="none"><path d="M555.5,537.9 L555.5,690.8"/><path d="M555.5,690.8 L685,690.8"/><path d="M552,690.8 L555.5,690.8"/><path d="M552,665.3 L555.5,665.3"/><path d="M552,639.8 L555.5,639.8"/><path d="M552,614.4 L555.5,614.4"/><path d="M552,588.9 L555.5,588.9"/><path d="M552,563.4 L555.5,563.4"/><path d="M552,537.9 L555.5,537.9"/></g>
<text x="551.4" y="542.2199999999999" font-size="12.2" text-anchor="end" fill="#111" >60</text>
<text x="551.4" y="567.6999999999999" font-size="12.2" text-anchor="end" fill="#111" >50</text>
<text x="551.4" y="593.18" font-size="12.2" text-anchor="end" fill="#111" >40</text>
<text x="551.4" y="618.6599999999999" font-size="12.2" text-anchor="end" fill="#111" >30</text>
<text x="551.4" y="644.1399999999999" font-size="12.2" text-anchor="end" fill="#111" >20</text>
<text x="551.4" y="669.6199999999999" font-size="12.2" text-anchor="end" fill="#111" >10</text>
<text x="551.4" y="695.0999999999999" font-size="12.2" text-anchor="end" fill="#111" >0</text>
<text x="0" y="0" font-size="12.8" text-anchor="middle" textLength="97" lengthAdjust="spacingAndGlyphs" fill="#111" transform="translate(530.3,610.4) rotate(-90)">pRF size (degrees)</text>
<rect x="571.2" y="640.9" width="12.8" height="49.9" fill="#828282"/>
<path d="M577.6,637.5 L577.6,644.2 M575.4,637.5 L579.8000000000001,637.5 M575.4,644.2 L579.8000000000001,644.2" stroke="#333" stroke-width="0.9"/>
<rect x="592.4" y="628.9" width="12.8" height="61.9" fill="#828282"/>
<path d="M598.8,628.1 L598.8,629.6 M596.5999999999999,628.1 L601.0,628.1 M596.5999999999999,629.6 L601.0,629.6" stroke="#333" stroke-width="0.9"/>
<rect x="613.7" y="563.1" width="12.8" height="127.7" fill="#828282"/>
<path d="M620.1,559.6 L620.1,566.7 M617.9,559.6 L622.3000000000001,559.6 M617.9,566.7 L622.3000000000001,566.7" stroke="#333" stroke-width="0.9"/>
<rect x="635.1" y="551.7" width="12.8" height="139.1" fill="#828282"/>
<path d="M641.5,549.1 L641.5,554.2 M639.3,549.1 L643.7,549.1 M639.3,554.2 L643.7,554.2" stroke="#333" stroke-width="0.9"/>
<rect x="656.1" y="588.1" width="12.8" height="102.7" fill="#828282"/>
<path d="M662.5,583.0 L662.5,593.2 M660.3,583.0 L664.7,583.0 M660.3,593.2 L664.7,593.2" stroke="#333" stroke-width="0.9"/>
<text x="0" y="0" font-size="13.6" text-anchor="end" textLength="50.0" lengthAdjust="spacingAndGlyphs" fill="#111" transform="translate(404.6,705.5) rotate(-47)">Cells (2p)</text>
<text x="0" y="0" font-size="13.6" text-anchor="end" textLength="50.0" lengthAdjust="spacingAndGlyphs" fill="#111" transform="translate(585.6,706) rotate(-47)">Cells (2p)</text>
<text x="0" y="0" font-size="13.6" text-anchor="end" textLength="68.2" lengthAdjust="spacingAndGlyphs" fill="#111" transform="translate(425.6,705.5) rotate(-47)">MUA (ephys)</text>
<text x="0" y="0" font-size="13.6" text-anchor="end" textLength="68.2" lengthAdjust="spacingAndGlyphs" fill="#111" transform="translate(606.8,706) rotate(-47)">MUA (ephys)</text>
<text x="0" y="0" font-size="13.6" text-anchor="end" textLength="71.5" lengthAdjust="spacingAndGlyphs" fill="#111" transform="translate(446.8,705.5) rotate(-47)">Scatter (cells)</text>
<text x="0" y="0" font-size="13.6" text-anchor="end" textLength="71.5" lengthAdjust="spacingAndGlyphs" fill="#111" transform="translate(628.1,706) rotate(-47)">Scatter (cells)</text>
<text x="0" y="0" font-size="13.6" text-anchor="end" textLength="66.9" lengthAdjust="spacingAndGlyphs" fill="#111" transform="translate(468,705.5) rotate(-47)">Scatter (raw)</text>
<text x="0" y="0" font-size="13.6" text-anchor="end" textLength="66.9" lengthAdjust="spacingAndGlyphs" fill="#111" transform="translate(649.5,706) rotate(-47)">Scatter (raw)</text>
<text x="0" y="0" font-size="13.6" text-anchor="end" textLength="52.0" lengthAdjust="spacingAndGlyphs" fill="#111" transform="translate(489.2,705.5) rotate(-47)">Wide-field</text>
<text x="0" y="0" font-size="13.6" text-anchor="end" textLength="52.0" lengthAdjust="spacingAndGlyphs" fill="#111" transform="translate(670.5,706) rotate(-47)">Wide-field</text></svg></body></html>
